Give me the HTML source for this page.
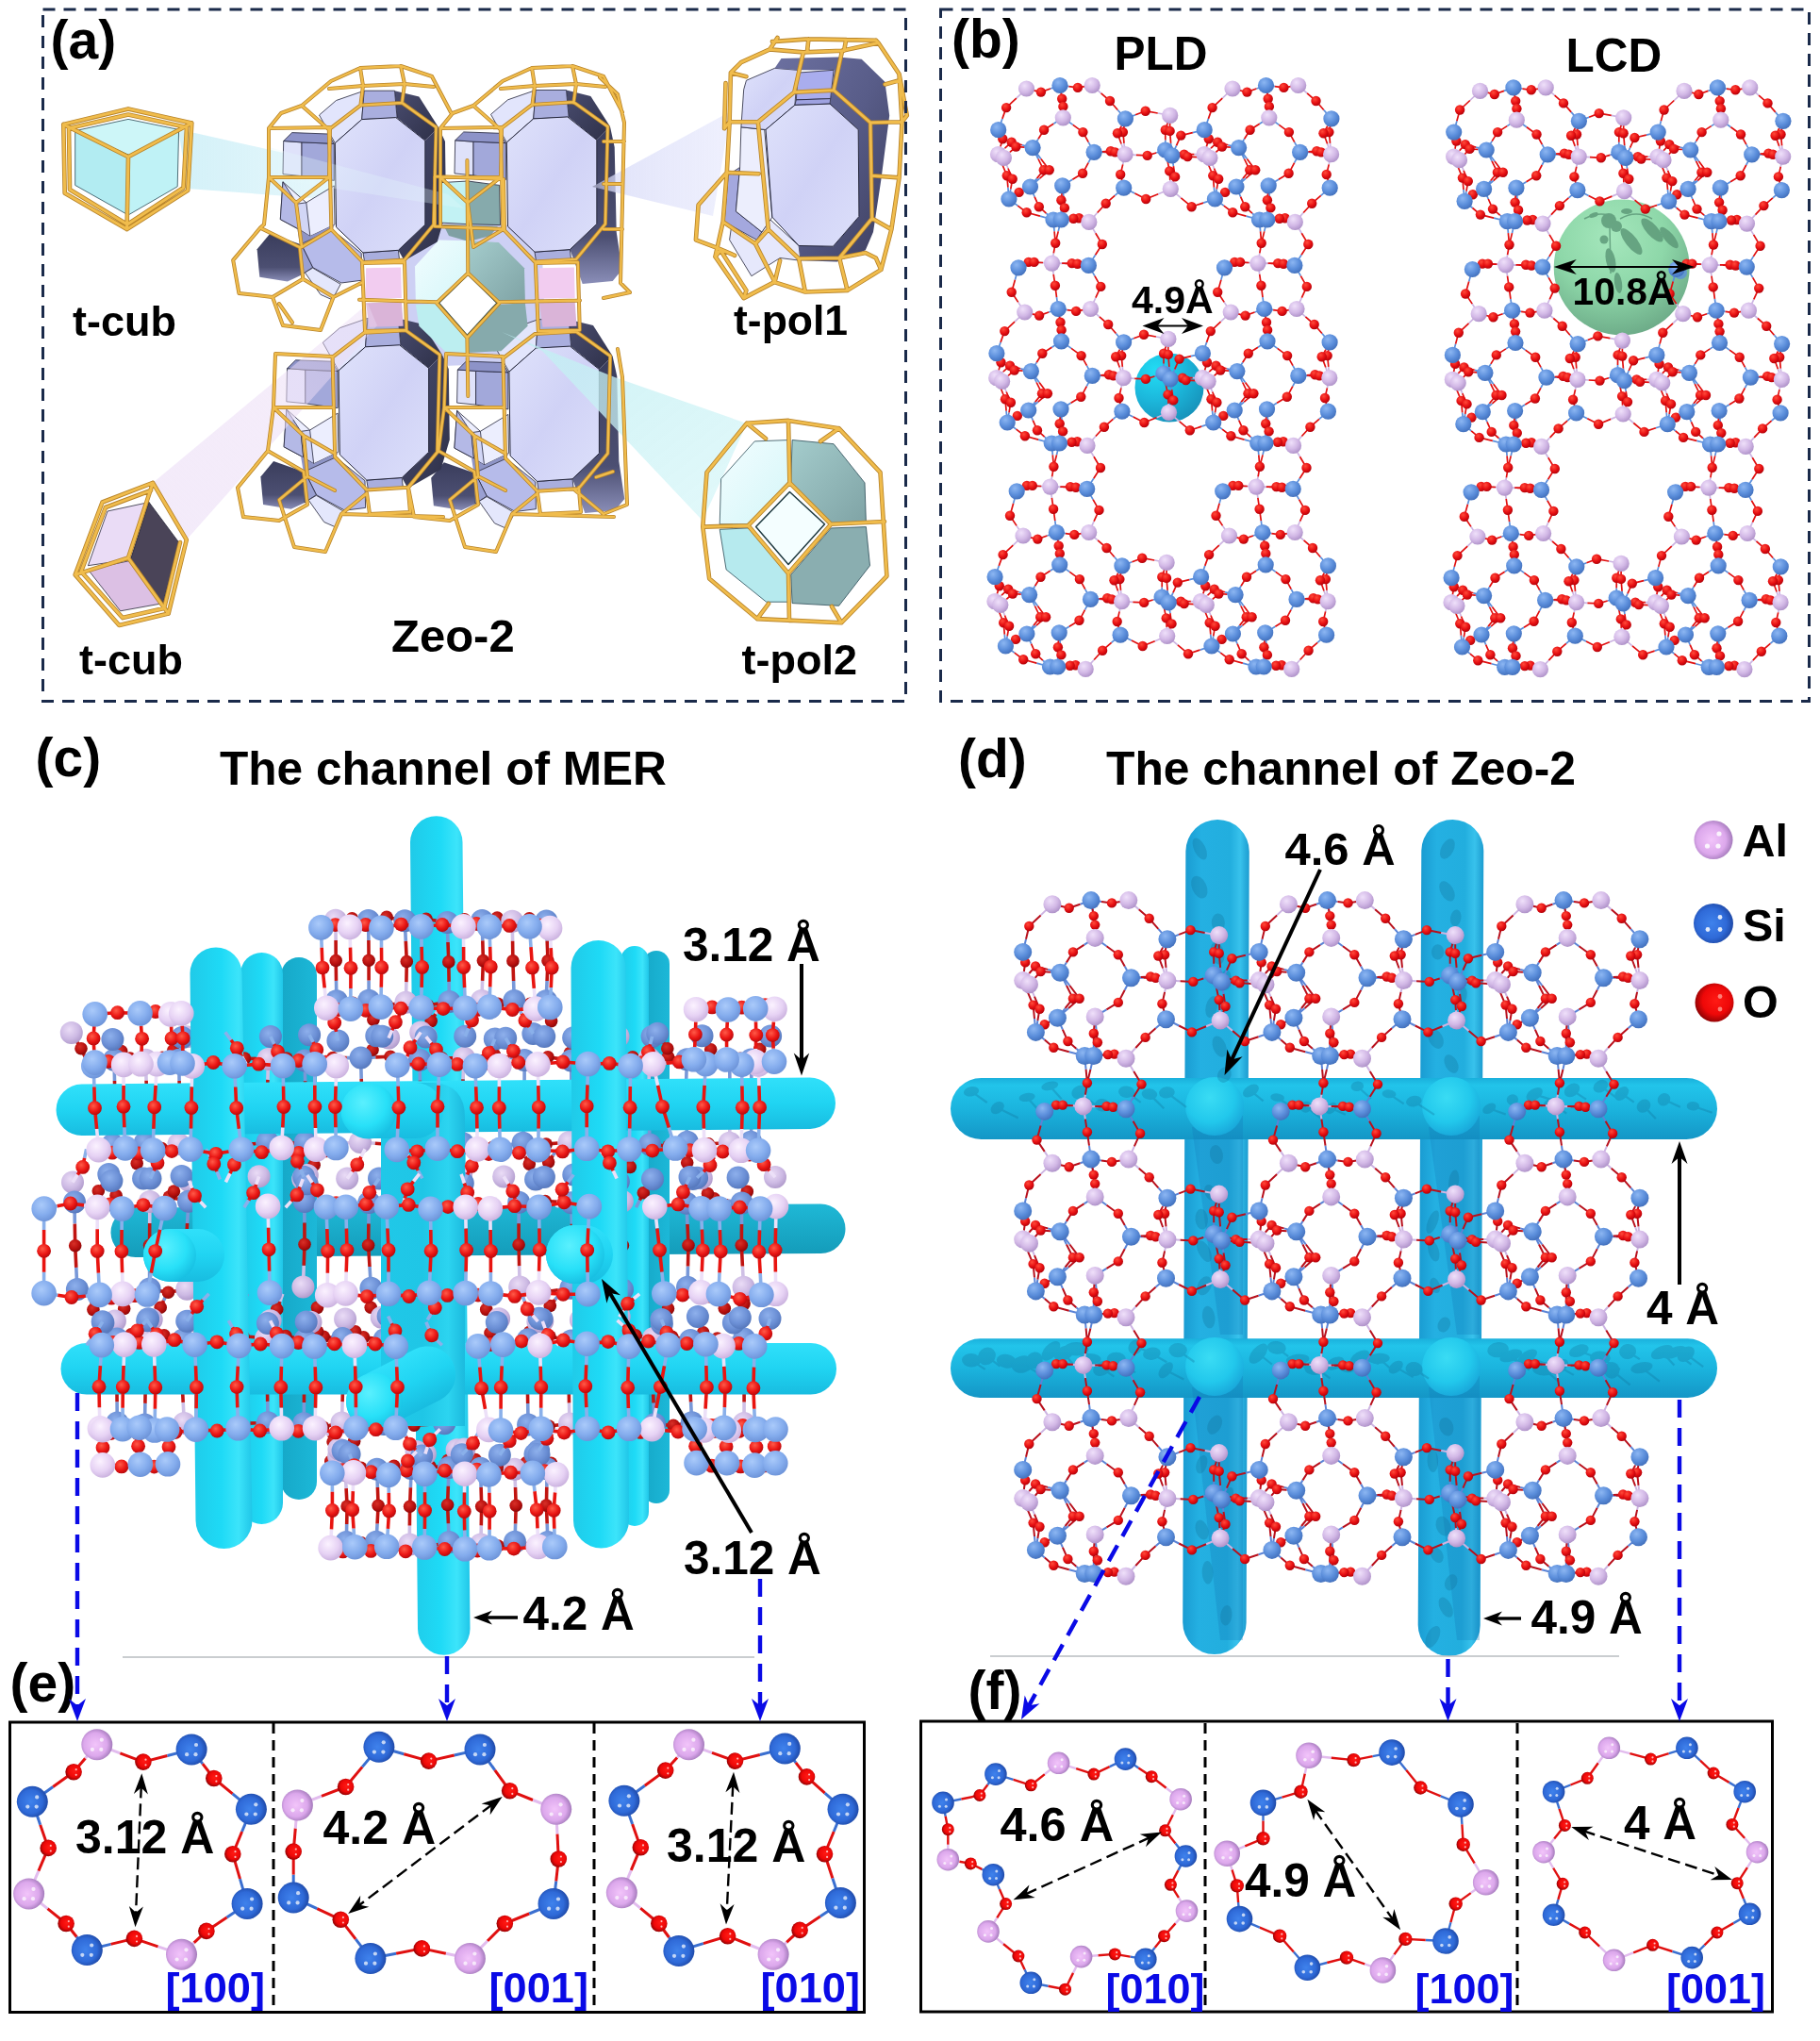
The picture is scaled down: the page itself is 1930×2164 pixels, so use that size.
<!DOCTYPE html>
<html><head><meta charset="utf-8"><title>Zeolite channels</title>
<style>html,body{margin:0;padding:0;background:#fff}svg{display:block}</style></head>
<body><svg width="1930" height="2164" viewBox="0 0 1930 2164" font-family="'Liberation Sans', sans-serif" font-weight="bold">
<defs>
<radialGradient id="gB" cx=".38" cy=".32" r=".75"><stop offset="0" stop-color="#8cb6f2"/><stop offset=".55" stop-color="#5b8edb"/><stop offset="1" stop-color="#3f6cb8"/></radialGradient>
<radialGradient id="gP" cx=".38" cy=".32" r=".75"><stop offset="0" stop-color="#efe0fa"/><stop offset=".55" stop-color="#d2b8e6"/><stop offset="1" stop-color="#a98cc4"/></radialGradient>
<radialGradient id="gO" cx=".38" cy=".32" r=".75"><stop offset="0" stop-color="#ff4a3a"/><stop offset=".55" stop-color="#e60f12"/><stop offset="1" stop-color="#a80008"/></radialGradient>
<radialGradient id="gB2" cx=".45" cy=".5" r=".62"><stop offset="0" stop-color="#3f82ec"/><stop offset=".6" stop-color="#2f6ad8"/><stop offset="1" stop-color="#183c94"/></radialGradient>
<radialGradient id="gP2" cx=".45" cy=".5" r=".62"><stop offset="0" stop-color="#f2c4fa"/><stop offset=".6" stop-color="#dca8ec"/><stop offset="1" stop-color="#8e68a8"/></radialGradient>
<radialGradient id="gO2" cx=".55" cy=".45" r=".65"><stop offset="0" stop-color="#ff1a14"/><stop offset=".55" stop-color="#ee0808"/><stop offset="1" stop-color="#6a0002"/></radialGradient>
<radialGradient id="gC" cx=".4" cy=".35" r=".75"><stop offset="0" stop-color="#aacafa"/><stop offset=".55" stop-color="#84aced"/><stop offset="1" stop-color="#668cd2"/></radialGradient>
<radialGradient id="gQ" cx=".4" cy=".35" r=".75"><stop offset="0" stop-color="#fbf2ff"/><stop offset=".55" stop-color="#e6d2f4"/><stop offset="1" stop-color="#c2a8d8"/></radialGradient>
<radialGradient id="gR" cx=".4" cy=".35" r=".75"><stop offset="0" stop-color="#ff5a48"/><stop offset=".55" stop-color="#ea1614"/><stop offset="1" stop-color="#a4060a"/></radialGradient>
<radialGradient id="gCb" cx=".4" cy=".35" r=".75"><stop offset="0" stop-color="#8eb0ec"/><stop offset=".55" stop-color="#6c90d6"/><stop offset="1" stop-color="#4f70b4"/></radialGradient>
<radialGradient id="gQb" cx=".4" cy=".35" r=".75"><stop offset="0" stop-color="#eadcf6"/><stop offset=".55" stop-color="#cdbae4"/><stop offset="1" stop-color="#a892c4"/></radialGradient>
<radialGradient id="gRb" cx=".4" cy=".35" r=".75"><stop offset="0" stop-color="#d83028"/><stop offset=".55" stop-color="#b8100e"/><stop offset="1" stop-color="#7a0406"/></radialGradient>
<linearGradient id="tH" x1="0" y1="0" x2="0" y2="1"><stop offset="0" stop-color="#1ab0dc"/><stop offset=".12" stop-color="#22c4ea"/><stop offset=".5" stop-color="#1bb4de"/><stop offset="1" stop-color="#1496c6"/></linearGradient>
<linearGradient id="tV" x1="0" y1="0" x2="1" y2="0"><stop offset="0" stop-color="#1a9cd2"/><stop offset=".25" stop-color="#24b0e2"/><stop offset=".7" stop-color="#22aede"/><stop offset=".86" stop-color="#38c2ec"/><stop offset="1" stop-color="#1c9cd0"/></linearGradient>
<linearGradient id="cH" x1="0" y1="0" x2="0" y2="1"><stop offset="0" stop-color="#30e0fa"/><stop offset=".5" stop-color="#20d4f2"/><stop offset="1" stop-color="#18bce0"/></linearGradient>
<linearGradient id="cHb" x1="0" y1="0" x2="0" y2="1"><stop offset="0" stop-color="#1fb8d6"/><stop offset="1" stop-color="#149cba"/></linearGradient>
<linearGradient id="cV" x1="0" y1="0" x2="1" y2="0"><stop offset="0" stop-color="#20cae8"/><stop offset=".5" stop-color="#1edaf6"/><stop offset=".78" stop-color="#3ce4fa"/><stop offset="1" stop-color="#20c6e8"/></linearGradient>
<linearGradient id="cVf" x1="0" y1="0" x2="1" y2="0"><stop offset="0" stop-color="#20c8e8"/><stop offset=".5" stop-color="#1fc6e6"/><stop offset=".8" stop-color="#2cd4f0"/><stop offset="1" stop-color="#1cbade"/></linearGradient>
<linearGradient id="cVb" x1="0" y1="0" x2="1" y2="0"><stop offset="0" stop-color="#16a8c8"/><stop offset="1" stop-color="#1cb8d8"/></linearGradient>
<radialGradient id="gCy" cx=".4" cy=".35" r=".7"><stop offset="0" stop-color="#5af0fe"/><stop offset=".6" stop-color="#28e0f8"/><stop offset="1" stop-color="#16bce0"/></radialGradient>
<radialGradient id="gCd" cx=".42" cy=".35" r=".7"><stop offset="0" stop-color="#3adcf4"/><stop offset=".6" stop-color="#22c8ec"/><stop offset="1" stop-color="#18a4d8"/></radialGradient>
<radialGradient id="gGr" cx=".42" cy=".28" r=".8"><stop offset="0" stop-color="#a2e6ba"/><stop offset=".5" stop-color="#8ad6a6"/><stop offset="1" stop-color="#62a07e"/></radialGradient>
<radialGradient id="gPl" cx=".3" cy=".25" r=".85"><stop offset="0" stop-color="#22dcf4"/><stop offset=".5" stop-color="#1cb8dc"/><stop offset="1" stop-color="#1690b8"/></radialGradient>
<marker id="ah" viewBox="0 0 10 10" refX="9" refY="5" markerWidth="7" markerHeight="7" orient="auto-start-reverse"><path d="M0,0 L10,5 L0,10 L3,5 z" fill="#000"/></marker>
</defs>

<circle cx="1240" cy="411" r="36.5" fill="url(#gPl)"/>
<path d="M1068.9 198.6L1069.9 211M1071.8 200.3L1069.9 211M1067.1 435.6L1068.2 448M1070 437.3L1068.2 448M1065.3 672.6L1066.4 685M1068.2 674.3L1066.4 685M1113.9 94L1124 90.5M1133.4 91.7L1124 90.5M1125.1 97.6L1124 90.5M1126.8 114.7L1127.3 124.8M1125.7 101.7L1124 90.5M1127.3 118.8L1127.3 124.8M1185.2 116.5L1193.4 125.9M1062.9 125.9L1058.7 137.7M1117.2 131.2L1127.3 124.8M1101.1 147.2L1095.1 156.6M1137.8 132.4L1127.3 124.8M1154.2 150.7L1160.1 161.4M1204.1 121.8L1193.4 125.9M1189.2 133.6L1193.4 125.9M1192.2 133L1193.4 125.9M1235.8 148.4L1235.7 159M1241.6 151.9L1242.7 164.9M1264.8 140.7L1277.2 137.7M1247.5 154.3L1242.7 164.9M1083.9 153.7L1095.1 156.6M1086.3 156.1L1095.1 156.6M1061 142.5L1058.7 137.7M1168.9 160.8L1160.1 161.4M1171.3 161.4L1160.1 161.4M1226.2 162L1235.7 159M1245.7 161.4L1235.7 159M1251 165.5L1242.7 164.9M1101 168.5L1095.1 156.6M1099.6 189.1L1092.5 198M1103.9 168.5L1095.1 156.6M1102.6 189.1L1092.5 198M1154.1 172.6L1160.1 161.4M1137.4 190.3L1126.7 196.8M1190 192.1L1191.7 199.2M1238 170.2L1235.7 159M1244.4 176.1L1242.7 164.9M1287.4 198.6L1288.4 211M1290.3 200.3L1288.4 211M1097.1 208.6L1092.5 198M1109.4 226.1L1117 233M1126.1 204.5L1126.7 196.8M1125.4 222.6L1125.3 233M1127.8 208.6L1126.7 196.8M1127.1 226.7L1125.3 233M1182.2 207.4L1191.7 199.2M1203.4 205.1L1191.7 199.2M1276 215.1L1288.4 211M1079.3 218.1L1069.9 211M1102.9 229.1L1117 233M1086.5 200.9L1092.5 198M1075.3 207.4L1069.9 211M1118.1 245.4L1117 233M1122.2 245.4L1125.3 233M1161.6 270.2L1154.4 281.4M1131.8 232.4L1125.3 233M1134.7 232.2L1125.3 233M1145.6 280.2L1154.4 281.4M1148.5 280.6L1154.4 281.4M1085.4 280.8L1080 283.8M1088.3 280.8L1080 283.8M1120.5 315.1L1122.2 327.5M1160.9 292.7L1154.4 281.4M1076.4 296.8L1080 283.8M1112.1 331L1122.2 327.5M1131.6 328.7L1122.2 327.5M1123.3 334.6L1122.2 327.5M1125 351.7L1125.5 361.8M1123.9 338.7L1122.2 327.5M1125.5 355.8L1125.5 361.8M1183.4 353.5L1191.6 362.9M1061.1 362.9L1056.9 374.7M1115.4 368.2L1125.5 361.8M1099.3 384.2L1093.4 393.6M1136.1 369.4L1125.5 361.8M1152.5 387.7L1158.3 398.4M1202.3 358.8L1191.6 362.9M1187.4 370.6L1191.6 362.9M1190.4 370L1191.6 362.9M1234 385.4L1233.9 396M1239.9 388.9L1241 401.9M1263 377.7L1275.4 374.7M1245.8 391.3L1241 401.9M1082.2 390.7L1093.4 393.6M1084.5 393.1L1093.4 393.6M1059.2 379.5L1056.9 374.7M1167.2 397.8L1158.3 398.4M1169.5 398.4L1158.3 398.4M1224.4 399L1233.9 396M1243.9 398.4L1233.9 396M1249.2 402.5L1241 401.9M1099.2 405.5L1093.4 393.6M1097.8 426.1L1090.7 435M1102.1 405.5L1093.4 393.6M1100.8 426.1L1090.7 435M1152.3 409.6L1158.3 398.4M1135.6 427.3L1125 433.8M1188.2 429.1L1189.9 436.2M1236.2 407.2L1233.9 396M1242.6 413.1L1241 401.9M1285.6 435.6L1286.7 448M1288.5 437.3L1286.7 448M1095.3 445.6L1090.7 435M1107.6 463.1L1115.2 470M1124.3 441.5L1125 433.8M1123.6 459.6L1123.5 470M1126 445.6L1125 433.8M1125.3 463.7L1123.5 470M1180.4 444.4L1189.9 436.2M1201.7 442.1L1189.9 436.2M1274.2 452.1L1286.7 448M1077.6 455.1L1068.2 448M1101.1 466.1L1115.2 470M1084.8 437.9L1090.7 435M1073.5 444.4L1068.2 448M1116.3 482.4L1115.2 470M1120.5 482.4L1123.5 470M1159.8 507.2L1152.7 518.4M1130 469.4L1123.5 470M1133 469.2L1123.5 470M1143.8 517.2L1152.7 518.4M1146.8 517.6L1152.7 518.4M1083.6 517.8L1078.2 520.8M1086.5 517.8L1078.2 520.8M1118.8 552.1L1120.4 564.5M1159.1 529.7L1152.7 518.4M1074.6 533.8L1078.2 520.8M1110.4 568L1120.4 564.5M1129.9 565.7L1120.4 564.5M1121.6 571.6L1120.4 564.5M1123.2 588.7L1123.7 598.8M1122.1 575.7L1120.4 564.5M1123.8 592.8L1123.7 598.8M1181.7 590.5L1189.9 599.9M1059.3 599.9L1055.1 611.7M1113.6 605.2L1123.7 598.8M1097.6 621.2L1091.6 630.6M1134.3 606.4L1123.7 598.8M1150.7 624.7L1156.5 635.4M1200.5 595.8L1189.9 599.9M1185.7 607.6L1189.9 599.9M1188.6 607L1189.9 599.9M1232.2 622.4L1232.1 633M1238.1 625.9L1239.2 638.9M1261.2 614.7L1273.6 611.7M1244 628.3L1239.2 638.9M1080.4 627.7L1091.6 630.6M1082.7 630.1L1091.6 630.6M1057.4 616.5L1055.1 611.7M1165.4 634.8L1156.5 635.4M1167.7 635.4L1156.5 635.4M1222.7 636L1232.1 633M1242.2 635.4L1232.1 633M1247.4 639.5L1239.2 638.9M1097.4 642.5L1091.6 630.6M1096.1 663.1L1088.9 672M1100.4 642.5L1091.6 630.6M1099 663.1L1088.9 672M1150.5 646.6L1156.5 635.4M1133.9 664.3L1123.2 670.8M1186.4 666.1L1188.1 673.2M1234.4 644.2L1232.1 633M1240.9 650.1L1239.2 638.9M1283.8 672.6L1284.9 685M1286.7 674.3L1284.9 685M1093.6 682.6L1088.9 672M1105.8 700.1L1113.5 707M1122.5 678.5L1123.2 670.8M1121.8 696.6L1121.7 707M1124.3 682.6L1123.2 670.8M1123.5 700.7L1121.7 707M1178.6 681.4L1188.1 673.2M1199.9 679.1L1188.1 673.2M1272.5 689.1L1284.9 685M1075.8 692.1L1066.4 685M1099.3 703.1L1113.5 707M1083 674.9L1088.9 672M1071.7 681.4L1066.4 685M1128.2 706.4L1121.7 707M1131.2 706.2L1121.7 707M1332.4 94L1342.5 90.5M1351.9 91.7L1342.5 90.5M1343.6 97.6L1342.5 90.5M1345.3 114.7L1345.8 124.8M1344.2 101.7L1342.5 90.5M1345.8 118.8L1345.8 124.8M1403.7 116.5L1411.9 125.9M1281.4 125.9L1277.2 137.7M1335.7 131.2L1345.8 124.8M1319.6 147.2L1313.6 156.6M1356.3 132.4L1345.8 124.8M1372.7 150.7L1378.6 161.4M1407.7 133.6L1411.9 125.9M1410.7 133L1411.9 125.9M1302.4 153.7L1313.6 156.6M1304.8 156.1L1313.6 156.6M1279.5 142.5L1277.2 137.7M1387.4 160.8L1378.6 161.4M1389.8 161.4L1378.6 161.4M1319.5 168.5L1313.6 156.6M1318.1 189.1L1311 198M1322.4 168.5L1313.6 156.6M1321.1 189.1L1311 198M1372.6 172.6L1378.6 161.4M1355.9 190.3L1345.2 196.8M1408.5 192.1L1410.2 199.2M1315.6 208.6L1311 198M1327.9 226.1L1335.5 233M1344.6 204.5L1345.2 196.8M1343.9 222.6L1343.8 233M1346.3 208.6L1345.2 196.8M1345.6 226.7L1343.8 233M1400.7 207.4L1410.2 199.2M1297.8 218.1L1288.4 211M1321.4 229.1L1335.5 233M1305 200.9L1311 198M1293.8 207.4L1288.4 211M1336.6 245.4L1335.5 233M1340.7 245.4L1343.8 233M1380.1 270.2L1372.9 281.4M1350.3 232.4L1343.8 233M1353.2 232.2L1343.8 233M1364.1 280.2L1372.9 281.4M1367 280.6L1372.9 281.4M1303.9 280.8L1298.5 283.8M1306.8 280.8L1298.5 283.8M1339 315.1L1340.7 327.5M1379.4 292.7L1372.9 281.4M1294.9 296.8L1298.5 283.8M1330.6 331L1340.7 327.5M1350.1 328.7L1340.7 327.5M1341.8 334.6L1340.7 327.5M1343.5 351.7L1344 361.8M1342.4 338.7L1340.7 327.5M1344 355.8L1344 361.8M1401.9 353.5L1410.1 362.9M1279.6 362.9L1275.4 374.7M1333.9 368.2L1344 361.8M1317.8 384.2L1311.9 393.6M1354.6 369.4L1344 361.8M1371 387.7L1376.8 398.4M1405.9 370.6L1410.1 362.9M1408.9 370L1410.1 362.9M1300.7 390.7L1311.9 393.6M1303 393.1L1311.9 393.6M1277.7 379.5L1275.4 374.7M1385.7 397.8L1376.8 398.4M1388 398.4L1376.8 398.4M1317.7 405.5L1311.9 393.6M1316.3 426.1L1309.2 435M1320.6 405.5L1311.9 393.6M1319.3 426.1L1309.2 435M1370.8 409.6L1376.8 398.4M1354.1 427.3L1343.5 433.8M1406.7 429.1L1408.4 436.2M1313.8 445.6L1309.2 435M1326.1 463.1L1333.7 470M1342.8 441.5L1343.5 433.8M1342.1 459.6L1342 470M1344.5 445.6L1343.5 433.8M1343.8 463.7L1342 470M1398.9 444.4L1408.4 436.2M1296.1 455.1L1286.7 448M1319.6 466.1L1333.7 470M1303.3 437.9L1309.2 435M1292 444.4L1286.7 448M1334.8 482.4L1333.7 470M1339 482.4L1342 470M1378.3 507.2L1371.2 518.4M1348.5 469.4L1342 470M1351.5 469.2L1342 470M1362.3 517.2L1371.2 518.4M1365.3 517.6L1371.2 518.4M1302.1 517.8L1296.7 520.8M1305 517.8L1296.7 520.8M1337.3 552.1L1338.9 564.5M1377.6 529.7L1371.2 518.4M1293.1 533.8L1296.7 520.8M1328.9 568L1338.9 564.5M1348.4 565.7L1338.9 564.5M1340.1 571.6L1338.9 564.5M1341.7 588.7L1342.2 598.8M1340.6 575.7L1338.9 564.5M1342.3 592.8L1342.2 598.8M1400.2 590.5L1408.4 599.9M1277.8 599.9L1273.6 611.7M1332.1 605.2L1342.2 598.8M1316.1 621.2L1310.1 630.6M1352.8 606.4L1342.2 598.8M1369.2 624.7L1375 635.4M1404.2 607.6L1408.4 599.9M1407.1 607L1408.4 599.9M1298.9 627.7L1310.1 630.6M1301.2 630.1L1310.1 630.6M1275.9 616.5L1273.6 611.7M1383.9 634.8L1375 635.4M1386.2 635.4L1375 635.4M1315.9 642.5L1310.1 630.6M1314.6 663.1L1307.4 672M1318.9 642.5L1310.1 630.6M1317.5 663.1L1307.4 672M1369 646.6L1375 635.4M1352.4 664.3L1341.7 670.8M1404.9 666.1L1406.6 673.2M1312.1 682.6L1307.4 672M1324.3 700.1L1332 707M1341 678.5L1341.7 670.8M1340.3 696.6L1340.2 707M1342.8 682.6L1341.7 670.8M1342 700.7L1340.2 707M1397.1 681.4L1406.6 673.2M1294.3 692.1L1284.9 685M1317.8 703.1L1332 707M1301.5 674.9L1307.4 672M1290.2 681.4L1284.9 685M1346.7 706.4L1340.2 707M1349.7 706.2L1340.2 707" stroke="#5b8edb" stroke-width="1.7" fill="none"/>
<path d="M1063.1 175L1058.5 163.7M1069 178.5L1064.4 167.3M1061.4 412L1056.7 400.7M1067.2 415.5L1062.6 404.3M1059.6 649L1054.9 637.7M1065.5 652.5L1060.8 641.3M1096.2 95.8L1088.5 94M1150.6 91.7L1158.2 90.5M1167.6 98.8L1158.2 90.5M1077.8 104.1L1088.5 94M1227.7 120L1240.7 122.4M1189.1 152.5L1193.1 163.7M1192 151.9L1193.1 163.7M1238.3 130.1L1240.7 122.4M1240.6 130.7L1240.7 122.4M1065.6 157.2L1058.5 163.7M1070.9 161.4L1064.4 167.3M1060.9 155.5L1058.5 163.7M1185.5 162L1193.1 163.7M1187.8 162.5L1193.1 163.7M1204.9 164.3L1193.1 163.7M1266.4 163.7L1277 163.7M1271.1 166.7L1282.9 167.3M1190.7 174.4L1193.1 163.7M1240.8 190.9L1241.3 200.3M1243.7 193.9L1241.3 200.3M1281.6 175L1277 163.7M1287.5 178.5L1282.9 167.3M1163.7 225.5L1154.8 235.4M1228.2 205.7L1241.3 200.3M1252.4 209.8L1241.3 200.3M1117.3 268.4L1115.5 279.1M1161.8 247.2L1154.8 235.4M1146.5 233.6L1154.8 235.4M1149.5 233.4L1154.8 235.4M1126.1 279.1L1115.5 279.1M1129.1 279.4L1115.5 279.1M1103.1 278.5L1115.5 279.1M1106 278.5L1115.5 279.1M1117.2 290.9L1115.5 279.1M1161.9 315.7L1156.5 327.5M1079.7 320.4L1086.7 331M1094.4 332.8L1086.7 331M1148.8 328.7L1156.5 327.5M1165.9 335.8L1156.5 327.5M1076 341.1L1086.7 331M1225.9 357L1238.9 359.4M1187.3 389.5L1191.3 400.7M1190.3 388.9L1191.3 400.7M1236.5 367.1L1238.9 359.4M1238.8 367.7L1238.9 359.4M1063.8 394.2L1056.7 400.7M1069.1 398.4L1062.6 404.3M1059.1 392.5L1056.7 400.7M1183.7 399L1191.3 400.7M1186 399.5L1191.3 400.7M1203.2 401.3L1191.3 400.7M1264.6 400.7L1275.2 400.7M1269.3 403.7L1281.1 404.3M1188.9 411.4L1191.3 400.7M1239 427.9L1239.5 437.3M1241.9 430.9L1239.5 437.3M1279.9 412L1275.2 400.7M1285.7 415.5L1281.1 404.3M1161.9 462.5L1153 472.4M1226.5 442.7L1239.5 437.3M1250.7 446.8L1239.5 437.3M1115.6 505.4L1113.7 516.1M1160 484.2L1153 472.4M1144.8 470.6L1153 472.4M1147.7 470.4L1153 472.4M1124.3 516.1L1113.7 516.1M1127.3 516.4L1113.7 516.1M1101.3 515.5L1113.7 516.1M1104.3 515.5L1113.7 516.1M1115.4 527.9L1113.7 516.1M1160.1 552.7L1154.7 564.5M1078 557.4L1085 568M1092.6 569.8L1085 568M1147 565.7L1154.7 564.5M1164.1 572.8L1154.7 564.5M1074.3 578.1L1085 568M1224.2 594L1237.1 596.4M1185.5 626.5L1189.6 637.7M1188.5 625.9L1189.6 637.7M1234.7 604.1L1237.1 596.4M1237.1 604.7L1237.1 596.4M1062.1 631.2L1054.9 637.7M1067.3 635.4L1060.8 641.3M1057.4 629.5L1054.9 637.7M1181.9 636L1189.6 637.7M1184.3 636.5L1189.6 637.7M1201.4 638.3L1189.6 637.7M1262.8 637.7L1273.4 637.7M1267.5 640.7L1279.3 641.3M1187.1 648.4L1189.6 637.7M1237.2 664.9L1237.7 674.3M1240.1 667.9L1237.7 674.3M1278.1 649L1273.4 637.7M1284 652.5L1279.3 641.3M1160.2 699.5L1151.2 709.4M1224.7 679.7L1237.7 674.3M1248.9 683.8L1237.7 674.3M1143 707.6L1151.2 709.4M1145.9 707.4L1151.2 709.4M1314.7 95.8L1307 94M1369.1 91.7L1376.7 90.5M1386.1 98.8L1376.7 90.5M1296.3 104.1L1307 94M1407.6 152.5L1411.6 163.7M1410.5 151.9L1411.6 163.7M1284.1 157.2L1277 163.7M1289.4 161.4L1282.9 167.3M1279.4 155.5L1277 163.7M1404 162L1411.6 163.7M1406.3 162.5L1411.6 163.7M1409.2 174.4L1411.6 163.7M1382.2 225.5L1373.3 235.4M1335.8 268.4L1334 279.1M1380.3 247.2L1373.3 235.4M1365 233.6L1373.3 235.4M1368 233.4L1373.3 235.4M1344.6 279.1L1334 279.1M1347.6 279.4L1334 279.1M1321.6 278.5L1334 279.1M1324.5 278.5L1334 279.1M1335.7 290.9L1334 279.1M1380.4 315.7L1375 327.5M1298.2 320.4L1305.2 331M1312.9 332.8L1305.2 331M1367.3 328.7L1375 327.5M1384.4 335.8L1375 327.5M1294.5 341.1L1305.2 331M1405.8 389.5L1409.8 400.7M1408.8 388.9L1409.8 400.7M1282.3 394.2L1275.2 400.7M1287.6 398.4L1281.1 404.3M1277.6 392.5L1275.2 400.7M1402.2 399L1409.8 400.7M1404.5 399.5L1409.8 400.7M1407.4 411.4L1409.8 400.7M1380.4 462.5L1371.5 472.4M1334.1 505.4L1332.2 516.1M1378.5 484.2L1371.5 472.4M1363.3 470.6L1371.5 472.4M1366.2 470.4L1371.5 472.4M1342.8 516.1L1332.2 516.1M1345.8 516.4L1332.2 516.1M1319.8 515.5L1332.2 516.1M1322.8 515.5L1332.2 516.1M1333.9 527.9L1332.2 516.1M1378.6 552.7L1373.2 564.5M1296.5 557.4L1303.5 568M1311.1 569.8L1303.5 568M1365.5 565.7L1373.2 564.5M1382.6 572.8L1373.2 564.5M1292.8 578.1L1303.5 568M1404 626.5L1408.1 637.7M1407 625.9L1408.1 637.7M1280.6 631.2L1273.4 637.7M1285.8 635.4L1279.3 641.3M1275.9 629.5L1273.4 637.7M1400.4 636L1408.1 637.7M1402.8 636.5L1408.1 637.7M1405.6 648.4L1408.1 637.7M1378.7 699.5L1369.7 709.4M1361.5 707.6L1369.7 709.4M1364.4 707.4L1369.7 709.4" stroke="#cdb4e2" stroke-width="1.7" fill="none"/>
<path d="M1067.8 186.2L1063.1 175M1067.8 186.2L1068.9 198.6M1073.7 189.7L1069 178.5M1073.7 189.7L1071.8 200.3M1066 423.2L1061.4 412M1066 423.2L1067.1 435.6M1071.9 426.7L1067.2 415.5M1071.9 426.7L1070 437.3M1064.2 660.2L1059.6 649M1064.2 660.2L1065.3 672.6M1070.1 663.7L1065.5 652.5M1070.1 663.7L1068.2 674.3M1103.9 97.6L1096.2 95.8M1103.9 97.6L1113.9 94M1142.9 92.9L1133.4 91.7M1142.9 92.9L1150.6 91.7M1126.2 104.7L1125.1 97.6M1126.2 104.7L1126.8 114.7M1127.4 112.9L1125.7 101.7M1127.4 112.9L1127.3 118.8M1177 107L1167.6 98.8M1177 107L1185.2 116.5M1067.1 114.1L1077.8 104.1M1067.1 114.1L1062.9 125.9M1107.1 137.7L1117.2 131.2M1107.1 137.7L1101.1 147.2M1148.4 140.1L1137.8 132.4M1148.4 140.1L1154.2 150.7M1214.7 117.7L1204.1 121.8M1214.7 117.7L1227.7 120M1185 141.3L1189.2 133.6M1185 141.3L1189.1 152.5M1190.9 140.1L1192.2 133M1190.9 140.1L1192 151.9M1235.8 137.7L1238.3 130.1M1235.8 137.7L1235.8 148.4M1240.6 138.9L1240.6 130.7M1240.6 138.9L1241.6 151.9M1252.3 143.6L1264.8 140.7M1252.3 143.6L1247.5 154.3M1072.7 150.7L1083.9 153.7M1072.7 150.7L1065.6 157.2M1077.4 155.5L1086.3 156.1M1077.4 155.5L1070.9 161.4M1063.3 147.2L1061 142.5M1063.3 147.2L1060.9 155.5M1177.8 160.2L1168.9 160.8M1177.8 160.2L1185.5 162M1182.5 161.4L1171.3 161.4M1182.5 161.4L1187.8 162.5M1216.7 164.9L1204.9 164.3M1216.7 164.9L1226.2 162M1255.7 163.7L1245.7 161.4M1255.7 163.7L1266.4 163.7M1259.3 166.1L1251 165.5M1259.3 166.1L1271.1 166.7M1106.8 180.3L1101 168.5M1106.8 180.3L1099.6 189.1M1112.7 180.3L1103.9 168.5M1112.7 180.3L1102.6 189.1M1148.1 183.8L1154.1 172.6M1148.1 183.8L1137.4 190.3M1188.2 185L1190.7 174.4M1188.2 185L1190 192.1M1240.2 181.4L1238 170.2M1240.2 181.4L1240.8 190.9M1246.1 187.4L1244.4 176.1M1246.1 187.4L1243.7 193.9M1286.3 186.2L1281.6 175M1286.3 186.2L1287.4 198.6M1292.2 189.7L1287.5 178.5M1292.2 189.7L1290.3 200.3M1101.8 219.2L1097.1 208.6M1101.8 219.2L1109.4 226.1M1125.4 212.2L1126.1 204.5M1125.4 212.2L1125.4 222.6M1128.9 220.4L1127.8 208.6M1128.9 220.4L1127.1 226.7M1172.7 215.7L1182.2 207.4M1172.7 215.7L1163.7 225.5M1215.2 211L1203.4 205.1M1215.2 211L1228.2 205.7M1263.6 219.2L1252.4 209.8M1263.6 219.2L1276 215.1M1088.7 225.2L1079.3 218.1M1088.7 225.2L1102.9 229.1M1080.6 203.9L1086.5 200.9M1080.6 203.9L1075.3 207.4M1119.2 257.8L1118.1 245.4M1119.2 257.8L1122.2 245.4M1119.2 257.8L1117.3 268.4M1168.8 259L1161.8 247.2M1168.8 259L1161.6 270.2M1138.3 231.8L1131.8 232.4M1138.3 231.8L1146.5 233.6M1144.2 231.3L1134.7 232.2M1144.2 231.3L1149.5 233.4M1136.7 279.1L1126.1 279.1M1136.7 279.1L1145.6 280.2M1142.6 279.8L1129.1 279.4M1142.6 279.8L1148.5 280.6M1090.7 277.9L1103.1 278.5M1090.7 277.9L1085.4 280.8M1096.6 277.9L1106 278.5M1096.6 277.9L1088.3 280.8M1118.9 302.7L1117.2 290.9M1118.9 302.7L1120.5 315.1M1167.3 303.9L1160.9 292.7M1167.3 303.9L1161.9 315.7M1072.7 309.8L1076.4 296.8M1072.7 309.8L1079.7 320.4M1102.1 334.6L1094.4 332.8M1102.1 334.6L1112.1 331M1141.1 329.9L1131.6 328.7M1141.1 329.9L1148.8 328.7M1124.5 341.7L1123.3 334.6M1124.5 341.7L1125 351.7M1125.6 349.9L1123.9 338.7M1125.6 349.9L1125.5 355.8M1175.2 344L1165.9 335.8M1175.2 344L1183.4 353.5M1065.3 351.1L1076 341.1M1065.3 351.1L1061.1 362.9M1105.3 374.7L1115.4 368.2M1105.3 374.7L1099.3 384.2M1146.6 377.1L1136.1 369.4M1146.6 377.1L1152.5 387.7M1213 354.7L1202.3 358.8M1213 354.7L1225.9 357M1183.2 378.3L1187.4 370.6M1183.2 378.3L1187.3 389.5M1189.2 377.1L1190.4 370M1189.2 377.1L1190.3 388.9M1234.1 374.7L1236.5 367.1M1234.1 374.7L1234 385.4M1238.8 375.9L1238.8 367.7M1238.8 375.9L1239.9 388.9M1250.6 380.6L1263 377.7M1250.6 380.6L1245.8 391.3M1071 387.7L1082.2 390.7M1071 387.7L1063.8 394.2M1075.7 392.5L1084.5 393.1M1075.7 392.5L1069.1 398.4M1061.5 384.2L1059.2 379.5M1061.5 384.2L1059.1 392.5M1176 397.2L1167.2 397.8M1176 397.2L1183.7 399M1180.7 398.4L1169.5 398.4M1180.7 398.4L1186 399.5M1215 401.9L1203.2 401.3M1215 401.9L1224.4 399M1254 400.7L1243.9 398.4M1254 400.7L1264.6 400.7M1257.5 403.1L1249.2 402.5M1257.5 403.1L1269.3 403.7M1105 417.3L1099.2 405.5M1105 417.3L1097.8 426.1M1110.9 417.3L1102.1 405.5M1110.9 417.3L1100.8 426.1M1146.3 420.8L1152.3 409.6M1146.3 420.8L1135.6 427.3M1186.5 422L1188.9 411.4M1186.5 422L1188.2 429.1M1238.5 418.4L1236.2 407.2M1238.5 418.4L1239 427.9M1244.3 424.4L1242.6 413.1M1244.3 424.4L1241.9 430.9M1284.5 423.2L1279.9 412M1284.5 423.2L1285.6 435.6M1290.4 426.7L1285.7 415.5M1290.4 426.7L1288.5 437.3M1100 456.2L1095.3 445.6M1100 456.2L1107.6 463.1M1123.7 449.2L1124.3 441.5M1123.7 449.2L1123.6 459.6M1127.1 457.4L1126 445.6M1127.1 457.4L1125.3 463.7M1170.9 452.7L1180.4 444.4M1170.9 452.7L1161.9 462.5M1213.4 448L1201.7 442.1M1213.4 448L1226.5 442.7M1261.8 456.2L1250.7 446.8M1261.8 456.2L1274.2 452.1M1086.9 462.2L1077.6 455.1M1086.9 462.2L1101.1 466.1M1078.8 440.9L1084.8 437.9M1078.8 440.9L1073.5 444.4M1117.4 494.8L1116.3 482.4M1117.4 494.8L1120.5 482.4M1117.4 494.8L1115.6 505.4M1167 496L1160 484.2M1167 496L1159.8 507.2M1136.5 468.8L1130 469.4M1136.5 468.8L1144.8 470.6M1142.4 468.3L1133 469.2M1142.4 468.3L1147.7 470.4M1135 516.1L1124.3 516.1M1135 516.1L1143.8 517.2M1140.9 516.8L1127.3 516.4M1140.9 516.8L1146.8 517.6M1088.9 514.9L1101.3 515.5M1088.9 514.9L1083.6 517.8M1094.8 514.9L1104.3 515.5M1094.8 514.9L1086.5 517.8M1117.1 539.7L1115.4 527.9M1117.1 539.7L1118.8 552.1M1165.5 540.9L1159.1 529.7M1165.5 540.9L1160.1 552.7M1071 546.8L1074.6 533.8M1071 546.8L1078 557.4M1100.3 571.6L1092.6 569.8M1100.3 571.6L1110.4 568M1139.3 566.9L1129.9 565.7M1139.3 566.9L1147 565.7M1122.7 578.7L1121.6 571.6M1122.7 578.7L1123.2 588.7M1123.8 586.9L1122.1 575.7M1123.8 586.9L1123.8 592.8M1173.5 581L1164.1 572.8M1173.5 581L1181.7 590.5M1063.6 588.1L1074.3 578.1M1063.6 588.1L1059.3 599.9M1103.5 611.7L1113.6 605.2M1103.5 611.7L1097.6 621.2M1144.9 614.1L1134.3 606.4M1144.9 614.1L1150.7 624.7M1211.2 591.7L1200.5 595.8M1211.2 591.7L1224.2 594M1181.5 615.3L1185.7 607.6M1181.5 615.3L1185.5 626.5M1187.4 614.1L1188.6 607M1187.4 614.1L1188.5 625.9M1232.3 611.7L1234.7 604.1M1232.3 611.7L1232.2 622.4M1237 612.9L1237.1 604.7M1237 612.9L1238.1 625.9M1248.8 617.6L1261.2 614.7M1248.8 617.6L1244 628.3M1069.2 624.7L1080.4 627.7M1069.2 624.7L1062.1 631.2M1073.9 629.5L1082.7 630.1M1073.9 629.5L1067.3 635.4M1059.8 621.2L1057.4 616.5M1059.8 621.2L1057.4 629.5M1174.2 634.2L1165.4 634.8M1174.2 634.2L1181.9 636M1179 635.4L1167.7 635.4M1179 635.4L1184.3 636.5M1213.2 638.9L1201.4 638.3M1213.2 638.9L1222.7 636M1252.2 637.7L1242.2 635.4M1252.2 637.7L1262.8 637.7M1255.7 640.1L1247.4 639.5M1255.7 640.1L1267.5 640.7M1103.2 654.3L1097.4 642.5M1103.2 654.3L1096.1 663.1M1109.1 654.3L1100.4 642.5M1109.1 654.3L1099 663.1M1144.5 657.8L1150.5 646.6M1144.5 657.8L1133.9 664.3M1184.7 659L1187.1 648.4M1184.7 659L1186.4 666.1M1236.7 655.4L1234.4 644.2M1236.7 655.4L1237.2 664.9M1242.5 661.4L1240.9 650.1M1242.5 661.4L1240.1 667.9M1282.7 660.2L1278.1 649M1282.7 660.2L1283.8 672.6M1288.6 663.7L1284 652.5M1288.6 663.7L1286.7 674.3M1098.2 693.2L1093.6 682.6M1098.2 693.2L1105.8 700.1M1121.9 686.2L1122.5 678.5M1121.9 686.2L1121.8 696.6M1125.4 694.4L1124.3 682.6M1125.4 694.4L1123.5 700.7M1169.1 689.7L1178.6 681.4M1169.1 689.7L1160.2 699.5M1211.7 685L1199.9 679.1M1211.7 685L1224.7 679.7M1260 693.2L1248.9 683.8M1260 693.2L1272.5 689.1M1085.2 699.2L1075.8 692.1M1085.2 699.2L1099.3 703.1M1077.1 677.9L1083 674.9M1077.1 677.9L1071.7 681.4M1134.7 705.8L1128.2 706.4M1134.7 705.8L1143 707.6M1140.6 705.3L1131.2 706.2M1140.6 705.3L1145.9 707.4M1322.4 97.6L1314.7 95.8M1322.4 97.6L1332.4 94M1361.4 92.9L1351.9 91.7M1361.4 92.9L1369.1 91.7M1344.7 104.7L1343.6 97.6M1344.7 104.7L1345.3 114.7M1345.9 112.9L1344.2 101.7M1345.9 112.9L1345.8 118.8M1395.5 107L1386.1 98.8M1395.5 107L1403.7 116.5M1285.6 114.1L1296.3 104.1M1285.6 114.1L1281.4 125.9M1325.6 137.7L1335.7 131.2M1325.6 137.7L1319.6 147.2M1366.9 140.1L1356.3 132.4M1366.9 140.1L1372.7 150.7M1403.5 141.3L1407.7 133.6M1403.5 141.3L1407.6 152.5M1409.4 140.1L1410.7 133M1409.4 140.1L1410.5 151.9M1291.2 150.7L1302.4 153.7M1291.2 150.7L1284.1 157.2M1295.9 155.5L1304.8 156.1M1295.9 155.5L1289.4 161.4M1281.8 147.2L1279.5 142.5M1281.8 147.2L1279.4 155.5M1396.3 160.2L1387.4 160.8M1396.3 160.2L1404 162M1401 161.4L1389.8 161.4M1401 161.4L1406.3 162.5M1325.3 180.3L1319.5 168.5M1325.3 180.3L1318.1 189.1M1331.2 180.3L1322.4 168.5M1331.2 180.3L1321.1 189.1M1366.6 183.8L1372.6 172.6M1366.6 183.8L1355.9 190.3M1406.7 185L1409.2 174.4M1406.7 185L1408.5 192.1M1320.3 219.2L1315.6 208.6M1320.3 219.2L1327.9 226.1M1343.9 212.2L1344.6 204.5M1343.9 212.2L1343.9 222.6M1347.4 220.4L1346.3 208.6M1347.4 220.4L1345.6 226.7M1391.2 215.7L1400.7 207.4M1391.2 215.7L1382.2 225.5M1307.2 225.2L1297.8 218.1M1307.2 225.2L1321.4 229.1M1299.1 203.9L1305 200.9M1299.1 203.9L1293.8 207.4M1337.7 257.8L1336.6 245.4M1337.7 257.8L1340.7 245.4M1337.7 257.8L1335.8 268.4M1387.3 259L1380.3 247.2M1387.3 259L1380.1 270.2M1356.8 231.8L1350.3 232.4M1356.8 231.8L1365 233.6M1362.7 231.3L1353.2 232.2M1362.7 231.3L1368 233.4M1355.2 279.1L1344.6 279.1M1355.2 279.1L1364.1 280.2M1361.1 279.8L1347.6 279.4M1361.1 279.8L1367 280.6M1309.2 277.9L1321.6 278.5M1309.2 277.9L1303.9 280.8M1315.1 277.9L1324.5 278.5M1315.1 277.9L1306.8 280.8M1337.4 302.7L1335.7 290.9M1337.4 302.7L1339 315.1M1385.8 303.9L1379.4 292.7M1385.8 303.9L1380.4 315.7M1291.2 309.8L1294.9 296.8M1291.2 309.8L1298.2 320.4M1320.6 334.6L1312.9 332.8M1320.6 334.6L1330.6 331M1359.6 329.9L1350.1 328.7M1359.6 329.9L1367.3 328.7M1343 341.7L1341.8 334.6M1343 341.7L1343.5 351.7M1344.1 349.9L1342.4 338.7M1344.1 349.9L1344 355.8M1393.7 344L1384.4 335.8M1393.7 344L1401.9 353.5M1283.8 351.1L1294.5 341.1M1283.8 351.1L1279.6 362.9M1323.8 374.7L1333.9 368.2M1323.8 374.7L1317.8 384.2M1365.1 377.1L1354.6 369.4M1365.1 377.1L1371 387.7M1401.7 378.3L1405.9 370.6M1401.7 378.3L1405.8 389.5M1407.7 377.1L1408.9 370M1407.7 377.1L1408.8 388.9M1289.5 387.7L1300.7 390.7M1289.5 387.7L1282.3 394.2M1294.2 392.5L1303 393.1M1294.2 392.5L1287.6 398.4M1280 384.2L1277.7 379.5M1280 384.2L1277.6 392.5M1394.5 397.2L1385.7 397.8M1394.5 397.2L1402.2 399M1399.2 398.4L1388 398.4M1399.2 398.4L1404.5 399.5M1323.5 417.3L1317.7 405.5M1323.5 417.3L1316.3 426.1M1329.4 417.3L1320.6 405.5M1329.4 417.3L1319.3 426.1M1364.8 420.8L1370.8 409.6M1364.8 420.8L1354.1 427.3M1405 422L1407.4 411.4M1405 422L1406.7 429.1M1318.5 456.2L1313.8 445.6M1318.5 456.2L1326.1 463.1M1342.2 449.2L1342.8 441.5M1342.2 449.2L1342.1 459.6M1345.6 457.4L1344.5 445.6M1345.6 457.4L1343.8 463.7M1389.4 452.7L1398.9 444.4M1389.4 452.7L1380.4 462.5M1305.4 462.2L1296.1 455.1M1305.4 462.2L1319.6 466.1M1297.3 440.9L1303.3 437.9M1297.3 440.9L1292 444.4M1335.9 494.8L1334.8 482.4M1335.9 494.8L1339 482.4M1335.9 494.8L1334.1 505.4M1385.5 496L1378.5 484.2M1385.5 496L1378.3 507.2M1355 468.8L1348.5 469.4M1355 468.8L1363.3 470.6M1360.9 468.3L1351.5 469.2M1360.9 468.3L1366.2 470.4M1353.5 516.1L1342.8 516.1M1353.5 516.1L1362.3 517.2M1359.4 516.8L1345.8 516.4M1359.4 516.8L1365.3 517.6M1307.4 514.9L1319.8 515.5M1307.4 514.9L1302.1 517.8M1313.3 514.9L1322.8 515.5M1313.3 514.9L1305 517.8M1335.6 539.7L1333.9 527.9M1335.6 539.7L1337.3 552.1M1384 540.9L1377.6 529.7M1384 540.9L1378.6 552.7M1289.5 546.8L1293.1 533.8M1289.5 546.8L1296.5 557.4M1318.8 571.6L1311.1 569.8M1318.8 571.6L1328.9 568M1357.8 566.9L1348.4 565.7M1357.8 566.9L1365.5 565.7M1341.2 578.7L1340.1 571.6M1341.2 578.7L1341.7 588.7M1342.3 586.9L1340.6 575.7M1342.3 586.9L1342.3 592.8M1392 581L1382.6 572.8M1392 581L1400.2 590.5M1282.1 588.1L1292.8 578.1M1282.1 588.1L1277.8 599.9M1322 611.7L1332.1 605.2M1322 611.7L1316.1 621.2M1363.4 614.1L1352.8 606.4M1363.4 614.1L1369.2 624.7M1400 615.3L1404.2 607.6M1400 615.3L1404 626.5M1405.9 614.1L1407.1 607M1405.9 614.1L1407 625.9M1287.7 624.7L1298.9 627.7M1287.7 624.7L1280.6 631.2M1292.4 629.5L1301.2 630.1M1292.4 629.5L1285.8 635.4M1278.3 621.2L1275.9 616.5M1278.3 621.2L1275.9 629.5M1392.7 634.2L1383.9 634.8M1392.7 634.2L1400.4 636M1397.5 635.4L1386.2 635.4M1397.5 635.4L1402.8 636.5M1321.7 654.3L1315.9 642.5M1321.7 654.3L1314.6 663.1M1327.6 654.3L1318.9 642.5M1327.6 654.3L1317.5 663.1M1363 657.8L1369 646.6M1363 657.8L1352.4 664.3M1403.2 659L1405.6 648.4M1403.2 659L1404.9 666.1M1316.7 693.2L1312.1 682.6M1316.7 693.2L1324.3 700.1M1340.4 686.2L1341 678.5M1340.4 686.2L1340.3 696.6M1343.9 694.4L1342.8 682.6M1343.9 694.4L1342 700.7M1387.6 689.7L1397.1 681.4M1387.6 689.7L1378.7 699.5M1303.7 699.2L1294.3 692.1M1303.7 699.2L1317.8 703.1M1295.6 677.9L1301.5 674.9M1295.6 677.9L1290.2 681.4M1353.2 705.8L1346.7 706.4M1353.2 705.8L1361.5 707.6M1359.1 705.3L1349.7 706.2M1359.1 705.3L1364.4 707.4" stroke="#e01010" stroke-width="1.7" fill="none"/>
<g fill="url(#gO)"><circle cx="1142.9" cy="92.9" r="5.2"/><circle cx="1361.4" cy="92.9" r="5.2"/><circle cx="1103.9" cy="97.6" r="5.2"/><circle cx="1322.4" cy="97.6" r="5.2"/><circle cx="1126.2" cy="104.7" r="5.2"/><circle cx="1344.7" cy="104.7" r="5.2"/><circle cx="1177" cy="107" r="5.2"/><circle cx="1395.5" cy="107" r="5.2"/><circle cx="1127.4" cy="112.9" r="5.2"/><circle cx="1345.9" cy="112.9" r="5.2"/><circle cx="1067.1" cy="114.1" r="5.2"/><circle cx="1285.6" cy="114.1" r="5.2"/><circle cx="1214.7" cy="117.7" r="5.2"/><circle cx="1107.1" cy="137.7" r="5.2"/><circle cx="1235.8" cy="137.7" r="5.2"/><circle cx="1325.6" cy="137.7" r="5.2"/><circle cx="1240.6" cy="138.9" r="5.2"/><circle cx="1148.4" cy="140.1" r="5.2"/><circle cx="1190.9" cy="140.1" r="5.2"/><circle cx="1366.9" cy="140.1" r="5.2"/><circle cx="1409.4" cy="140.1" r="5.2"/><circle cx="1185" cy="141.3" r="5.2"/><circle cx="1403.5" cy="141.3" r="5.2"/><circle cx="1252.3" cy="143.6" r="5.2"/><circle cx="1063.3" cy="147.2" r="5.2"/><circle cx="1281.8" cy="147.2" r="5.2"/><circle cx="1072.7" cy="150.7" r="5.2"/><circle cx="1291.2" cy="150.7" r="5.2"/><circle cx="1077.4" cy="155.5" r="5.2"/><circle cx="1295.9" cy="155.5" r="5.2"/><circle cx="1177.8" cy="160.2" r="5.2"/><circle cx="1396.3" cy="160.2" r="5.2"/><circle cx="1182.5" cy="161.4" r="5.2"/><circle cx="1401" cy="161.4" r="5.2"/><circle cx="1255.7" cy="163.7" r="5.2"/><circle cx="1216.7" cy="164.9" r="5.2"/><circle cx="1259.3" cy="166.1" r="5.2"/><circle cx="1106.8" cy="180.3" r="5.2"/><circle cx="1112.7" cy="180.3" r="5.2"/><circle cx="1325.3" cy="180.3" r="5.2"/><circle cx="1331.2" cy="180.3" r="5.2"/><circle cx="1240.2" cy="181.4" r="5.2"/><circle cx="1148.1" cy="183.8" r="5.2"/><circle cx="1366.6" cy="183.8" r="5.2"/><circle cx="1188.2" cy="185" r="5.2"/><circle cx="1406.7" cy="185" r="5.2"/><circle cx="1067.8" cy="186.2" r="5.2"/><circle cx="1286.3" cy="186.2" r="5.2"/><circle cx="1246.1" cy="187.4" r="5.2"/><circle cx="1073.7" cy="189.7" r="5.2"/><circle cx="1292.2" cy="189.7" r="5.2"/><circle cx="1080.6" cy="203.9" r="5.2"/><circle cx="1299.1" cy="203.9" r="5.2"/><circle cx="1215.2" cy="211" r="5.2"/><circle cx="1125.4" cy="212.2" r="5.2"/><circle cx="1343.9" cy="212.2" r="5.2"/><circle cx="1172.7" cy="215.7" r="5.2"/><circle cx="1391.2" cy="215.7" r="5.2"/><circle cx="1101.8" cy="219.2" r="5.2"/><circle cx="1263.6" cy="219.2" r="5.2"/><circle cx="1320.3" cy="219.2" r="5.2"/><circle cx="1128.9" cy="220.4" r="5.2"/><circle cx="1347.4" cy="220.4" r="5.2"/><circle cx="1088.7" cy="225.2" r="5.2"/><circle cx="1307.2" cy="225.2" r="5.2"/><circle cx="1144.2" cy="231.3" r="5.2"/><circle cx="1362.7" cy="231.3" r="5.2"/><circle cx="1138.3" cy="231.8" r="5.2"/><circle cx="1356.8" cy="231.8" r="5.2"/><circle cx="1119.2" cy="257.8" r="5.2"/><circle cx="1337.7" cy="257.8" r="5.2"/><circle cx="1168.8" cy="259" r="5.2"/><circle cx="1387.3" cy="259" r="5.2"/><circle cx="1090.7" cy="277.9" r="5.2"/><circle cx="1096.6" cy="277.9" r="5.2"/><circle cx="1309.2" cy="277.9" r="5.2"/><circle cx="1315.1" cy="277.9" r="5.2"/><circle cx="1136.7" cy="279.1" r="5.2"/><circle cx="1355.2" cy="279.1" r="5.2"/><circle cx="1142.6" cy="279.8" r="5.2"/><circle cx="1361.1" cy="279.8" r="5.2"/><circle cx="1118.9" cy="302.7" r="5.2"/><circle cx="1337.4" cy="302.7" r="5.2"/><circle cx="1167.3" cy="303.9" r="5.2"/><circle cx="1385.8" cy="303.9" r="5.2"/><circle cx="1072.7" cy="309.8" r="5.2"/><circle cx="1291.2" cy="309.8" r="5.2"/><circle cx="1141.1" cy="329.9" r="5.2"/><circle cx="1359.6" cy="329.9" r="5.2"/><circle cx="1102.1" cy="334.6" r="5.2"/><circle cx="1320.6" cy="334.6" r="5.2"/><circle cx="1124.5" cy="341.7" r="5.2"/><circle cx="1343" cy="341.7" r="5.2"/><circle cx="1175.2" cy="344" r="5.2"/><circle cx="1393.7" cy="344" r="5.2"/><circle cx="1125.6" cy="349.9" r="5.2"/><circle cx="1344.1" cy="349.9" r="5.2"/><circle cx="1065.3" cy="351.1" r="5.2"/><circle cx="1283.8" cy="351.1" r="5.2"/><circle cx="1213" cy="354.7" r="5.2"/><circle cx="1105.3" cy="374.7" r="5.2"/><circle cx="1234.1" cy="374.7" r="5.2"/><circle cx="1323.8" cy="374.7" r="5.2"/><circle cx="1238.8" cy="375.9" r="5.2"/><circle cx="1146.6" cy="377.1" r="5.2"/><circle cx="1189.2" cy="377.1" r="5.2"/><circle cx="1365.1" cy="377.1" r="5.2"/><circle cx="1407.7" cy="377.1" r="5.2"/><circle cx="1183.2" cy="378.3" r="5.2"/><circle cx="1401.7" cy="378.3" r="5.2"/><circle cx="1250.6" cy="380.6" r="5.2"/><circle cx="1061.5" cy="384.2" r="5.2"/><circle cx="1280" cy="384.2" r="5.2"/><circle cx="1071" cy="387.7" r="5.2"/><circle cx="1289.5" cy="387.7" r="5.2"/><circle cx="1075.7" cy="392.5" r="5.2"/><circle cx="1294.2" cy="392.5" r="5.2"/><circle cx="1176" cy="397.2" r="5.2"/><circle cx="1394.5" cy="397.2" r="5.2"/><circle cx="1180.7" cy="398.4" r="5.2"/><circle cx="1399.2" cy="398.4" r="5.2"/><circle cx="1254" cy="400.7" r="5.2"/><circle cx="1215" cy="401.9" r="5.2"/><circle cx="1257.5" cy="403.1" r="5.2"/><circle cx="1105" cy="417.3" r="5.2"/><circle cx="1110.9" cy="417.3" r="5.2"/><circle cx="1323.5" cy="417.3" r="5.2"/><circle cx="1329.4" cy="417.3" r="5.2"/><circle cx="1238.5" cy="418.4" r="5.2"/><circle cx="1146.3" cy="420.8" r="5.2"/><circle cx="1364.8" cy="420.8" r="5.2"/><circle cx="1186.5" cy="422" r="5.2"/><circle cx="1405" cy="422" r="5.2"/><circle cx="1066" cy="423.2" r="5.2"/><circle cx="1284.5" cy="423.2" r="5.2"/><circle cx="1244.3" cy="424.4" r="5.2"/><circle cx="1071.9" cy="426.7" r="5.2"/><circle cx="1290.4" cy="426.7" r="5.2"/><circle cx="1078.8" cy="440.9" r="5.2"/><circle cx="1297.3" cy="440.9" r="5.2"/><circle cx="1213.4" cy="448" r="5.2"/><circle cx="1123.7" cy="449.2" r="5.2"/><circle cx="1342.2" cy="449.2" r="5.2"/><circle cx="1170.9" cy="452.7" r="5.2"/><circle cx="1389.4" cy="452.7" r="5.2"/><circle cx="1100" cy="456.2" r="5.2"/><circle cx="1261.8" cy="456.2" r="5.2"/><circle cx="1318.5" cy="456.2" r="5.2"/><circle cx="1127.1" cy="457.4" r="5.2"/><circle cx="1345.6" cy="457.4" r="5.2"/><circle cx="1086.9" cy="462.2" r="5.2"/><circle cx="1305.4" cy="462.2" r="5.2"/><circle cx="1142.4" cy="468.3" r="5.2"/><circle cx="1360.9" cy="468.3" r="5.2"/><circle cx="1136.5" cy="468.8" r="5.2"/><circle cx="1355" cy="468.8" r="5.2"/><circle cx="1117.4" cy="494.8" r="5.2"/><circle cx="1335.9" cy="494.8" r="5.2"/><circle cx="1167" cy="496" r="5.2"/><circle cx="1385.5" cy="496" r="5.2"/><circle cx="1088.9" cy="514.9" r="5.2"/><circle cx="1094.8" cy="514.9" r="5.2"/><circle cx="1307.4" cy="514.9" r="5.2"/><circle cx="1313.3" cy="514.9" r="5.2"/><circle cx="1135" cy="516.1" r="5.2"/><circle cx="1353.5" cy="516.1" r="5.2"/><circle cx="1140.9" cy="516.8" r="5.2"/><circle cx="1359.4" cy="516.8" r="5.2"/><circle cx="1117.1" cy="539.7" r="5.2"/><circle cx="1335.6" cy="539.7" r="5.2"/><circle cx="1165.5" cy="540.9" r="5.2"/><circle cx="1384" cy="540.9" r="5.2"/><circle cx="1071" cy="546.8" r="5.2"/><circle cx="1289.5" cy="546.8" r="5.2"/><circle cx="1139.3" cy="566.9" r="5.2"/><circle cx="1357.8" cy="566.9" r="5.2"/><circle cx="1100.3" cy="571.6" r="5.2"/><circle cx="1318.8" cy="571.6" r="5.2"/><circle cx="1122.7" cy="578.7" r="5.2"/><circle cx="1341.2" cy="578.7" r="5.2"/><circle cx="1173.5" cy="581" r="5.2"/><circle cx="1392" cy="581" r="5.2"/><circle cx="1123.8" cy="586.9" r="5.2"/><circle cx="1342.3" cy="586.9" r="5.2"/><circle cx="1063.6" cy="588.1" r="5.2"/><circle cx="1282.1" cy="588.1" r="5.2"/><circle cx="1211.2" cy="591.7" r="5.2"/><circle cx="1103.5" cy="611.7" r="5.2"/><circle cx="1232.3" cy="611.7" r="5.2"/><circle cx="1322" cy="611.7" r="5.2"/><circle cx="1237" cy="612.9" r="5.2"/><circle cx="1144.9" cy="614.1" r="5.2"/><circle cx="1187.4" cy="614.1" r="5.2"/><circle cx="1363.4" cy="614.1" r="5.2"/><circle cx="1405.9" cy="614.1" r="5.2"/><circle cx="1181.5" cy="615.3" r="5.2"/><circle cx="1400" cy="615.3" r="5.2"/><circle cx="1248.8" cy="617.6" r="5.2"/><circle cx="1059.8" cy="621.2" r="5.2"/><circle cx="1278.3" cy="621.2" r="5.2"/><circle cx="1069.2" cy="624.7" r="5.2"/><circle cx="1287.7" cy="624.7" r="5.2"/><circle cx="1073.9" cy="629.5" r="5.2"/><circle cx="1292.4" cy="629.5" r="5.2"/><circle cx="1174.2" cy="634.2" r="5.2"/><circle cx="1392.7" cy="634.2" r="5.2"/><circle cx="1179" cy="635.4" r="5.2"/><circle cx="1397.5" cy="635.4" r="5.2"/><circle cx="1252.2" cy="637.7" r="5.2"/><circle cx="1213.2" cy="638.9" r="5.2"/><circle cx="1255.7" cy="640.1" r="5.2"/><circle cx="1103.2" cy="654.3" r="5.2"/><circle cx="1109.1" cy="654.3" r="5.2"/><circle cx="1321.7" cy="654.3" r="5.2"/><circle cx="1327.6" cy="654.3" r="5.2"/><circle cx="1236.7" cy="655.4" r="5.2"/><circle cx="1144.5" cy="657.8" r="5.2"/><circle cx="1363" cy="657.8" r="5.2"/><circle cx="1184.7" cy="659" r="5.2"/><circle cx="1403.2" cy="659" r="5.2"/><circle cx="1064.2" cy="660.2" r="5.2"/><circle cx="1282.7" cy="660.2" r="5.2"/><circle cx="1242.5" cy="661.4" r="5.2"/><circle cx="1070.1" cy="663.7" r="5.2"/><circle cx="1288.6" cy="663.7" r="5.2"/><circle cx="1077.1" cy="677.9" r="5.2"/><circle cx="1295.6" cy="677.9" r="5.2"/><circle cx="1211.7" cy="685" r="5.2"/><circle cx="1121.9" cy="686.2" r="5.2"/><circle cx="1340.4" cy="686.2" r="5.2"/><circle cx="1169.1" cy="689.7" r="5.2"/><circle cx="1387.6" cy="689.7" r="5.2"/><circle cx="1098.2" cy="693.2" r="5.2"/><circle cx="1260" cy="693.2" r="5.2"/><circle cx="1316.7" cy="693.2" r="5.2"/><circle cx="1125.4" cy="694.4" r="5.2"/><circle cx="1343.9" cy="694.4" r="5.2"/><circle cx="1085.2" cy="699.2" r="5.2"/><circle cx="1303.7" cy="699.2" r="5.2"/><circle cx="1140.6" cy="705.3" r="5.2"/><circle cx="1359.1" cy="705.3" r="5.2"/><circle cx="1134.7" cy="705.8" r="5.2"/><circle cx="1353.2" cy="705.8" r="5.2"/></g>
<g fill="url(#gP)"><circle cx="1158.2" cy="90.5" r="8.6"/><circle cx="1376.7" cy="90.5" r="8.6"/><circle cx="1088.5" cy="94" r="8.6"/><circle cx="1307" cy="94" r="8.6"/><circle cx="1240.7" cy="122.4" r="8.6"/><circle cx="1127.3" cy="124.8" r="8.6"/><circle cx="1345.8" cy="124.8" r="8.6"/><circle cx="1058.5" cy="163.7" r="8.6"/><circle cx="1193.1" cy="163.7" r="8.6"/><circle cx="1277" cy="163.7" r="8.6"/><circle cx="1411.6" cy="163.7" r="8.6"/><circle cx="1064.4" cy="167.3" r="8.6"/><circle cx="1282.9" cy="167.3" r="8.6"/><circle cx="1241.3" cy="200.3" r="8.6"/><circle cx="1154.8" cy="235.4" r="8.6"/><circle cx="1373.3" cy="235.4" r="8.6"/><circle cx="1115.5" cy="279.1" r="8.6"/><circle cx="1334" cy="279.1" r="8.6"/><circle cx="1156.5" cy="327.5" r="8.6"/><circle cx="1375" cy="327.5" r="8.6"/><circle cx="1086.7" cy="331" r="8.6"/><circle cx="1305.2" cy="331" r="8.6"/><circle cx="1238.9" cy="359.4" r="8.6"/><circle cx="1056.7" cy="400.7" r="8.6"/><circle cx="1191.3" cy="400.7" r="8.6"/><circle cx="1275.2" cy="400.7" r="8.6"/><circle cx="1409.8" cy="400.7" r="8.6"/><circle cx="1062.6" cy="404.3" r="8.6"/><circle cx="1281.1" cy="404.3" r="8.6"/><circle cx="1239.5" cy="437.3" r="8.6"/><circle cx="1153" cy="472.4" r="8.6"/><circle cx="1371.5" cy="472.4" r="8.6"/><circle cx="1113.7" cy="516.1" r="8.6"/><circle cx="1332.2" cy="516.1" r="8.6"/><circle cx="1154.7" cy="564.5" r="8.6"/><circle cx="1373.2" cy="564.5" r="8.6"/><circle cx="1085" cy="568" r="8.6"/><circle cx="1303.5" cy="568" r="8.6"/><circle cx="1237.1" cy="596.4" r="8.6"/><circle cx="1054.9" cy="637.7" r="8.6"/><circle cx="1189.6" cy="637.7" r="8.6"/><circle cx="1273.4" cy="637.7" r="8.6"/><circle cx="1408.1" cy="637.7" r="8.6"/><circle cx="1060.8" cy="641.3" r="8.6"/><circle cx="1279.3" cy="641.3" r="8.6"/><circle cx="1237.7" cy="674.3" r="8.6"/><circle cx="1151.2" cy="709.4" r="8.6"/><circle cx="1369.7" cy="709.4" r="8.6"/></g>
<g fill="url(#gB)"><circle cx="1124" cy="90.5" r="8.6"/><circle cx="1342.5" cy="90.5" r="8.6"/><circle cx="1193.4" cy="125.9" r="8.6"/><circle cx="1411.9" cy="125.9" r="8.6"/><circle cx="1058.7" cy="137.7" r="8.6"/><circle cx="1277.2" cy="137.7" r="8.6"/><circle cx="1095.1" cy="156.6" r="8.6"/><circle cx="1313.6" cy="156.6" r="8.6"/><circle cx="1235.7" cy="159" r="8.6"/><circle cx="1160.1" cy="161.4" r="8.6"/><circle cx="1378.6" cy="161.4" r="8.6"/><circle cx="1242.7" cy="164.9" r="8.6"/><circle cx="1126.7" cy="196.8" r="8.6"/><circle cx="1345.2" cy="196.8" r="8.6"/><circle cx="1092.5" cy="198" r="8.6"/><circle cx="1311" cy="198" r="8.6"/><circle cx="1191.7" cy="199.2" r="8.6"/><circle cx="1410.2" cy="199.2" r="8.6"/><circle cx="1069.9" cy="211" r="8.6"/><circle cx="1288.4" cy="211" r="8.6"/><circle cx="1117" cy="233" r="8.6"/><circle cx="1125.3" cy="233" r="8.6"/><circle cx="1335.5" cy="233" r="8.6"/><circle cx="1343.8" cy="233" r="8.6"/><circle cx="1154.4" cy="281.4" r="8.6"/><circle cx="1372.9" cy="281.4" r="8.6"/><circle cx="1080" cy="283.8" r="8.6"/><circle cx="1298.5" cy="283.8" r="8.6"/><circle cx="1122.2" cy="327.5" r="8.6"/><circle cx="1340.7" cy="327.5" r="8.6"/><circle cx="1125.5" cy="361.8" r="8.6"/><circle cx="1344" cy="361.8" r="8.6"/><circle cx="1191.6" cy="362.9" r="8.6"/><circle cx="1410.1" cy="362.9" r="8.6"/><circle cx="1056.9" cy="374.7" r="8.6"/><circle cx="1275.4" cy="374.7" r="8.6"/><circle cx="1093.4" cy="393.6" r="8.6"/><circle cx="1311.9" cy="393.6" r="8.6"/><circle cx="1233.9" cy="396" r="8.6"/><circle cx="1158.3" cy="398.4" r="8.6"/><circle cx="1376.8" cy="398.4" r="8.6"/><circle cx="1241" cy="401.9" r="8.6"/><circle cx="1125" cy="433.8" r="8.6"/><circle cx="1343.5" cy="433.8" r="8.6"/><circle cx="1090.7" cy="435" r="8.6"/><circle cx="1309.2" cy="435" r="8.6"/><circle cx="1189.9" cy="436.2" r="8.6"/><circle cx="1408.4" cy="436.2" r="8.6"/><circle cx="1068.2" cy="448" r="8.6"/><circle cx="1286.7" cy="448" r="8.6"/><circle cx="1115.2" cy="470" r="8.6"/><circle cx="1123.5" cy="470" r="8.6"/><circle cx="1333.7" cy="470" r="8.6"/><circle cx="1342" cy="470" r="8.6"/><circle cx="1152.7" cy="518.4" r="8.6"/><circle cx="1371.2" cy="518.4" r="8.6"/><circle cx="1078.2" cy="520.8" r="8.6"/><circle cx="1296.7" cy="520.8" r="8.6"/><circle cx="1120.4" cy="564.5" r="8.6"/><circle cx="1338.9" cy="564.5" r="8.6"/><circle cx="1123.7" cy="598.8" r="8.6"/><circle cx="1342.2" cy="598.8" r="8.6"/><circle cx="1189.9" cy="599.9" r="8.6"/><circle cx="1408.4" cy="599.9" r="8.6"/><circle cx="1055.1" cy="611.7" r="8.6"/><circle cx="1273.6" cy="611.7" r="8.6"/><circle cx="1091.6" cy="630.6" r="8.6"/><circle cx="1310.1" cy="630.6" r="8.6"/><circle cx="1232.1" cy="633" r="8.6"/><circle cx="1156.5" cy="635.4" r="8.6"/><circle cx="1375" cy="635.4" r="8.6"/><circle cx="1239.2" cy="638.9" r="8.6"/><circle cx="1123.2" cy="670.8" r="8.6"/><circle cx="1341.7" cy="670.8" r="8.6"/><circle cx="1088.9" cy="672" r="8.6"/><circle cx="1307.4" cy="672" r="8.6"/><circle cx="1188.1" cy="673.2" r="8.6"/><circle cx="1406.6" cy="673.2" r="8.6"/><circle cx="1066.4" cy="685" r="8.6"/><circle cx="1284.9" cy="685" r="8.6"/><circle cx="1113.5" cy="707" r="8.6"/><circle cx="1121.7" cy="707" r="8.6"/><circle cx="1332" cy="707" r="8.6"/><circle cx="1340.2" cy="707" r="8.6"/></g>
<circle cx="1719.7" cy="283.5" r="72" fill="url(#gGr)" opacity=".97"/>
<g fill="#5a9676" opacity=".8"><circle cx="1706" cy="234" r="8"/><circle cx="1714" cy="240" r="6"/><ellipse cx="1690" cy="228" rx="5" ry="2.5" transform="rotate(-20 1690 228)"/><ellipse cx="1725" cy="224" rx="6" ry="3"/><ellipse cx="1730" cy="256" rx="6" ry="17" transform="rotate(-38 1730 256)"/><ellipse cx="1752" cy="244" rx="6" ry="16" transform="rotate(-42 1752 244)"/><ellipse cx="1770" cy="252" rx="5" ry="14" transform="rotate(-40 1770 252)"/><ellipse cx="1708" cy="276" rx="5" ry="13" transform="rotate(-12 1708 276)"/><circle cx="1701" cy="254" r="4.5"/><ellipse cx="1716" cy="300" rx="4" ry="11" transform="rotate(-8 1716 300)"/><path d="M1680 232Q1700 222 1712 232M1718 232Q1735 222 1752 232M1707 240L1708 290" stroke="#5a9676" stroke-width="1.5" fill="none"/></g>
<circle cx="1782" cy="289" r="7" fill="#5b8edb" opacity=".8"/>
<path d="M1552 201L1553.1 213.4M1555 202.7L1553.1 213.4M1550.7 437.3L1551.8 449.7M1553.7 439L1551.8 449.7M1549.4 673.6L1550.5 686M1552.4 675.3L1550.5 686M1594.9 96.4L1604.9 92.9M1614.4 94.1L1604.9 92.9M1606.1 100L1604.9 92.9M1607.8 117.1L1608.3 127.2M1606.7 104.1L1604.9 92.9M1608.3 121.2L1608.3 127.2M1666.2 118.9L1674.4 128.3M1544.9 128.3L1541.7 140.1M1598.2 133.6L1608.3 127.2M1582.2 149.6L1576.2 159M1618.9 134.8L1608.3 127.2M1635.3 153.1L1641.2 163.8M1685.1 124.2L1674.4 128.3M1670.3 136L1674.4 128.3M1673.2 135.4L1674.4 128.3M1716.8 150.8L1716.8 161.4M1722.7 154.3L1723.8 167.3M1745.8 143.1L1758.2 140.1M1728.6 156.7L1723.8 167.3M1565 156.1L1576.2 159M1567.4 158.5L1576.2 159M1543.1 144.9L1541.7 140.1M1650 163.2L1641.2 163.8M1652.4 163.8L1641.2 163.8M1707.3 164.4L1716.8 161.4M1726.8 163.8L1716.8 161.4M1732.1 167.9L1723.8 167.3M1582.1 170.9L1576.2 159M1580.8 191.5L1573.6 200.4M1585 170.9L1576.2 159M1583.7 191.5L1573.6 200.4M1635.2 175L1641.2 163.8M1618.6 192.7L1607.9 199.2M1671.1 194.5L1672.9 201.6M1719.1 172.6L1716.8 161.4M1725.5 178.5L1723.8 167.3M1768.5 201L1769.6 213.4M1771.5 202.7L1769.6 213.4M1578.3 211L1573.6 200.4M1590.6 228.2L1598.3 234.7M1607.3 206.9L1607.9 199.2M1606.6 224.6L1606.5 234.7M1609 211L1607.9 199.2M1608.3 228.8L1606.5 234.7M1663.4 209.8L1672.9 201.6M1684.6 207.5L1672.9 201.6M1757.2 217.5L1769.6 213.4M1561.5 220.5L1553.1 213.4M1584.1 231.1L1598.3 234.7M1567.7 203.3L1573.6 200.4M1557.5 209.8L1553.1 213.4M1599.4 247.1L1598.3 234.7M1603.5 247.1L1606.5 234.7M1642.9 271.9L1635.8 283.1M1613 234.1L1606.5 234.7M1616 233.9L1606.5 234.7M1626.9 281.9L1635.8 283.1M1629.9 282.3L1635.8 283.1M1566.7 282.5L1561.4 285.5M1569.6 282.5L1561.4 285.5M1601.9 316.8L1603.6 329.2M1642.2 294.4L1635.8 283.1M1557.7 298.5L1561.4 285.5M1593.6 332.7L1603.6 329.2M1613.1 330.4L1603.6 329.2M1604.8 336.3L1603.6 329.2M1606.5 353.4L1607 363.5M1605.4 340.4L1603.6 329.2M1607 357.5L1607 363.5M1664.9 355.2L1673.1 364.6M1543.6 364.6L1540.4 376.4M1596.9 369.9L1607 363.5M1580.9 385.9L1574.9 395.3M1617.6 371.1L1607 363.5M1634 389.4L1639.9 400.1M1683.8 360.5L1673.1 364.6M1669 372.3L1673.1 364.6M1671.9 371.7L1673.1 364.6M1715.5 387.1L1715.5 397.7M1721.4 390.6L1722.5 403.6M1744.5 379.4L1756.9 376.4M1727.3 393L1722.5 403.6M1563.7 392.4L1574.9 395.3M1566.1 394.8L1574.9 395.3M1541.8 381.2L1540.4 376.4M1648.7 399.5L1639.9 400.1M1651.1 400.1L1639.9 400.1M1706 400.7L1715.5 397.7M1725.5 400.1L1715.5 397.7M1730.8 404.2L1722.5 403.6M1580.8 407.2L1574.9 395.3M1579.5 427.8L1572.3 436.7M1583.7 407.2L1574.9 395.3M1582.4 427.8L1572.3 436.7M1633.9 411.3L1639.9 400.1M1617.3 429L1606.6 435.5M1669.8 430.8L1671.6 437.9M1717.8 408.9L1715.5 397.7M1724.2 414.8L1722.5 403.6M1767.2 437.3L1768.3 449.7M1770.2 439L1768.3 449.7M1577 447.3L1572.3 436.7M1589.3 464.5L1597 471M1606 443.2L1606.6 435.5M1605.3 460.9L1605.2 471M1607.7 447.3L1606.6 435.5M1607 465.1L1605.2 471M1662.1 446.1L1671.6 437.9M1683.3 443.8L1671.6 437.9M1755.9 453.8L1768.3 449.7M1560.2 456.8L1551.8 449.7M1582.8 467.4L1597 471M1566.4 439.6L1572.3 436.7M1556.2 446.1L1551.8 449.7M1598.1 483.4L1597 471M1602.2 483.4L1605.2 471M1641.6 508.2L1634.5 519.4M1611.7 470.4L1605.2 471M1614.7 470.2L1605.2 471M1625.6 518.2L1634.5 519.4M1628.6 518.6L1634.5 519.4M1565.4 518.8L1560.1 521.8M1568.3 518.8L1560.1 521.8M1600.6 553.1L1602.3 565.5M1640.9 530.7L1634.5 519.4M1556.4 534.8L1560.1 521.8M1592.3 569L1602.3 565.5M1611.8 566.7L1602.3 565.5M1603.5 572.6L1602.3 565.5M1605.2 589.7L1605.7 599.8M1604.1 576.7L1602.3 565.5M1605.7 593.8L1605.7 599.8M1663.6 591.5L1671.8 600.9M1542.3 600.9L1539.1 612.7M1595.6 606.2L1605.7 599.8M1579.6 622.2L1573.6 631.6M1616.3 607.4L1605.7 599.8M1632.7 625.7L1638.6 636.4M1682.5 596.8L1671.8 600.9M1667.7 608.6L1671.8 600.9M1670.6 608L1671.8 600.9M1714.2 623.4L1714.2 634M1720.1 626.9L1721.2 639.9M1743.2 615.7L1755.6 612.7M1726 629.3L1721.2 639.9M1562.4 628.7L1573.6 631.6M1564.8 631.1L1573.6 631.6M1540.5 617.5L1539.1 612.7M1647.4 635.8L1638.6 636.4M1649.8 636.4L1638.6 636.4M1704.7 637L1714.2 634M1724.2 636.4L1714.2 634M1729.5 640.5L1721.2 639.9M1579.5 643.5L1573.6 631.6M1578.2 664.1L1571 673M1582.4 643.5L1573.6 631.6M1581.1 664.1L1571 673M1632.6 647.6L1638.6 636.4M1616 665.3L1605.3 671.8M1668.5 667.1L1670.3 674.2M1716.5 645.2L1714.2 634M1722.9 651.1L1721.2 639.9M1765.9 673.6L1767 686M1768.9 675.3L1767 686M1575.7 683.6L1571 673M1588 700.8L1595.7 707.3M1604.7 679.5L1605.3 671.8M1604 697.2L1603.9 707.3M1606.4 683.6L1605.3 671.8M1605.7 701.4L1603.9 707.3M1660.8 682.4L1670.3 674.2M1682 680.1L1670.3 674.2M1754.6 690.1L1767 686M1558.9 693.1L1550.5 686M1581.5 703.7L1595.7 707.3M1565.1 675.9L1571 673M1554.9 682.4L1550.5 686M1610.4 706.7L1603.9 707.3M1613.4 706.5L1603.9 707.3M1811.4 96.4L1821.4 92.9M1830.9 94.1L1821.4 92.9M1822.6 100L1821.4 92.9M1824.3 117.1L1824.8 127.2M1823.2 104.1L1821.4 92.9M1824.8 121.2L1824.8 127.2M1882.7 118.9L1890.9 128.3M1761.4 128.3L1758.2 140.1M1814.7 133.6L1824.8 127.2M1798.7 149.6L1792.7 159M1835.4 134.8L1824.8 127.2M1851.8 153.1L1857.7 163.8M1886.8 136L1890.9 128.3M1889.7 135.4L1890.9 128.3M1781.5 156.1L1792.7 159M1783.9 158.5L1792.7 159M1759.6 144.9L1758.2 140.1M1866.5 163.2L1857.7 163.8M1868.9 163.8L1857.7 163.8M1798.6 170.9L1792.7 159M1797.3 191.5L1790.1 200.4M1801.5 170.9L1792.7 159M1800.2 191.5L1790.1 200.4M1851.7 175L1857.7 163.8M1835.1 192.7L1824.4 199.2M1887.6 194.5L1889.4 201.6M1794.8 211L1790.1 200.4M1807.1 228.2L1814.8 234.7M1823.8 206.9L1824.4 199.2M1823.1 224.6L1823 234.7M1825.5 211L1824.4 199.2M1824.8 228.8L1823 234.7M1879.9 209.8L1889.4 201.6M1778 220.5L1769.6 213.4M1800.6 231.1L1814.8 234.7M1784.2 203.3L1790.1 200.4M1774 209.8L1769.6 213.4M1815.9 247.1L1814.8 234.7M1820 247.1L1823 234.7M1859.4 271.9L1852.3 283.1M1829.5 234.1L1823 234.7M1832.5 233.9L1823 234.7M1843.4 281.9L1852.3 283.1M1846.4 282.3L1852.3 283.1M1783.2 282.5L1777.9 285.5M1786.1 282.5L1777.9 285.5M1818.4 316.8L1820.1 329.2M1858.7 294.4L1852.3 283.1M1774.2 298.5L1777.9 285.5M1810.1 332.7L1820.1 329.2M1829.6 330.4L1820.1 329.2M1821.3 336.3L1820.1 329.2M1823 353.4L1823.5 363.5M1821.9 340.4L1820.1 329.2M1823.5 357.5L1823.5 363.5M1881.4 355.2L1889.6 364.6M1760.1 364.6L1756.9 376.4M1813.4 369.9L1823.5 363.5M1797.4 385.9L1791.4 395.3M1834.1 371.1L1823.5 363.5M1850.5 389.4L1856.4 400.1M1885.5 372.3L1889.6 364.6M1888.4 371.7L1889.6 364.6M1780.2 392.4L1791.4 395.3M1782.6 394.8L1791.4 395.3M1758.3 381.2L1756.9 376.4M1865.2 399.5L1856.4 400.1M1867.6 400.1L1856.4 400.1M1797.3 407.2L1791.4 395.3M1796 427.8L1788.8 436.7M1800.2 407.2L1791.4 395.3M1798.9 427.8L1788.8 436.7M1850.4 411.3L1856.4 400.1M1833.8 429L1823.1 435.5M1886.3 430.8L1888.1 437.9M1793.5 447.3L1788.8 436.7M1805.8 464.5L1813.5 471M1822.5 443.2L1823.1 435.5M1821.8 460.9L1821.7 471M1824.2 447.3L1823.1 435.5M1823.5 465.1L1821.7 471M1878.6 446.1L1888.1 437.9M1776.7 456.8L1768.3 449.7M1799.3 467.4L1813.5 471M1782.9 439.6L1788.8 436.7M1772.7 446.1L1768.3 449.7M1814.6 483.4L1813.5 471M1818.7 483.4L1821.7 471M1858.1 508.2L1851 519.4M1828.2 470.4L1821.7 471M1831.2 470.2L1821.7 471M1842.1 518.2L1851 519.4M1845.1 518.6L1851 519.4M1781.9 518.8L1776.6 521.8M1784.8 518.8L1776.6 521.8M1817.1 553.1L1818.8 565.5M1857.4 530.7L1851 519.4M1772.9 534.8L1776.6 521.8M1808.8 569L1818.8 565.5M1828.3 566.7L1818.8 565.5M1820 572.6L1818.8 565.5M1821.7 589.7L1822.2 599.8M1820.6 576.7L1818.8 565.5M1822.2 593.8L1822.2 599.8M1880.1 591.5L1888.3 600.9M1758.8 600.9L1755.6 612.7M1812.1 606.2L1822.2 599.8M1796.1 622.2L1790.1 631.6M1832.8 607.4L1822.2 599.8M1849.2 625.7L1855.1 636.4M1884.2 608.6L1888.3 600.9M1887.1 608L1888.3 600.9M1778.9 628.7L1790.1 631.6M1781.3 631.1L1790.1 631.6M1757 617.5L1755.6 612.7M1863.9 635.8L1855.1 636.4M1866.3 636.4L1855.1 636.4M1796 643.5L1790.1 631.6M1794.7 664.1L1787.5 673M1798.9 643.5L1790.1 631.6M1797.6 664.1L1787.5 673M1849.1 647.6L1855.1 636.4M1832.5 665.3L1821.8 671.8M1885 667.1L1886.8 674.2M1792.2 683.6L1787.5 673M1804.5 700.8L1812.2 707.3M1821.2 679.5L1821.8 671.8M1820.5 697.2L1820.4 707.3M1822.9 683.6L1821.8 671.8M1822.2 701.4L1820.4 707.3M1877.3 682.4L1886.8 674.2M1775.4 693.1L1767 686M1798 703.7L1812.2 707.3M1781.6 675.9L1787.5 673M1771.4 682.4L1767 686M1826.9 706.7L1820.4 707.3M1829.9 706.5L1820.4 707.3" stroke="#5b8edb" stroke-width="1.7" fill="none"/>
<path d="M1546.3 177.4L1541.6 166.1M1552.1 180.9L1547.5 169.7M1545 413.7L1540.3 402.4M1550.8 417.2L1546.2 406M1543.7 650L1539 638.7M1549.5 653.5L1544.9 642.3M1577.2 98.2L1569.5 96.4M1631.5 94.1L1639.2 92.9M1648.6 101.2L1639.2 92.9M1558.8 106.5L1569.5 96.4M1708.7 122.4L1721.7 124.8M1670.2 154.9L1674.2 166.1M1673.1 154.3L1674.2 166.1M1719.3 132.5L1721.7 124.8M1721.7 133.1L1721.7 124.8M1547.7 159.6L1541.6 166.1M1553 163.8L1547.5 169.7M1543 157.9L1541.6 166.1M1666.6 164.4L1674.2 166.1M1668.9 164.9L1674.2 166.1M1686 166.7L1674.2 166.1M1747.5 166.1L1758.1 166.1M1752.2 169.1L1764 169.7M1671.8 176.8L1674.2 166.1M1721.9 193.3L1722.5 202.7M1724.9 196.3L1722.5 202.7M1762.8 177.4L1758.1 166.1M1768.6 180.9L1764 169.7M1645 227.6L1636 237.1M1709.4 208.1L1722.5 202.7M1733.6 212.2L1722.5 202.7M1598.6 270.1L1596.8 280.8M1643.1 248.9L1636 237.1M1627.8 235.3L1636 237.1M1630.7 235.1L1636 237.1M1607.5 280.8L1596.8 280.8M1610.4 281.1L1596.8 280.8M1584.4 280.2L1596.8 280.8M1587.4 280.2L1596.8 280.8M1598.5 292.6L1596.8 280.8M1643.3 317.4L1637.9 329.2M1561.2 322.1L1568.2 332.7M1575.9 334.5L1568.2 332.7M1630.2 330.4L1637.9 329.2M1647.3 337.5L1637.9 329.2M1557.5 342.8L1568.2 332.7M1707.4 358.7L1720.4 361.1M1668.9 391.2L1672.9 402.4M1671.8 390.6L1672.9 402.4M1718 368.8L1720.4 361.1M1720.4 369.4L1720.4 361.1M1546.4 395.9L1540.3 402.4M1551.7 400.1L1546.2 406M1541.7 394.2L1540.3 402.4M1665.3 400.7L1672.9 402.4M1667.6 401.2L1672.9 402.4M1684.7 403L1672.9 402.4M1746.2 402.4L1756.8 402.4M1750.9 405.4L1762.7 406M1670.5 413.1L1672.9 402.4M1720.6 429.6L1721.2 439M1723.6 432.6L1721.2 439M1761.5 413.7L1756.8 402.4M1767.3 417.2L1762.7 406M1643.7 463.9L1634.7 473.4M1708.1 444.4L1721.2 439M1732.3 448.5L1721.2 439M1597.4 506.4L1595.5 517.1M1641.8 485.2L1634.7 473.4M1626.5 471.6L1634.7 473.4M1629.4 471.4L1634.7 473.4M1606.2 517.1L1595.5 517.1M1609.1 517.4L1595.5 517.1M1583.1 516.5L1595.5 517.1M1586.1 516.5L1595.5 517.1M1597.2 528.9L1595.5 517.1M1642 553.7L1636.6 565.5M1559.9 558.4L1566.9 569M1574.6 570.8L1566.9 569M1628.9 566.7L1636.6 565.5M1646 573.8L1636.6 565.5M1556.2 579.1L1566.9 569M1706.1 595L1719.1 597.4M1667.6 627.5L1671.6 638.7M1670.5 626.9L1671.6 638.7M1716.7 605.1L1719.1 597.4M1719.1 605.7L1719.1 597.4M1545.1 632.2L1539 638.7M1550.4 636.4L1544.9 642.3M1540.4 630.5L1539 638.7M1664 637L1671.6 638.7M1666.3 637.5L1671.6 638.7M1683.4 639.3L1671.6 638.7M1744.9 638.7L1755.5 638.7M1749.6 641.7L1761.4 642.3M1669.2 649.4L1671.6 638.7M1719.3 665.9L1719.9 675.3M1722.3 668.9L1719.9 675.3M1760.2 650L1755.5 638.7M1766 653.5L1761.4 642.3M1642.4 700.2L1633.4 709.7M1706.8 680.7L1719.9 675.3M1731 684.8L1719.9 675.3M1625.2 707.9L1633.4 709.7M1628.1 707.7L1633.4 709.7M1793.7 98.2L1786 96.4M1848 94.1L1855.7 92.9M1865.1 101.2L1855.7 92.9M1775.3 106.5L1786 96.4M1886.7 154.9L1890.7 166.1M1889.6 154.3L1890.7 166.1M1764.2 159.6L1758.1 166.1M1769.5 163.8L1764 169.7M1759.5 157.9L1758.1 166.1M1883.1 164.4L1890.7 166.1M1885.4 164.9L1890.7 166.1M1888.3 176.8L1890.7 166.1M1861.5 227.6L1852.5 237.1M1815.1 270.1L1813.3 280.8M1859.6 248.9L1852.5 237.1M1844.3 235.3L1852.5 237.1M1847.2 235.1L1852.5 237.1M1824 280.8L1813.3 280.8M1826.9 281.1L1813.3 280.8M1800.9 280.2L1813.3 280.8M1803.9 280.2L1813.3 280.8M1815 292.6L1813.3 280.8M1859.8 317.4L1854.4 329.2M1777.7 322.1L1784.7 332.7M1792.4 334.5L1784.7 332.7M1846.7 330.4L1854.4 329.2M1863.8 337.5L1854.4 329.2M1774 342.8L1784.7 332.7M1885.4 391.2L1889.4 402.4M1888.3 390.6L1889.4 402.4M1762.9 395.9L1756.8 402.4M1768.2 400.1L1762.7 406M1758.2 394.2L1756.8 402.4M1881.8 400.7L1889.4 402.4M1884.1 401.2L1889.4 402.4M1887 413.1L1889.4 402.4M1860.2 463.9L1851.2 473.4M1813.9 506.4L1812 517.1M1858.3 485.2L1851.2 473.4M1843 471.6L1851.2 473.4M1845.9 471.4L1851.2 473.4M1822.7 517.1L1812 517.1M1825.6 517.4L1812 517.1M1799.6 516.5L1812 517.1M1802.6 516.5L1812 517.1M1813.7 528.9L1812 517.1M1858.5 553.7L1853.1 565.5M1776.4 558.4L1783.4 569M1791.1 570.8L1783.4 569M1845.4 566.7L1853.1 565.5M1862.5 573.8L1853.1 565.5M1772.7 579.1L1783.4 569M1884.1 627.5L1888.1 638.7M1887 626.9L1888.1 638.7M1761.6 632.2L1755.5 638.7M1766.9 636.4L1761.4 642.3M1756.9 630.5L1755.5 638.7M1880.5 637L1888.1 638.7M1882.8 637.5L1888.1 638.7M1885.7 649.4L1888.1 638.7M1858.9 700.2L1849.9 709.7M1841.7 707.9L1849.9 709.7M1844.6 707.7L1849.9 709.7" stroke="#cdb4e2" stroke-width="1.7" fill="none"/>
<path d="M1550.9 188.6L1546.3 177.4M1550.9 188.6L1552 201M1556.8 192.1L1552.1 180.9M1556.8 192.1L1555 202.7M1549.6 424.9L1545 413.7M1549.6 424.9L1550.7 437.3M1555.5 428.4L1550.8 417.2M1555.5 428.4L1553.7 439M1548.3 661.2L1543.7 650M1548.3 661.2L1549.4 673.6M1554.2 664.7L1549.5 653.5M1554.2 664.7L1552.4 675.3M1584.8 100L1577.2 98.2M1584.8 100L1594.9 96.4M1623.8 95.3L1614.4 94.1M1623.8 95.3L1631.5 94.1M1607.2 107.1L1606.1 100M1607.2 107.1L1607.8 117.1M1608.4 115.3L1606.7 104.1M1608.4 115.3L1608.3 121.2M1658 109.4L1648.6 101.2M1658 109.4L1666.2 118.9M1548.1 116.5L1558.8 106.5M1548.1 116.5L1544.9 128.3M1588.1 140.1L1598.2 133.6M1588.1 140.1L1582.2 149.6M1629.5 142.5L1618.9 134.8M1629.5 142.5L1635.3 153.1M1695.7 120.1L1685.1 124.2M1695.7 120.1L1708.7 122.4M1666.1 143.7L1670.3 136M1666.1 143.7L1670.2 154.9M1672 142.5L1673.2 135.4M1672 142.5L1673.1 154.3M1716.9 140.1L1719.3 132.5M1716.9 140.1L1716.8 150.8M1721.6 141.3L1721.7 133.1M1721.6 141.3L1722.7 154.3M1733.4 146L1745.8 143.1M1733.4 146L1728.6 156.7M1553.8 153.1L1565 156.1M1553.8 153.1L1547.7 159.6M1558.5 157.9L1567.4 158.5M1558.5 157.9L1553 163.8M1544.4 149.6L1543.1 144.9M1544.4 149.6L1543 157.9M1658.9 162.6L1650 163.2M1658.9 162.6L1666.6 164.4M1663.6 163.8L1652.4 163.8M1663.6 163.8L1668.9 164.9M1697.8 167.3L1686 166.7M1697.8 167.3L1707.3 164.4M1736.8 166.1L1726.8 163.8M1736.8 166.1L1747.5 166.1M1740.4 168.5L1732.1 167.9M1740.4 168.5L1752.2 169.1M1587.9 182.7L1582.1 170.9M1587.9 182.7L1580.8 191.5M1593.8 182.7L1585 170.9M1593.8 182.7L1583.7 191.5M1629.2 186.2L1635.2 175M1629.2 186.2L1618.6 192.7M1669.4 187.4L1671.8 176.8M1669.4 187.4L1671.1 194.5M1721.4 183.8L1719.1 172.6M1721.4 183.8L1721.9 193.3M1727.3 189.8L1725.5 178.5M1727.3 189.8L1724.9 196.3M1767.4 188.6L1762.8 177.4M1767.4 188.6L1768.5 201M1773.3 192.1L1768.6 180.9M1773.3 192.1L1771.5 202.7M1583 221.6L1578.3 211M1583 221.6L1590.6 228.2M1606.6 214.6L1607.3 206.9M1606.6 214.6L1606.6 224.6M1610.1 222.8L1609 211M1610.1 222.8L1608.3 228.8M1653.9 218.1L1663.4 209.8M1653.9 218.1L1645 227.6M1696.4 213.4L1684.6 207.5M1696.4 213.4L1709.4 208.1M1744.8 221.6L1733.6 212.2M1744.8 221.6L1757.2 217.5M1569.9 227.6L1561.5 220.5M1569.9 227.6L1584.1 231.1M1561.8 206.3L1567.7 203.3M1561.8 206.3L1557.5 209.8M1600.5 259.5L1599.4 247.1M1600.5 259.5L1603.5 247.1M1600.5 259.5L1598.6 270.1M1650.1 260.7L1643.1 248.9M1650.1 260.7L1642.9 271.9M1619.5 233.5L1613 234.1M1619.5 233.5L1627.8 235.3M1625.4 233L1616 233.9M1625.4 233L1630.7 235.1M1618.1 280.8L1607.5 280.8M1618.1 280.8L1626.9 281.9M1624 281.5L1610.4 281.1M1624 281.5L1629.9 282.3M1572 279.6L1584.4 280.2M1572 279.6L1566.7 282.5M1577.9 279.6L1587.4 280.2M1577.9 279.6L1569.6 282.5M1600.2 304.4L1598.5 292.6M1600.2 304.4L1601.9 316.8M1648.7 305.6L1642.2 294.4M1648.7 305.6L1643.3 317.4M1554.1 311.5L1557.7 298.5M1554.1 311.5L1561.2 322.1M1583.5 336.3L1575.9 334.5M1583.5 336.3L1593.6 332.7M1622.5 331.6L1613.1 330.4M1622.5 331.6L1630.2 330.4M1605.9 343.4L1604.8 336.3M1605.9 343.4L1606.5 353.4M1607.1 351.6L1605.4 340.4M1607.1 351.6L1607 357.5M1656.7 345.7L1647.3 337.5M1656.7 345.7L1664.9 355.2M1546.8 352.8L1557.5 342.8M1546.8 352.8L1543.6 364.6M1586.8 376.4L1596.9 369.9M1586.8 376.4L1580.9 385.9M1628.2 378.8L1617.6 371.1M1628.2 378.8L1634 389.4M1694.4 356.4L1683.8 360.5M1694.4 356.4L1707.4 358.7M1664.8 380L1669 372.3M1664.8 380L1668.9 391.2M1670.7 378.8L1671.9 371.7M1670.7 378.8L1671.8 390.6M1715.6 376.4L1718 368.8M1715.6 376.4L1715.5 387.1M1720.3 377.6L1720.4 369.4M1720.3 377.6L1721.4 390.6M1732.1 382.3L1744.5 379.4M1732.1 382.3L1727.3 393M1552.5 389.4L1563.7 392.4M1552.5 389.4L1546.4 395.9M1557.2 394.2L1566.1 394.8M1557.2 394.2L1551.7 400.1M1543.1 385.9L1541.8 381.2M1543.1 385.9L1541.7 394.2M1657.6 398.9L1648.7 399.5M1657.6 398.9L1665.3 400.7M1662.3 400.1L1651.1 400.1M1662.3 400.1L1667.6 401.2M1696.5 403.6L1684.7 403M1696.5 403.6L1706 400.7M1735.5 402.4L1725.5 400.1M1735.5 402.4L1746.2 402.4M1739.1 404.8L1730.8 404.2M1739.1 404.8L1750.9 405.4M1586.6 419L1580.8 407.2M1586.6 419L1579.5 427.8M1592.5 419L1583.7 407.2M1592.5 419L1582.4 427.8M1627.9 422.5L1633.9 411.3M1627.9 422.5L1617.3 429M1668.1 423.7L1670.5 413.1M1668.1 423.7L1669.8 430.8M1720.1 420.1L1717.8 408.9M1720.1 420.1L1720.6 429.6M1726 426.1L1724.2 414.8M1726 426.1L1723.6 432.6M1766.1 424.9L1761.5 413.7M1766.1 424.9L1767.2 437.3M1772 428.4L1767.3 417.2M1772 428.4L1770.2 439M1581.7 457.9L1577 447.3M1581.7 457.9L1589.3 464.5M1605.3 450.9L1606 443.2M1605.3 450.9L1605.3 460.9M1608.8 459.1L1607.7 447.3M1608.8 459.1L1607 465.1M1652.6 454.4L1662.1 446.1M1652.6 454.4L1643.7 463.9M1695.1 449.7L1683.3 443.8M1695.1 449.7L1708.1 444.4M1743.5 457.9L1732.3 448.5M1743.5 457.9L1755.9 453.8M1568.6 463.9L1560.2 456.8M1568.6 463.9L1582.8 467.4M1560.5 442.6L1566.4 439.6M1560.5 442.6L1556.2 446.1M1599.2 495.8L1598.1 483.4M1599.2 495.8L1602.2 483.4M1599.2 495.8L1597.4 506.4M1648.8 497L1641.8 485.2M1648.8 497L1641.6 508.2M1618.2 469.8L1611.7 470.4M1618.2 469.8L1626.5 471.6M1624.1 469.3L1614.7 470.2M1624.1 469.3L1629.4 471.4M1616.8 517.1L1606.2 517.1M1616.8 517.1L1625.6 518.2M1622.7 517.8L1609.1 517.4M1622.7 517.8L1628.6 518.6M1570.7 515.9L1583.1 516.5M1570.7 515.9L1565.4 518.8M1576.6 515.9L1586.1 516.5M1576.6 515.9L1568.3 518.8M1598.9 540.7L1597.2 528.9M1598.9 540.7L1600.6 553.1M1647.4 541.9L1640.9 530.7M1647.4 541.9L1642 553.7M1552.8 547.8L1556.4 534.8M1552.8 547.8L1559.9 558.4M1582.2 572.6L1574.6 570.8M1582.2 572.6L1592.3 569M1621.2 567.9L1611.8 566.7M1621.2 567.9L1628.9 566.7M1604.6 579.7L1603.5 572.6M1604.6 579.7L1605.2 589.7M1605.8 587.9L1604.1 576.7M1605.8 587.9L1605.7 593.8M1655.4 582L1646 573.8M1655.4 582L1663.6 591.5M1545.5 589.1L1556.2 579.1M1545.5 589.1L1542.3 600.9M1585.5 612.7L1595.6 606.2M1585.5 612.7L1579.6 622.2M1626.9 615.1L1616.3 607.4M1626.9 615.1L1632.7 625.7M1693.1 592.7L1682.5 596.8M1693.1 592.7L1706.1 595M1663.5 616.3L1667.7 608.6M1663.5 616.3L1667.6 627.5M1669.4 615.1L1670.6 608M1669.4 615.1L1670.5 626.9M1714.3 612.7L1716.7 605.1M1714.3 612.7L1714.2 623.4M1719 613.9L1719.1 605.7M1719 613.9L1720.1 626.9M1730.8 618.6L1743.2 615.7M1730.8 618.6L1726 629.3M1551.2 625.7L1562.4 628.7M1551.2 625.7L1545.1 632.2M1555.9 630.5L1564.8 631.1M1555.9 630.5L1550.4 636.4M1541.8 622.2L1540.5 617.5M1541.8 622.2L1540.4 630.5M1656.3 635.2L1647.4 635.8M1656.3 635.2L1664 637M1661 636.4L1649.8 636.4M1661 636.4L1666.3 637.5M1695.2 639.9L1683.4 639.3M1695.2 639.9L1704.7 637M1734.2 638.7L1724.2 636.4M1734.2 638.7L1744.9 638.7M1737.8 641.1L1729.5 640.5M1737.8 641.1L1749.6 641.7M1585.3 655.3L1579.5 643.5M1585.3 655.3L1578.2 664.1M1591.2 655.3L1582.4 643.5M1591.2 655.3L1581.1 664.1M1626.6 658.8L1632.6 647.6M1626.6 658.8L1616 665.3M1666.8 660L1669.2 649.4M1666.8 660L1668.5 667.1M1718.8 656.4L1716.5 645.2M1718.8 656.4L1719.3 665.9M1724.7 662.4L1722.9 651.1M1724.7 662.4L1722.3 668.9M1764.8 661.2L1760.2 650M1764.8 661.2L1765.9 673.6M1770.7 664.7L1766 653.5M1770.7 664.7L1768.9 675.3M1580.4 694.2L1575.7 683.6M1580.4 694.2L1588 700.8M1604 687.2L1604.7 679.5M1604 687.2L1604 697.2M1607.5 695.4L1606.4 683.6M1607.5 695.4L1605.7 701.4M1651.3 690.7L1660.8 682.4M1651.3 690.7L1642.4 700.2M1693.8 686L1682 680.1M1693.8 686L1706.8 680.7M1742.2 694.2L1731 684.8M1742.2 694.2L1754.6 690.1M1567.3 700.2L1558.9 693.1M1567.3 700.2L1581.5 703.7M1559.2 678.9L1565.1 675.9M1559.2 678.9L1554.9 682.4M1616.9 706.1L1610.4 706.7M1616.9 706.1L1625.2 707.9M1622.8 705.6L1613.4 706.5M1622.8 705.6L1628.1 707.7M1801.3 100L1793.7 98.2M1801.3 100L1811.4 96.4M1840.3 95.3L1830.9 94.1M1840.3 95.3L1848 94.1M1823.7 107.1L1822.6 100M1823.7 107.1L1824.3 117.1M1824.9 115.3L1823.2 104.1M1824.9 115.3L1824.8 121.2M1874.5 109.4L1865.1 101.2M1874.5 109.4L1882.7 118.9M1764.6 116.5L1775.3 106.5M1764.6 116.5L1761.4 128.3M1804.6 140.1L1814.7 133.6M1804.6 140.1L1798.7 149.6M1846 142.5L1835.4 134.8M1846 142.5L1851.8 153.1M1882.6 143.7L1886.8 136M1882.6 143.7L1886.7 154.9M1888.5 142.5L1889.7 135.4M1888.5 142.5L1889.6 154.3M1770.3 153.1L1781.5 156.1M1770.3 153.1L1764.2 159.6M1775 157.9L1783.9 158.5M1775 157.9L1769.5 163.8M1760.9 149.6L1759.6 144.9M1760.9 149.6L1759.5 157.9M1875.4 162.6L1866.5 163.2M1875.4 162.6L1883.1 164.4M1880.1 163.8L1868.9 163.8M1880.1 163.8L1885.4 164.9M1804.4 182.7L1798.6 170.9M1804.4 182.7L1797.3 191.5M1810.3 182.7L1801.5 170.9M1810.3 182.7L1800.2 191.5M1845.7 186.2L1851.7 175M1845.7 186.2L1835.1 192.7M1885.9 187.4L1888.3 176.8M1885.9 187.4L1887.6 194.5M1799.5 221.6L1794.8 211M1799.5 221.6L1807.1 228.2M1823.1 214.6L1823.8 206.9M1823.1 214.6L1823.1 224.6M1826.6 222.8L1825.5 211M1826.6 222.8L1824.8 228.8M1870.4 218.1L1879.9 209.8M1870.4 218.1L1861.5 227.6M1786.4 227.6L1778 220.5M1786.4 227.6L1800.6 231.1M1778.3 206.3L1784.2 203.3M1778.3 206.3L1774 209.8M1817 259.5L1815.9 247.1M1817 259.5L1820 247.1M1817 259.5L1815.1 270.1M1866.6 260.7L1859.6 248.9M1866.6 260.7L1859.4 271.9M1836 233.5L1829.5 234.1M1836 233.5L1844.3 235.3M1841.9 233L1832.5 233.9M1841.9 233L1847.2 235.1M1834.6 280.8L1824 280.8M1834.6 280.8L1843.4 281.9M1840.5 281.5L1826.9 281.1M1840.5 281.5L1846.4 282.3M1788.5 279.6L1800.9 280.2M1788.5 279.6L1783.2 282.5M1794.4 279.6L1803.9 280.2M1794.4 279.6L1786.1 282.5M1816.7 304.4L1815 292.6M1816.7 304.4L1818.4 316.8M1865.2 305.6L1858.7 294.4M1865.2 305.6L1859.8 317.4M1770.6 311.5L1774.2 298.5M1770.6 311.5L1777.7 322.1M1800 336.3L1792.4 334.5M1800 336.3L1810.1 332.7M1839 331.6L1829.6 330.4M1839 331.6L1846.7 330.4M1822.4 343.4L1821.3 336.3M1822.4 343.4L1823 353.4M1823.6 351.6L1821.9 340.4M1823.6 351.6L1823.5 357.5M1873.2 345.7L1863.8 337.5M1873.2 345.7L1881.4 355.2M1763.3 352.8L1774 342.8M1763.3 352.8L1760.1 364.6M1803.3 376.4L1813.4 369.9M1803.3 376.4L1797.4 385.9M1844.7 378.8L1834.1 371.1M1844.7 378.8L1850.5 389.4M1881.3 380L1885.5 372.3M1881.3 380L1885.4 391.2M1887.2 378.8L1888.4 371.7M1887.2 378.8L1888.3 390.6M1769 389.4L1780.2 392.4M1769 389.4L1762.9 395.9M1773.7 394.2L1782.6 394.8M1773.7 394.2L1768.2 400.1M1759.6 385.9L1758.3 381.2M1759.6 385.9L1758.2 394.2M1874.1 398.9L1865.2 399.5M1874.1 398.9L1881.8 400.7M1878.8 400.1L1867.6 400.1M1878.8 400.1L1884.1 401.2M1803.1 419L1797.3 407.2M1803.1 419L1796 427.8M1809 419L1800.2 407.2M1809 419L1798.9 427.8M1844.4 422.5L1850.4 411.3M1844.4 422.5L1833.8 429M1884.6 423.7L1887 413.1M1884.6 423.7L1886.3 430.8M1798.2 457.9L1793.5 447.3M1798.2 457.9L1805.8 464.5M1821.8 450.9L1822.5 443.2M1821.8 450.9L1821.8 460.9M1825.3 459.1L1824.2 447.3M1825.3 459.1L1823.5 465.1M1869.1 454.4L1878.6 446.1M1869.1 454.4L1860.2 463.9M1785.1 463.9L1776.7 456.8M1785.1 463.9L1799.3 467.4M1777 442.6L1782.9 439.6M1777 442.6L1772.7 446.1M1815.7 495.8L1814.6 483.4M1815.7 495.8L1818.7 483.4M1815.7 495.8L1813.9 506.4M1865.3 497L1858.3 485.2M1865.3 497L1858.1 508.2M1834.7 469.8L1828.2 470.4M1834.7 469.8L1843 471.6M1840.6 469.3L1831.2 470.2M1840.6 469.3L1845.9 471.4M1833.3 517.1L1822.7 517.1M1833.3 517.1L1842.1 518.2M1839.2 517.8L1825.6 517.4M1839.2 517.8L1845.1 518.6M1787.2 515.9L1799.6 516.5M1787.2 515.9L1781.9 518.8M1793.1 515.9L1802.6 516.5M1793.1 515.9L1784.8 518.8M1815.4 540.7L1813.7 528.9M1815.4 540.7L1817.1 553.1M1863.9 541.9L1857.4 530.7M1863.9 541.9L1858.5 553.7M1769.3 547.8L1772.9 534.8M1769.3 547.8L1776.4 558.4M1798.7 572.6L1791.1 570.8M1798.7 572.6L1808.8 569M1837.7 567.9L1828.3 566.7M1837.7 567.9L1845.4 566.7M1821.1 579.7L1820 572.6M1821.1 579.7L1821.7 589.7M1822.3 587.9L1820.6 576.7M1822.3 587.9L1822.2 593.8M1871.9 582L1862.5 573.8M1871.9 582L1880.1 591.5M1762 589.1L1772.7 579.1M1762 589.1L1758.8 600.9M1802 612.7L1812.1 606.2M1802 612.7L1796.1 622.2M1843.4 615.1L1832.8 607.4M1843.4 615.1L1849.2 625.7M1880 616.3L1884.2 608.6M1880 616.3L1884.1 627.5M1885.9 615.1L1887.1 608M1885.9 615.1L1887 626.9M1767.7 625.7L1778.9 628.7M1767.7 625.7L1761.6 632.2M1772.4 630.5L1781.3 631.1M1772.4 630.5L1766.9 636.4M1758.3 622.2L1757 617.5M1758.3 622.2L1756.9 630.5M1872.8 635.2L1863.9 635.8M1872.8 635.2L1880.5 637M1877.5 636.4L1866.3 636.4M1877.5 636.4L1882.8 637.5M1801.8 655.3L1796 643.5M1801.8 655.3L1794.7 664.1M1807.7 655.3L1798.9 643.5M1807.7 655.3L1797.6 664.1M1843.1 658.8L1849.1 647.6M1843.1 658.8L1832.5 665.3M1883.3 660L1885.7 649.4M1883.3 660L1885 667.1M1796.9 694.2L1792.2 683.6M1796.9 694.2L1804.5 700.8M1820.5 687.2L1821.2 679.5M1820.5 687.2L1820.5 697.2M1824 695.4L1822.9 683.6M1824 695.4L1822.2 701.4M1867.8 690.7L1877.3 682.4M1867.8 690.7L1858.9 700.2M1783.8 700.2L1775.4 693.1M1783.8 700.2L1798 703.7M1775.7 678.9L1781.6 675.9M1775.7 678.9L1771.4 682.4M1833.4 706.1L1826.9 706.7M1833.4 706.1L1841.7 707.9M1839.3 705.6L1829.9 706.5M1839.3 705.6L1844.6 707.7" stroke="#e01010" stroke-width="1.7" fill="none"/>
<g fill="url(#gO)"><circle cx="1623.8" cy="95.3" r="5.2"/><circle cx="1840.3" cy="95.3" r="5.2"/><circle cx="1584.8" cy="100" r="5.2"/><circle cx="1801.3" cy="100" r="5.2"/><circle cx="1607.2" cy="107.1" r="5.2"/><circle cx="1823.7" cy="107.1" r="5.2"/><circle cx="1658" cy="109.4" r="5.2"/><circle cx="1874.5" cy="109.4" r="5.2"/><circle cx="1608.4" cy="115.3" r="5.2"/><circle cx="1824.9" cy="115.3" r="5.2"/><circle cx="1548.1" cy="116.5" r="5.2"/><circle cx="1764.6" cy="116.5" r="5.2"/><circle cx="1695.7" cy="120.1" r="5.2"/><circle cx="1588.1" cy="140.1" r="5.2"/><circle cx="1716.9" cy="140.1" r="5.2"/><circle cx="1804.6" cy="140.1" r="5.2"/><circle cx="1721.6" cy="141.3" r="5.2"/><circle cx="1629.5" cy="142.5" r="5.2"/><circle cx="1672" cy="142.5" r="5.2"/><circle cx="1846" cy="142.5" r="5.2"/><circle cx="1888.5" cy="142.5" r="5.2"/><circle cx="1666.1" cy="143.7" r="5.2"/><circle cx="1882.6" cy="143.7" r="5.2"/><circle cx="1733.4" cy="146" r="5.2"/><circle cx="1544.4" cy="149.6" r="5.2"/><circle cx="1760.9" cy="149.6" r="5.2"/><circle cx="1553.8" cy="153.1" r="5.2"/><circle cx="1770.3" cy="153.1" r="5.2"/><circle cx="1558.5" cy="157.9" r="5.2"/><circle cx="1775" cy="157.9" r="5.2"/><circle cx="1658.9" cy="162.6" r="5.2"/><circle cx="1875.4" cy="162.6" r="5.2"/><circle cx="1663.6" cy="163.8" r="5.2"/><circle cx="1880.1" cy="163.8" r="5.2"/><circle cx="1736.8" cy="166.1" r="5.2"/><circle cx="1697.8" cy="167.3" r="5.2"/><circle cx="1740.4" cy="168.5" r="5.2"/><circle cx="1587.9" cy="182.7" r="5.2"/><circle cx="1593.8" cy="182.7" r="5.2"/><circle cx="1804.4" cy="182.7" r="5.2"/><circle cx="1810.3" cy="182.7" r="5.2"/><circle cx="1721.4" cy="183.8" r="5.2"/><circle cx="1629.2" cy="186.2" r="5.2"/><circle cx="1845.7" cy="186.2" r="5.2"/><circle cx="1669.4" cy="187.4" r="5.2"/><circle cx="1885.9" cy="187.4" r="5.2"/><circle cx="1550.9" cy="188.6" r="5.2"/><circle cx="1767.4" cy="188.6" r="5.2"/><circle cx="1727.3" cy="189.8" r="5.2"/><circle cx="1556.8" cy="192.1" r="5.2"/><circle cx="1773.3" cy="192.1" r="5.2"/><circle cx="1561.8" cy="206.3" r="5.2"/><circle cx="1778.3" cy="206.3" r="5.2"/><circle cx="1696.4" cy="213.4" r="5.2"/><circle cx="1606.6" cy="214.6" r="5.2"/><circle cx="1823.1" cy="214.6" r="5.2"/><circle cx="1653.9" cy="218.1" r="5.2"/><circle cx="1870.4" cy="218.1" r="5.2"/><circle cx="1583" cy="221.6" r="5.2"/><circle cx="1744.8" cy="221.6" r="5.2"/><circle cx="1799.5" cy="221.6" r="5.2"/><circle cx="1610.1" cy="222.8" r="5.2"/><circle cx="1826.6" cy="222.8" r="5.2"/><circle cx="1569.9" cy="227.6" r="5.2"/><circle cx="1786.4" cy="227.6" r="5.2"/><circle cx="1625.4" cy="233" r="5.2"/><circle cx="1841.9" cy="233" r="5.2"/><circle cx="1619.5" cy="233.5" r="5.2"/><circle cx="1836" cy="233.5" r="5.2"/><circle cx="1600.5" cy="259.5" r="5.2"/><circle cx="1817" cy="259.5" r="5.2"/><circle cx="1650.1" cy="260.7" r="5.2"/><circle cx="1866.6" cy="260.7" r="5.2"/><circle cx="1572" cy="279.6" r="5.2"/><circle cx="1577.9" cy="279.6" r="5.2"/><circle cx="1788.5" cy="279.6" r="5.2"/><circle cx="1794.4" cy="279.6" r="5.2"/><circle cx="1618.1" cy="280.8" r="5.2"/><circle cx="1834.6" cy="280.8" r="5.2"/><circle cx="1624" cy="281.5" r="5.2"/><circle cx="1840.5" cy="281.5" r="5.2"/><circle cx="1600.2" cy="304.4" r="5.2"/><circle cx="1816.7" cy="304.4" r="5.2"/><circle cx="1648.7" cy="305.6" r="5.2"/><circle cx="1865.2" cy="305.6" r="5.2"/><circle cx="1554.1" cy="311.5" r="5.2"/><circle cx="1770.6" cy="311.5" r="5.2"/><circle cx="1622.5" cy="331.6" r="5.2"/><circle cx="1839" cy="331.6" r="5.2"/><circle cx="1583.5" cy="336.3" r="5.2"/><circle cx="1800" cy="336.3" r="5.2"/><circle cx="1605.9" cy="343.4" r="5.2"/><circle cx="1822.4" cy="343.4" r="5.2"/><circle cx="1656.7" cy="345.7" r="5.2"/><circle cx="1873.2" cy="345.7" r="5.2"/><circle cx="1607.1" cy="351.6" r="5.2"/><circle cx="1823.6" cy="351.6" r="5.2"/><circle cx="1546.8" cy="352.8" r="5.2"/><circle cx="1763.3" cy="352.8" r="5.2"/><circle cx="1694.4" cy="356.4" r="5.2"/><circle cx="1586.8" cy="376.4" r="5.2"/><circle cx="1715.6" cy="376.4" r="5.2"/><circle cx="1803.3" cy="376.4" r="5.2"/><circle cx="1720.3" cy="377.6" r="5.2"/><circle cx="1628.2" cy="378.8" r="5.2"/><circle cx="1670.7" cy="378.8" r="5.2"/><circle cx="1844.7" cy="378.8" r="5.2"/><circle cx="1887.2" cy="378.8" r="5.2"/><circle cx="1664.8" cy="380" r="5.2"/><circle cx="1881.3" cy="380" r="5.2"/><circle cx="1732.1" cy="382.3" r="5.2"/><circle cx="1543.1" cy="385.9" r="5.2"/><circle cx="1759.6" cy="385.9" r="5.2"/><circle cx="1552.5" cy="389.4" r="5.2"/><circle cx="1769" cy="389.4" r="5.2"/><circle cx="1557.2" cy="394.2" r="5.2"/><circle cx="1773.7" cy="394.2" r="5.2"/><circle cx="1657.6" cy="398.9" r="5.2"/><circle cx="1874.1" cy="398.9" r="5.2"/><circle cx="1662.3" cy="400.1" r="5.2"/><circle cx="1878.8" cy="400.1" r="5.2"/><circle cx="1735.5" cy="402.4" r="5.2"/><circle cx="1696.5" cy="403.6" r="5.2"/><circle cx="1739.1" cy="404.8" r="5.2"/><circle cx="1586.6" cy="419" r="5.2"/><circle cx="1592.5" cy="419" r="5.2"/><circle cx="1803.1" cy="419" r="5.2"/><circle cx="1809" cy="419" r="5.2"/><circle cx="1720.1" cy="420.1" r="5.2"/><circle cx="1627.9" cy="422.5" r="5.2"/><circle cx="1844.4" cy="422.5" r="5.2"/><circle cx="1668.1" cy="423.7" r="5.2"/><circle cx="1884.6" cy="423.7" r="5.2"/><circle cx="1549.6" cy="424.9" r="5.2"/><circle cx="1766.1" cy="424.9" r="5.2"/><circle cx="1726" cy="426.1" r="5.2"/><circle cx="1555.5" cy="428.4" r="5.2"/><circle cx="1772" cy="428.4" r="5.2"/><circle cx="1560.5" cy="442.6" r="5.2"/><circle cx="1777" cy="442.6" r="5.2"/><circle cx="1695.1" cy="449.7" r="5.2"/><circle cx="1605.3" cy="450.9" r="5.2"/><circle cx="1821.8" cy="450.9" r="5.2"/><circle cx="1652.6" cy="454.4" r="5.2"/><circle cx="1869.1" cy="454.4" r="5.2"/><circle cx="1581.7" cy="457.9" r="5.2"/><circle cx="1743.5" cy="457.9" r="5.2"/><circle cx="1798.2" cy="457.9" r="5.2"/><circle cx="1608.8" cy="459.1" r="5.2"/><circle cx="1825.3" cy="459.1" r="5.2"/><circle cx="1568.6" cy="463.9" r="5.2"/><circle cx="1785.1" cy="463.9" r="5.2"/><circle cx="1624.1" cy="469.3" r="5.2"/><circle cx="1840.6" cy="469.3" r="5.2"/><circle cx="1618.2" cy="469.8" r="5.2"/><circle cx="1834.7" cy="469.8" r="5.2"/><circle cx="1599.2" cy="495.8" r="5.2"/><circle cx="1815.7" cy="495.8" r="5.2"/><circle cx="1648.8" cy="497" r="5.2"/><circle cx="1865.3" cy="497" r="5.2"/><circle cx="1570.7" cy="515.9" r="5.2"/><circle cx="1576.6" cy="515.9" r="5.2"/><circle cx="1787.2" cy="515.9" r="5.2"/><circle cx="1793.1" cy="515.9" r="5.2"/><circle cx="1616.8" cy="517.1" r="5.2"/><circle cx="1833.3" cy="517.1" r="5.2"/><circle cx="1622.7" cy="517.8" r="5.2"/><circle cx="1839.2" cy="517.8" r="5.2"/><circle cx="1598.9" cy="540.7" r="5.2"/><circle cx="1815.4" cy="540.7" r="5.2"/><circle cx="1647.4" cy="541.9" r="5.2"/><circle cx="1863.9" cy="541.9" r="5.2"/><circle cx="1552.8" cy="547.8" r="5.2"/><circle cx="1769.3" cy="547.8" r="5.2"/><circle cx="1621.2" cy="567.9" r="5.2"/><circle cx="1837.7" cy="567.9" r="5.2"/><circle cx="1582.2" cy="572.6" r="5.2"/><circle cx="1798.7" cy="572.6" r="5.2"/><circle cx="1604.6" cy="579.7" r="5.2"/><circle cx="1821.1" cy="579.7" r="5.2"/><circle cx="1655.4" cy="582" r="5.2"/><circle cx="1871.9" cy="582" r="5.2"/><circle cx="1605.8" cy="587.9" r="5.2"/><circle cx="1822.3" cy="587.9" r="5.2"/><circle cx="1545.5" cy="589.1" r="5.2"/><circle cx="1762" cy="589.1" r="5.2"/><circle cx="1693.1" cy="592.7" r="5.2"/><circle cx="1585.5" cy="612.7" r="5.2"/><circle cx="1714.3" cy="612.7" r="5.2"/><circle cx="1802" cy="612.7" r="5.2"/><circle cx="1719" cy="613.9" r="5.2"/><circle cx="1626.9" cy="615.1" r="5.2"/><circle cx="1669.4" cy="615.1" r="5.2"/><circle cx="1843.4" cy="615.1" r="5.2"/><circle cx="1885.9" cy="615.1" r="5.2"/><circle cx="1663.5" cy="616.3" r="5.2"/><circle cx="1880" cy="616.3" r="5.2"/><circle cx="1730.8" cy="618.6" r="5.2"/><circle cx="1541.8" cy="622.2" r="5.2"/><circle cx="1758.3" cy="622.2" r="5.2"/><circle cx="1551.2" cy="625.7" r="5.2"/><circle cx="1767.7" cy="625.7" r="5.2"/><circle cx="1555.9" cy="630.5" r="5.2"/><circle cx="1772.4" cy="630.5" r="5.2"/><circle cx="1656.3" cy="635.2" r="5.2"/><circle cx="1872.8" cy="635.2" r="5.2"/><circle cx="1661" cy="636.4" r="5.2"/><circle cx="1877.5" cy="636.4" r="5.2"/><circle cx="1734.2" cy="638.7" r="5.2"/><circle cx="1695.2" cy="639.9" r="5.2"/><circle cx="1737.8" cy="641.1" r="5.2"/><circle cx="1585.3" cy="655.3" r="5.2"/><circle cx="1591.2" cy="655.3" r="5.2"/><circle cx="1801.8" cy="655.3" r="5.2"/><circle cx="1807.7" cy="655.3" r="5.2"/><circle cx="1718.8" cy="656.4" r="5.2"/><circle cx="1626.6" cy="658.8" r="5.2"/><circle cx="1843.1" cy="658.8" r="5.2"/><circle cx="1666.8" cy="660" r="5.2"/><circle cx="1883.3" cy="660" r="5.2"/><circle cx="1548.3" cy="661.2" r="5.2"/><circle cx="1764.8" cy="661.2" r="5.2"/><circle cx="1724.7" cy="662.4" r="5.2"/><circle cx="1554.2" cy="664.7" r="5.2"/><circle cx="1770.7" cy="664.7" r="5.2"/><circle cx="1559.2" cy="678.9" r="5.2"/><circle cx="1775.7" cy="678.9" r="5.2"/><circle cx="1693.8" cy="686" r="5.2"/><circle cx="1604" cy="687.2" r="5.2"/><circle cx="1820.5" cy="687.2" r="5.2"/><circle cx="1651.3" cy="690.7" r="5.2"/><circle cx="1867.8" cy="690.7" r="5.2"/><circle cx="1580.4" cy="694.2" r="5.2"/><circle cx="1742.2" cy="694.2" r="5.2"/><circle cx="1796.9" cy="694.2" r="5.2"/><circle cx="1607.5" cy="695.4" r="5.2"/><circle cx="1824" cy="695.4" r="5.2"/><circle cx="1567.3" cy="700.2" r="5.2"/><circle cx="1783.8" cy="700.2" r="5.2"/><circle cx="1622.8" cy="705.6" r="5.2"/><circle cx="1839.3" cy="705.6" r="5.2"/><circle cx="1616.9" cy="706.1" r="5.2"/><circle cx="1833.4" cy="706.1" r="5.2"/></g>
<g fill="url(#gP)"><circle cx="1639.2" cy="92.9" r="8.6"/><circle cx="1855.7" cy="92.9" r="8.6"/><circle cx="1569.5" cy="96.4" r="8.6"/><circle cx="1786" cy="96.4" r="8.6"/><circle cx="1721.7" cy="124.8" r="8.6"/><circle cx="1608.3" cy="127.2" r="8.6"/><circle cx="1824.8" cy="127.2" r="8.6"/><circle cx="1541.6" cy="166.1" r="8.6"/><circle cx="1674.2" cy="166.1" r="8.6"/><circle cx="1758.1" cy="166.1" r="8.6"/><circle cx="1890.7" cy="166.1" r="8.6"/><circle cx="1547.5" cy="169.7" r="8.6"/><circle cx="1764" cy="169.7" r="8.6"/><circle cx="1722.5" cy="202.7" r="8.6"/><circle cx="1636" cy="237.1" r="8.6"/><circle cx="1852.5" cy="237.1" r="8.6"/><circle cx="1596.8" cy="280.8" r="8.6"/><circle cx="1813.3" cy="280.8" r="8.6"/><circle cx="1637.9" cy="329.2" r="8.6"/><circle cx="1854.4" cy="329.2" r="8.6"/><circle cx="1568.2" cy="332.7" r="8.6"/><circle cx="1784.7" cy="332.7" r="8.6"/><circle cx="1720.4" cy="361.1" r="8.6"/><circle cx="1540.3" cy="402.4" r="8.6"/><circle cx="1672.9" cy="402.4" r="8.6"/><circle cx="1756.8" cy="402.4" r="8.6"/><circle cx="1889.4" cy="402.4" r="8.6"/><circle cx="1546.2" cy="406" r="8.6"/><circle cx="1762.7" cy="406" r="8.6"/><circle cx="1721.2" cy="439" r="8.6"/><circle cx="1634.7" cy="473.4" r="8.6"/><circle cx="1851.2" cy="473.4" r="8.6"/><circle cx="1595.5" cy="517.1" r="8.6"/><circle cx="1812" cy="517.1" r="8.6"/><circle cx="1636.6" cy="565.5" r="8.6"/><circle cx="1853.1" cy="565.5" r="8.6"/><circle cx="1566.9" cy="569" r="8.6"/><circle cx="1783.4" cy="569" r="8.6"/><circle cx="1719.1" cy="597.4" r="8.6"/><circle cx="1539" cy="638.7" r="8.6"/><circle cx="1671.6" cy="638.7" r="8.6"/><circle cx="1755.5" cy="638.7" r="8.6"/><circle cx="1888.1" cy="638.7" r="8.6"/><circle cx="1544.9" cy="642.3" r="8.6"/><circle cx="1761.4" cy="642.3" r="8.6"/><circle cx="1719.9" cy="675.3" r="8.6"/><circle cx="1633.4" cy="709.7" r="8.6"/><circle cx="1849.9" cy="709.7" r="8.6"/></g>
<g fill="url(#gB)"><circle cx="1604.9" cy="92.9" r="8.6"/><circle cx="1821.4" cy="92.9" r="8.6"/><circle cx="1674.4" cy="128.3" r="8.6"/><circle cx="1890.9" cy="128.3" r="8.6"/><circle cx="1541.7" cy="140.1" r="8.6"/><circle cx="1758.2" cy="140.1" r="8.6"/><circle cx="1576.2" cy="159" r="8.6"/><circle cx="1792.7" cy="159" r="8.6"/><circle cx="1716.8" cy="161.4" r="8.6"/><circle cx="1641.2" cy="163.8" r="8.6"/><circle cx="1857.7" cy="163.8" r="8.6"/><circle cx="1723.8" cy="167.3" r="8.6"/><circle cx="1607.9" cy="199.2" r="8.6"/><circle cx="1824.4" cy="199.2" r="8.6"/><circle cx="1573.6" cy="200.4" r="8.6"/><circle cx="1790.1" cy="200.4" r="8.6"/><circle cx="1672.9" cy="201.6" r="8.6"/><circle cx="1889.4" cy="201.6" r="8.6"/><circle cx="1553.1" cy="213.4" r="8.6"/><circle cx="1769.6" cy="213.4" r="8.6"/><circle cx="1598.3" cy="234.7" r="8.6"/><circle cx="1606.5" cy="234.7" r="8.6"/><circle cx="1814.8" cy="234.7" r="8.6"/><circle cx="1823" cy="234.7" r="8.6"/><circle cx="1635.8" cy="283.1" r="8.6"/><circle cx="1852.3" cy="283.1" r="8.6"/><circle cx="1561.4" cy="285.5" r="8.6"/><circle cx="1777.9" cy="285.5" r="8.6"/><circle cx="1603.6" cy="329.2" r="8.6"/><circle cx="1820.1" cy="329.2" r="8.6"/><circle cx="1607" cy="363.5" r="8.6"/><circle cx="1823.5" cy="363.5" r="8.6"/><circle cx="1673.1" cy="364.6" r="8.6"/><circle cx="1889.6" cy="364.6" r="8.6"/><circle cx="1540.4" cy="376.4" r="8.6"/><circle cx="1756.9" cy="376.4" r="8.6"/><circle cx="1574.9" cy="395.3" r="8.6"/><circle cx="1791.4" cy="395.3" r="8.6"/><circle cx="1715.5" cy="397.7" r="8.6"/><circle cx="1639.9" cy="400.1" r="8.6"/><circle cx="1856.4" cy="400.1" r="8.6"/><circle cx="1722.5" cy="403.6" r="8.6"/><circle cx="1606.6" cy="435.5" r="8.6"/><circle cx="1823.1" cy="435.5" r="8.6"/><circle cx="1572.3" cy="436.7" r="8.6"/><circle cx="1788.8" cy="436.7" r="8.6"/><circle cx="1671.6" cy="437.9" r="8.6"/><circle cx="1888.1" cy="437.9" r="8.6"/><circle cx="1551.8" cy="449.7" r="8.6"/><circle cx="1768.3" cy="449.7" r="8.6"/><circle cx="1597" cy="471" r="8.6"/><circle cx="1605.2" cy="471" r="8.6"/><circle cx="1813.5" cy="471" r="8.6"/><circle cx="1821.7" cy="471" r="8.6"/><circle cx="1634.5" cy="519.4" r="8.6"/><circle cx="1851" cy="519.4" r="8.6"/><circle cx="1560.1" cy="521.8" r="8.6"/><circle cx="1776.6" cy="521.8" r="8.6"/><circle cx="1602.3" cy="565.5" r="8.6"/><circle cx="1818.8" cy="565.5" r="8.6"/><circle cx="1605.7" cy="599.8" r="8.6"/><circle cx="1822.2" cy="599.8" r="8.6"/><circle cx="1671.8" cy="600.9" r="8.6"/><circle cx="1888.3" cy="600.9" r="8.6"/><circle cx="1539.1" cy="612.7" r="8.6"/><circle cx="1755.6" cy="612.7" r="8.6"/><circle cx="1573.6" cy="631.6" r="8.6"/><circle cx="1790.1" cy="631.6" r="8.6"/><circle cx="1714.2" cy="634" r="8.6"/><circle cx="1638.6" cy="636.4" r="8.6"/><circle cx="1855.1" cy="636.4" r="8.6"/><circle cx="1721.2" cy="639.9" r="8.6"/><circle cx="1605.3" cy="671.8" r="8.6"/><circle cx="1821.8" cy="671.8" r="8.6"/><circle cx="1571" cy="673" r="8.6"/><circle cx="1787.5" cy="673" r="8.6"/><circle cx="1670.3" cy="674.2" r="8.6"/><circle cx="1886.8" cy="674.2" r="8.6"/><circle cx="1550.5" cy="686" r="8.6"/><circle cx="1767" cy="686" r="8.6"/><circle cx="1595.7" cy="707.3" r="8.6"/><circle cx="1603.9" cy="707.3" r="8.6"/><circle cx="1812.2" cy="707.3" r="8.6"/><circle cx="1820.4" cy="707.3" r="8.6"/></g>
<rect x="1255.8" y="869" width="67.4" height="885" rx="33.7" ry="33.7" fill="url(#tV)" transform="rotate(0.22 1289 1311)"/>
<rect x="1505.5" y="869" width="66" height="887" rx="33" ry="33" fill="url(#tV)" transform="rotate(0.25 1538 1312)"/>
<rect x="1008" y="1143" width="813" height="65" rx="32.5" ry="32.5" fill="url(#tH)" />
<rect x="1008" y="1419.3" width="813" height="62.7" rx="31.4" ry="31.4" fill="url(#tH)" />
<path d="M1264 1195L1318 1183L1318 1415L1294 1415Z" fill="#147cb8" opacity=".3"/>
<circle cx="1288" cy="1173" r="31" fill="url(#gCd)"/>
<path d="M1515 1195L1569 1183L1569 1415L1545 1415Z" fill="#147cb8" opacity=".3"/>
<circle cx="1539" cy="1173" r="31" fill="url(#gCd)"/>
<path d="M1264 1471L1318 1459L1318 1739L1294 1739Z" fill="#147cb8" opacity=".3"/>
<circle cx="1288" cy="1449" r="31" fill="url(#gCd)"/>
<path d="M1515 1471L1569 1459L1569 1739L1545 1739Z" fill="#147cb8" opacity=".3"/>
<circle cx="1539" cy="1449" r="31" fill="url(#gCd)"/>
<g fill="#126e96" opacity=".3"><ellipse cx="1030" cy="1157.2" rx="8.2" ry="5.1" transform="rotate(-12 1030 1157.2)"/><path d="M1030 1157.2L1046.7 1169" stroke="#126e96" stroke-width="2.2"/><ellipse cx="1057.7" cy="1174.6" rx="7.9" ry="5.7" transform="rotate(-38 1057.7 1174.6)"/><path d="M1057.7 1174.6L1079.6 1185.3" stroke="#126e96" stroke-width="2.2"/><ellipse cx="1089.1" cy="1163.4" rx="8.6" ry="4.5" transform="rotate(-10 1089.1 1163.4)"/><path d="M1089.1 1163.4L1102.6 1178.6" stroke="#126e96" stroke-width="2.2"/><ellipse cx="1113.3" cy="1151.4" rx="9.1" ry="4.5" transform="rotate(-13 1113.3 1151.4)"/><path d="M1113.3 1151.4L1125.7 1165.2" stroke="#126e96" stroke-width="2.2"/><ellipse cx="1144.5" cy="1158" rx="8.4" ry="6.8" transform="rotate(-26 1144.5 1158)"/><path d="M1144.5 1158L1163.6 1173.2" stroke="#126e96" stroke-width="2.2"/><ellipse cx="1168.8" cy="1171.8" rx="7.8" ry="6.8" transform="rotate(6 1168.8 1171.8)"/><path d="M1168.8 1171.8L1184.5 1178.2" stroke="#126e96" stroke-width="2.2"/><ellipse cx="1194.7" cy="1157.7" rx="8.7" ry="6.3" transform="rotate(4 1194.7 1157.7)"/><path d="M1194.7 1157.7L1209.7 1168.8" stroke="#126e96" stroke-width="2.2"/><ellipse cx="1218.9" cy="1160.1" rx="8.3" ry="5.8" transform="rotate(7 1218.9 1160.1)"/><path d="M1218.9 1160.1L1234.3 1175.3" stroke="#126e96" stroke-width="2.2"/><ellipse cx="1237.4" cy="1158.3" rx="8.4" ry="6.1" transform="rotate(-6 1237.4 1158.3)"/><path d="M1237.4 1158.3L1258 1173.9" stroke="#126e96" stroke-width="2.2"/><ellipse cx="1326.4" cy="1156.5" rx="9.3" ry="5.7" transform="rotate(-32 1326.4 1156.5)"/><path d="M1326.4 1156.5L1339.6 1167.3" stroke="#126e96" stroke-width="2.2"/><ellipse cx="1354.6" cy="1163.6" rx="7.4" ry="4.2" transform="rotate(7 1354.6 1163.6)"/><path d="M1354.6 1163.6L1368.1 1172.5" stroke="#126e96" stroke-width="2.2"/><ellipse cx="1384.9" cy="1173.7" rx="6.2" ry="5.8" transform="rotate(-48 1384.9 1173.7)"/><path d="M1384.9 1173.7L1400.7 1185.6" stroke="#126e96" stroke-width="2.2"/><ellipse cx="1411.7" cy="1175" rx="7.1" ry="4.7" transform="rotate(-48 1411.7 1175)"/><path d="M1411.7 1175L1426.8 1181.7" stroke="#126e96" stroke-width="2.2"/><ellipse cx="1439.3" cy="1151.8" rx="6.8" ry="5.2" transform="rotate(-11 1439.3 1151.8)"/><path d="M1439.3 1151.8L1453.9 1164.7" stroke="#126e96" stroke-width="2.2"/><ellipse cx="1473" cy="1159.8" rx="7.4" ry="4.4" transform="rotate(5 1473 1159.8)"/><path d="M1473 1159.8L1488.7 1170.4" stroke="#126e96" stroke-width="2.2"/><ellipse cx="1499.3" cy="1167.7" rx="8.4" ry="5.7" transform="rotate(-11 1499.3 1167.7)"/><path d="M1499.3 1167.7L1521 1181.9" stroke="#126e96" stroke-width="2.2"/><ellipse cx="1579.2" cy="1175.3" rx="7.7" ry="4.8" transform="rotate(-31 1579.2 1175.3)"/><path d="M1579.2 1175.3L1596.7 1181.5" stroke="#126e96" stroke-width="2.2"/><ellipse cx="1603.9" cy="1166.1" rx="6.1" ry="5.8" transform="rotate(-10 1603.9 1166.1)"/><path d="M1603.9 1166.1L1617.2 1178.4" stroke="#126e96" stroke-width="2.2"/><ellipse cx="1627.2" cy="1160.2" rx="9.7" ry="5.8" transform="rotate(-33 1627.2 1160.2)"/><path d="M1627.2 1160.2L1646.6 1166.4" stroke="#126e96" stroke-width="2.2"/><ellipse cx="1646.2" cy="1168.6" rx="9.9" ry="4.8" transform="rotate(-21 1646.2 1168.6)"/><path d="M1646.2 1168.6L1661.1 1180.6" stroke="#126e96" stroke-width="2.2"/><ellipse cx="1667" cy="1155.8" rx="9" ry="6.5" transform="rotate(-34 1667 1155.8)"/><path d="M1667 1155.8L1682 1165.6" stroke="#126e96" stroke-width="2.2"/><ellipse cx="1697.4" cy="1151.7" rx="8.3" ry="6.2" transform="rotate(-31 1697.4 1151.7)"/><path d="M1697.4 1151.7L1714.4 1164.2" stroke="#126e96" stroke-width="2.2"/><ellipse cx="1719.7" cy="1159.5" rx="8.7" ry="5.9" transform="rotate(-44 1719.7 1159.5)"/><path d="M1719.7 1159.5L1732.7 1168.7" stroke="#126e96" stroke-width="2.2"/><ellipse cx="1743" cy="1172.7" rx="7.8" ry="6.6" transform="rotate(-40 1743 1172.7)"/><path d="M1743 1172.7L1755.8 1186.1" stroke="#126e96" stroke-width="2.2"/><ellipse cx="1764.5" cy="1165.8" rx="7.1" ry="6.4" transform="rotate(-48 1764.5 1165.8)"/><path d="M1764.5 1165.8L1781.8 1173.7" stroke="#126e96" stroke-width="2.2"/><ellipse cx="1795.4" cy="1172.8" rx="6.7" ry="4.8" transform="rotate(1 1795.4 1172.8)"/><path d="M1795.4 1172.8L1815.7 1179.7" stroke="#126e96" stroke-width="2.2"/><ellipse cx="1030" cy="1442.3" rx="10" ry="7.2" transform="rotate(4 1030 1442.3)"/><path d="M1030 1442.3L1044.7 1451.8" stroke="#126e96" stroke-width="2.2"/><ellipse cx="1046.4" cy="1437.9" rx="9.9" ry="8.8" transform="rotate(-41 1046.4 1437.9)"/><path d="M1046.4 1437.9L1060.4 1448.7" stroke="#126e96" stroke-width="2.2"/><ellipse cx="1067.3" cy="1443.2" rx="10.5" ry="7.4" transform="rotate(9 1067.3 1443.2)"/><path d="M1067.3 1443.2L1086.5 1449.5" stroke="#126e96" stroke-width="2.2"/><ellipse cx="1084.2" cy="1446.6" rx="11.7" ry="9" transform="rotate(-16 1084.2 1446.6)"/><path d="M1084.2 1446.6L1099.6 1454.9" stroke="#126e96" stroke-width="2.2"/><ellipse cx="1096.9" cy="1442.3" rx="9.3" ry="8.4" transform="rotate(-48 1096.9 1442.3)"/><path d="M1096.9 1442.3L1109.3 1456.3" stroke="#126e96" stroke-width="2.2"/><ellipse cx="1114.4" cy="1432.2" rx="12.4" ry="6.9" transform="rotate(-47 1114.4 1432.2)"/><path d="M1114.4 1432.2L1126.5 1445.6" stroke="#126e96" stroke-width="2.2"/><ellipse cx="1128.2" cy="1434.8" rx="11.2" ry="7.2" transform="rotate(-24 1128.2 1434.8)"/><path d="M1128.2 1434.8L1140.8 1449.9" stroke="#126e96" stroke-width="2.2"/><ellipse cx="1141.4" cy="1430.3" rx="12.9" ry="7.3" transform="rotate(1 1141.4 1430.3)"/><path d="M1141.4 1430.3L1161.3 1439.8" stroke="#126e96" stroke-width="2.2"/><ellipse cx="1155.5" cy="1440.9" rx="12" ry="5.9" transform="rotate(0 1155.5 1440.9)"/><path d="M1155.5 1440.9L1170.3 1455.8" stroke="#126e96" stroke-width="2.2"/><ellipse cx="1168.9" cy="1450.9" rx="10.3" ry="7.4" transform="rotate(-25 1168.9 1450.9)"/><path d="M1168.9 1450.9L1181.4 1459.7" stroke="#126e96" stroke-width="2.2"/><ellipse cx="1183.8" cy="1440.7" rx="10" ry="7" transform="rotate(-1 1183.8 1440.7)"/><path d="M1183.8 1440.7L1204 1455.3" stroke="#126e96" stroke-width="2.2"/><ellipse cx="1204" cy="1428.2" rx="8.1" ry="7.1" transform="rotate(-48 1204 1428.2)"/><path d="M1204 1428.2L1224.6 1435.1" stroke="#126e96" stroke-width="2.2"/><ellipse cx="1221.4" cy="1435.2" rx="9.4" ry="6.6" transform="rotate(-9 1221.4 1435.2)"/><path d="M1221.4 1435.2L1237.3 1444.3" stroke="#126e96" stroke-width="2.2"/><ellipse cx="1236.2" cy="1452.7" rx="10" ry="5.7" transform="rotate(-50 1236.2 1452.7)"/><path d="M1236.2 1452.7L1255.4 1462.5" stroke="#126e96" stroke-width="2.2"/><ellipse cx="1249.1" cy="1431.6" rx="9.7" ry="7.6" transform="rotate(0 1249.1 1431.6)"/><path d="M1249.1 1431.6L1266.5 1444" stroke="#126e96" stroke-width="2.2"/><ellipse cx="1334.4" cy="1435.2" rx="12.7" ry="6.8" transform="rotate(-49 1334.4 1435.2)"/><path d="M1334.4 1435.2L1348.8 1446.5" stroke="#126e96" stroke-width="2.2"/><ellipse cx="1353.8" cy="1428.9" rx="10" ry="6.9" transform="rotate(6 1353.8 1428.9)"/><path d="M1353.8 1428.9L1366.1 1438.1" stroke="#126e96" stroke-width="2.2"/><ellipse cx="1376.1" cy="1441.5" rx="12.3" ry="5.7" transform="rotate(-6 1376.1 1441.5)"/><path d="M1376.1 1441.5L1389.3 1455.7" stroke="#126e96" stroke-width="2.2"/><ellipse cx="1395.2" cy="1450.1" rx="11.9" ry="7.8" transform="rotate(-4 1395.2 1450.1)"/><path d="M1395.2 1450.1L1410.4 1461.4" stroke="#126e96" stroke-width="2.2"/><ellipse cx="1415.8" cy="1445.6" rx="10.3" ry="6.1" transform="rotate(-26 1415.8 1445.6)"/><path d="M1415.8 1445.6L1428.3 1452.5" stroke="#126e96" stroke-width="2.2"/><ellipse cx="1428.9" cy="1449.9" rx="8.7" ry="5.3" transform="rotate(3 1428.9 1449.9)"/><path d="M1428.9 1449.9L1449.4 1456.1" stroke="#126e96" stroke-width="2.2"/><ellipse cx="1442.1" cy="1439.5" rx="11.4" ry="6.3" transform="rotate(-31 1442.1 1439.5)"/><path d="M1442.1 1439.5L1462.1 1445.9" stroke="#126e96" stroke-width="2.2"/><ellipse cx="1462.3" cy="1440.3" rx="11.5" ry="5.6" transform="rotate(-3 1462.3 1440.3)"/><path d="M1462.3 1440.3L1475.3 1451.8" stroke="#126e96" stroke-width="2.2"/><ellipse cx="1480.2" cy="1449.6" rx="8.7" ry="5.5" transform="rotate(-39 1480.2 1449.6)"/><path d="M1480.2 1449.6L1498.6 1460.1" stroke="#126e96" stroke-width="2.2"/><ellipse cx="1499.6" cy="1451.5" rx="9.1" ry="7.5" transform="rotate(10 1499.6 1451.5)"/><path d="M1499.6 1451.5L1515.1 1461.7" stroke="#126e96" stroke-width="2.2"/><ellipse cx="1588.6" cy="1431.2" rx="11.4" ry="8.1" transform="rotate(-7 1588.6 1431.2)"/><path d="M1588.6 1431.2L1609.9 1444" stroke="#126e96" stroke-width="2.2"/><ellipse cx="1602.3" cy="1437.4" rx="12.4" ry="5.8" transform="rotate(-19 1602.3 1437.4)"/><path d="M1602.3 1437.4L1621.8 1452.6" stroke="#126e96" stroke-width="2.2"/><ellipse cx="1619.8" cy="1438.5" rx="11.5" ry="5.9" transform="rotate(-33 1619.8 1438.5)"/><path d="M1619.8 1438.5L1639.3 1446" stroke="#126e96" stroke-width="2.2"/><ellipse cx="1637.3" cy="1451.3" rx="12.2" ry="7.3" transform="rotate(-1 1637.3 1451.3)"/><path d="M1637.3 1451.3L1652.3 1464.4" stroke="#126e96" stroke-width="2.2"/><ellipse cx="1653.7" cy="1449.2" rx="10.8" ry="6.2" transform="rotate(-37 1653.7 1449.2)"/><path d="M1653.7 1449.2L1668.8 1457.9" stroke="#126e96" stroke-width="2.2"/><ellipse cx="1674.3" cy="1432.2" rx="10.8" ry="6.1" transform="rotate(-20 1674.3 1432.2)"/><path d="M1674.3 1432.2L1694 1439.7" stroke="#126e96" stroke-width="2.2"/><ellipse cx="1696.9" cy="1439.5" rx="10.9" ry="7" transform="rotate(3 1696.9 1439.5)"/><path d="M1696.9 1439.5L1717.9 1452" stroke="#126e96" stroke-width="2.2"/><ellipse cx="1709.2" cy="1452.8" rx="8.2" ry="8.9" transform="rotate(0 1709.2 1452.8)"/><path d="M1709.2 1452.8L1728.5 1468.4" stroke="#126e96" stroke-width="2.2"/><ellipse cx="1726.1" cy="1433" rx="9" ry="8" transform="rotate(-7 1726.1 1433)"/><path d="M1726.1 1433L1738.8 1441.1" stroke="#126e96" stroke-width="2.2"/><ellipse cx="1740.9" cy="1450.1" rx="11.8" ry="5.7" transform="rotate(-11 1740.9 1450.1)"/><path d="M1740.9 1450.1L1759.9 1464.7" stroke="#126e96" stroke-width="2.2"/><ellipse cx="1762.5" cy="1433.6" rx="12.3" ry="6.4" transform="rotate(-23 1762.5 1433.6)"/><path d="M1762.5 1433.6L1775.4 1447.6" stroke="#126e96" stroke-width="2.2"/><ellipse cx="1775.7" cy="1433.9" rx="12.6" ry="5.3" transform="rotate(-22 1775.7 1433.9)"/><path d="M1775.7 1433.9L1793.5 1446.6" stroke="#126e96" stroke-width="2.2"/><ellipse cx="1787.8" cy="1435.7" rx="10.1" ry="7.1" transform="rotate(-37 1787.8 1435.7)"/><path d="M1787.8 1435.7L1806.2 1449.1" stroke="#126e96" stroke-width="2.2"/><ellipse cx="1272.3" cy="900" rx="6" ry="12.4" transform="rotate(-26 1272.3 900)"/><ellipse cx="1271.8" cy="940.6" rx="7.7" ry="12.5" transform="rotate(-24 1271.8 940.6)"/><ellipse cx="1291.8" cy="978.2" rx="7" ry="9.8" transform="rotate(-2 1291.8 978.2)"/><ellipse cx="1291" cy="1010.8" rx="7" ry="12" transform="rotate(-14 1291 1010.8)"/><ellipse cx="1300.1" cy="1039.1" rx="6" ry="10.8" transform="rotate(3 1300.1 1039.1)"/><ellipse cx="1284.8" cy="1067.6" rx="6.1" ry="11.6" transform="rotate(13 1284.8 1067.6)"/><ellipse cx="1293.2" cy="1109.6" rx="6.9" ry="11.7" transform="rotate(-21 1293.2 1109.6)"/><ellipse cx="1298.3" cy="1139.6" rx="7" ry="8.6" transform="rotate(29 1298.3 1139.6)"/><ellipse cx="1289.9" cy="1224.1" rx="6.9" ry="10.1" transform="rotate(-11 1289.9 1224.1)"/><ellipse cx="1283.6" cy="1264.4" rx="5.9" ry="8.9" transform="rotate(-26 1283.6 1264.4)"/><ellipse cx="1274.2" cy="1292.7" rx="6.7" ry="10.9" transform="rotate(-5 1274.2 1292.7)"/><ellipse cx="1277" cy="1326.6" rx="6.2" ry="12.4" transform="rotate(-28 1277 1326.6)"/><ellipse cx="1277.2" cy="1363.2" rx="7.1" ry="10.6" transform="rotate(26 1277.2 1363.2)"/><ellipse cx="1281.7" cy="1396.5" rx="6.6" ry="11.9" transform="rotate(-8 1281.7 1396.5)"/><ellipse cx="1288.1" cy="1510.7" rx="7" ry="10.8" transform="rotate(28 1288.1 1510.7)"/><ellipse cx="1274.3" cy="1552.7" rx="5.6" ry="10.1" transform="rotate(17 1274.3 1552.7)"/><ellipse cx="1301.4" cy="1587.3" rx="5.4" ry="11" transform="rotate(25 1301.4 1587.3)"/><ellipse cx="1274.6" cy="1622.1" rx="6.6" ry="10.8" transform="rotate(-18 1274.6 1622.1)"/><ellipse cx="1280.6" cy="1667.2" rx="5.9" ry="12.2" transform="rotate(-2 1280.6 1667.2)"/><ellipse cx="1300.3" cy="1712.8" rx="6.1" ry="10.8" transform="rotate(7 1300.3 1712.8)"/><ellipse cx="1534.9" cy="900" rx="6.6" ry="11.5" transform="rotate(27 1534.9 900)"/><ellipse cx="1534.5" cy="944.9" rx="6.8" ry="11.6" transform="rotate(-30 1534.5 944.9)"/><ellipse cx="1543.7" cy="973.3" rx="5.7" ry="8.9" transform="rotate(10 1543.7 973.3)"/><ellipse cx="1524.6" cy="1009.4" rx="6.6" ry="8.2" transform="rotate(2 1524.6 1009.4)"/><ellipse cx="1550.2" cy="1055.8" rx="5.3" ry="9.4" transform="rotate(12 1550.2 1055.8)"/><ellipse cx="1522.6" cy="1101.4" rx="7.4" ry="11.1" transform="rotate(-27 1522.6 1101.4)"/><ellipse cx="1539" cy="1128" rx="6.5" ry="10.5" transform="rotate(-29 1539 1128)"/><ellipse cx="1541.6" cy="1252.7" rx="5.4" ry="12.3" transform="rotate(8 1541.6 1252.7)"/><ellipse cx="1519.2" cy="1295.7" rx="5.2" ry="13" transform="rotate(21 1519.2 1295.7)"/><ellipse cx="1520.2" cy="1326.3" rx="5.6" ry="11.5" transform="rotate(-16 1520.2 1326.3)"/><ellipse cx="1521.7" cy="1362.9" rx="5.1" ry="8.4" transform="rotate(-18 1521.7 1362.9)"/><ellipse cx="1531.3" cy="1404.5" rx="6.4" ry="8.3" transform="rotate(24 1531.3 1404.5)"/><ellipse cx="1533.8" cy="1512.7" rx="7.3" ry="10" transform="rotate(-19 1533.8 1512.7)"/><ellipse cx="1519.3" cy="1548.8" rx="5.8" ry="12.2" transform="rotate(-2 1519.3 1548.8)"/><ellipse cx="1538.3" cy="1586.4" rx="5.7" ry="8" transform="rotate(-17 1538.3 1586.4)"/><ellipse cx="1530.6" cy="1618.1" rx="7.6" ry="10.7" transform="rotate(-20 1530.6 1618.1)"/><ellipse cx="1523.8" cy="1648.7" rx="6.2" ry="8.8" transform="rotate(-29 1523.8 1648.7)"/><ellipse cx="1538.7" cy="1677.8" rx="6.3" ry="8.9" transform="rotate(23 1538.7 1677.8)"/><ellipse cx="1533.2" cy="1704.2" rx="6.2" ry="11.5" transform="rotate(-27 1533.2 1704.2)"/><ellipse cx="1519.3" cy="1735.5" rx="6.5" ry="12.5" transform="rotate(26 1519.3 1735.5)"/></g>
<path d="M1097 1080L1098.4 1094.4M1100.4 1082L1098.4 1094.4M1097 1354.5L1098.4 1368.9M1100.4 1356.5L1098.4 1368.9M1097 1629L1098.4 1643.4M1100.4 1631L1098.4 1643.4M1145.4 958.7L1157 954.6M1168 956L1157 954.6M1158.4 962.8L1157 954.6M1160.5 982.7L1161.2 994.4M1159.1 967.6L1157 954.6M1161.2 987.5L1161.2 994.4M1228.3 984.8L1237.9 995.7M1088 995.7L1084.7 1009.4M1149.5 1001.9L1161.2 994.4M1131 1020.4L1124.2 1031.3M1173.5 1003.3L1161.2 994.4M1192.7 1024.5L1199.5 1036.8M1250.2 990.9L1237.9 995.7M1233.1 1004.6L1237.9 995.7M1236.5 1003.9L1237.9 995.7M1287.2 1021.8L1287.2 1034.1M1294.1 1025.9L1295.4 1040.9M1320.8 1012.8L1335.2 1009.4M1300.9 1028.6L1295.4 1040.9M1111.1 1027.9L1124.2 1031.3M1113.9 1030.7L1124.2 1031.3M1085.9 1014.9L1084.7 1009.4M1209.8 1036.1L1199.5 1036.8M1212.5 1036.8L1199.5 1036.8M1276.2 1037.5L1287.2 1034.1M1298.9 1036.8L1287.2 1034.1M1305 1041.6L1295.4 1040.9M1131 1045L1124.2 1031.3M1129.6 1069L1121.4 1079.3M1134.4 1045L1124.2 1031.3M1133.1 1069L1121.4 1079.3M1192.7 1049.8L1199.5 1036.8M1173.5 1070.4L1161.2 1077.9M1234.5 1072.5L1236.5 1080.7M1289.9 1047.1L1287.2 1034.1M1297.5 1054L1295.4 1040.9M1347.5 1080L1348.9 1094.4M1350.9 1082L1348.9 1094.4M1126.9 1091.6L1121.4 1079.3M1141.3 1111.7L1150.2 1119.5M1160.5 1086.8L1161.2 1077.9M1159.8 1107.6L1159.8 1119.5M1162.5 1091.6L1161.2 1077.9M1161.8 1112.4L1159.8 1119.5M1225.5 1090.3L1236.5 1080.7M1250.2 1087.5L1236.5 1080.7M1334.5 1099.2L1348.9 1094.4M1107.8 1102.6L1098.4 1094.4M1133.7 1115.2L1150.2 1119.5M1114.6 1082.7L1121.4 1079.3M1103 1090.3L1098.4 1094.4M1151.6 1133.9L1150.2 1119.5M1156.4 1133.9L1159.8 1119.5M1202.3 1162.7L1194 1175.7M1167.3 1118.8L1159.8 1119.5M1170.7 1118.5L1159.8 1119.5M1183.8 1174.3L1194 1175.7M1187.2 1174.7L1194 1175.7M1113.9 1175L1107.7 1178.4M1117.3 1175L1107.7 1178.4M1155 1214.7L1157 1229.1M1201.6 1188.7L1194 1175.7M1103.6 1193.5L1107.7 1178.4M1145.4 1233.2L1157 1229.1M1168 1230.5L1157 1229.1M1158.4 1237.3L1157 1229.1M1160.5 1257.2L1161.2 1268.9M1159.1 1242.1L1157 1229.1M1161.2 1262L1161.2 1268.9M1228.3 1259.3L1237.9 1270.2M1088 1270.2L1084.7 1283.9M1149.5 1276.4L1161.2 1268.9M1131 1294.9L1124.2 1305.8M1173.5 1277.8L1161.2 1268.9M1192.7 1299L1199.5 1311.3M1250.2 1265.4L1237.9 1270.2M1233.1 1279.1L1237.9 1270.2M1236.5 1278.4L1237.9 1270.2M1287.2 1296.3L1287.2 1308.6M1294.1 1300.4L1295.4 1315.4M1320.8 1287.3L1335.2 1283.9M1300.9 1303.1L1295.4 1315.4M1111.1 1302.4L1124.2 1305.8M1113.9 1305.2L1124.2 1305.8M1085.9 1289.4L1084.7 1283.9M1209.8 1310.6L1199.5 1311.3M1212.5 1311.3L1199.5 1311.3M1276.2 1312L1287.2 1308.6M1298.9 1311.3L1287.2 1308.6M1305 1316.1L1295.4 1315.4M1131 1319.5L1124.2 1305.8M1129.6 1343.5L1121.4 1353.8M1134.4 1319.5L1124.2 1305.8M1133.1 1343.5L1121.4 1353.8M1192.7 1324.3L1199.5 1311.3M1173.5 1344.9L1161.2 1352.4M1234.5 1347L1236.5 1355.2M1289.9 1321.6L1287.2 1308.6M1297.5 1328.5L1295.4 1315.4M1347.5 1354.5L1348.9 1368.9M1350.9 1356.5L1348.9 1368.9M1126.9 1366.1L1121.4 1353.8M1141.3 1386.2L1150.2 1394M1160.5 1361.3L1161.2 1352.4M1159.8 1382.1L1159.8 1394M1162.5 1366.1L1161.2 1352.4M1161.8 1386.9L1159.8 1394M1225.5 1364.8L1236.5 1355.2M1250.2 1362L1236.5 1355.2M1334.5 1373.7L1348.9 1368.9M1107.8 1377.1L1098.4 1368.9M1133.7 1389.7L1150.2 1394M1114.6 1357.2L1121.4 1353.8M1103 1364.8L1098.4 1368.9M1151.6 1408.4L1150.2 1394M1156.4 1408.4L1159.8 1394M1202.3 1437.2L1194 1450.2M1167.3 1393.3L1159.8 1394M1170.7 1393L1159.8 1394M1183.8 1448.8L1194 1450.2M1187.2 1449.2L1194 1450.2M1113.9 1449.5L1107.7 1452.9M1117.3 1449.5L1107.7 1452.9M1155 1489.2L1157 1503.6M1201.6 1463.2L1194 1450.2M1103.6 1468L1107.7 1452.9M1145.4 1507.7L1157 1503.6M1168 1505L1157 1503.6M1158.4 1511.8L1157 1503.6M1160.5 1531.7L1161.2 1543.4M1159.1 1516.6L1157 1503.6M1161.2 1536.5L1161.2 1543.4M1228.3 1533.8L1237.9 1544.7M1088 1544.7L1084.7 1558.4M1149.5 1550.9L1161.2 1543.4M1131 1569.4L1124.2 1580.3M1173.5 1552.3L1161.2 1543.4M1192.7 1573.5L1199.5 1585.8M1250.2 1539.9L1237.9 1544.7M1233.1 1553.6L1237.9 1544.7M1236.5 1552.9L1237.9 1544.7M1287.2 1570.8L1287.2 1583.1M1294.1 1574.9L1295.4 1589.9M1320.8 1561.8L1335.2 1558.4M1300.9 1577.6L1295.4 1589.9M1111.1 1576.9L1124.2 1580.3M1113.9 1579.7L1124.2 1580.3M1085.9 1563.9L1084.7 1558.4M1209.8 1585.1L1199.5 1585.8M1212.5 1585.8L1199.5 1585.8M1276.2 1586.5L1287.2 1583.1M1298.9 1585.8L1287.2 1583.1M1305 1590.6L1295.4 1589.9M1131 1594L1124.2 1580.3M1129.6 1618L1121.4 1628.3M1134.4 1594L1124.2 1580.3M1133.1 1618L1121.4 1628.3M1192.7 1598.8L1199.5 1585.8M1173.5 1619.4L1161.2 1626.9M1234.5 1621.5L1236.5 1629.7M1289.9 1596.1L1287.2 1583.1M1297.5 1603L1295.4 1589.9M1347.5 1629L1348.9 1643.4M1350.9 1631L1348.9 1643.4M1126.9 1640.6L1121.4 1628.3M1141.3 1660.7L1150.2 1668.5M1160.5 1635.8L1161.2 1626.9M1159.8 1656.6L1159.8 1668.5M1162.5 1640.6L1161.2 1626.9M1161.8 1661.4L1159.8 1668.5M1225.5 1639.3L1236.5 1629.7M1250.2 1636.5L1236.5 1629.7M1334.5 1648.2L1348.9 1643.4M1107.8 1651.6L1098.4 1643.4M1133.7 1664.2L1150.2 1668.5M1114.6 1631.7L1121.4 1628.3M1103 1639.3L1098.4 1643.4M1167.3 1667.8L1159.8 1668.5M1170.7 1667.5L1159.8 1668.5M1395.9 958.7L1407.5 954.6M1418.5 956L1407.5 954.6M1408.9 962.8L1407.5 954.6M1411 982.7L1411.7 994.4M1409.6 967.6L1407.5 954.6M1411.7 987.5L1411.7 994.4M1478.8 984.8L1488.4 995.7M1338.5 995.7L1335.2 1009.4M1400 1001.9L1411.7 994.4M1381.5 1020.4L1374.7 1031.3M1424 1003.3L1411.7 994.4M1443.2 1024.5L1450 1036.8M1500.7 990.9L1488.4 995.7M1483.6 1004.6L1488.4 995.7M1487 1003.9L1488.4 995.7M1537.7 1021.8L1537.7 1034.1M1544.6 1025.9L1545.9 1040.9M1571.3 1012.8L1585.7 1009.4M1551.4 1028.6L1545.9 1040.9M1361.6 1027.9L1374.7 1031.3M1364.4 1030.7L1374.7 1031.3M1336.4 1014.9L1335.2 1009.4M1460.3 1036.1L1450 1036.8M1463 1036.8L1450 1036.8M1526.7 1037.5L1537.7 1034.1M1549.4 1036.8L1537.7 1034.1M1555.5 1041.6L1545.9 1040.9M1381.5 1045L1374.7 1031.3M1380.1 1069L1371.9 1079.3M1384.9 1045L1374.7 1031.3M1383.6 1069L1371.9 1079.3M1443.2 1049.8L1450 1036.8M1424 1070.4L1411.7 1077.9M1485 1072.5L1487 1080.7M1540.4 1047.1L1537.7 1034.1M1548 1054L1545.9 1040.9M1598 1080L1599.4 1094.4M1601.4 1082L1599.4 1094.4M1377.4 1091.6L1371.9 1079.3M1391.8 1111.7L1400.7 1119.5M1411 1086.8L1411.7 1077.9M1410.3 1107.6L1410.3 1119.5M1413 1091.6L1411.7 1077.9M1412.3 1112.4L1410.3 1119.5M1476 1090.3L1487 1080.7M1500.7 1087.5L1487 1080.7M1585 1099.2L1599.4 1094.4M1358.3 1102.6L1348.9 1094.4M1384.2 1115.2L1400.7 1119.5M1365.1 1082.7L1371.9 1079.3M1353.5 1090.3L1348.9 1094.4M1402.1 1133.9L1400.7 1119.5M1406.9 1133.9L1410.3 1119.5M1452.8 1162.7L1444.5 1175.7M1417.8 1118.8L1410.3 1119.5M1421.2 1118.5L1410.3 1119.5M1434.3 1174.3L1444.5 1175.7M1437.7 1174.7L1444.5 1175.7M1364.4 1175L1358.2 1178.4M1367.8 1175L1358.2 1178.4M1405.5 1214.7L1407.5 1229.1M1452.1 1188.7L1444.5 1175.7M1354.1 1193.5L1358.2 1178.4M1395.9 1233.2L1407.5 1229.1M1418.5 1230.5L1407.5 1229.1M1408.9 1237.3L1407.5 1229.1M1411 1257.2L1411.7 1268.9M1409.6 1242.1L1407.5 1229.1M1411.7 1262L1411.7 1268.9M1478.8 1259.3L1488.4 1270.2M1338.5 1270.2L1335.2 1283.9M1400 1276.4L1411.7 1268.9M1381.5 1294.9L1374.7 1305.8M1424 1277.8L1411.7 1268.9M1443.2 1299L1450 1311.3M1500.7 1265.4L1488.4 1270.2M1483.6 1279.1L1488.4 1270.2M1487 1278.4L1488.4 1270.2M1537.7 1296.3L1537.7 1308.6M1544.6 1300.4L1545.9 1315.4M1571.3 1287.3L1585.7 1283.9M1551.4 1303.1L1545.9 1315.4M1361.6 1302.4L1374.7 1305.8M1364.4 1305.2L1374.7 1305.8M1336.4 1289.4L1335.2 1283.9M1460.3 1310.6L1450 1311.3M1463 1311.3L1450 1311.3M1526.7 1312L1537.7 1308.6M1549.4 1311.3L1537.7 1308.6M1555.5 1316.1L1545.9 1315.4M1381.5 1319.5L1374.7 1305.8M1380.1 1343.5L1371.9 1353.8M1384.9 1319.5L1374.7 1305.8M1383.6 1343.5L1371.9 1353.8M1443.2 1324.3L1450 1311.3M1424 1344.9L1411.7 1352.4M1485 1347L1487 1355.2M1540.4 1321.6L1537.7 1308.6M1548 1328.5L1545.9 1315.4M1598 1354.5L1599.4 1368.9M1601.4 1356.5L1599.4 1368.9M1377.4 1366.1L1371.9 1353.8M1391.8 1386.2L1400.7 1394M1411 1361.3L1411.7 1352.4M1410.3 1382.1L1410.3 1394M1413 1366.1L1411.7 1352.4M1412.3 1386.9L1410.3 1394M1476 1364.8L1487 1355.2M1500.7 1362L1487 1355.2M1585 1373.7L1599.4 1368.9M1358.3 1377.1L1348.9 1368.9M1384.2 1389.7L1400.7 1394M1365.1 1357.2L1371.9 1353.8M1353.5 1364.8L1348.9 1368.9M1402.1 1408.4L1400.7 1394M1406.9 1408.4L1410.3 1394M1452.8 1437.2L1444.5 1450.2M1417.8 1393.3L1410.3 1394M1421.2 1393L1410.3 1394M1434.3 1448.8L1444.5 1450.2M1437.7 1449.2L1444.5 1450.2M1364.4 1449.5L1358.2 1452.9M1367.8 1449.5L1358.2 1452.9M1405.5 1489.2L1407.5 1503.6M1452.1 1463.2L1444.5 1450.2M1354.1 1468L1358.2 1452.9M1395.9 1507.7L1407.5 1503.6M1418.5 1505L1407.5 1503.6M1408.9 1511.8L1407.5 1503.6M1411 1531.7L1411.7 1543.4M1409.6 1516.6L1407.5 1503.6M1411.7 1536.5L1411.7 1543.4M1478.8 1533.8L1488.4 1544.7M1338.5 1544.7L1335.2 1558.4M1400 1550.9L1411.7 1543.4M1381.5 1569.4L1374.7 1580.3M1424 1552.3L1411.7 1543.4M1443.2 1573.5L1450 1585.8M1500.7 1539.9L1488.4 1544.7M1483.6 1553.6L1488.4 1544.7M1487 1552.9L1488.4 1544.7M1537.7 1570.8L1537.7 1583.1M1544.6 1574.9L1545.9 1589.9M1571.3 1561.8L1585.7 1558.4M1551.4 1577.6L1545.9 1589.9M1361.6 1576.9L1374.7 1580.3M1364.4 1579.7L1374.7 1580.3M1336.4 1563.9L1335.2 1558.4M1460.3 1585.1L1450 1585.8M1463 1585.8L1450 1585.8M1526.7 1586.5L1537.7 1583.1M1549.4 1585.8L1537.7 1583.1M1555.5 1590.6L1545.9 1589.9M1381.5 1594L1374.7 1580.3M1380.1 1618L1371.9 1628.3M1384.9 1594L1374.7 1580.3M1383.6 1618L1371.9 1628.3M1443.2 1598.8L1450 1585.8M1424 1619.4L1411.7 1626.9M1485 1621.5L1487 1629.7M1540.4 1596.1L1537.7 1583.1M1548 1603L1545.9 1589.9M1598 1629L1599.4 1643.4M1601.4 1631L1599.4 1643.4M1377.4 1640.6L1371.9 1628.3M1391.8 1660.7L1400.7 1668.5M1411 1635.8L1411.7 1626.9M1410.3 1656.6L1410.3 1668.5M1413 1640.6L1411.7 1626.9M1412.3 1661.4L1410.3 1668.5M1476 1639.3L1487 1629.7M1500.7 1636.5L1487 1629.7M1585 1648.2L1599.4 1643.4M1358.3 1651.6L1348.9 1643.4M1384.2 1664.2L1400.7 1668.5M1365.1 1631.7L1371.9 1628.3M1353.5 1639.3L1348.9 1643.4M1417.8 1667.8L1410.3 1668.5M1421.2 1667.5L1410.3 1668.5M1646.4 958.7L1658 954.6M1669 956L1658 954.6M1659.4 962.8L1658 954.6M1661.5 982.7L1662.2 994.4M1660.1 967.6L1658 954.6M1662.2 987.5L1662.2 994.4M1729.3 984.8L1738.9 995.7M1589 995.7L1585.7 1009.4M1650.5 1001.9L1662.2 994.4M1632 1020.4L1625.2 1031.3M1674.5 1003.3L1662.2 994.4M1693.7 1024.5L1700.5 1036.8M1734.1 1004.6L1738.9 995.7M1737.5 1003.9L1738.9 995.7M1612.1 1027.9L1625.2 1031.3M1614.9 1030.7L1625.2 1031.3M1586.9 1014.9L1585.7 1009.4M1710.8 1036.1L1700.5 1036.8M1713.5 1036.8L1700.5 1036.8M1632 1045L1625.2 1031.3M1630.6 1069L1622.4 1079.3M1635.4 1045L1625.2 1031.3M1634.1 1069L1622.4 1079.3M1693.7 1049.8L1700.5 1036.8M1674.5 1070.4L1662.2 1077.9M1735.5 1072.5L1737.5 1080.7M1627.9 1091.6L1622.4 1079.3M1642.3 1111.7L1651.2 1119.5M1661.5 1086.8L1662.2 1077.9M1660.8 1107.6L1660.8 1119.5M1663.5 1091.6L1662.2 1077.9M1662.8 1112.4L1660.8 1119.5M1726.5 1090.3L1737.5 1080.7M1608.8 1102.6L1599.4 1094.4M1634.7 1115.2L1651.2 1119.5M1615.6 1082.7L1622.4 1079.3M1604 1090.3L1599.4 1094.4M1652.6 1133.9L1651.2 1119.5M1657.4 1133.9L1660.8 1119.5M1703.3 1162.7L1695 1175.7M1668.3 1118.8L1660.8 1119.5M1671.7 1118.5L1660.8 1119.5M1684.8 1174.3L1695 1175.7M1688.2 1174.7L1695 1175.7M1614.9 1175L1608.7 1178.4M1618.3 1175L1608.7 1178.4M1656 1214.7L1658 1229.1M1702.6 1188.7L1695 1175.7M1604.6 1193.5L1608.7 1178.4M1646.4 1233.2L1658 1229.1M1669 1230.5L1658 1229.1M1659.4 1237.3L1658 1229.1M1661.5 1257.2L1662.2 1268.9M1660.1 1242.1L1658 1229.1M1662.2 1262L1662.2 1268.9M1729.3 1259.3L1738.9 1270.2M1589 1270.2L1585.7 1283.9M1650.5 1276.4L1662.2 1268.9M1632 1294.9L1625.2 1305.8M1674.5 1277.8L1662.2 1268.9M1693.7 1299L1700.5 1311.3M1734.1 1279.1L1738.9 1270.2M1737.5 1278.4L1738.9 1270.2M1612.1 1302.4L1625.2 1305.8M1614.9 1305.2L1625.2 1305.8M1586.9 1289.4L1585.7 1283.9M1710.8 1310.6L1700.5 1311.3M1713.5 1311.3L1700.5 1311.3M1632 1319.5L1625.2 1305.8M1630.6 1343.5L1622.4 1353.8M1635.4 1319.5L1625.2 1305.8M1634.1 1343.5L1622.4 1353.8M1693.7 1324.3L1700.5 1311.3M1674.5 1344.9L1662.2 1352.4M1735.5 1347L1737.5 1355.2M1627.9 1366.1L1622.4 1353.8M1642.3 1386.2L1651.2 1394M1661.5 1361.3L1662.2 1352.4M1660.8 1382.1L1660.8 1394M1663.5 1366.1L1662.2 1352.4M1662.8 1386.9L1660.8 1394M1726.5 1364.8L1737.5 1355.2M1608.8 1377.1L1599.4 1368.9M1634.7 1389.7L1651.2 1394M1615.6 1357.2L1622.4 1353.8M1604 1364.8L1599.4 1368.9M1652.6 1408.4L1651.2 1394M1657.4 1408.4L1660.8 1394M1703.3 1437.2L1695 1450.2M1668.3 1393.3L1660.8 1394M1671.7 1393L1660.8 1394M1684.8 1448.8L1695 1450.2M1688.2 1449.2L1695 1450.2M1614.9 1449.5L1608.7 1452.9M1618.3 1449.5L1608.7 1452.9M1656 1489.2L1658 1503.6M1702.6 1463.2L1695 1450.2M1604.6 1468L1608.7 1452.9M1646.4 1507.7L1658 1503.6M1669 1505L1658 1503.6M1659.4 1511.8L1658 1503.6M1661.5 1531.7L1662.2 1543.4M1660.1 1516.6L1658 1503.6M1662.2 1536.5L1662.2 1543.4M1729.3 1533.8L1738.9 1544.7M1589 1544.7L1585.7 1558.4M1650.5 1550.9L1662.2 1543.4M1632 1569.4L1625.2 1580.3M1674.5 1552.3L1662.2 1543.4M1693.7 1573.5L1700.5 1585.8M1734.1 1553.6L1738.9 1544.7M1737.5 1552.9L1738.9 1544.7M1612.1 1576.9L1625.2 1580.3M1614.9 1579.7L1625.2 1580.3M1586.9 1563.9L1585.7 1558.4M1710.8 1585.1L1700.5 1585.8M1713.5 1585.8L1700.5 1585.8M1632 1594L1625.2 1580.3M1630.6 1618L1622.4 1628.3M1635.4 1594L1625.2 1580.3M1634.1 1618L1622.4 1628.3M1693.7 1598.8L1700.5 1585.8M1674.5 1619.4L1662.2 1626.9M1735.5 1621.5L1737.5 1629.7M1627.9 1640.6L1622.4 1628.3M1642.3 1660.7L1651.2 1668.5M1661.5 1635.8L1662.2 1626.9M1660.8 1656.6L1660.8 1668.5M1663.5 1640.6L1662.2 1626.9M1662.8 1661.4L1660.8 1668.5M1726.5 1639.3L1737.5 1629.7M1608.8 1651.6L1599.4 1643.4M1634.7 1664.2L1651.2 1668.5M1615.6 1631.7L1622.4 1628.3M1604 1639.3L1599.4 1643.4M1668.3 1667.8L1660.8 1668.5M1671.7 1667.5L1660.8 1668.5" stroke="#5b84d6" stroke-width="2" fill="none"/>
<path d="M1090.1 1052.6L1084.7 1039.6M1097 1056.7L1091.5 1043.7M1090.1 1327.1L1084.7 1314.1M1097 1331.2L1091.5 1318.2M1090.1 1601.6L1084.7 1588.6M1097 1605.7L1091.5 1592.7M1124.8 960.8L1115.9 958.7M1187.9 956L1196.8 954.6M1207.7 964.2L1196.8 954.6M1103.6 970.4L1115.9 958.7M1277.6 988.9L1292.7 991.6M1233.1 1026.5L1237.9 1039.6M1236.5 1025.9L1237.9 1039.6M1289.9 1000.5L1292.7 991.6M1292.7 1001.2L1292.7 991.6M1091.4 1032L1084.7 1039.6M1097.6 1036.8L1091.5 1043.7M1085.9 1030L1084.7 1039.6M1229 1037.5L1237.9 1039.6M1231.7 1038.2L1237.9 1039.6M1251.6 1040.3L1237.9 1039.6M1322.8 1039.6L1335.2 1039.6M1328.3 1043L1342 1043.7M1235.1 1051.9L1237.9 1039.6M1293.4 1071.1L1294.1 1082M1296.8 1074.5L1294.1 1082M1340.6 1052.6L1335.2 1039.6M1347.5 1056.7L1342 1043.7M1204.3 1111L1194 1122.2M1279 1088.2L1294.1 1082M1307.1 1093L1294.1 1082M1150.9 1160.6L1148.8 1172.9M1202.3 1135.9L1194 1122.2M1184.4 1120.2L1194 1122.2M1187.9 1119.9L1194 1122.2M1161.2 1172.9L1148.8 1172.9M1164.6 1173.3L1148.8 1172.9M1134.4 1172.3L1148.8 1172.9M1137.9 1172.3L1148.8 1172.9M1150.9 1186.6L1148.8 1172.9M1202.9 1215.4L1196.8 1229.1M1107.7 1220.9L1115.9 1233.2M1124.8 1235.3L1115.9 1233.2M1187.9 1230.5L1196.8 1229.1M1207.7 1238.7L1196.8 1229.1M1103.6 1244.9L1115.9 1233.2M1277.6 1263.4L1292.7 1266.1M1233.1 1301L1237.9 1314.1M1236.5 1300.4L1237.9 1314.1M1289.9 1275L1292.7 1266.1M1292.7 1275.7L1292.7 1266.1M1091.4 1306.5L1084.7 1314.1M1097.6 1311.3L1091.5 1318.2M1085.9 1304.5L1084.7 1314.1M1229 1312L1237.9 1314.1M1231.7 1312.7L1237.9 1314.1M1251.6 1314.8L1237.9 1314.1M1322.8 1314.1L1335.2 1314.1M1328.3 1317.5L1342 1318.2M1235.1 1326.4L1237.9 1314.1M1293.4 1345.6L1294.1 1356.5M1296.8 1349L1294.1 1356.5M1340.6 1327.1L1335.2 1314.1M1347.5 1331.2L1342 1318.2M1204.3 1385.5L1194 1396.7M1279 1362.7L1294.1 1356.5M1307.1 1367.5L1294.1 1356.5M1150.9 1435.1L1148.8 1447.4M1202.3 1410.4L1194 1396.7M1184.4 1394.7L1194 1396.7M1187.9 1394.4L1194 1396.7M1161.2 1447.4L1148.8 1447.4M1164.6 1447.8L1148.8 1447.4M1134.4 1446.8L1148.8 1447.4M1137.9 1446.8L1148.8 1447.4M1150.9 1461.1L1148.8 1447.4M1202.9 1489.9L1196.8 1503.6M1107.7 1495.4L1115.9 1507.7M1124.8 1509.8L1115.9 1507.7M1187.9 1505L1196.8 1503.6M1207.7 1513.2L1196.8 1503.6M1103.6 1519.4L1115.9 1507.7M1277.6 1537.9L1292.7 1540.6M1233.1 1575.5L1237.9 1588.6M1236.5 1574.9L1237.9 1588.6M1289.9 1549.5L1292.7 1540.6M1292.7 1550.2L1292.7 1540.6M1091.4 1581L1084.7 1588.6M1097.6 1585.8L1091.5 1592.7M1085.9 1579L1084.7 1588.6M1229 1586.5L1237.9 1588.6M1231.7 1587.2L1237.9 1588.6M1251.6 1589.3L1237.9 1588.6M1322.8 1588.6L1335.2 1588.6M1328.3 1592L1342 1592.7M1235.1 1600.9L1237.9 1588.6M1293.4 1620.1L1294.1 1631M1296.8 1623.5L1294.1 1631M1340.6 1601.6L1335.2 1588.6M1347.5 1605.7L1342 1592.7M1204.3 1660L1194 1671.2M1279 1637.2L1294.1 1631M1307.1 1642L1294.1 1631M1184.4 1669.2L1194 1671.2M1187.9 1668.9L1194 1671.2M1375.3 960.8L1366.4 958.7M1438.4 956L1447.3 954.6M1458.2 964.2L1447.3 954.6M1354.1 970.4L1366.4 958.7M1528.1 988.9L1543.2 991.6M1483.6 1026.5L1488.4 1039.6M1487 1025.9L1488.4 1039.6M1540.4 1000.5L1543.2 991.6M1543.2 1001.2L1543.2 991.6M1341.9 1032L1335.2 1039.6M1348.1 1036.8L1342 1043.7M1336.4 1030L1335.2 1039.6M1479.5 1037.5L1488.4 1039.6M1482.2 1038.2L1488.4 1039.6M1502.1 1040.3L1488.4 1039.6M1573.3 1039.6L1585.7 1039.6M1578.8 1043L1592.5 1043.7M1485.6 1051.9L1488.4 1039.6M1543.9 1071.1L1544.6 1082M1547.3 1074.5L1544.6 1082M1591.1 1052.6L1585.7 1039.6M1598 1056.7L1592.5 1043.7M1454.8 1111L1444.5 1122.2M1529.5 1088.2L1544.6 1082M1557.6 1093L1544.6 1082M1401.4 1160.6L1399.3 1172.9M1452.8 1135.9L1444.5 1122.2M1434.9 1120.2L1444.5 1122.2M1438.4 1119.9L1444.5 1122.2M1411.7 1172.9L1399.3 1172.9M1415.1 1173.3L1399.3 1172.9M1384.9 1172.3L1399.3 1172.9M1388.4 1172.3L1399.3 1172.9M1401.4 1186.6L1399.3 1172.9M1453.4 1215.4L1447.3 1229.1M1358.2 1220.9L1366.4 1233.2M1375.3 1235.3L1366.4 1233.2M1438.4 1230.5L1447.3 1229.1M1458.2 1238.7L1447.3 1229.1M1354.1 1244.9L1366.4 1233.2M1528.1 1263.4L1543.2 1266.1M1483.6 1301L1488.4 1314.1M1487 1300.4L1488.4 1314.1M1540.4 1275L1543.2 1266.1M1543.2 1275.7L1543.2 1266.1M1341.9 1306.5L1335.2 1314.1M1348.1 1311.3L1342 1318.2M1336.4 1304.5L1335.2 1314.1M1479.5 1312L1488.4 1314.1M1482.2 1312.7L1488.4 1314.1M1502.1 1314.8L1488.4 1314.1M1573.3 1314.1L1585.7 1314.1M1578.8 1317.5L1592.5 1318.2M1485.6 1326.4L1488.4 1314.1M1543.9 1345.6L1544.6 1356.5M1547.3 1349L1544.6 1356.5M1591.1 1327.1L1585.7 1314.1M1598 1331.2L1592.5 1318.2M1454.8 1385.5L1444.5 1396.7M1529.5 1362.7L1544.6 1356.5M1557.6 1367.5L1544.6 1356.5M1401.4 1435.1L1399.3 1447.4M1452.8 1410.4L1444.5 1396.7M1434.9 1394.7L1444.5 1396.7M1438.4 1394.4L1444.5 1396.7M1411.7 1447.4L1399.3 1447.4M1415.1 1447.8L1399.3 1447.4M1384.9 1446.8L1399.3 1447.4M1388.4 1446.8L1399.3 1447.4M1401.4 1461.1L1399.3 1447.4M1453.4 1489.9L1447.3 1503.6M1358.2 1495.4L1366.4 1507.7M1375.3 1509.8L1366.4 1507.7M1438.4 1505L1447.3 1503.6M1458.2 1513.2L1447.3 1503.6M1354.1 1519.4L1366.4 1507.7M1528.1 1537.9L1543.2 1540.6M1483.6 1575.5L1488.4 1588.6M1487 1574.9L1488.4 1588.6M1540.4 1549.5L1543.2 1540.6M1543.2 1550.2L1543.2 1540.6M1341.9 1581L1335.2 1588.6M1348.1 1585.8L1342 1592.7M1336.4 1579L1335.2 1588.6M1479.5 1586.5L1488.4 1588.6M1482.2 1587.2L1488.4 1588.6M1502.1 1589.3L1488.4 1588.6M1573.3 1588.6L1585.7 1588.6M1578.8 1592L1592.5 1592.7M1485.6 1600.9L1488.4 1588.6M1543.9 1620.1L1544.6 1631M1547.3 1623.5L1544.6 1631M1591.1 1601.6L1585.7 1588.6M1598 1605.7L1592.5 1592.7M1454.8 1660L1444.5 1671.2M1529.5 1637.2L1544.6 1631M1557.6 1642L1544.6 1631M1434.9 1669.2L1444.5 1671.2M1438.4 1668.9L1444.5 1671.2M1625.8 960.8L1616.9 958.7M1688.9 956L1697.8 954.6M1708.7 964.2L1697.8 954.6M1604.6 970.4L1616.9 958.7M1734.1 1026.5L1738.9 1039.6M1737.5 1025.9L1738.9 1039.6M1592.4 1032L1585.7 1039.6M1598.6 1036.8L1592.5 1043.7M1586.9 1030L1585.7 1039.6M1730 1037.5L1738.9 1039.6M1732.7 1038.2L1738.9 1039.6M1736.1 1051.9L1738.9 1039.6M1705.3 1111L1695 1122.2M1651.9 1160.6L1649.8 1172.9M1703.3 1135.9L1695 1122.2M1685.4 1120.2L1695 1122.2M1688.9 1119.9L1695 1122.2M1662.2 1172.9L1649.8 1172.9M1665.6 1173.3L1649.8 1172.9M1635.4 1172.3L1649.8 1172.9M1638.9 1172.3L1649.8 1172.9M1651.9 1186.6L1649.8 1172.9M1703.9 1215.4L1697.8 1229.1M1608.7 1220.9L1616.9 1233.2M1625.8 1235.3L1616.9 1233.2M1688.9 1230.5L1697.8 1229.1M1708.7 1238.7L1697.8 1229.1M1604.6 1244.9L1616.9 1233.2M1734.1 1301L1738.9 1314.1M1737.5 1300.4L1738.9 1314.1M1592.4 1306.5L1585.7 1314.1M1598.6 1311.3L1592.5 1318.2M1586.9 1304.5L1585.7 1314.1M1730 1312L1738.9 1314.1M1732.7 1312.7L1738.9 1314.1M1736.1 1326.4L1738.9 1314.1M1705.3 1385.5L1695 1396.7M1651.9 1435.1L1649.8 1447.4M1703.3 1410.4L1695 1396.7M1685.4 1394.7L1695 1396.7M1688.9 1394.4L1695 1396.7M1662.2 1447.4L1649.8 1447.4M1665.6 1447.8L1649.8 1447.4M1635.4 1446.8L1649.8 1447.4M1638.9 1446.8L1649.8 1447.4M1651.9 1461.1L1649.8 1447.4M1703.9 1489.9L1697.8 1503.6M1608.7 1495.4L1616.9 1507.7M1625.8 1509.8L1616.9 1507.7M1688.9 1505L1697.8 1503.6M1708.7 1513.2L1697.8 1503.6M1604.6 1519.4L1616.9 1507.7M1734.1 1575.5L1738.9 1588.6M1737.5 1574.9L1738.9 1588.6M1592.4 1581L1585.7 1588.6M1598.6 1585.8L1592.5 1592.7M1586.9 1579L1585.7 1588.6M1730 1586.5L1738.9 1588.6M1732.7 1587.2L1738.9 1588.6M1736.1 1600.9L1738.9 1588.6M1705.3 1660L1695 1671.2M1685.4 1669.2L1695 1671.2M1688.9 1668.9L1695 1671.2" stroke="#cdb4e2" stroke-width="2" fill="none"/>
<path d="M1095.6 1065.6L1090.1 1052.6M1095.6 1065.6L1097 1080M1102.5 1069.7L1097 1056.7M1102.5 1069.7L1100.4 1082M1095.6 1340.1L1090.1 1327.1M1095.6 1340.1L1097 1354.5M1102.5 1344.2L1097 1331.2M1102.5 1344.2L1100.4 1356.5M1095.6 1614.6L1090.1 1601.6M1095.6 1614.6L1097 1629M1102.5 1618.7L1097 1605.7M1102.5 1618.7L1100.4 1631M1133.7 962.8L1124.8 960.8M1133.7 962.8L1145.4 958.7M1179 957.4L1168 956M1179 957.4L1187.9 956M1159.8 971.1L1158.4 962.8M1159.8 971.1L1160.5 982.7M1161.2 980.6L1159.1 967.6M1161.2 980.6L1161.2 987.5M1218.7 973.8L1207.7 964.2M1218.7 973.8L1228.3 984.8M1091.3 982L1103.6 970.4M1091.3 982L1088 995.7M1137.9 1009.4L1149.5 1001.9M1137.9 1009.4L1131 1020.4M1185.8 1012.2L1173.5 1003.3M1185.8 1012.2L1192.7 1024.5M1262.5 986.1L1250.2 990.9M1262.5 986.1L1277.6 988.9M1228.3 1013.5L1233.1 1004.6M1228.3 1013.5L1233.1 1026.5M1235.1 1012.2L1236.5 1003.9M1235.1 1012.2L1236.5 1025.9M1287.2 1009.4L1289.9 1000.5M1287.2 1009.4L1287.2 1021.8M1292.7 1010.8L1292.7 1001.2M1292.7 1010.8L1294.1 1025.9M1306.4 1016.3L1320.8 1012.8M1306.4 1016.3L1300.9 1028.6M1098.1 1024.5L1111.1 1027.9M1098.1 1024.5L1091.4 1032M1103.6 1030L1113.9 1030.7M1103.6 1030L1097.6 1036.8M1087.2 1020.4L1085.9 1014.9M1087.2 1020.4L1085.9 1030M1220.1 1035.5L1209.8 1036.1M1220.1 1035.5L1229 1037.5M1225.5 1036.8L1212.5 1036.8M1225.5 1036.8L1231.7 1038.2M1265.3 1040.9L1251.6 1040.3M1265.3 1040.9L1276.2 1037.5M1310.5 1039.6L1298.9 1036.8M1310.5 1039.6L1322.8 1039.6M1314.6 1042.3L1305 1041.6M1314.6 1042.3L1328.3 1043M1137.9 1058.7L1131 1045M1137.9 1058.7L1129.6 1069M1144.7 1058.7L1134.4 1045M1144.7 1058.7L1133.1 1069M1185.8 1062.9L1192.7 1049.8M1185.8 1062.9L1173.5 1070.4M1232.4 1064.2L1235.1 1051.9M1232.4 1064.2L1234.5 1072.5M1292.7 1060.1L1289.9 1047.1M1292.7 1060.1L1293.4 1071.1M1299.5 1067L1297.5 1054M1299.5 1067L1296.8 1074.5M1346.1 1065.6L1340.6 1052.6M1346.1 1065.6L1347.5 1080M1353 1069.7L1347.5 1056.7M1353 1069.7L1350.9 1082M1132.4 1104L1126.9 1091.6M1132.4 1104L1141.3 1111.7M1159.8 1095.7L1160.5 1086.8M1159.8 1095.7L1159.8 1107.6M1163.9 1105.3L1162.5 1091.6M1163.9 1105.3L1161.8 1112.4M1214.6 1099.9L1225.5 1090.3M1214.6 1099.9L1204.3 1111M1263.9 1094.4L1250.2 1087.5M1263.9 1094.4L1279 1088.2M1320.1 1104L1307.1 1093M1320.1 1104L1334.5 1099.2M1117.3 1110.8L1107.8 1102.6M1117.3 1110.8L1133.7 1115.2M1107.7 1086.2L1114.6 1082.7M1107.7 1086.2L1103 1090.3M1152.9 1148.3L1151.6 1133.9M1152.9 1148.3L1156.4 1133.9M1152.9 1148.3L1150.9 1160.6M1210.5 1149.6L1202.3 1135.9M1210.5 1149.6L1202.3 1162.7M1174.9 1118.1L1167.3 1118.8M1174.9 1118.1L1184.4 1120.2M1181.7 1117.6L1170.7 1118.5M1181.7 1117.6L1187.9 1119.9M1173.5 1172.9L1161.2 1172.9M1173.5 1172.9L1183.8 1174.3M1180.3 1173.8L1164.6 1173.3M1180.3 1173.8L1187.2 1174.7M1120 1171.6L1134.4 1172.3M1120 1171.6L1113.9 1175M1126.9 1171.6L1137.9 1172.3M1126.9 1171.6L1117.3 1175M1152.9 1200.3L1150.9 1186.6M1152.9 1200.3L1155 1214.7M1209.1 1201.7L1201.6 1188.7M1209.1 1201.7L1202.9 1215.4M1099.5 1208.6L1103.6 1193.5M1099.5 1208.6L1107.7 1220.9M1133.7 1237.3L1124.8 1235.3M1133.7 1237.3L1145.4 1233.2M1179 1231.9L1168 1230.5M1179 1231.9L1187.9 1230.5M1159.8 1245.6L1158.4 1237.3M1159.8 1245.6L1160.5 1257.2M1161.2 1255.1L1159.1 1242.1M1161.2 1255.1L1161.2 1262M1218.7 1248.3L1207.7 1238.7M1218.7 1248.3L1228.3 1259.3M1091.3 1256.5L1103.6 1244.9M1091.3 1256.5L1088 1270.2M1137.9 1283.9L1149.5 1276.4M1137.9 1283.9L1131 1294.9M1185.8 1286.7L1173.5 1277.8M1185.8 1286.7L1192.7 1299M1262.5 1260.6L1250.2 1265.4M1262.5 1260.6L1277.6 1263.4M1228.3 1288L1233.1 1279.1M1228.3 1288L1233.1 1301M1235.1 1286.7L1236.5 1278.4M1235.1 1286.7L1236.5 1300.4M1287.2 1283.9L1289.9 1275M1287.2 1283.9L1287.2 1296.3M1292.7 1285.3L1292.7 1275.7M1292.7 1285.3L1294.1 1300.4M1306.4 1290.8L1320.8 1287.3M1306.4 1290.8L1300.9 1303.1M1098.1 1299L1111.1 1302.4M1098.1 1299L1091.4 1306.5M1103.6 1304.5L1113.9 1305.2M1103.6 1304.5L1097.6 1311.3M1087.2 1294.9L1085.9 1289.4M1087.2 1294.9L1085.9 1304.5M1220.1 1310L1209.8 1310.6M1220.1 1310L1229 1312M1225.5 1311.3L1212.5 1311.3M1225.5 1311.3L1231.7 1312.7M1265.3 1315.4L1251.6 1314.8M1265.3 1315.4L1276.2 1312M1310.5 1314.1L1298.9 1311.3M1310.5 1314.1L1322.8 1314.1M1314.6 1316.8L1305 1316.1M1314.6 1316.8L1328.3 1317.5M1137.9 1333.2L1131 1319.5M1137.9 1333.2L1129.6 1343.5M1144.7 1333.2L1134.4 1319.5M1144.7 1333.2L1133.1 1343.5M1185.8 1337.4L1192.7 1324.3M1185.8 1337.4L1173.5 1344.9M1232.4 1338.7L1235.1 1326.4M1232.4 1338.7L1234.5 1347M1292.7 1334.6L1289.9 1321.6M1292.7 1334.6L1293.4 1345.6M1299.5 1341.5L1297.5 1328.5M1299.5 1341.5L1296.8 1349M1346.1 1340.1L1340.6 1327.1M1346.1 1340.1L1347.5 1354.5M1353 1344.2L1347.5 1331.2M1353 1344.2L1350.9 1356.5M1132.4 1378.5L1126.9 1366.1M1132.4 1378.5L1141.3 1386.2M1159.8 1370.2L1160.5 1361.3M1159.8 1370.2L1159.8 1382.1M1163.9 1379.8L1162.5 1366.1M1163.9 1379.8L1161.8 1386.9M1214.6 1374.4L1225.5 1364.8M1214.6 1374.4L1204.3 1385.5M1263.9 1368.9L1250.2 1362M1263.9 1368.9L1279 1362.7M1320.1 1378.5L1307.1 1367.5M1320.1 1378.5L1334.5 1373.7M1117.3 1385.3L1107.8 1377.1M1117.3 1385.3L1133.7 1389.7M1107.7 1360.7L1114.6 1357.2M1107.7 1360.7L1103 1364.8M1152.9 1422.8L1151.6 1408.4M1152.9 1422.8L1156.4 1408.4M1152.9 1422.8L1150.9 1435.1M1210.5 1424.1L1202.3 1410.4M1210.5 1424.1L1202.3 1437.2M1174.9 1392.6L1167.3 1393.3M1174.9 1392.6L1184.4 1394.7M1181.7 1392.1L1170.7 1393M1181.7 1392.1L1187.9 1394.4M1173.5 1447.4L1161.2 1447.4M1173.5 1447.4L1183.8 1448.8M1180.3 1448.3L1164.6 1447.8M1180.3 1448.3L1187.2 1449.2M1120 1446.1L1134.4 1446.8M1120 1446.1L1113.9 1449.5M1126.9 1446.1L1137.9 1446.8M1126.9 1446.1L1117.3 1449.5M1152.9 1474.8L1150.9 1461.1M1152.9 1474.8L1155 1489.2M1209.1 1476.2L1201.6 1463.2M1209.1 1476.2L1202.9 1489.9M1099.5 1483.1L1103.6 1468M1099.5 1483.1L1107.7 1495.4M1133.7 1511.8L1124.8 1509.8M1133.7 1511.8L1145.4 1507.7M1179 1506.4L1168 1505M1179 1506.4L1187.9 1505M1159.8 1520.1L1158.4 1511.8M1159.8 1520.1L1160.5 1531.7M1161.2 1529.6L1159.1 1516.6M1161.2 1529.6L1161.2 1536.5M1218.7 1522.8L1207.7 1513.2M1218.7 1522.8L1228.3 1533.8M1091.3 1531L1103.6 1519.4M1091.3 1531L1088 1544.7M1137.9 1558.4L1149.5 1550.9M1137.9 1558.4L1131 1569.4M1185.8 1561.2L1173.5 1552.3M1185.8 1561.2L1192.7 1573.5M1262.5 1535.1L1250.2 1539.9M1262.5 1535.1L1277.6 1537.9M1228.3 1562.5L1233.1 1553.6M1228.3 1562.5L1233.1 1575.5M1235.1 1561.2L1236.5 1552.9M1235.1 1561.2L1236.5 1574.9M1287.2 1558.4L1289.9 1549.5M1287.2 1558.4L1287.2 1570.8M1292.7 1559.8L1292.7 1550.2M1292.7 1559.8L1294.1 1574.9M1306.4 1565.3L1320.8 1561.8M1306.4 1565.3L1300.9 1577.6M1098.1 1573.5L1111.1 1576.9M1098.1 1573.5L1091.4 1581M1103.6 1579L1113.9 1579.7M1103.6 1579L1097.6 1585.8M1087.2 1569.4L1085.9 1563.9M1087.2 1569.4L1085.9 1579M1220.1 1584.5L1209.8 1585.1M1220.1 1584.5L1229 1586.5M1225.5 1585.8L1212.5 1585.8M1225.5 1585.8L1231.7 1587.2M1265.3 1589.9L1251.6 1589.3M1265.3 1589.9L1276.2 1586.5M1310.5 1588.6L1298.9 1585.8M1310.5 1588.6L1322.8 1588.6M1314.6 1591.3L1305 1590.6M1314.6 1591.3L1328.3 1592M1137.9 1607.7L1131 1594M1137.9 1607.7L1129.6 1618M1144.7 1607.7L1134.4 1594M1144.7 1607.7L1133.1 1618M1185.8 1611.9L1192.7 1598.8M1185.8 1611.9L1173.5 1619.4M1232.4 1613.2L1235.1 1600.9M1232.4 1613.2L1234.5 1621.5M1292.7 1609.1L1289.9 1596.1M1292.7 1609.1L1293.4 1620.1M1299.5 1616L1297.5 1603M1299.5 1616L1296.8 1623.5M1346.1 1614.6L1340.6 1601.6M1346.1 1614.6L1347.5 1629M1353 1618.7L1347.5 1605.7M1353 1618.7L1350.9 1631M1132.4 1653L1126.9 1640.6M1132.4 1653L1141.3 1660.7M1159.8 1644.7L1160.5 1635.8M1159.8 1644.7L1159.8 1656.6M1163.9 1654.3L1162.5 1640.6M1163.9 1654.3L1161.8 1661.4M1214.6 1648.9L1225.5 1639.3M1214.6 1648.9L1204.3 1660M1263.9 1643.4L1250.2 1636.5M1263.9 1643.4L1279 1637.2M1320.1 1653L1307.1 1642M1320.1 1653L1334.5 1648.2M1117.3 1659.8L1107.8 1651.6M1117.3 1659.8L1133.7 1664.2M1107.7 1635.2L1114.6 1631.7M1107.7 1635.2L1103 1639.3M1174.9 1667.1L1167.3 1667.8M1174.9 1667.1L1184.4 1669.2M1181.7 1666.6L1170.7 1667.5M1181.7 1666.6L1187.9 1668.9M1384.2 962.8L1375.3 960.8M1384.2 962.8L1395.9 958.7M1429.5 957.4L1418.5 956M1429.5 957.4L1438.4 956M1410.3 971.1L1408.9 962.8M1410.3 971.1L1411 982.7M1411.7 980.6L1409.6 967.6M1411.7 980.6L1411.7 987.5M1469.2 973.8L1458.2 964.2M1469.2 973.8L1478.8 984.8M1341.8 982L1354.1 970.4M1341.8 982L1338.5 995.7M1388.4 1009.4L1400 1001.9M1388.4 1009.4L1381.5 1020.4M1436.3 1012.2L1424 1003.3M1436.3 1012.2L1443.2 1024.5M1513 986.1L1500.7 990.9M1513 986.1L1528.1 988.9M1478.8 1013.5L1483.6 1004.6M1478.8 1013.5L1483.6 1026.5M1485.6 1012.2L1487 1003.9M1485.6 1012.2L1487 1025.9M1537.7 1009.4L1540.4 1000.5M1537.7 1009.4L1537.7 1021.8M1543.2 1010.8L1543.2 1001.2M1543.2 1010.8L1544.6 1025.9M1556.9 1016.3L1571.3 1012.8M1556.9 1016.3L1551.4 1028.6M1348.6 1024.5L1361.6 1027.9M1348.6 1024.5L1341.9 1032M1354.1 1030L1364.4 1030.7M1354.1 1030L1348.1 1036.8M1337.7 1020.4L1336.4 1014.9M1337.7 1020.4L1336.4 1030M1470.6 1035.5L1460.3 1036.1M1470.6 1035.5L1479.5 1037.5M1476 1036.8L1463 1036.8M1476 1036.8L1482.2 1038.2M1515.8 1040.9L1502.1 1040.3M1515.8 1040.9L1526.7 1037.5M1561 1039.6L1549.4 1036.8M1561 1039.6L1573.3 1039.6M1565.1 1042.3L1555.5 1041.6M1565.1 1042.3L1578.8 1043M1388.4 1058.7L1381.5 1045M1388.4 1058.7L1380.1 1069M1395.2 1058.7L1384.9 1045M1395.2 1058.7L1383.6 1069M1436.3 1062.9L1443.2 1049.8M1436.3 1062.9L1424 1070.4M1482.9 1064.2L1485.6 1051.9M1482.9 1064.2L1485 1072.5M1543.2 1060.1L1540.4 1047.1M1543.2 1060.1L1543.9 1071.1M1550 1067L1548 1054M1550 1067L1547.3 1074.5M1596.6 1065.6L1591.1 1052.6M1596.6 1065.6L1598 1080M1603.5 1069.7L1598 1056.7M1603.5 1069.7L1601.4 1082M1382.9 1104L1377.4 1091.6M1382.9 1104L1391.8 1111.7M1410.3 1095.7L1411 1086.8M1410.3 1095.7L1410.3 1107.6M1414.4 1105.3L1413 1091.6M1414.4 1105.3L1412.3 1112.4M1465.1 1099.9L1476 1090.3M1465.1 1099.9L1454.8 1111M1514.4 1094.4L1500.7 1087.5M1514.4 1094.4L1529.5 1088.2M1570.6 1104L1557.6 1093M1570.6 1104L1585 1099.2M1367.8 1110.8L1358.3 1102.6M1367.8 1110.8L1384.2 1115.2M1358.2 1086.2L1365.1 1082.7M1358.2 1086.2L1353.5 1090.3M1403.4 1148.3L1402.1 1133.9M1403.4 1148.3L1406.9 1133.9M1403.4 1148.3L1401.4 1160.6M1461 1149.6L1452.8 1135.9M1461 1149.6L1452.8 1162.7M1425.4 1118.1L1417.8 1118.8M1425.4 1118.1L1434.9 1120.2M1432.2 1117.6L1421.2 1118.5M1432.2 1117.6L1438.4 1119.9M1424 1172.9L1411.7 1172.9M1424 1172.9L1434.3 1174.3M1430.8 1173.8L1415.1 1173.3M1430.8 1173.8L1437.7 1174.7M1370.5 1171.6L1384.9 1172.3M1370.5 1171.6L1364.4 1175M1377.4 1171.6L1388.4 1172.3M1377.4 1171.6L1367.8 1175M1403.4 1200.3L1401.4 1186.6M1403.4 1200.3L1405.5 1214.7M1459.6 1201.7L1452.1 1188.7M1459.6 1201.7L1453.4 1215.4M1350 1208.6L1354.1 1193.5M1350 1208.6L1358.2 1220.9M1384.2 1237.3L1375.3 1235.3M1384.2 1237.3L1395.9 1233.2M1429.5 1231.9L1418.5 1230.5M1429.5 1231.9L1438.4 1230.5M1410.3 1245.6L1408.9 1237.3M1410.3 1245.6L1411 1257.2M1411.7 1255.1L1409.6 1242.1M1411.7 1255.1L1411.7 1262M1469.2 1248.3L1458.2 1238.7M1469.2 1248.3L1478.8 1259.3M1341.8 1256.5L1354.1 1244.9M1341.8 1256.5L1338.5 1270.2M1388.4 1283.9L1400 1276.4M1388.4 1283.9L1381.5 1294.9M1436.3 1286.7L1424 1277.8M1436.3 1286.7L1443.2 1299M1513 1260.6L1500.7 1265.4M1513 1260.6L1528.1 1263.4M1478.8 1288L1483.6 1279.1M1478.8 1288L1483.6 1301M1485.6 1286.7L1487 1278.4M1485.6 1286.7L1487 1300.4M1537.7 1283.9L1540.4 1275M1537.7 1283.9L1537.7 1296.3M1543.2 1285.3L1543.2 1275.7M1543.2 1285.3L1544.6 1300.4M1556.9 1290.8L1571.3 1287.3M1556.9 1290.8L1551.4 1303.1M1348.6 1299L1361.6 1302.4M1348.6 1299L1341.9 1306.5M1354.1 1304.5L1364.4 1305.2M1354.1 1304.5L1348.1 1311.3M1337.7 1294.9L1336.4 1289.4M1337.7 1294.9L1336.4 1304.5M1470.6 1310L1460.3 1310.6M1470.6 1310L1479.5 1312M1476 1311.3L1463 1311.3M1476 1311.3L1482.2 1312.7M1515.8 1315.4L1502.1 1314.8M1515.8 1315.4L1526.7 1312M1561 1314.1L1549.4 1311.3M1561 1314.1L1573.3 1314.1M1565.1 1316.8L1555.5 1316.1M1565.1 1316.8L1578.8 1317.5M1388.4 1333.2L1381.5 1319.5M1388.4 1333.2L1380.1 1343.5M1395.2 1333.2L1384.9 1319.5M1395.2 1333.2L1383.6 1343.5M1436.3 1337.4L1443.2 1324.3M1436.3 1337.4L1424 1344.9M1482.9 1338.7L1485.6 1326.4M1482.9 1338.7L1485 1347M1543.2 1334.6L1540.4 1321.6M1543.2 1334.6L1543.9 1345.6M1550 1341.5L1548 1328.5M1550 1341.5L1547.3 1349M1596.6 1340.1L1591.1 1327.1M1596.6 1340.1L1598 1354.5M1603.5 1344.2L1598 1331.2M1603.5 1344.2L1601.4 1356.5M1382.9 1378.5L1377.4 1366.1M1382.9 1378.5L1391.8 1386.2M1410.3 1370.2L1411 1361.3M1410.3 1370.2L1410.3 1382.1M1414.4 1379.8L1413 1366.1M1414.4 1379.8L1412.3 1386.9M1465.1 1374.4L1476 1364.8M1465.1 1374.4L1454.8 1385.5M1514.4 1368.9L1500.7 1362M1514.4 1368.9L1529.5 1362.7M1570.6 1378.5L1557.6 1367.5M1570.6 1378.5L1585 1373.7M1367.8 1385.3L1358.3 1377.1M1367.8 1385.3L1384.2 1389.7M1358.2 1360.7L1365.1 1357.2M1358.2 1360.7L1353.5 1364.8M1403.4 1422.8L1402.1 1408.4M1403.4 1422.8L1406.9 1408.4M1403.4 1422.8L1401.4 1435.1M1461 1424.1L1452.8 1410.4M1461 1424.1L1452.8 1437.2M1425.4 1392.6L1417.8 1393.3M1425.4 1392.6L1434.9 1394.7M1432.2 1392.1L1421.2 1393M1432.2 1392.1L1438.4 1394.4M1424 1447.4L1411.7 1447.4M1424 1447.4L1434.3 1448.8M1430.8 1448.3L1415.1 1447.8M1430.8 1448.3L1437.7 1449.2M1370.5 1446.1L1384.9 1446.8M1370.5 1446.1L1364.4 1449.5M1377.4 1446.1L1388.4 1446.8M1377.4 1446.1L1367.8 1449.5M1403.4 1474.8L1401.4 1461.1M1403.4 1474.8L1405.5 1489.2M1459.6 1476.2L1452.1 1463.2M1459.6 1476.2L1453.4 1489.9M1350 1483.1L1354.1 1468M1350 1483.1L1358.2 1495.4M1384.2 1511.8L1375.3 1509.8M1384.2 1511.8L1395.9 1507.7M1429.5 1506.4L1418.5 1505M1429.5 1506.4L1438.4 1505M1410.3 1520.1L1408.9 1511.8M1410.3 1520.1L1411 1531.7M1411.7 1529.6L1409.6 1516.6M1411.7 1529.6L1411.7 1536.5M1469.2 1522.8L1458.2 1513.2M1469.2 1522.8L1478.8 1533.8M1341.8 1531L1354.1 1519.4M1341.8 1531L1338.5 1544.7M1388.4 1558.4L1400 1550.9M1388.4 1558.4L1381.5 1569.4M1436.3 1561.2L1424 1552.3M1436.3 1561.2L1443.2 1573.5M1513 1535.1L1500.7 1539.9M1513 1535.1L1528.1 1537.9M1478.8 1562.5L1483.6 1553.6M1478.8 1562.5L1483.6 1575.5M1485.6 1561.2L1487 1552.9M1485.6 1561.2L1487 1574.9M1537.7 1558.4L1540.4 1549.5M1537.7 1558.4L1537.7 1570.8M1543.2 1559.8L1543.2 1550.2M1543.2 1559.8L1544.6 1574.9M1556.9 1565.3L1571.3 1561.8M1556.9 1565.3L1551.4 1577.6M1348.6 1573.5L1361.6 1576.9M1348.6 1573.5L1341.9 1581M1354.1 1579L1364.4 1579.7M1354.1 1579L1348.1 1585.8M1337.7 1569.4L1336.4 1563.9M1337.7 1569.4L1336.4 1579M1470.6 1584.5L1460.3 1585.1M1470.6 1584.5L1479.5 1586.5M1476 1585.8L1463 1585.8M1476 1585.8L1482.2 1587.2M1515.8 1589.9L1502.1 1589.3M1515.8 1589.9L1526.7 1586.5M1561 1588.6L1549.4 1585.8M1561 1588.6L1573.3 1588.6M1565.1 1591.3L1555.5 1590.6M1565.1 1591.3L1578.8 1592M1388.4 1607.7L1381.5 1594M1388.4 1607.7L1380.1 1618M1395.2 1607.7L1384.9 1594M1395.2 1607.7L1383.6 1618M1436.3 1611.9L1443.2 1598.8M1436.3 1611.9L1424 1619.4M1482.9 1613.2L1485.6 1600.9M1482.9 1613.2L1485 1621.5M1543.2 1609.1L1540.4 1596.1M1543.2 1609.1L1543.9 1620.1M1550 1616L1548 1603M1550 1616L1547.3 1623.5M1596.6 1614.6L1591.1 1601.6M1596.6 1614.6L1598 1629M1603.5 1618.7L1598 1605.7M1603.5 1618.7L1601.4 1631M1382.9 1653L1377.4 1640.6M1382.9 1653L1391.8 1660.7M1410.3 1644.7L1411 1635.8M1410.3 1644.7L1410.3 1656.6M1414.4 1654.3L1413 1640.6M1414.4 1654.3L1412.3 1661.4M1465.1 1648.9L1476 1639.3M1465.1 1648.9L1454.8 1660M1514.4 1643.4L1500.7 1636.5M1514.4 1643.4L1529.5 1637.2M1570.6 1653L1557.6 1642M1570.6 1653L1585 1648.2M1367.8 1659.8L1358.3 1651.6M1367.8 1659.8L1384.2 1664.2M1358.2 1635.2L1365.1 1631.7M1358.2 1635.2L1353.5 1639.3M1425.4 1667.1L1417.8 1667.8M1425.4 1667.1L1434.9 1669.2M1432.2 1666.6L1421.2 1667.5M1432.2 1666.6L1438.4 1668.9M1634.7 962.8L1625.8 960.8M1634.7 962.8L1646.4 958.7M1680 957.4L1669 956M1680 957.4L1688.9 956M1660.8 971.1L1659.4 962.8M1660.8 971.1L1661.5 982.7M1662.2 980.6L1660.1 967.6M1662.2 980.6L1662.2 987.5M1719.7 973.8L1708.7 964.2M1719.7 973.8L1729.3 984.8M1592.3 982L1604.6 970.4M1592.3 982L1589 995.7M1638.9 1009.4L1650.5 1001.9M1638.9 1009.4L1632 1020.4M1686.8 1012.2L1674.5 1003.3M1686.8 1012.2L1693.7 1024.5M1729.3 1013.5L1734.1 1004.6M1729.3 1013.5L1734.1 1026.5M1736.1 1012.2L1737.5 1003.9M1736.1 1012.2L1737.5 1025.9M1599.1 1024.5L1612.1 1027.9M1599.1 1024.5L1592.4 1032M1604.6 1030L1614.9 1030.7M1604.6 1030L1598.6 1036.8M1588.2 1020.4L1586.9 1014.9M1588.2 1020.4L1586.9 1030M1721.1 1035.5L1710.8 1036.1M1721.1 1035.5L1730 1037.5M1726.5 1036.8L1713.5 1036.8M1726.5 1036.8L1732.7 1038.2M1638.9 1058.7L1632 1045M1638.9 1058.7L1630.6 1069M1645.7 1058.7L1635.4 1045M1645.7 1058.7L1634.1 1069M1686.8 1062.9L1693.7 1049.8M1686.8 1062.9L1674.5 1070.4M1733.4 1064.2L1736.1 1051.9M1733.4 1064.2L1735.5 1072.5M1633.4 1104L1627.9 1091.6M1633.4 1104L1642.3 1111.7M1660.8 1095.7L1661.5 1086.8M1660.8 1095.7L1660.8 1107.6M1664.9 1105.3L1663.5 1091.6M1664.9 1105.3L1662.8 1112.4M1715.6 1099.9L1726.5 1090.3M1715.6 1099.9L1705.3 1111M1618.3 1110.8L1608.8 1102.6M1618.3 1110.8L1634.7 1115.2M1608.7 1086.2L1615.6 1082.7M1608.7 1086.2L1604 1090.3M1653.9 1148.3L1652.6 1133.9M1653.9 1148.3L1657.4 1133.9M1653.9 1148.3L1651.9 1160.6M1711.5 1149.6L1703.3 1135.9M1711.5 1149.6L1703.3 1162.7M1675.9 1118.1L1668.3 1118.8M1675.9 1118.1L1685.4 1120.2M1682.7 1117.6L1671.7 1118.5M1682.7 1117.6L1688.9 1119.9M1674.5 1172.9L1662.2 1172.9M1674.5 1172.9L1684.8 1174.3M1681.3 1173.8L1665.6 1173.3M1681.3 1173.8L1688.2 1174.7M1621 1171.6L1635.4 1172.3M1621 1171.6L1614.9 1175M1627.9 1171.6L1638.9 1172.3M1627.9 1171.6L1618.3 1175M1653.9 1200.3L1651.9 1186.6M1653.9 1200.3L1656 1214.7M1710.1 1201.7L1702.6 1188.7M1710.1 1201.7L1703.9 1215.4M1600.5 1208.6L1604.6 1193.5M1600.5 1208.6L1608.7 1220.9M1634.7 1237.3L1625.8 1235.3M1634.7 1237.3L1646.4 1233.2M1680 1231.9L1669 1230.5M1680 1231.9L1688.9 1230.5M1660.8 1245.6L1659.4 1237.3M1660.8 1245.6L1661.5 1257.2M1662.2 1255.1L1660.1 1242.1M1662.2 1255.1L1662.2 1262M1719.7 1248.3L1708.7 1238.7M1719.7 1248.3L1729.3 1259.3M1592.3 1256.5L1604.6 1244.9M1592.3 1256.5L1589 1270.2M1638.9 1283.9L1650.5 1276.4M1638.9 1283.9L1632 1294.9M1686.8 1286.7L1674.5 1277.8M1686.8 1286.7L1693.7 1299M1729.3 1288L1734.1 1279.1M1729.3 1288L1734.1 1301M1736.1 1286.7L1737.5 1278.4M1736.1 1286.7L1737.5 1300.4M1599.1 1299L1612.1 1302.4M1599.1 1299L1592.4 1306.5M1604.6 1304.5L1614.9 1305.2M1604.6 1304.5L1598.6 1311.3M1588.2 1294.9L1586.9 1289.4M1588.2 1294.9L1586.9 1304.5M1721.1 1310L1710.8 1310.6M1721.1 1310L1730 1312M1726.5 1311.3L1713.5 1311.3M1726.5 1311.3L1732.7 1312.7M1638.9 1333.2L1632 1319.5M1638.9 1333.2L1630.6 1343.5M1645.7 1333.2L1635.4 1319.5M1645.7 1333.2L1634.1 1343.5M1686.8 1337.4L1693.7 1324.3M1686.8 1337.4L1674.5 1344.9M1733.4 1338.7L1736.1 1326.4M1733.4 1338.7L1735.5 1347M1633.4 1378.5L1627.9 1366.1M1633.4 1378.5L1642.3 1386.2M1660.8 1370.2L1661.5 1361.3M1660.8 1370.2L1660.8 1382.1M1664.9 1379.8L1663.5 1366.1M1664.9 1379.8L1662.8 1386.9M1715.6 1374.4L1726.5 1364.8M1715.6 1374.4L1705.3 1385.5M1618.3 1385.3L1608.8 1377.1M1618.3 1385.3L1634.7 1389.7M1608.7 1360.7L1615.6 1357.2M1608.7 1360.7L1604 1364.8M1653.9 1422.8L1652.6 1408.4M1653.9 1422.8L1657.4 1408.4M1653.9 1422.8L1651.9 1435.1M1711.5 1424.1L1703.3 1410.4M1711.5 1424.1L1703.3 1437.2M1675.9 1392.6L1668.3 1393.3M1675.9 1392.6L1685.4 1394.7M1682.7 1392.1L1671.7 1393M1682.7 1392.1L1688.9 1394.4M1674.5 1447.4L1662.2 1447.4M1674.5 1447.4L1684.8 1448.8M1681.3 1448.3L1665.6 1447.8M1681.3 1448.3L1688.2 1449.2M1621 1446.1L1635.4 1446.8M1621 1446.1L1614.9 1449.5M1627.9 1446.1L1638.9 1446.8M1627.9 1446.1L1618.3 1449.5M1653.9 1474.8L1651.9 1461.1M1653.9 1474.8L1656 1489.2M1710.1 1476.2L1702.6 1463.2M1710.1 1476.2L1703.9 1489.9M1600.5 1483.1L1604.6 1468M1600.5 1483.1L1608.7 1495.4M1634.7 1511.8L1625.8 1509.8M1634.7 1511.8L1646.4 1507.7M1680 1506.4L1669 1505M1680 1506.4L1688.9 1505M1660.8 1520.1L1659.4 1511.8M1660.8 1520.1L1661.5 1531.7M1662.2 1529.6L1660.1 1516.6M1662.2 1529.6L1662.2 1536.5M1719.7 1522.8L1708.7 1513.2M1719.7 1522.8L1729.3 1533.8M1592.3 1531L1604.6 1519.4M1592.3 1531L1589 1544.7M1638.9 1558.4L1650.5 1550.9M1638.9 1558.4L1632 1569.4M1686.8 1561.2L1674.5 1552.3M1686.8 1561.2L1693.7 1573.5M1729.3 1562.5L1734.1 1553.6M1729.3 1562.5L1734.1 1575.5M1736.1 1561.2L1737.5 1552.9M1736.1 1561.2L1737.5 1574.9M1599.1 1573.5L1612.1 1576.9M1599.1 1573.5L1592.4 1581M1604.6 1579L1614.9 1579.7M1604.6 1579L1598.6 1585.8M1588.2 1569.4L1586.9 1563.9M1588.2 1569.4L1586.9 1579M1721.1 1584.5L1710.8 1585.1M1721.1 1584.5L1730 1586.5M1726.5 1585.8L1713.5 1585.8M1726.5 1585.8L1732.7 1587.2M1638.9 1607.7L1632 1594M1638.9 1607.7L1630.6 1618M1645.7 1607.7L1635.4 1594M1645.7 1607.7L1634.1 1618M1686.8 1611.9L1693.7 1598.8M1686.8 1611.9L1674.5 1619.4M1733.4 1613.2L1736.1 1600.9M1733.4 1613.2L1735.5 1621.5M1633.4 1653L1627.9 1640.6M1633.4 1653L1642.3 1660.7M1660.8 1644.7L1661.5 1635.8M1660.8 1644.7L1660.8 1656.6M1664.9 1654.3L1663.5 1640.6M1664.9 1654.3L1662.8 1661.4M1715.6 1648.9L1726.5 1639.3M1715.6 1648.9L1705.3 1660M1618.3 1659.8L1608.8 1651.6M1618.3 1659.8L1634.7 1664.2M1608.7 1635.2L1615.6 1631.7M1608.7 1635.2L1604 1639.3M1675.9 1667.1L1668.3 1667.8M1675.9 1667.1L1685.4 1669.2M1682.7 1666.6L1671.7 1667.5M1682.7 1666.6L1688.9 1668.9" stroke="#b8101c" stroke-width="2" fill="none"/>
<g fill="url(#gO)"><circle cx="1179" cy="957.4" r="5.2"/><circle cx="1429.5" cy="957.4" r="5.2"/><circle cx="1680" cy="957.4" r="5.2"/><circle cx="1133.7" cy="962.8" r="5.2"/><circle cx="1384.2" cy="962.8" r="5.2"/><circle cx="1634.7" cy="962.8" r="5.2"/><circle cx="1159.8" cy="971.1" r="5.2"/><circle cx="1410.3" cy="971.1" r="5.2"/><circle cx="1660.8" cy="971.1" r="5.2"/><circle cx="1218.7" cy="973.8" r="5.2"/><circle cx="1469.2" cy="973.8" r="5.2"/><circle cx="1719.7" cy="973.8" r="5.2"/><circle cx="1161.2" cy="980.6" r="5.2"/><circle cx="1411.7" cy="980.6" r="5.2"/><circle cx="1662.2" cy="980.6" r="5.2"/><circle cx="1091.3" cy="982" r="5.2"/><circle cx="1341.8" cy="982" r="5.2"/><circle cx="1592.3" cy="982" r="5.2"/><circle cx="1262.5" cy="986.1" r="5.2"/><circle cx="1513" cy="986.1" r="5.2"/><circle cx="1137.9" cy="1009.4" r="5.2"/><circle cx="1287.2" cy="1009.4" r="5.2"/><circle cx="1388.4" cy="1009.4" r="5.2"/><circle cx="1537.7" cy="1009.4" r="5.2"/><circle cx="1638.9" cy="1009.4" r="5.2"/><circle cx="1292.7" cy="1010.8" r="5.2"/><circle cx="1543.2" cy="1010.8" r="5.2"/><circle cx="1185.8" cy="1012.2" r="5.2"/><circle cx="1235.1" cy="1012.2" r="5.2"/><circle cx="1436.3" cy="1012.2" r="5.2"/><circle cx="1485.6" cy="1012.2" r="5.2"/><circle cx="1686.8" cy="1012.2" r="5.2"/><circle cx="1736.1" cy="1012.2" r="5.2"/><circle cx="1228.3" cy="1013.5" r="5.2"/><circle cx="1478.8" cy="1013.5" r="5.2"/><circle cx="1729.3" cy="1013.5" r="5.2"/><circle cx="1306.4" cy="1016.3" r="5.2"/><circle cx="1556.9" cy="1016.3" r="5.2"/><circle cx="1087.2" cy="1020.4" r="5.2"/><circle cx="1337.7" cy="1020.4" r="5.2"/><circle cx="1588.2" cy="1020.4" r="5.2"/><circle cx="1098.1" cy="1024.5" r="5.2"/><circle cx="1348.6" cy="1024.5" r="5.2"/><circle cx="1599.1" cy="1024.5" r="5.2"/><circle cx="1103.6" cy="1030" r="5.2"/><circle cx="1354.1" cy="1030" r="5.2"/><circle cx="1604.6" cy="1030" r="5.2"/><circle cx="1220.1" cy="1035.5" r="5.2"/><circle cx="1470.6" cy="1035.5" r="5.2"/><circle cx="1721.1" cy="1035.5" r="5.2"/><circle cx="1225.5" cy="1036.8" r="5.2"/><circle cx="1476" cy="1036.8" r="5.2"/><circle cx="1726.5" cy="1036.8" r="5.2"/><circle cx="1310.5" cy="1039.6" r="5.2"/><circle cx="1561" cy="1039.6" r="5.2"/><circle cx="1265.3" cy="1040.9" r="5.2"/><circle cx="1515.8" cy="1040.9" r="5.2"/><circle cx="1314.6" cy="1042.3" r="5.2"/><circle cx="1565.1" cy="1042.3" r="5.2"/><circle cx="1137.9" cy="1058.7" r="5.2"/><circle cx="1144.7" cy="1058.7" r="5.2"/><circle cx="1388.4" cy="1058.7" r="5.2"/><circle cx="1395.2" cy="1058.7" r="5.2"/><circle cx="1638.9" cy="1058.7" r="5.2"/><circle cx="1645.7" cy="1058.7" r="5.2"/><circle cx="1292.7" cy="1060.1" r="5.2"/><circle cx="1543.2" cy="1060.1" r="5.2"/><circle cx="1185.8" cy="1062.9" r="5.2"/><circle cx="1436.3" cy="1062.9" r="5.2"/><circle cx="1686.8" cy="1062.9" r="5.2"/><circle cx="1232.4" cy="1064.2" r="5.2"/><circle cx="1482.9" cy="1064.2" r="5.2"/><circle cx="1733.4" cy="1064.2" r="5.2"/><circle cx="1095.6" cy="1065.6" r="5.2"/><circle cx="1346.1" cy="1065.6" r="5.2"/><circle cx="1596.6" cy="1065.6" r="5.2"/><circle cx="1299.5" cy="1067" r="5.2"/><circle cx="1550" cy="1067" r="5.2"/><circle cx="1102.5" cy="1069.7" r="5.2"/><circle cx="1353" cy="1069.7" r="5.2"/><circle cx="1603.5" cy="1069.7" r="5.2"/><circle cx="1107.7" cy="1086.2" r="5.2"/><circle cx="1358.2" cy="1086.2" r="5.2"/><circle cx="1608.7" cy="1086.2" r="5.2"/><circle cx="1263.9" cy="1094.4" r="5.2"/><circle cx="1514.4" cy="1094.4" r="5.2"/><circle cx="1159.8" cy="1095.7" r="5.2"/><circle cx="1410.3" cy="1095.7" r="5.2"/><circle cx="1660.8" cy="1095.7" r="5.2"/><circle cx="1214.6" cy="1099.9" r="5.2"/><circle cx="1465.1" cy="1099.9" r="5.2"/><circle cx="1715.6" cy="1099.9" r="5.2"/><circle cx="1132.4" cy="1104" r="5.2"/><circle cx="1320.1" cy="1104" r="5.2"/><circle cx="1382.9" cy="1104" r="5.2"/><circle cx="1570.6" cy="1104" r="5.2"/><circle cx="1633.4" cy="1104" r="5.2"/><circle cx="1163.9" cy="1105.3" r="5.2"/><circle cx="1414.4" cy="1105.3" r="5.2"/><circle cx="1664.9" cy="1105.3" r="5.2"/><circle cx="1117.3" cy="1110.8" r="5.2"/><circle cx="1367.8" cy="1110.8" r="5.2"/><circle cx="1618.3" cy="1110.8" r="5.2"/><circle cx="1181.7" cy="1117.6" r="5.2"/><circle cx="1432.2" cy="1117.6" r="5.2"/><circle cx="1682.7" cy="1117.6" r="5.2"/><circle cx="1174.9" cy="1118.1" r="5.2"/><circle cx="1425.4" cy="1118.1" r="5.2"/><circle cx="1675.9" cy="1118.1" r="5.2"/><circle cx="1152.9" cy="1148.3" r="5.2"/><circle cx="1403.4" cy="1148.3" r="5.2"/><circle cx="1653.9" cy="1148.3" r="5.2"/><circle cx="1210.5" cy="1149.6" r="5.2"/><circle cx="1461" cy="1149.6" r="5.2"/><circle cx="1711.5" cy="1149.6" r="5.2"/><circle cx="1120" cy="1171.6" r="5.2"/><circle cx="1126.9" cy="1171.6" r="5.2"/><circle cx="1370.5" cy="1171.6" r="5.2"/><circle cx="1377.4" cy="1171.6" r="5.2"/><circle cx="1621" cy="1171.6" r="5.2"/><circle cx="1627.9" cy="1171.6" r="5.2"/><circle cx="1173.5" cy="1172.9" r="5.2"/><circle cx="1424" cy="1172.9" r="5.2"/><circle cx="1674.5" cy="1172.9" r="5.2"/><circle cx="1180.3" cy="1173.8" r="5.2"/><circle cx="1430.8" cy="1173.8" r="5.2"/><circle cx="1681.3" cy="1173.8" r="5.2"/><circle cx="1152.9" cy="1200.3" r="5.2"/><circle cx="1403.4" cy="1200.3" r="5.2"/><circle cx="1653.9" cy="1200.3" r="5.2"/><circle cx="1209.1" cy="1201.7" r="5.2"/><circle cx="1459.6" cy="1201.7" r="5.2"/><circle cx="1710.1" cy="1201.7" r="5.2"/><circle cx="1099.5" cy="1208.6" r="5.2"/><circle cx="1350" cy="1208.6" r="5.2"/><circle cx="1600.5" cy="1208.6" r="5.2"/><circle cx="1179" cy="1231.9" r="5.2"/><circle cx="1429.5" cy="1231.9" r="5.2"/><circle cx="1680" cy="1231.9" r="5.2"/><circle cx="1133.7" cy="1237.3" r="5.2"/><circle cx="1384.2" cy="1237.3" r="5.2"/><circle cx="1634.7" cy="1237.3" r="5.2"/><circle cx="1159.8" cy="1245.6" r="5.2"/><circle cx="1410.3" cy="1245.6" r="5.2"/><circle cx="1660.8" cy="1245.6" r="5.2"/><circle cx="1218.7" cy="1248.3" r="5.2"/><circle cx="1469.2" cy="1248.3" r="5.2"/><circle cx="1719.7" cy="1248.3" r="5.2"/><circle cx="1161.2" cy="1255.1" r="5.2"/><circle cx="1411.7" cy="1255.1" r="5.2"/><circle cx="1662.2" cy="1255.1" r="5.2"/><circle cx="1091.3" cy="1256.5" r="5.2"/><circle cx="1341.8" cy="1256.5" r="5.2"/><circle cx="1592.3" cy="1256.5" r="5.2"/><circle cx="1262.5" cy="1260.6" r="5.2"/><circle cx="1513" cy="1260.6" r="5.2"/><circle cx="1137.9" cy="1283.9" r="5.2"/><circle cx="1287.2" cy="1283.9" r="5.2"/><circle cx="1388.4" cy="1283.9" r="5.2"/><circle cx="1537.7" cy="1283.9" r="5.2"/><circle cx="1638.9" cy="1283.9" r="5.2"/><circle cx="1292.7" cy="1285.3" r="5.2"/><circle cx="1543.2" cy="1285.3" r="5.2"/><circle cx="1185.8" cy="1286.7" r="5.2"/><circle cx="1235.1" cy="1286.7" r="5.2"/><circle cx="1436.3" cy="1286.7" r="5.2"/><circle cx="1485.6" cy="1286.7" r="5.2"/><circle cx="1686.8" cy="1286.7" r="5.2"/><circle cx="1736.1" cy="1286.7" r="5.2"/><circle cx="1228.3" cy="1288" r="5.2"/><circle cx="1478.8" cy="1288" r="5.2"/><circle cx="1729.3" cy="1288" r="5.2"/><circle cx="1306.4" cy="1290.8" r="5.2"/><circle cx="1556.9" cy="1290.8" r="5.2"/><circle cx="1087.2" cy="1294.9" r="5.2"/><circle cx="1337.7" cy="1294.9" r="5.2"/><circle cx="1588.2" cy="1294.9" r="5.2"/><circle cx="1098.1" cy="1299" r="5.2"/><circle cx="1348.6" cy="1299" r="5.2"/><circle cx="1599.1" cy="1299" r="5.2"/><circle cx="1103.6" cy="1304.5" r="5.2"/><circle cx="1354.1" cy="1304.5" r="5.2"/><circle cx="1604.6" cy="1304.5" r="5.2"/><circle cx="1220.1" cy="1310" r="5.2"/><circle cx="1470.6" cy="1310" r="5.2"/><circle cx="1721.1" cy="1310" r="5.2"/><circle cx="1225.5" cy="1311.3" r="5.2"/><circle cx="1476" cy="1311.3" r="5.2"/><circle cx="1726.5" cy="1311.3" r="5.2"/><circle cx="1310.5" cy="1314.1" r="5.2"/><circle cx="1561" cy="1314.1" r="5.2"/><circle cx="1265.3" cy="1315.4" r="5.2"/><circle cx="1515.8" cy="1315.4" r="5.2"/><circle cx="1314.6" cy="1316.8" r="5.2"/><circle cx="1565.1" cy="1316.8" r="5.2"/><circle cx="1137.9" cy="1333.2" r="5.2"/><circle cx="1144.7" cy="1333.2" r="5.2"/><circle cx="1388.4" cy="1333.2" r="5.2"/><circle cx="1395.2" cy="1333.2" r="5.2"/><circle cx="1638.9" cy="1333.2" r="5.2"/><circle cx="1645.7" cy="1333.2" r="5.2"/><circle cx="1292.7" cy="1334.6" r="5.2"/><circle cx="1543.2" cy="1334.6" r="5.2"/><circle cx="1185.8" cy="1337.4" r="5.2"/><circle cx="1436.3" cy="1337.4" r="5.2"/><circle cx="1686.8" cy="1337.4" r="5.2"/><circle cx="1232.4" cy="1338.7" r="5.2"/><circle cx="1482.9" cy="1338.7" r="5.2"/><circle cx="1733.4" cy="1338.7" r="5.2"/><circle cx="1095.6" cy="1340.1" r="5.2"/><circle cx="1346.1" cy="1340.1" r="5.2"/><circle cx="1596.6" cy="1340.1" r="5.2"/><circle cx="1299.5" cy="1341.5" r="5.2"/><circle cx="1550" cy="1341.5" r="5.2"/><circle cx="1102.5" cy="1344.2" r="5.2"/><circle cx="1353" cy="1344.2" r="5.2"/><circle cx="1603.5" cy="1344.2" r="5.2"/><circle cx="1107.7" cy="1360.7" r="5.2"/><circle cx="1358.2" cy="1360.7" r="5.2"/><circle cx="1608.7" cy="1360.7" r="5.2"/><circle cx="1263.9" cy="1368.9" r="5.2"/><circle cx="1514.4" cy="1368.9" r="5.2"/><circle cx="1159.8" cy="1370.2" r="5.2"/><circle cx="1410.3" cy="1370.2" r="5.2"/><circle cx="1660.8" cy="1370.2" r="5.2"/><circle cx="1214.6" cy="1374.4" r="5.2"/><circle cx="1465.1" cy="1374.4" r="5.2"/><circle cx="1715.6" cy="1374.4" r="5.2"/><circle cx="1132.4" cy="1378.5" r="5.2"/><circle cx="1320.1" cy="1378.5" r="5.2"/><circle cx="1382.9" cy="1378.5" r="5.2"/><circle cx="1570.6" cy="1378.5" r="5.2"/><circle cx="1633.4" cy="1378.5" r="5.2"/><circle cx="1163.9" cy="1379.8" r="5.2"/><circle cx="1414.4" cy="1379.8" r="5.2"/><circle cx="1664.9" cy="1379.8" r="5.2"/><circle cx="1117.3" cy="1385.3" r="5.2"/><circle cx="1367.8" cy="1385.3" r="5.2"/><circle cx="1618.3" cy="1385.3" r="5.2"/><circle cx="1181.7" cy="1392.1" r="5.2"/><circle cx="1432.2" cy="1392.1" r="5.2"/><circle cx="1682.7" cy="1392.1" r="5.2"/><circle cx="1174.9" cy="1392.6" r="5.2"/><circle cx="1425.4" cy="1392.6" r="5.2"/><circle cx="1675.9" cy="1392.6" r="5.2"/><circle cx="1152.9" cy="1422.8" r="5.2"/><circle cx="1403.4" cy="1422.8" r="5.2"/><circle cx="1653.9" cy="1422.8" r="5.2"/><circle cx="1210.5" cy="1424.1" r="5.2"/><circle cx="1461" cy="1424.1" r="5.2"/><circle cx="1711.5" cy="1424.1" r="5.2"/><circle cx="1120" cy="1446.1" r="5.2"/><circle cx="1126.9" cy="1446.1" r="5.2"/><circle cx="1370.5" cy="1446.1" r="5.2"/><circle cx="1377.4" cy="1446.1" r="5.2"/><circle cx="1621" cy="1446.1" r="5.2"/><circle cx="1627.9" cy="1446.1" r="5.2"/><circle cx="1173.5" cy="1447.4" r="5.2"/><circle cx="1424" cy="1447.4" r="5.2"/><circle cx="1674.5" cy="1447.4" r="5.2"/><circle cx="1180.3" cy="1448.3" r="5.2"/><circle cx="1430.8" cy="1448.3" r="5.2"/><circle cx="1681.3" cy="1448.3" r="5.2"/><circle cx="1152.9" cy="1474.8" r="5.2"/><circle cx="1403.4" cy="1474.8" r="5.2"/><circle cx="1653.9" cy="1474.8" r="5.2"/><circle cx="1209.1" cy="1476.2" r="5.2"/><circle cx="1459.6" cy="1476.2" r="5.2"/><circle cx="1710.1" cy="1476.2" r="5.2"/><circle cx="1099.5" cy="1483.1" r="5.2"/><circle cx="1350" cy="1483.1" r="5.2"/><circle cx="1600.5" cy="1483.1" r="5.2"/><circle cx="1179" cy="1506.4" r="5.2"/><circle cx="1429.5" cy="1506.4" r="5.2"/><circle cx="1680" cy="1506.4" r="5.2"/><circle cx="1133.7" cy="1511.8" r="5.2"/><circle cx="1384.2" cy="1511.8" r="5.2"/><circle cx="1634.7" cy="1511.8" r="5.2"/><circle cx="1159.8" cy="1520.1" r="5.2"/><circle cx="1410.3" cy="1520.1" r="5.2"/><circle cx="1660.8" cy="1520.1" r="5.2"/><circle cx="1218.7" cy="1522.8" r="5.2"/><circle cx="1469.2" cy="1522.8" r="5.2"/><circle cx="1719.7" cy="1522.8" r="5.2"/><circle cx="1161.2" cy="1529.6" r="5.2"/><circle cx="1411.7" cy="1529.6" r="5.2"/><circle cx="1662.2" cy="1529.6" r="5.2"/><circle cx="1091.3" cy="1531" r="5.2"/><circle cx="1341.8" cy="1531" r="5.2"/><circle cx="1592.3" cy="1531" r="5.2"/><circle cx="1262.5" cy="1535.1" r="5.2"/><circle cx="1513" cy="1535.1" r="5.2"/><circle cx="1137.9" cy="1558.4" r="5.2"/><circle cx="1287.2" cy="1558.4" r="5.2"/><circle cx="1388.4" cy="1558.4" r="5.2"/><circle cx="1537.7" cy="1558.4" r="5.2"/><circle cx="1638.9" cy="1558.4" r="5.2"/><circle cx="1292.7" cy="1559.8" r="5.2"/><circle cx="1543.2" cy="1559.8" r="5.2"/><circle cx="1185.8" cy="1561.2" r="5.2"/><circle cx="1235.1" cy="1561.2" r="5.2"/><circle cx="1436.3" cy="1561.2" r="5.2"/><circle cx="1485.6" cy="1561.2" r="5.2"/><circle cx="1686.8" cy="1561.2" r="5.2"/><circle cx="1736.1" cy="1561.2" r="5.2"/><circle cx="1228.3" cy="1562.5" r="5.2"/><circle cx="1478.8" cy="1562.5" r="5.2"/><circle cx="1729.3" cy="1562.5" r="5.2"/><circle cx="1306.4" cy="1565.3" r="5.2"/><circle cx="1556.9" cy="1565.3" r="5.2"/><circle cx="1087.2" cy="1569.4" r="5.2"/><circle cx="1337.7" cy="1569.4" r="5.2"/><circle cx="1588.2" cy="1569.4" r="5.2"/><circle cx="1098.1" cy="1573.5" r="5.2"/><circle cx="1348.6" cy="1573.5" r="5.2"/><circle cx="1599.1" cy="1573.5" r="5.2"/><circle cx="1103.6" cy="1579" r="5.2"/><circle cx="1354.1" cy="1579" r="5.2"/><circle cx="1604.6" cy="1579" r="5.2"/><circle cx="1220.1" cy="1584.5" r="5.2"/><circle cx="1470.6" cy="1584.5" r="5.2"/><circle cx="1721.1" cy="1584.5" r="5.2"/><circle cx="1225.5" cy="1585.8" r="5.2"/><circle cx="1476" cy="1585.8" r="5.2"/><circle cx="1726.5" cy="1585.8" r="5.2"/><circle cx="1310.5" cy="1588.6" r="5.2"/><circle cx="1561" cy="1588.6" r="5.2"/><circle cx="1265.3" cy="1589.9" r="5.2"/><circle cx="1515.8" cy="1589.9" r="5.2"/><circle cx="1314.6" cy="1591.3" r="5.2"/><circle cx="1565.1" cy="1591.3" r="5.2"/><circle cx="1137.9" cy="1607.7" r="5.2"/><circle cx="1144.7" cy="1607.7" r="5.2"/><circle cx="1388.4" cy="1607.7" r="5.2"/><circle cx="1395.2" cy="1607.7" r="5.2"/><circle cx="1638.9" cy="1607.7" r="5.2"/><circle cx="1645.7" cy="1607.7" r="5.2"/><circle cx="1292.7" cy="1609.1" r="5.2"/><circle cx="1543.2" cy="1609.1" r="5.2"/><circle cx="1185.8" cy="1611.9" r="5.2"/><circle cx="1436.3" cy="1611.9" r="5.2"/><circle cx="1686.8" cy="1611.9" r="5.2"/><circle cx="1232.4" cy="1613.2" r="5.2"/><circle cx="1482.9" cy="1613.2" r="5.2"/><circle cx="1733.4" cy="1613.2" r="5.2"/><circle cx="1095.6" cy="1614.6" r="5.2"/><circle cx="1346.1" cy="1614.6" r="5.2"/><circle cx="1596.6" cy="1614.6" r="5.2"/><circle cx="1299.5" cy="1616" r="5.2"/><circle cx="1550" cy="1616" r="5.2"/><circle cx="1102.5" cy="1618.7" r="5.2"/><circle cx="1353" cy="1618.7" r="5.2"/><circle cx="1603.5" cy="1618.7" r="5.2"/><circle cx="1107.7" cy="1635.2" r="5.2"/><circle cx="1358.2" cy="1635.2" r="5.2"/><circle cx="1608.7" cy="1635.2" r="5.2"/><circle cx="1263.9" cy="1643.4" r="5.2"/><circle cx="1514.4" cy="1643.4" r="5.2"/><circle cx="1159.8" cy="1644.7" r="5.2"/><circle cx="1410.3" cy="1644.7" r="5.2"/><circle cx="1660.8" cy="1644.7" r="5.2"/><circle cx="1214.6" cy="1648.9" r="5.2"/><circle cx="1465.1" cy="1648.9" r="5.2"/><circle cx="1715.6" cy="1648.9" r="5.2"/><circle cx="1132.4" cy="1653" r="5.2"/><circle cx="1320.1" cy="1653" r="5.2"/><circle cx="1382.9" cy="1653" r="5.2"/><circle cx="1570.6" cy="1653" r="5.2"/><circle cx="1633.4" cy="1653" r="5.2"/><circle cx="1163.9" cy="1654.3" r="5.2"/><circle cx="1414.4" cy="1654.3" r="5.2"/><circle cx="1664.9" cy="1654.3" r="5.2"/><circle cx="1117.3" cy="1659.8" r="5.2"/><circle cx="1367.8" cy="1659.8" r="5.2"/><circle cx="1618.3" cy="1659.8" r="5.2"/><circle cx="1181.7" cy="1666.6" r="5.2"/><circle cx="1432.2" cy="1666.6" r="5.2"/><circle cx="1682.7" cy="1666.6" r="5.2"/><circle cx="1174.9" cy="1667.1" r="5.2"/><circle cx="1425.4" cy="1667.1" r="5.2"/><circle cx="1675.9" cy="1667.1" r="5.2"/></g>
<g fill="url(#gP)"><circle cx="1196.8" cy="954.6" r="9.5"/><circle cx="1447.3" cy="954.6" r="9.5"/><circle cx="1697.8" cy="954.6" r="9.5"/><circle cx="1115.9" cy="958.7" r="9.5"/><circle cx="1366.4" cy="958.7" r="9.5"/><circle cx="1616.9" cy="958.7" r="9.5"/><circle cx="1292.7" cy="991.6" r="9.5"/><circle cx="1543.2" cy="991.6" r="9.5"/><circle cx="1161.2" cy="994.4" r="9.5"/><circle cx="1411.7" cy="994.4" r="9.5"/><circle cx="1662.2" cy="994.4" r="9.5"/><circle cx="1084.7" cy="1039.6" r="9.5"/><circle cx="1237.9" cy="1039.6" r="9.5"/><circle cx="1335.2" cy="1039.6" r="9.5"/><circle cx="1488.4" cy="1039.6" r="9.5"/><circle cx="1585.7" cy="1039.6" r="9.5"/><circle cx="1738.9" cy="1039.6" r="9.5"/><circle cx="1091.5" cy="1043.7" r="9.5"/><circle cx="1342" cy="1043.7" r="9.5"/><circle cx="1592.5" cy="1043.7" r="9.5"/><circle cx="1161.2" cy="1077.9" r="9.5"/><circle cx="1411.7" cy="1077.9" r="9.5"/><circle cx="1662.2" cy="1077.9" r="9.5"/><circle cx="1294.1" cy="1082" r="9.5"/><circle cx="1544.6" cy="1082" r="9.5"/><circle cx="1194" cy="1122.2" r="9.5"/><circle cx="1444.5" cy="1122.2" r="9.5"/><circle cx="1695" cy="1122.2" r="9.5"/><circle cx="1148.8" cy="1172.9" r="9.5"/><circle cx="1399.3" cy="1172.9" r="9.5"/><circle cx="1649.8" cy="1172.9" r="9.5"/><circle cx="1196.8" cy="1229.1" r="9.5"/><circle cx="1447.3" cy="1229.1" r="9.5"/><circle cx="1697.8" cy="1229.1" r="9.5"/><circle cx="1115.9" cy="1233.2" r="9.5"/><circle cx="1366.4" cy="1233.2" r="9.5"/><circle cx="1616.9" cy="1233.2" r="9.5"/><circle cx="1292.7" cy="1266.1" r="9.5"/><circle cx="1543.2" cy="1266.1" r="9.5"/><circle cx="1161.2" cy="1268.9" r="9.5"/><circle cx="1411.7" cy="1268.9" r="9.5"/><circle cx="1662.2" cy="1268.9" r="9.5"/><circle cx="1084.7" cy="1314.1" r="9.5"/><circle cx="1237.9" cy="1314.1" r="9.5"/><circle cx="1335.2" cy="1314.1" r="9.5"/><circle cx="1488.4" cy="1314.1" r="9.5"/><circle cx="1585.7" cy="1314.1" r="9.5"/><circle cx="1738.9" cy="1314.1" r="9.5"/><circle cx="1091.5" cy="1318.2" r="9.5"/><circle cx="1342" cy="1318.2" r="9.5"/><circle cx="1592.5" cy="1318.2" r="9.5"/><circle cx="1161.2" cy="1352.4" r="9.5"/><circle cx="1411.7" cy="1352.4" r="9.5"/><circle cx="1662.2" cy="1352.4" r="9.5"/><circle cx="1294.1" cy="1356.5" r="9.5"/><circle cx="1544.6" cy="1356.5" r="9.5"/><circle cx="1194" cy="1396.7" r="9.5"/><circle cx="1444.5" cy="1396.7" r="9.5"/><circle cx="1695" cy="1396.7" r="9.5"/><circle cx="1148.8" cy="1447.4" r="9.5"/><circle cx="1399.3" cy="1447.4" r="9.5"/><circle cx="1649.8" cy="1447.4" r="9.5"/><circle cx="1196.8" cy="1503.6" r="9.5"/><circle cx="1447.3" cy="1503.6" r="9.5"/><circle cx="1697.8" cy="1503.6" r="9.5"/><circle cx="1115.9" cy="1507.7" r="9.5"/><circle cx="1366.4" cy="1507.7" r="9.5"/><circle cx="1616.9" cy="1507.7" r="9.5"/><circle cx="1292.7" cy="1540.6" r="9.5"/><circle cx="1543.2" cy="1540.6" r="9.5"/><circle cx="1161.2" cy="1543.4" r="9.5"/><circle cx="1411.7" cy="1543.4" r="9.5"/><circle cx="1662.2" cy="1543.4" r="9.5"/><circle cx="1084.7" cy="1588.6" r="9.5"/><circle cx="1237.9" cy="1588.6" r="9.5"/><circle cx="1335.2" cy="1588.6" r="9.5"/><circle cx="1488.4" cy="1588.6" r="9.5"/><circle cx="1585.7" cy="1588.6" r="9.5"/><circle cx="1738.9" cy="1588.6" r="9.5"/><circle cx="1091.5" cy="1592.7" r="9.5"/><circle cx="1342" cy="1592.7" r="9.5"/><circle cx="1592.5" cy="1592.7" r="9.5"/><circle cx="1161.2" cy="1626.9" r="9.5"/><circle cx="1411.7" cy="1626.9" r="9.5"/><circle cx="1662.2" cy="1626.9" r="9.5"/><circle cx="1294.1" cy="1631" r="9.5"/><circle cx="1544.6" cy="1631" r="9.5"/><circle cx="1194" cy="1671.2" r="9.5"/><circle cx="1444.5" cy="1671.2" r="9.5"/><circle cx="1695" cy="1671.2" r="9.5"/></g>
<g fill="url(#gB)"><circle cx="1157" cy="954.6" r="9.5"/><circle cx="1407.5" cy="954.6" r="9.5"/><circle cx="1658" cy="954.6" r="9.5"/><circle cx="1237.9" cy="995.7" r="9.5"/><circle cx="1488.4" cy="995.7" r="9.5"/><circle cx="1738.9" cy="995.7" r="9.5"/><circle cx="1084.7" cy="1009.4" r="9.5"/><circle cx="1335.2" cy="1009.4" r="9.5"/><circle cx="1585.7" cy="1009.4" r="9.5"/><circle cx="1124.2" cy="1031.3" r="9.5"/><circle cx="1374.7" cy="1031.3" r="9.5"/><circle cx="1625.2" cy="1031.3" r="9.5"/><circle cx="1287.2" cy="1034.1" r="9.5"/><circle cx="1537.7" cy="1034.1" r="9.5"/><circle cx="1199.5" cy="1036.8" r="9.5"/><circle cx="1450" cy="1036.8" r="9.5"/><circle cx="1700.5" cy="1036.8" r="9.5"/><circle cx="1295.4" cy="1040.9" r="9.5"/><circle cx="1545.9" cy="1040.9" r="9.5"/><circle cx="1121.4" cy="1079.3" r="9.5"/><circle cx="1371.9" cy="1079.3" r="9.5"/><circle cx="1622.4" cy="1079.3" r="9.5"/><circle cx="1236.5" cy="1080.7" r="9.5"/><circle cx="1487" cy="1080.7" r="9.5"/><circle cx="1737.5" cy="1080.7" r="9.5"/><circle cx="1098.4" cy="1094.4" r="9.5"/><circle cx="1348.9" cy="1094.4" r="9.5"/><circle cx="1599.4" cy="1094.4" r="9.5"/><circle cx="1150.2" cy="1119.5" r="9.5"/><circle cx="1159.8" cy="1119.5" r="9.5"/><circle cx="1400.7" cy="1119.5" r="9.5"/><circle cx="1410.3" cy="1119.5" r="9.5"/><circle cx="1651.2" cy="1119.5" r="9.5"/><circle cx="1660.8" cy="1119.5" r="9.5"/><circle cx="1194" cy="1175.7" r="9.5"/><circle cx="1444.5" cy="1175.7" r="9.5"/><circle cx="1695" cy="1175.7" r="9.5"/><circle cx="1107.7" cy="1178.4" r="9.5"/><circle cx="1358.2" cy="1178.4" r="9.5"/><circle cx="1608.7" cy="1178.4" r="9.5"/><circle cx="1157" cy="1229.1" r="9.5"/><circle cx="1407.5" cy="1229.1" r="9.5"/><circle cx="1658" cy="1229.1" r="9.5"/><circle cx="1237.9" cy="1270.2" r="9.5"/><circle cx="1488.4" cy="1270.2" r="9.5"/><circle cx="1738.9" cy="1270.2" r="9.5"/><circle cx="1084.7" cy="1283.9" r="9.5"/><circle cx="1335.2" cy="1283.9" r="9.5"/><circle cx="1585.7" cy="1283.9" r="9.5"/><circle cx="1124.2" cy="1305.8" r="9.5"/><circle cx="1374.7" cy="1305.8" r="9.5"/><circle cx="1625.2" cy="1305.8" r="9.5"/><circle cx="1287.2" cy="1308.6" r="9.5"/><circle cx="1537.7" cy="1308.6" r="9.5"/><circle cx="1199.5" cy="1311.3" r="9.5"/><circle cx="1450" cy="1311.3" r="9.5"/><circle cx="1700.5" cy="1311.3" r="9.5"/><circle cx="1295.4" cy="1315.4" r="9.5"/><circle cx="1545.9" cy="1315.4" r="9.5"/><circle cx="1121.4" cy="1353.8" r="9.5"/><circle cx="1371.9" cy="1353.8" r="9.5"/><circle cx="1622.4" cy="1353.8" r="9.5"/><circle cx="1236.5" cy="1355.2" r="9.5"/><circle cx="1487" cy="1355.2" r="9.5"/><circle cx="1737.5" cy="1355.2" r="9.5"/><circle cx="1098.4" cy="1368.9" r="9.5"/><circle cx="1348.9" cy="1368.9" r="9.5"/><circle cx="1599.4" cy="1368.9" r="9.5"/><circle cx="1150.2" cy="1394" r="9.5"/><circle cx="1159.8" cy="1394" r="9.5"/><circle cx="1400.7" cy="1394" r="9.5"/><circle cx="1410.3" cy="1394" r="9.5"/><circle cx="1651.2" cy="1394" r="9.5"/><circle cx="1660.8" cy="1394" r="9.5"/><circle cx="1194" cy="1450.2" r="9.5"/><circle cx="1444.5" cy="1450.2" r="9.5"/><circle cx="1695" cy="1450.2" r="9.5"/><circle cx="1107.7" cy="1452.9" r="9.5"/><circle cx="1358.2" cy="1452.9" r="9.5"/><circle cx="1608.7" cy="1452.9" r="9.5"/><circle cx="1157" cy="1503.6" r="9.5"/><circle cx="1407.5" cy="1503.6" r="9.5"/><circle cx="1658" cy="1503.6" r="9.5"/><circle cx="1237.9" cy="1544.7" r="9.5"/><circle cx="1488.4" cy="1544.7" r="9.5"/><circle cx="1738.9" cy="1544.7" r="9.5"/><circle cx="1084.7" cy="1558.4" r="9.5"/><circle cx="1335.2" cy="1558.4" r="9.5"/><circle cx="1585.7" cy="1558.4" r="9.5"/><circle cx="1124.2" cy="1580.3" r="9.5"/><circle cx="1374.7" cy="1580.3" r="9.5"/><circle cx="1625.2" cy="1580.3" r="9.5"/><circle cx="1287.2" cy="1583.1" r="9.5"/><circle cx="1537.7" cy="1583.1" r="9.5"/><circle cx="1199.5" cy="1585.8" r="9.5"/><circle cx="1450" cy="1585.8" r="9.5"/><circle cx="1700.5" cy="1585.8" r="9.5"/><circle cx="1295.4" cy="1589.9" r="9.5"/><circle cx="1545.9" cy="1589.9" r="9.5"/><circle cx="1121.4" cy="1628.3" r="9.5"/><circle cx="1371.9" cy="1628.3" r="9.5"/><circle cx="1622.4" cy="1628.3" r="9.5"/><circle cx="1236.5" cy="1629.7" r="9.5"/><circle cx="1487" cy="1629.7" r="9.5"/><circle cx="1737.5" cy="1629.7" r="9.5"/><circle cx="1098.4" cy="1643.4" r="9.5"/><circle cx="1348.9" cy="1643.4" r="9.5"/><circle cx="1599.4" cy="1643.4" r="9.5"/><circle cx="1150.2" cy="1668.5" r="9.5"/><circle cx="1159.8" cy="1668.5" r="9.5"/><circle cx="1400.7" cy="1668.5" r="9.5"/><circle cx="1410.3" cy="1668.5" r="9.5"/><circle cx="1651.2" cy="1668.5" r="9.5"/><circle cx="1660.8" cy="1668.5" r="9.5"/></g>
<defs>
<linearGradient id="lavF" x1="0" y1="0" x2="1" y2="1"><stop offset="0" stop-color="#dfe2fb"/><stop offset=".5" stop-color="#d0d2f6"/><stop offset="1" stop-color="#dcdffa"/></linearGradient>
<linearGradient id="dkF" x1="0" y1="0" x2="1" y2="1"><stop offset="0" stop-color="#4a4d70"/><stop offset="1" stop-color="#2e3048"/></linearGradient>
<linearGradient id="dkS" x1="0" y1="0" x2="0" y2="1"><stop offset="0" stop-color="#3a3d5c"/><stop offset=".7" stop-color="#4c4f72"/><stop offset="1" stop-color="#8a8eb8"/></linearGradient>
<linearGradient id="dkP" x1="0" y1="0" x2="1" y2="1"><stop offset="0" stop-color="#6c70a0"/><stop offset=".5" stop-color="#585c88"/><stop offset="1" stop-color="#3c3e5e"/></linearGradient>
<linearGradient id="tealR" x1="0" y1="0" x2="1" y2="1"><stop offset="0" stop-color="#a4cccc"/><stop offset="1" stop-color="#7fa3a5"/></linearGradient>
<linearGradient id="cyL" x1="0" y1="0" x2="1" y2="1"><stop offset="0" stop-color="#f2fdff"/><stop offset="1" stop-color="#d4f6f8"/></linearGradient>
<linearGradient id="beamC" x1="0" y1="0" x2="1" y2="0"><stop offset="0" stop-color="#c4ecf6" stop-opacity=".75"/><stop offset="1" stop-color="#d8f4fa" stop-opacity=".35"/></linearGradient>
<linearGradient id="beamL" x1="0" y1="0" x2="1" y2="0"><stop offset="0" stop-color="#8a8ca8" stop-opacity=".9"/><stop offset=".15" stop-color="#d8dbf8" stop-opacity=".75"/><stop offset="1" stop-color="#e4e6fc" stop-opacity=".6"/></linearGradient>
<linearGradient id="beamT" x1="0" y1="0" x2="1" y2="1"><stop offset="0" stop-color="#bfeef2" stop-opacity=".8"/><stop offset="1" stop-color="#d6f6f8" stop-opacity=".7"/></linearGradient>
<linearGradient id="beamP" x1="0" y1="1" x2="1" y2="0"><stop offset="0" stop-color="#efe4f8" stop-opacity=".75"/><stop offset="1" stop-color="#ead8f4" stop-opacity=".4"/></linearGradient>
</defs>
<polygon points="189,137 199,200 492,222 470,200" fill="url(#beamC)" />
<polygon points="452,240 500,232 545,240 575,270 578,350 548,385 470,388 432,352 430,275" fill="#cdd0f4" />
<polygon points="482.7,148.8 502,150.2 502,185.9 482,183.9" fill="#dfe2fa" stroke="#23253a" stroke-width="0.8" stroke-linejoin="round" />
<polygon points="502,150.2 536.3,151.6 536.3,190.7 502,185.9" fill="#a2a8da" stroke="#23253a" stroke-width="0.8" stroke-linejoin="round" />
<polygon points="491.7,139.9 530.1,141.3 536.3,151.6 502,150.2 482.7,148.8" fill="#8d93c8" stroke="#23253a" stroke-width="0.8" stroke-linejoin="round" />
<polygon points="565.7,125.9 568.2,95.5 538.5,105.8 520.5,121.3 537.3,151" fill="#e2e5fc" stroke="#23253a" stroke-width="0.8" stroke-linejoin="round" />
<polygon points="603.1,124.3 600.5,95.5 626.4,101.9 647,134.2 632.8,148.4" fill="url(#dkF)" />
<polygon points="632.8,148.4 647,134.2 651.7,155.9 653.7,245.9 659.7,285.9 649.7,297.9 617.7,300.9 604.4,264.6 632.8,237.5" fill="url(#dkS)" />
<polygon points="565.7,125.9 568.2,95.5 600.5,95.5 603.1,124.3" fill="#a9aede" stroke="#23253a" stroke-width="0.8" stroke-linejoin="round" />
<polygon points="567,267.2 604.4,264.6 605.7,275.9 568.7,277.9" fill="#a9aede" stroke="#23253a" stroke-width="0.8" stroke-linejoin="round" />
<polygon points="565.7,125.9 601.8,123.9 632.8,148.4 632.8,237.5 604.4,264.6 567,267.2 538.5,240.1 537.3,151" fill="url(#lavF)" stroke="#23253a" stroke-width="1" stroke-linejoin="round" />
<polygon points="272.6,264.2 286.3,247.7 317.9,258.7 319.3,291.7 304.9,298.6 275.3,293.8" fill="url(#dkS)" />
<polygon points="300,192.8 324.8,214.8 354.3,196.9 355,238.1 328.9,250.5 315.2,242.3 297.3,232.6" fill="#eceefe" stroke="#23253a" stroke-width="0.8" stroke-linejoin="round" />
<polygon points="300,192.8 315.2,216.2 317.9,243.6 297.3,232.6" fill="#b4b9e6" stroke="#23253a" stroke-width="0.8" stroke-linejoin="round" />
<polygon points="315.2,216.2 324.8,214.8 328.9,250.5 317.9,243.6" fill="#d2d6f6" stroke="#23253a" stroke-width="0.8" stroke-linejoin="round" />
<polygon points="315.2,242.3 328.9,250.5 355,238.1 352.3,243.6 319.3,258.7 317.9,258.7" fill="#8e94c6" />
<polygon points="319.3,258.7 352.3,243.6 383.2,268.4 383.8,297.2 361.9,300 331.6,283.5" fill="#b6bbea" stroke="#23253a" stroke-width="0.8" stroke-linejoin="round" />
<polygon points="319.3,258.7 331.6,283.5 323.4,289 319.3,291.7" fill="#9aa0d2" stroke="#23253a" stroke-width="0.8" stroke-linejoin="round" />
<polygon points="323.4,289 331.6,284.1 361.2,301.3 352.3,317.8 339.9,312.3" fill="#e4e7fc" stroke="#23253a" stroke-width="0.8" stroke-linejoin="round" />
<polygon points="300.7,149.5 320,150.9 320,186.6 300,184.6" fill="#dfe2fa" stroke="#23253a" stroke-width="0.8" stroke-linejoin="round" />
<polygon points="320,150.9 354.3,152.3 354.3,191.4 320,186.6" fill="#a2a8da" stroke="#23253a" stroke-width="0.8" stroke-linejoin="round" />
<polygon points="309.7,140.6 348.1,142 354.3,152.3 320,150.9 300.7,149.5" fill="#8d93c8" stroke="#23253a" stroke-width="0.8" stroke-linejoin="round" />
<polygon points="383.7,126.6 386.2,96.2 356.5,106.5 338.5,122 355.3,151.7" fill="#e2e5fc" stroke="#23253a" stroke-width="0.8" stroke-linejoin="round" />
<polygon points="421.1,125 418.5,96.2 444.4,102.6 465,134.9 450.8,149.1" fill="url(#dkF)" />
<polygon points="450.8,149.1 465,134.9 472,150 473,225 463.7,256.6 428.7,276.6 422.4,265.3 450.8,238.2" fill="url(#dkF)" />
<polygon points="383.7,126.6 386.2,96.2 418.5,96.2 421.1,125" fill="#a9aede" stroke="#23253a" stroke-width="0.8" stroke-linejoin="round" />
<polygon points="385,267.9 422.4,265.3 423.7,276.6 386.7,278.6" fill="#a9aede" stroke="#23253a" stroke-width="0.8" stroke-linejoin="round" />
<polygon points="383.7,126.6 419.8,124.6 450.8,149.1 450.8,238.2 422.4,265.3 385,267.9 356.5,240.8 355.3,151.7" fill="url(#lavF)" stroke="#23253a" stroke-width="1" stroke-linejoin="round" />
<polygon points="457.2,506.7 470.9,490.2 502.5,501.2 503.9,534.2 489.5,541.1 459.9,536.3" fill="url(#dkS)" />
<polygon points="484.6,435.3 509.4,457.3 538.9,439.4 539.6,480.6 513.5,493 499.8,484.8 481.9,475.1" fill="#eceefe" stroke="#23253a" stroke-width="0.8" stroke-linejoin="round" />
<polygon points="484.6,435.3 499.8,458.7 502.5,486.1 481.9,475.1" fill="#b4b9e6" stroke="#23253a" stroke-width="0.8" stroke-linejoin="round" />
<polygon points="499.8,458.7 509.4,457.3 513.5,493 502.5,486.1" fill="#d2d6f6" stroke="#23253a" stroke-width="0.8" stroke-linejoin="round" />
<polygon points="499.8,484.8 513.5,493 539.6,480.6 536.9,486.1 503.9,501.2 502.5,501.2" fill="#8e94c6" />
<polygon points="503.9,501.2 536.9,486.1 567.8,510.9 568.4,539.7 546.5,542.5 516.2,526" fill="#b6bbea" stroke="#23253a" stroke-width="0.8" stroke-linejoin="round" />
<polygon points="503.9,501.2 516.2,526 508,531.5 503.9,534.2" fill="#9aa0d2" stroke="#23253a" stroke-width="0.8" stroke-linejoin="round" />
<polygon points="508,531.5 516.2,526.6 545.8,543.8 536.9,560.3 524.5,554.8" fill="#e4e7fc" stroke="#23253a" stroke-width="0.8" stroke-linejoin="round" />
<polygon points="485.3,392 504.6,393.4 504.6,429.1 484.6,427.1" fill="#dfe2fa" stroke="#23253a" stroke-width="0.8" stroke-linejoin="round" />
<polygon points="504.6,393.4 538.9,394.8 538.9,433.9 504.6,429.1" fill="#a2a8da" stroke="#23253a" stroke-width="0.8" stroke-linejoin="round" />
<polygon points="494.3,383.1 532.7,384.5 538.9,394.8 504.6,393.4 485.3,392" fill="#8d93c8" stroke="#23253a" stroke-width="0.8" stroke-linejoin="round" />
<polygon points="568.3,369.1 570.8,338.7 541.1,349 523.1,364.5 539.9,394.2" fill="#e2e5fc" stroke="#23253a" stroke-width="0.8" stroke-linejoin="round" />
<polygon points="605.7,367.5 603.1,338.7 629,345.1 649.6,377.4 635.4,391.6" fill="url(#dkF)" />
<polygon points="635.4,391.6 649.6,377.4 654.3,399.1 656.3,489.1 662.3,529.1 652.3,541.1 620.3,544.1 607,507.8 635.4,480.7" fill="url(#dkS)" />
<polygon points="568.3,369.1 570.8,338.7 603.1,338.7 605.7,367.5" fill="#a9aede" stroke="#23253a" stroke-width="0.8" stroke-linejoin="round" />
<polygon points="569.6,510.4 607,507.8 608.3,519.1 571.3,521.1" fill="#a9aede" stroke="#23253a" stroke-width="0.8" stroke-linejoin="round" />
<polygon points="568.3,369.1 604.4,367.1 635.4,391.6 635.4,480.7 607,507.8 569.6,510.4 541.1,483.3 539.9,394.2" fill="url(#lavF)" stroke="#23253a" stroke-width="1" stroke-linejoin="round" />
<polygon points="276.4,505.4 290.1,488.9 321.7,499.9 323.1,532.9 308.7,539.8 279.1,535" fill="url(#dkS)" />
<polygon points="303.8,434 328.6,456 358.1,438.1 358.8,479.3 332.7,491.7 319,483.5 301.1,473.8" fill="#eceefe" stroke="#23253a" stroke-width="0.8" stroke-linejoin="round" />
<polygon points="303.8,434 319,457.4 321.7,484.8 301.1,473.8" fill="#b4b9e6" stroke="#23253a" stroke-width="0.8" stroke-linejoin="round" />
<polygon points="319,457.4 328.6,456 332.7,491.7 321.7,484.8" fill="#d2d6f6" stroke="#23253a" stroke-width="0.8" stroke-linejoin="round" />
<polygon points="319,483.5 332.7,491.7 358.8,479.3 356.1,484.8 323.1,499.9 321.7,499.9" fill="#8e94c6" />
<polygon points="323.1,499.9 356.1,484.8 387,509.6 387.6,538.4 365.7,541.2 335.4,524.7" fill="#b6bbea" stroke="#23253a" stroke-width="0.8" stroke-linejoin="round" />
<polygon points="323.1,499.9 335.4,524.7 327.2,530.2 323.1,532.9" fill="#9aa0d2" stroke="#23253a" stroke-width="0.8" stroke-linejoin="round" />
<polygon points="327.2,530.2 335.4,525.3 365,542.5 356.1,559 343.7,553.5" fill="#e4e7fc" stroke="#23253a" stroke-width="0.8" stroke-linejoin="round" />
<polygon points="304.5,390.7 323.8,392.1 323.8,427.8 303.8,425.8" fill="#dfe2fa" stroke="#23253a" stroke-width="0.8" stroke-linejoin="round" />
<polygon points="323.8,392.1 358.1,393.5 358.1,432.6 323.8,427.8" fill="#a2a8da" stroke="#23253a" stroke-width="0.8" stroke-linejoin="round" />
<polygon points="313.5,381.8 351.9,383.2 358.1,393.5 323.8,392.1 304.5,390.7" fill="#8d93c8" stroke="#23253a" stroke-width="0.8" stroke-linejoin="round" />
<polygon points="387.5,367.8 390,337.4 360.3,347.7 342.3,363.2 359.1,392.9" fill="#e2e5fc" stroke="#23253a" stroke-width="0.8" stroke-linejoin="round" />
<polygon points="424.9,366.2 422.3,337.4 448.2,343.8 468.8,376.1 454.6,390.3" fill="url(#dkF)" />
<polygon points="454.6,390.3 468.8,376.1 475.8,391.2 476.8,466.2 467.5,497.8 432.5,517.8 426.2,506.5 454.6,479.4" fill="url(#dkF)" />
<polygon points="387.5,367.8 390,337.4 422.3,337.4 424.9,366.2" fill="#a9aede" stroke="#23253a" stroke-width="0.8" stroke-linejoin="round" />
<polygon points="388.8,509.1 426.2,506.5 427.5,517.8 390.5,519.8" fill="#a9aede" stroke="#23253a" stroke-width="0.8" stroke-linejoin="round" />
<polygon points="387.5,367.8 423.6,365.8 454.6,390.3 454.6,479.4 426.2,506.5 388.8,509.1 360.3,482 359.1,392.9" fill="url(#lavF)" stroke="#23253a" stroke-width="1" stroke-linejoin="round" />
<polygon points="465.5,193.7 496.3,192 497.1,237.7 465.5,236" fill="#c2f2f4" stroke="#23253a" stroke-width="0.8" stroke-linejoin="round" />
<polygon points="496.3,192 529.7,196.4 530.5,238.6 497.1,237.7" fill="#86aaac" stroke="#23253a" stroke-width="0.8" stroke-linejoin="round" />
<polygon points="470,238 528,240 520,250 497,256 476,250" fill="#7fa0a4" />
<polygon points="465.5,254.4 497.1,255.3 497.1,289.6 463.7,320.3 440.9,321.2 440,282.5" fill="url(#cyL)" />
<polygon points="497.1,255.3 528.8,257 556,284.3 556.9,319.5 528.8,321.2 497.1,289.6" fill="url(#tealR)" />
<polygon points="440.9,323 463.7,322.1 496.3,358.1 495.4,374 472.5,373.1 444.4,345.8" fill="#bceef0" />
<polygon points="496.3,358.1 528.8,323 556.9,321.2 559.6,345.8 531.4,372.2 495.4,374" fill="#86aaac" />
<polygon points="496.3,291.3 527,321.2 495.4,355.5 465.5,321.2" fill="#ffffff" stroke="#2a4a50" stroke-width="1.5" stroke-linejoin="round" />
<polygon points="388.1,284.3 425.1,283.4 425.9,315.9 387.3,316.8" fill="#f2ccf0" />
<polygon points="388.1,321.2 425.9,320.3 427.7,345.8 391.6,346.7" fill="#dab4d8" />
<polygon points="571.9,284.3 608.9,283.4 609.7,315.9 571.1,316.8" fill="#f2ccf0" />
<polygon points="571.9,321.2 609.7,320.3 611.5,345.8 575.4,346.7" fill="#dab4d8" />
<polygon points="285,156 290,190 492,221 475,206" fill="#e4f8fc" opacity=".3"/>
<polygon points="162,512 198,572 400,345 390,322" fill="url(#beamP)" />
<polygon points="628,198 775,118 756,229" fill="url(#beamL)" />
<polygon points="532,352 575,372 745,552 792,449 652,400" fill="url(#beamT)" />
<path d="M564.4 110.9L608.3 108.3L644.5 134.2L641.9 237.5L610.9 274.9L567 277.5L533.4 242.6L530.8 136.7ZM382.4 111.6L426.3 109L462.5 134.9L459.9 238.2L428.9 275.6L385 278.2L351.4 243.3L348.8 137.4ZM567 354.1L610.9 351.5L647.1 377.4L644.5 480.7L613.5 518.1L569.6 520.7L536 485.8L533.4 379.9ZM386.2 352.8L430.1 350.2L466.3 376.1L463.7 479.4L432.7 516.8L388.8 519.4L355.2 484.5L352.6 378.6ZM496.3 289.5L529.7 321.2L495.4 358.1L462.9 321.2ZM381 317.7L462.9 320.3M529.7 320.3L615 318.5M495.4 170L496.3 289.5M495.4 358.1L496.3 420M384 279L429 278L431 350L387 351ZM567.8 279L612.8 278L614.8 350L570.8 351ZM461 187L534 190L535 243L461 240ZM351 86L382 72L425 70L458 81L478 119M349 94L385 91L429 89L460 92M382 72L385 91L382.4 111.6M425 70L429 89L426.3 109M351 86L320 112L348.8 137.4M285 136L350 135L349 188L285 188ZM285 136L298 120L320 112M285 188L280 238L276 241.6M247.2 275.9L276 241.6L317.9 262.2L321.3 295.8L289 315L253.4 310.9ZM289 315L300 345L340 350L353.6 315L321.3 295.8M353.6 315L383 300M296 322L310 342M349 188L314 215L320 262L351.4 243.3M285 188L314 215M533 86L564 72L607 70L640 81L660 119M531 94L567 91L611 89L642 92M564 72L567 91L564.4 111.6M607 70L611 89L608.3 109M533 86L502 112L530.8 137.4M467 136L532 135L531 188L467 188ZM467 136L480 120L502 112M467 188L467 240M531 188L496 215L502 262L533.4 243.3M467 188L496 215M655 100L662 130L658 300L668 310M640 150L662 150M640 195L660 195M640 243L660 243M655 100L636 82M668 310L640 316M292 375L352 378M292 375L290 432L352 432M290 432L284 478M252 517L284 478L322 500L326 535L296 552L258 548ZM290 432L322 462L355.2 481M322 462L326 505L355 520M326 505L296 530L312 580L345 585L362 545L389 523M389 523L392 545L435 543L432.7 516.8M362 545L470 548M473 375L533 378M473 375L471 432L533 432M471 432L465 478M433 517L465 478L503 500L507 535L477 552L439 548ZM471 432L503 462L536.2 481M503 462L507 505L536 520M507 505L477 530L493 580L526 585L543 545L570 523M570 523L573 545L616 543L613.7 516.8M543 545L651 548M610 520L640 545L665 535L660 400L655 370M632 506L650 500" fill="none" stroke="#b8842a" stroke-width="4" stroke-linejoin="round" stroke-linecap="round"/>
<path d="M564.4 110.9L608.3 108.3L644.5 134.2L641.9 237.5L610.9 274.9L567 277.5L533.4 242.6L530.8 136.7ZM382.4 111.6L426.3 109L462.5 134.9L459.9 238.2L428.9 275.6L385 278.2L351.4 243.3L348.8 137.4ZM567 354.1L610.9 351.5L647.1 377.4L644.5 480.7L613.5 518.1L569.6 520.7L536 485.8L533.4 379.9ZM386.2 352.8L430.1 350.2L466.3 376.1L463.7 479.4L432.7 516.8L388.8 519.4L355.2 484.5L352.6 378.6ZM496.3 289.5L529.7 321.2L495.4 358.1L462.9 321.2ZM381 317.7L462.9 320.3M529.7 320.3L615 318.5M495.4 170L496.3 289.5M495.4 358.1L496.3 420M384 279L429 278L431 350L387 351ZM567.8 279L612.8 278L614.8 350L570.8 351ZM461 187L534 190L535 243L461 240ZM351 86L382 72L425 70L458 81L478 119M349 94L385 91L429 89L460 92M382 72L385 91L382.4 111.6M425 70L429 89L426.3 109M351 86L320 112L348.8 137.4M285 136L350 135L349 188L285 188ZM285 136L298 120L320 112M285 188L280 238L276 241.6M247.2 275.9L276 241.6L317.9 262.2L321.3 295.8L289 315L253.4 310.9ZM289 315L300 345L340 350L353.6 315L321.3 295.8M353.6 315L383 300M296 322L310 342M349 188L314 215L320 262L351.4 243.3M285 188L314 215M533 86L564 72L607 70L640 81L660 119M531 94L567 91L611 89L642 92M564 72L567 91L564.4 111.6M607 70L611 89L608.3 109M533 86L502 112L530.8 137.4M467 136L532 135L531 188L467 188ZM467 136L480 120L502 112M467 188L467 240M531 188L496 215L502 262L533.4 243.3M467 188L496 215M655 100L662 130L658 300L668 310M640 150L662 150M640 195L660 195M640 243L660 243M655 100L636 82M668 310L640 316M292 375L352 378M292 375L290 432L352 432M290 432L284 478M252 517L284 478L322 500L326 535L296 552L258 548ZM290 432L322 462L355.2 481M322 462L326 505L355 520M326 505L296 530L312 580L345 585L362 545L389 523M389 523L392 545L435 543L432.7 516.8M362 545L470 548M473 375L533 378M473 375L471 432L533 432M471 432L465 478M433 517L465 478L503 500L507 535L477 552L439 548ZM471 432L503 462L536.2 481M503 462L507 505L536 520M507 505L477 530L493 580L526 585L543 545L570 523M570 523L573 545L616 543L613.7 516.8M543 545L651 548M610 520L640 545L665 535L660 400L655 370M632 506L650 500" fill="none" stroke="#f0bc4c" stroke-width="2.4" stroke-linejoin="round" stroke-linecap="round"/>
<polygon points="79.7,138.7 136,126.4 189.6,137.4 137.4,164.8" fill="#cdf6f8" stroke="#2a4a55" stroke-width="0.8" stroke-linejoin="round" />
<polygon points="79.7,138.7 137.4,164.8 136,228 79.7,196.4" fill="#b2ecf2" stroke="#2a4a55" stroke-width="0.8" stroke-linejoin="round" />
<polygon points="137.4,164.8 189.6,137.4 188.2,197.8 136,228" fill="#bff2f6" stroke="#2a4a55" stroke-width="0.8" stroke-linejoin="round" />
<polygon points="114,542 158,532.5 138.7,592.9 93.4,599.7" fill="#eadcf6" stroke="#2a2a3a" stroke-width="0.8" stroke-linejoin="round" />
<polygon points="93.4,604 138.7,594.3 173,639.6 127.7,647.8" fill="#dcc0e4" stroke="#2a2a3a" stroke-width="0.8" stroke-linejoin="round" />
<polygon points="158,532.5 189.6,575 173,639.6 138.7,592.9" fill="#4a4458" stroke="#2a2a3a" stroke-width="0.8" stroke-linejoin="round" />
<polygon points="777.7,225.4 807.9,246 816.2,232.3 847.1,260.5 849.1,276.3 827.1,273.5 796.9,292.7 773.6,254.3" fill="#e6e8fc" stroke="#23253a" stroke-width="0.8" stroke-linejoin="round" />
<polygon points="772.2,185.6 784.6,177.4 780.4,224.1 807.9,246 802.4,254.3 768.1,235.1" fill="#a4a8de" stroke="#23253a" stroke-width="0.8" stroke-linejoin="round" />
<polygon points="785.9,134.8 810.7,137.5 818.9,230.2 807.9,246 780.4,224.1 784.6,177.4" fill="#eceefd" stroke="#23253a" stroke-width="0.8" stroke-linejoin="round" />
<polygon points="821.6,72.3 845.7,74.3 842.9,111.4 812,137.5 785.9,134.8 788.7,94.9 791.4,85.3" fill="url(#lavF)" stroke="#23253a" stroke-width="0.8" stroke-linejoin="round" />
<polygon points="828.5,62 889,60.6 913.7,62.7 938.4,86.7 943.2,122.4 934.3,191.1 926,246 917.8,265.3 887.6,277.6 849.1,276.3 847.1,260.5 883.5,261.2 910.9,229.6 910.2,137.5 880,110.1 884.8,74.3 845.7,74.3 821.6,72.3" fill="url(#dkP)" />
<polygon points="846.4,77.1 884.1,74.3 880.7,104.6 844.3,105.9" fill="#a9adee" stroke="#23253a" stroke-width="0.8" stroke-linejoin="round" />
<polygon points="844.3,105.9 880.7,104.6 880,110.1 842.9,111.4" fill="#9ea2e0" stroke="#23253a" stroke-width="0.8" stroke-linejoin="round" />
<polygon points="842.9,111.4 880,110.1 910.2,137.5 910.9,229.6 883.5,261.2 847.1,260.5 818.9,230.2 812,137.5" fill="url(#lavF)" stroke="#23253a" stroke-width="1" stroke-linejoin="round" />
<polygon points="800.3,467.9 837.4,466.5 837.4,511.9 793.4,555.8 763.2,555.8 764.6,507.7" fill="url(#cyL)" stroke="#2a4a55" stroke-width="0.8" stroke-linejoin="round" />
<polygon points="840.1,466.5 884.1,470.7 917,511.9 918.4,554.5 881.3,555.8 838.7,511.9" fill="url(#tealR)" stroke="#2a4a55" stroke-width="0.8" stroke-linejoin="round" />
<polygon points="763.2,561.3 793.4,559.9 836,609.4 836,638.2 812.6,638.2 770.1,603.9" fill="#b6eaee" stroke="#2a4a55" stroke-width="0.8" stroke-linejoin="round" />
<polygon points="838.7,609.4 881.3,559.9 918.4,558.6 922.5,599.7 889.6,642.3 840.1,639.6" fill="#8aaeb0" stroke="#2a4a55" stroke-width="0.8" stroke-linejoin="round" />
<polygon points="837.4,521.5 874.5,555.8 836,598.4 801.6,558.6" fill="#f4feff" stroke="#1f3a40" stroke-width="1.5" stroke-linejoin="round" />
<path d="M67.3 131.9L136 115.4L203.3 130.5L199.2 201.9L134.6 243.1L68.7 204.7ZM136 166.2L67.3 131.9M136 166.2L203.3 130.5M136 166.2L134.6 243.1M73 136L136 121.5L198 135M73 136L74 201L135 238M198 135L194.5 199L135 238M162.1 511.9L197.8 572.3L178.6 650.6L126.4 663L79.7 609.4L108.5 532.5ZM136 591.5L162.1 511.9M136 591.5L79.7 609.4M136 591.5L178.6 650.6M112 538L160 520M86 606L112 538M130 655L86 606M130 655L174 645L191 575M842.3 97.7L884.1 95.6L923 130L924.7 231.6L890.1 273.5L847.1 274.2L814.8 243.3L803.8 129.3ZM785.9 66.1L816.2 52.4L851.9 55.4L893.1 53.7L931.5 45.5L953.5 78.5L956.5 129.3L953.5 188.4L945.3 243.3L934.3 285.9L898.6 307.9L853.9 309.5L820.3 298.9M818.9 44.1L857.4 41.4L897.2 42.1L928.8 42.7M816.2 52.4L824.4 40M931.5 45.5L928.8 42.7M851.9 55.4L842.3 97.7M893.1 53.7L884.1 95.6M857.4 41.4L856 54.4M897.2 42.1L895.1 53.7M923 130L956.5 129.3M924.7 186.3L953.5 188.4M924.7 231.6L945.3 243.3M938.4 89.5L953.5 85.3M953.5 78.5L961.8 122.4L956.5 129.3M785.9 66.1L774.9 77.1L773.6 129.3L803.8 129.3M769.5 88.1L768.1 136.2L773.6 129.3M774.9 77.1L791.4 81.2M773.6 129.3L770.8 182.9L804.5 184.2M770.8 182.9L740.6 217.2L737.9 254.3L761.2 263.2M770.8 182.9L766.7 235.1L801 258.4L814.8 243.3M766.7 235.1L758.5 272.1L788.7 316.1L821.6 298.9L801 258.4M761.2 263.2L779.1 270.8M758.5 272.1L764 265.3L791.4 307.9L788.7 316.1M847.1 274.2L853.9 309.5M890.1 273.5L898.6 307.9M890.1 273.5L917.8 268L928.8 273.5L934.3 285.9M821.6 298.9L827.1 276.3M792 448.7L836 445.9L889.6 454.2L933.5 500.9L940.4 610.8L892.3 660.2L803 656.1L752.2 613.5L745.3 558.6L749.5 500.9ZM837.4 511.9L881.3 555.8L836 608L793.4 557.2ZM745.3 558.6L793.4 557.2M881.3 555.8L938 553M836 445.9L837.4 511.9M836 608L837 658M792 448.7L812 465M889.6 454.2L870 468M803 656.1L815 640M892.3 660.2L882 643" fill="none" stroke="#b8842a" stroke-width="4.6" stroke-linejoin="round" stroke-linecap="round"/>
<path d="M67.3 131.9L136 115.4L203.3 130.5L199.2 201.9L134.6 243.1L68.7 204.7ZM136 166.2L67.3 131.9M136 166.2L203.3 130.5M136 166.2L134.6 243.1M73 136L136 121.5L198 135M73 136L74 201L135 238M198 135L194.5 199L135 238M162.1 511.9L197.8 572.3L178.6 650.6L126.4 663L79.7 609.4L108.5 532.5ZM136 591.5L162.1 511.9M136 591.5L79.7 609.4M136 591.5L178.6 650.6M112 538L160 520M86 606L112 538M130 655L86 606M130 655L174 645L191 575M842.3 97.7L884.1 95.6L923 130L924.7 231.6L890.1 273.5L847.1 274.2L814.8 243.3L803.8 129.3ZM785.9 66.1L816.2 52.4L851.9 55.4L893.1 53.7L931.5 45.5L953.5 78.5L956.5 129.3L953.5 188.4L945.3 243.3L934.3 285.9L898.6 307.9L853.9 309.5L820.3 298.9M818.9 44.1L857.4 41.4L897.2 42.1L928.8 42.7M816.2 52.4L824.4 40M931.5 45.5L928.8 42.7M851.9 55.4L842.3 97.7M893.1 53.7L884.1 95.6M857.4 41.4L856 54.4M897.2 42.1L895.1 53.7M923 130L956.5 129.3M924.7 186.3L953.5 188.4M924.7 231.6L945.3 243.3M938.4 89.5L953.5 85.3M953.5 78.5L961.8 122.4L956.5 129.3M785.9 66.1L774.9 77.1L773.6 129.3L803.8 129.3M769.5 88.1L768.1 136.2L773.6 129.3M774.9 77.1L791.4 81.2M773.6 129.3L770.8 182.9L804.5 184.2M770.8 182.9L740.6 217.2L737.9 254.3L761.2 263.2M770.8 182.9L766.7 235.1L801 258.4L814.8 243.3M766.7 235.1L758.5 272.1L788.7 316.1L821.6 298.9L801 258.4M761.2 263.2L779.1 270.8M758.5 272.1L764 265.3L791.4 307.9L788.7 316.1M847.1 274.2L853.9 309.5M890.1 273.5L898.6 307.9M890.1 273.5L917.8 268L928.8 273.5L934.3 285.9M821.6 298.9L827.1 276.3M792 448.7L836 445.9L889.6 454.2L933.5 500.9L940.4 610.8L892.3 660.2L803 656.1L752.2 613.5L745.3 558.6L749.5 500.9ZM837.4 511.9L881.3 555.8L836 608L793.4 557.2ZM745.3 558.6L793.4 557.2M881.3 555.8L938 553M836 445.9L837.4 511.9M836 608L837 658M792 448.7L812 465M889.6 454.2L870 468M803 656.1L815 640M892.3 660.2L882 643" fill="none" stroke="#f0bc4c" stroke-width="2.9" stroke-linejoin="round" stroke-linecap="round"/>
<path d="M435 893A27.7 27.7 0 0 1 490.5 893L498.5 1727A27.7 27.7 0 0 1 443 1727Z" fill="url(#cV)"/>
<rect x="117.5" y="1278.5" width="779" height="52.5" rx="26.2" ry="26.2" fill="url(#cHb)" transform="rotate(-0.3 507 1305)"/>
<rect x="298" y="1015" width="38" height="575" rx="19" ry="19" fill="url(#cVb)" />
<rect x="255" y="1010" width="45" height="606" rx="22.5" ry="22.5" fill="url(#cV)" />
<rect x="682" y="1008" width="28" height="586" rx="14" ry="14" fill="url(#cVb)" />
<rect x="658" y="1003" width="30" height="615" rx="15" ry="15" fill="url(#cV)" />
<path d="M356.5 1039.9L356.9 1061.2M390.6 975.9L390.9 997.1M391.1 1039.5L391.1 1060.7M429.3 976.3L430.3 997.9M474.3 978L475 999M476.1 1040.9L476.4 1061.9M511.2 976.1L511.8 997.4M544.6 1040L545.3 1061.1M579.4 976.4L580.2 997.6M580.1 1040L579.1 1061.2M381.9 974.9L390.6 975.9M390.6 975.9L400.3 974.1M419.7 974.3L429.3 976.3M429.3 976.3L440.6 975.3M463.1 976.2L474.3 978M474.3 978L483.4 976.4M501.9 975.5L511.2 976.1M511.2 976.1L519.2 974.6M570.3 975.1L579.4 976.4M356.9 1061.2L365.4 1062.2M382.5 1061.9L391.1 1060.7M391.1 1060.7L400.8 1063.3M465 1064L476.4 1061.9M476.4 1061.9L485.1 1062.7M536.7 1062.7L545.3 1061.1M545.3 1061.1L553.7 1062.6M570.6 1062.7L579.1 1061.2M121.1 1123.7L121.5 1146.1M120.6 1191L119.4 1213.5M154.7 1189.9L153.6 1212M189.8 1123.8L190.1 1146.1M234.3 1123.3L233.6 1145.4M233.4 1189.7L234 1211.9M283.5 1188.8L283.7 1210.7M323.2 1124.5L323.6 1146.2M323.8 1189.6L323.7 1211.4M382.6 1121.6L383.2 1143.9M445.1 1123.8L445.4 1145.7M445.5 1189.4L445.3 1211.3M490.3 1189.5L490.8 1212.2M556.2 1124.1L556.1 1146M555.2 1189.9L554.6 1211.8M605.8 1124.4L605.8 1146.1M653.3 1123L654.6 1145M655.1 1189.2L654.4 1211.3M688.5 1190.7L689 1213.4M728.4 1123.3L727.7 1145.2M727.9 1188.9L728.8 1210.7M773.7 1124.1L773.9 1146M796.4 1123.4L796.9 1145.2M796.9 1188.9L796.2 1210.7M121.1 1123.7L129.4 1122.9M180.9 1122.6L189.8 1123.8M189.8 1123.8L200.9 1123.1M223.2 1122.8L234.3 1123.3M234.3 1123.3L246.9 1122.7M313.6 1123.3L323.2 1124.5M323.2 1124.5L338 1123M367.7 1121.6L382.6 1121.6M382.6 1121.6L398.3 1120.9M429.5 1122L445.1 1123.8M445.1 1123.8L456.8 1122.7M540.2 1121.3L556.2 1124.1M556.2 1124.1L568.6 1122.4M593.4 1122.6L605.8 1124.4M605.8 1124.4L617.7 1123.2M641.4 1122.5L653.3 1123M653.3 1123L662.1 1121.9M718.4 1122L728.4 1123.3M728.4 1123.3L739.7 1122.3M762.4 1122.7L773.7 1124.1M773.7 1124.1L779.3 1123.2M790.7 1122.8L796.4 1123.4M119.4 1213.5L128 1215.3M145.1 1214.5L153.6 1212M153.6 1212L162.5 1214.8M222.9 1213.6L234 1211.9M234 1211.9L246.5 1213.1M271.3 1212.5L283.7 1210.7M283.7 1210.7L293.7 1211.5M313.7 1211.9L323.7 1211.4M323.7 1211.4L338.3 1212M429.5 1212.4L445.3 1211.3M445.3 1211.3L456.7 1212.5M479.4 1213L490.8 1212.2M490.8 1212.2L506.7 1214.2M538.6 1214L554.6 1211.8M554.6 1211.8L566.8 1212.4M641.7 1211.8L654.4 1211.3M654.4 1211.3L662.9 1214.2M680.2 1215.3L689 1213.4M689 1213.4L699 1214.3M719 1212.9L728.8 1210.7M728.8 1210.7L740 1211.7M790.7 1212.5L796.2 1210.7M79 1274.4L79.3 1297.6M80.8 1343.8L81.9 1366.9M158.6 1343.5L158.6 1366.6M200 1273.8L198.6 1297M244.7 1275.3L245.2 1298.1M245.2 1343.7L244.6 1366.5M322.8 1273.9L322.9 1296.5M391.3 1274.9L390.9 1297.6M392 1343L393.4 1365.7M437.1 1342.7L436.1 1365M480.1 1273.4L479.8 1296.9M480.4 1343.6L481.4 1367M550.2 1274.8L550.1 1297.2M605.9 1275.2L606.4 1297.8M606.2 1343.1L605.4 1365.8M660.2 1343.9L660 1367.2M728 1275.7L729 1298M729.5 1342.5L729 1364.8M786.6 1275.5L786.5 1297.9M189.7 1271.4L200 1273.8M200 1273.8L211.2 1272.4M233.6 1273.1L244.7 1275.3M391.3 1274.9L403 1273.9M469.5 1272.4L480.1 1273.4M550.2 1274.8L564.1 1274.1M592 1274.3L605.9 1275.2M605.9 1275.2L619.4 1274.3M728 1275.7L742.7 1273.2M772 1273.1L786.6 1275.5M158.6 1366.6L168.5 1368.5M233 1368.2L244.6 1366.5M393.4 1365.7L404.1 1367.9M425.5 1367.5L436.1 1365M436.1 1365L447.4 1366.9M470 1367.9L481.4 1367M591.8 1367.7L605.4 1365.8M605.4 1365.8L619 1368.3M646.3 1369L660 1367.2M124.1 1419.5L124 1441.7M124.1 1486.2L124.3 1508.5M153.9 1487.9L153.5 1510.5M194.1 1420.5L193.6 1442.6M233.8 1420.3L233.9 1442.2M233.9 1485.9L233.8 1507.8M283.7 1485.9L284.1 1508.3M323.5 1420.4L323 1442.6M322.4 1487.1L322.3 1509.3M363.2 1419L363.5 1441.4M407.7 1420.3L406.7 1442.7M406.4 1487.6L407 1510M470.7 1487.1L471.2 1509.3M560 1420.3L559.6 1442.9M559.7 1488L560.1 1510.6M605.8 1421.6L604.5 1443.5M655.2 1419.1L655.5 1441.6M654.4 1486.6L653 1509.1M693.1 1487.3L694.2 1510.1M732.2 1420.9L731.8 1442.7M732.6 1486.4L733.7 1508.2M789.1 1419.4L789.1 1441.8M124.1 1419.5L131.6 1417.1M184.1 1418.2L194.1 1420.5M194.1 1420.5L204 1419.6M223.8 1419.5L233.8 1420.3M233.8 1420.3L245.8 1418.6M313.2 1418.5L323.5 1420.4M323.5 1420.4L333.4 1418.9M353.2 1418.2L363.2 1419M363.2 1419L374.3 1418.5M396.6 1419.1L407.7 1420.3M407.7 1420.3L423.5 1419.2M560 1420.3L571.5 1418.7M594.4 1419.3L605.8 1421.6M605.8 1421.6L618.1 1420.4M642.8 1419.2L655.2 1419.1M655.2 1419.1L664.6 1417.5M722.5 1419L732.2 1420.9M732.2 1420.9L746.4 1420M774.8 1419.2L789.1 1419.4M124.3 1508.5L131.6 1510.1M146.1 1511.1L153.5 1510.5M153.5 1510.5L164.1 1511.9M224.3 1509.6L233.8 1507.8M233.8 1507.8L246.4 1508.5M271.5 1508.8L284.1 1508.3M284.1 1508.3L293.6 1511M312.7 1511.5L322.3 1509.3M322.3 1509.3L332.4 1511.2M395.8 1512.1L407 1510M407 1510L423.1 1510.6M455.1 1510.2L471.2 1509.3M560.1 1510.6L571.1 1511.3M640.7 1509.7L653 1509.1M653 1509.1L663.3 1511.4M683.9 1511.9L694.2 1510.1M694.2 1510.1L704.1 1510.7M723.9 1509.7L733.7 1508.2M733.7 1508.2L747.6 1509.1M367.7 1616L367.3 1634.9M399.7 1557.8L400.4 1577M400.1 1615.5L399 1634.8M436.1 1557.1L435.4 1577.2M476 1556L475.3 1575.7M475.4 1615.3L476.2 1635M509.6 1556.8L510.1 1577M546.6 1615.5L546 1634.8M580.1 1557.2L579.8 1576.6M580.2 1615.5L580.9 1634.9M391.3 1557L399.7 1557.8M399.7 1557.8L408.8 1556.1M427 1555.8L436.1 1557.1M436.1 1557.1L446.1 1555.9M466 1555.4L476 1556M476 1556L484.4 1555M501.2 1555.4L509.6 1556.8M509.6 1556.8L518.6 1556.5M571.5 1556.3L580.1 1557.2M367.3 1634.9L375.2 1635.4M391.1 1635.3L399 1634.8M399 1634.8L407.7 1637.4M465.8 1637.3L476.2 1635M476.2 1635L484.5 1636.5M537.1 1636.9L546 1634.8M546 1634.8L554.7 1637.2M572.1 1637.3L580.9 1634.9M136.7 1218.4L141 1226M148.7 1241.6L152.1 1249.6M329.4 1245.2L325.7 1255.2M467.6 1218.4L464.2 1226.6M456.1 1242.3L451.5 1249.8M564.7 1242.3L568.1 1250.6M590.9 1218.4L586.2 1225.3M579.3 1240.1L576.9 1248M673.7 1218.4L671 1227.9M662.1 1245.1L655.9 1252.8M717.6 1218.4L723.2 1225.6M731.6 1241.4L734.6 1250M92.8 1280.3L98.5 1271.5M109.8 1253.9L115.3 1245M132.9 1280.3L128 1273.9M120.8 1259.8L118.4 1252.1M188.5 1255.1L192.6 1247.1M467.5 1280.3L462.3 1273.1M674.5 1280.3L678.4 1272.5M687.1 1257.5L692 1250.3M760.3 1280.3L755.4 1272.9M797.6 1280.3L794.9 1271.8M787.5 1256L782.6 1248.5M94.8 1371.8L96.8 1380.2M104.2 1395.5L109.4 1402.4M135.8 1371.8L133.7 1379.6M176.9 1371.8L173.5 1379M262.6 1371.8L258.1 1379.3M247.9 1393.6L242.3 1400.4M288.8 1395.7L283.9 1403M344.9 1371.8L340.7 1379.1M387.9 1371.8L390.6 1379.1M428 1371.8L431.5 1378.5M510.3 1371.8L513 1380.1M521.2 1395.1L526.8 1401.9M593.6 1371.8L588.5 1378.1M579 1391.5L574.6 1398.5M632.9 1371.8L628.2 1378.5M715.4 1371.8L712 1379.6M705.2 1395.5L701.9 1403.4M759.1 1371.8L763.7 1379.5M773.1 1394.9L777.9 1402.6M786.9 1389.7L784.8 1397M344.5 1426.2L340.6 1419.1M330.7 1406.7L324.7 1401.4M507.9 1426.2L514 1419.8M566.6 1405L571.7 1397.8M636.4 1426.2L641.7 1419.8M649.1 1405.4L651.2 1397.3M757.7 1426.2L751.7 1419.5M742.8 1404.5L739.9 1396M385.4 1067.6L390.7 1074.4M397.6 1089.7L399.3 1098.2M454.4 1091L451.7 1099.4M580.9 1090.9L577.2 1099.1M94.1 1129.4L90.1 1120.6M132.9 1129.4L130.8 1122M124 1108.3L119.4 1102.1M178.7 1129.4L181.2 1121.5M188.4 1106.9L193.1 1100.1M387.7 1129.4L391.4 1121.4M400.1 1106L405.2 1098.8M594.6 1129.4L599.6 1122.9M606.4 1108.3L608.2 1100.2M715.6 1129.4L711.7 1120.6M702.5 1103.8L697.2 1095.7M757.5 1129.4L755.6 1121.1M749.1 1105.5L744.5 1098.2M801.1 1129.4L803.4 1120.8M811.4 1105.3L817.1 1098.4M383.6 1515.2L379.6 1521.7M369.6 1533.2L363.6 1538M342.5 1562.2L346.7 1555.7M511 1562.2L507.5 1554.9M551.7 1562.2L554.9 1556.5M562.8 1546.3L567.5 1541.8M595.6 1562.2L590 1556.7M578 1546.9L571.5 1542.5" stroke="#7898d8" stroke-width="3.6" fill="none"/><path d="M355.9 975.7L356.1 997.1M430.9 1041.1L430.4 1062.8M511.6 1039.9L510.8 1061.1M543.2 976.7L543.6 997.8M355.9 975.7L364.6 974.8M535.2 974.9L543.2 976.7M543.2 976.7L552.2 975.2M420.4 1064.3L430.4 1062.8M430.4 1062.8L441.9 1064.4M502.2 1062.3L510.8 1061.1M510.8 1061.1L519.4 1062.8M154.4 1123.8L155.1 1145.8M189.9 1190.8L189.5 1213.1M284.5 1122.9L283.9 1144.9M382.9 1188.7L382 1211M492 1121.7L491 1144.3M604.7 1189.4L603.6 1211M688.5 1122.6L688.2 1145.3M773.9 1189.8L773.7 1211.7M146.1 1122.9L154.4 1123.8M154.4 1123.8L163.2 1122.6M272 1122.5L284.5 1122.9M284.5 1122.9L294.2 1122.5M480.3 1121.7L492 1121.7M492 1121.7L508.2 1120.1M679.7 1121.7L688.5 1122.6M688.5 1122.6L698.5 1121.6M180.4 1215.3L189.5 1213.1M189.5 1213.1L200.6 1214.3M367.4 1211.8L382 1211M382 1211L397.8 1212.3M591.4 1212L603.6 1211M603.6 1211L616.3 1211.7M762.5 1212.2L773.7 1211.7M773.7 1211.7L779.4 1213M158.9 1273.9L158.7 1297.1M197.8 1343.5L198.3 1366.8M322.2 1341.8L321.4 1364.4M438 1275.7L438.1 1298M550.6 1342.1L551.2 1364.6M659.9 1273.8L660.2 1297.2M787.4 1342.5L788.6 1364.8M158.9 1273.9L169.1 1271.4M426.3 1274.3L438 1275.7M438 1275.7L448.4 1273.5M646.4 1273.6L659.9 1273.8M188.4 1368.5L198.3 1366.8M198.3 1366.8L209.9 1368.3M551.2 1364.6L564.7 1367.1M153.9 1420L154.1 1442.6M194.2 1486.9L195.4 1509M282.3 1418.7L282.8 1441.1M363.1 1486.1L362.5 1508.5M471 1420.6L470.6 1442.7M603.5 1487.4L604 1509.4M692.9 1418.9L692.4 1441.7M789.1 1486.6L789 1508.9M146.5 1417.4L153.9 1420M153.9 1420L164 1417.9M270.1 1417.8L282.3 1418.7M282.3 1418.7L292.6 1417.6M455.2 1419.3L471 1420.6M683.5 1417.4L692.9 1418.9M692.9 1418.9L702.8 1418M185 1511.1L195.4 1509M195.4 1509L205.1 1510.2M352.5 1510.8L362.5 1508.5M362.5 1508.5L373.6 1511.3M593 1510.7L604 1509.4M604 1509.4L616.2 1509.9M775.2 1509.5L789 1508.9M366.1 1559.2L367.1 1578.1M434.4 1617.5L434.3 1637.6M510.3 1617.4L509.9 1637.5M545.7 1557.7L546.5 1577M366.1 1559.2L374.4 1557.7M536.7 1556.9L545.7 1557.7M545.7 1557.7L554.3 1556.6M425.3 1638.8L434.3 1637.6M434.3 1637.6L444.8 1638.6M501.4 1637.8L509.9 1637.5M509.9 1637.5L519 1638.3M346.4 1218.4L339.8 1226.8M552.7 1218.4L557 1226.3M179.2 1280.3L181.8 1271.7M454 1257.5L451.1 1249.1M634.2 1280.3L638.5 1273.2M646 1258.5L649.2 1250.9M747.1 1257.4L743.8 1249.2M126.8 1394L121.9 1400.4M165.5 1392.5L160.7 1398.9M299.8 1371.8L296.8 1380M333 1394L329.5 1401.7M399 1391.6L404.7 1396.8M439.5 1391.4L443.9 1397.5M619.8 1392.4L615.9 1399.6M799.9 1371.8L794.5 1377.1M218.1 1426.2L215.2 1419.1M207.3 1406.2L202.2 1400.5M385.3 1426.2L381 1418.9M371.4 1405.1L366.1 1398.6M524.5 1405.8L529.1 1398.2M550.8 1426.2L556.2 1419.2M466.5 1067.6L461.8 1075.1M594.7 1067.6L589.7 1075.1M80.9 1103.4L75.8 1095.1M220.3 1129.4L215.3 1121.4M204.1 1106.3L197.8 1099.3M635.6 1129.4L638.9 1120.7M648.9 1105.5L655.5 1099M344.1 1515.2L348.6 1521.9M356.1 1536.2L359.1 1543.8M355.1 1542.8L359.4 1536.4M471 1562.2L473 1555.2M479.8 1542.8L484.6 1537.3M498.2 1542.1L492.3 1536.6" stroke="#cfc0e6" stroke-width="3.6" fill="none"/><path d="M356.1 997.1L356.2 1018.5M356.2 1018.5L356.5 1039.9M390.9 997.1L391.1 1018.3M391.1 1018.3L391.1 1039.5M430.3 997.9L431.3 1019.5M431.3 1019.5L430.9 1041.1M475 999L475.8 1019.9M475.8 1019.9L476.1 1040.9M511.8 997.4L512.4 1018.6M512.4 1018.6L511.6 1039.9M543.6 997.8L543.9 1018.9M543.9 1018.9L544.6 1040M580.2 997.6L581 1018.8M581 1018.8L580.1 1040M364.6 974.8L373.3 973.9M373.3 973.9L381.9 974.9M400.3 974.1L410 972.3M410 972.3L419.7 974.3M440.6 975.3L451.9 974.4M451.9 974.4L463.1 976.2M483.4 976.4L492.6 974.8M492.6 974.8L501.9 975.5M519.2 974.6L527.2 973.1M527.2 973.1L535.2 974.9M552.2 975.2L561.3 973.7M561.3 973.7L570.3 975.1M365.4 1062.2L374 1063.2M374 1063.2L382.5 1061.9M400.8 1063.3L410.5 1065.9M410.5 1065.9L420.4 1064.3M441.9 1064.4L453.5 1066.1M453.5 1066.1L465 1064M485.1 1062.7L493.7 1063.5M493.7 1063.5L502.2 1062.3M519.4 1062.8L528.1 1064.4M528.1 1064.4L536.7 1062.7M553.7 1062.6L562.2 1064.2M562.2 1064.2L570.6 1062.7M121.5 1146.1L121.8 1168.6M121.8 1168.6L120.6 1191M155.1 1145.8L155.8 1167.9M155.8 1167.9L154.7 1189.9M190.1 1146.1L190.4 1168.5M190.4 1168.5L189.9 1190.8M233.6 1145.4L232.8 1167.6M232.8 1167.6L233.4 1189.7M283.9 1144.9L283.3 1166.8M283.3 1166.8L283.5 1188.8M323.6 1146.2L323.9 1167.9M323.9 1167.9L323.8 1189.6M383.2 1143.9L383.9 1166.3M383.9 1166.3L382.9 1188.7M445.4 1145.7L445.6 1167.5M445.6 1167.5L445.5 1189.4M491 1144.3L489.9 1166.9M489.9 1166.9L490.3 1189.5M556.1 1146L555.9 1167.9M555.9 1167.9L555.2 1189.9M605.8 1146.1L605.8 1167.7M605.8 1167.7L604.7 1189.4M654.6 1145L655.9 1167.1M655.9 1167.1L655.1 1189.2M688.2 1145.3L688 1168M688 1168L688.5 1190.7M727.7 1145.2L727 1167M727 1167L727.9 1188.9M773.9 1146L774.1 1167.9M774.1 1167.9L773.9 1189.8M796.9 1145.2L797.5 1167.1M797.5 1167.1L796.9 1188.9M129.4 1122.9L137.8 1122.1M137.8 1122.1L146.1 1122.9M163.2 1122.6L172.1 1121.4M172.1 1121.4L180.9 1122.6M200.9 1123.1L212 1122.3M212 1122.3L223.2 1122.8M246.9 1122.7L259.4 1122.1M259.4 1122.1L272 1122.5M294.2 1122.5L303.9 1122.1M303.9 1122.1L313.6 1123.3M338 1123L352.9 1121.6M352.9 1121.6L367.7 1121.6M398.3 1120.9L414 1120.2M414 1120.2L429.5 1122M456.8 1122.7L468.5 1121.7M468.5 1121.7L480.3 1121.7M508.2 1120.1L524.3 1118.4M524.3 1118.4L540.2 1121.3M568.6 1122.4L581 1120.8M581 1120.8L593.4 1122.6M617.7 1123.2L629.5 1122.1M629.5 1122.1L641.4 1122.5M662.1 1121.9L670.9 1120.8M670.9 1120.8L679.7 1121.7M698.5 1121.6L708.5 1120.6M708.5 1120.6L718.4 1122M739.7 1122.3L751.1 1121.3M751.1 1121.3L762.4 1122.7M779.3 1123.2L785 1122.3M785 1122.3L790.7 1122.8M128 1215.3L136.7 1217.1M136.7 1217.1L145.1 1214.5M162.5 1214.8L171.4 1217.5M171.4 1217.5L180.4 1215.3M200.6 1214.3L211.8 1215.4M211.8 1215.4L222.9 1213.6M246.5 1213.1L258.9 1214.2M258.9 1214.2L271.3 1212.5M293.7 1211.5L303.7 1212.4M303.7 1212.4L313.7 1211.9M338.3 1212L352.9 1212.6M352.9 1212.6L367.4 1211.8M397.8 1212.3L413.7 1213.5M413.7 1213.5L429.5 1212.4M456.7 1212.5L468 1213.8M468 1213.8L479.4 1213M506.7 1214.2L522.7 1216.3M522.7 1216.3L538.6 1214M566.8 1212.4L579.1 1213.1M579.1 1213.1L591.4 1212M616.3 1211.7L629 1212.3M629 1212.3L641.7 1211.8M662.9 1214.2L671.4 1217.1M671.4 1217.1L680.2 1215.3M699 1214.3L709.1 1215.1M709.1 1215.1L719 1212.9M740 1211.7L751.2 1212.8M751.2 1212.8L762.5 1212.2M779.4 1213L785.1 1214.4M785.1 1214.4L790.7 1212.5M79.3 1297.6L79.7 1320.7M79.7 1320.7L80.8 1343.8M158.7 1297.1L158.6 1320.3M158.6 1320.3L158.6 1343.5M198.6 1297L197.2 1320.3M197.2 1320.3L197.8 1343.5M245.2 1298.1L245.7 1320.9M245.7 1320.9L245.2 1343.7M322.9 1296.5L323 1319.2M323 1319.2L322.2 1341.8M390.9 1297.6L390.6 1320.3M390.6 1320.3L392 1343M438.1 1298L438.1 1320.4M438.1 1320.4L437.1 1342.7M479.8 1296.9L479.4 1320.3M479.4 1320.3L480.4 1343.6M550.1 1297.2L550.1 1319.7M550.1 1319.7L550.6 1342.1M606.4 1297.8L607 1320.5M607 1320.5L606.2 1343.1M660.2 1297.2L660.4 1320.5M660.4 1320.5L660.2 1343.9M729 1298L730 1320.2M730 1320.2L729.5 1342.5M786.5 1297.9L786.3 1320.2M786.3 1320.2L787.4 1342.5M169.1 1271.4L179.4 1269M179.4 1269L189.7 1271.4M211.2 1272.4L222.5 1270.9M222.5 1270.9L233.6 1273.1M403 1273.9L414.7 1272.9M414.7 1272.9L426.3 1274.3M448.4 1273.5L458.9 1271.4M458.9 1271.4L469.5 1272.4M564.1 1274.1L578.1 1273.5M578.1 1273.5L592 1274.3M619.4 1274.3L632.9 1273.4M632.9 1273.4L646.4 1273.6M742.7 1273.2L757.3 1270.7M757.3 1270.7L772 1273.1M168.5 1368.5L178.4 1370.3M178.4 1370.3L188.4 1368.5M209.9 1368.3L221.5 1369.8M221.5 1369.8L233 1368.2M404.1 1367.9L414.8 1370.1M414.8 1370.1L425.5 1367.5M447.4 1366.9L458.6 1368.7M458.6 1368.7L470 1367.9M564.7 1367.1L578.2 1369.7M578.2 1369.7L591.8 1367.7M619 1368.3L632.6 1370.8M632.6 1370.8L646.3 1369M124 1441.7L123.9 1464M123.9 1464L124.1 1486.2M154.1 1442.6L154.3 1465.2M154.3 1465.2L153.9 1487.9M193.6 1442.6L193.1 1464.8M193.1 1464.8L194.2 1486.9M233.9 1442.2L234 1464.1M234 1464.1L233.9 1485.9M282.8 1441.1L283.3 1463.5M283.3 1463.5L283.7 1485.9M323 1442.6L322.6 1464.8M322.6 1464.8L322.4 1487.1M363.5 1441.4L363.8 1463.8M363.8 1463.8L363.1 1486.1M406.7 1442.7L405.7 1465.1M405.7 1465.1L406.4 1487.6M470.6 1442.7L470.3 1464.9M470.3 1464.9L470.7 1487.1M559.6 1442.9L559.3 1465.5M559.3 1465.5L559.7 1488M604.5 1443.5L603.1 1465.5M603.1 1465.5L603.5 1487.4M655.5 1441.6L655.8 1464.1M655.8 1464.1L654.4 1486.6M692.4 1441.7L692 1464.5M692 1464.5L693.1 1487.3M731.8 1442.7L731.5 1464.6M731.5 1464.6L732.6 1486.4M789.1 1441.8L789.1 1464.2M789.1 1464.2L789.1 1486.6M131.6 1417.1L139.1 1414.8M139.1 1414.8L146.5 1417.4M164 1417.9L174 1415.9M174 1415.9L184.1 1418.2M204 1419.6L213.9 1418.8M213.9 1418.8L223.8 1419.5M245.8 1418.6L257.9 1416.8M257.9 1416.8L270.1 1417.8M292.6 1417.6L303 1416.5M303 1416.5L313.2 1418.5M333.4 1418.9L343.2 1417.4M343.2 1417.4L353.2 1418.2M374.3 1418.5L385.5 1417.9M385.5 1417.9L396.6 1419.1M423.5 1419.2L439.3 1418.1M439.3 1418.1L455.2 1419.3M571.5 1418.7L583 1417.1M583 1417.1L594.4 1419.3M618.1 1420.4L630.4 1419.3M630.4 1419.3L642.8 1419.2M664.6 1417.5L674 1415.8M674 1415.8L683.5 1417.4M702.8 1418L712.7 1417.2M712.7 1417.2L722.5 1419M746.4 1420L760.6 1419.1M760.6 1419.1L774.8 1419.2M131.6 1510.1L138.8 1511.8M138.8 1511.8L146.1 1511.1M164.1 1511.9L174.6 1513.2M174.6 1513.2L185 1511.1M205.1 1510.2L214.7 1511.5M214.7 1511.5L224.3 1509.6M246.4 1508.5L259 1509.3M259 1509.3L271.5 1508.8M293.6 1511L303.1 1513.7M303.1 1513.7L312.7 1511.5M332.4 1511.2L342.5 1513.1M342.5 1513.1L352.5 1510.8M373.6 1511.3L384.6 1514.1M384.6 1514.1L395.8 1512.1M423.1 1510.6L439.1 1511.1M439.1 1511.1L455.1 1510.2M571.1 1511.3L582.1 1512.1M582.1 1512.1L593 1510.7M616.2 1509.9L628.5 1510.4M628.5 1510.4L640.7 1509.7M663.3 1511.4L673.5 1513.7M673.5 1513.7L683.9 1511.9M704.1 1510.7L714.1 1511.2M714.1 1511.2L723.9 1509.7M747.6 1509.1L761.4 1510.1M761.4 1510.1L775.2 1509.5M367.1 1578.1L368.1 1597M368.1 1597L367.7 1616M400.4 1577L401.1 1596.3M401.1 1596.3L400.1 1615.5M435.4 1577.2L434.6 1597.3M434.6 1597.3L434.4 1617.5M475.3 1575.7L474.6 1595.5M474.6 1595.5L475.4 1615.3M510.1 1577L510.7 1597.2M510.7 1597.2L510.3 1617.4M546.5 1577L547.2 1596.2M547.2 1596.2L546.6 1615.5M579.8 1576.6L579.4 1596.1M579.4 1596.1L580.2 1615.5M374.4 1557.7L382.8 1556.3M382.8 1556.3L391.3 1557M408.8 1556.1L417.8 1554.4M417.8 1554.4L427 1555.8M446.1 1555.9L456 1554.8M456 1554.8L466 1555.4M484.4 1555L492.9 1554M492.9 1554L501.2 1555.4M518.6 1556.5L527.7 1556.2M527.7 1556.2L536.7 1556.9M554.3 1556.6L562.9 1555.4M562.9 1555.4L571.5 1556.3M375.2 1635.4L383.2 1635.9M383.2 1635.9L391.1 1635.3M407.7 1637.4L416.3 1640.1M416.3 1640.1L425.3 1638.8M444.8 1638.6L455.4 1639.5M455.4 1639.5L465.8 1637.3M484.5 1636.5L492.9 1638M492.9 1638L501.4 1637.8M519 1638.3L528.2 1639M528.2 1639L537.1 1636.9M554.7 1637.2L563.4 1639.6M563.4 1639.6L572.1 1637.3M141 1226L145.2 1233.6M145.2 1233.6L148.7 1241.6M339.8 1226.8L333.1 1235.2M333.1 1235.2L329.4 1245.2M464.2 1226.6L460.8 1234.8M460.8 1234.8L456.1 1242.3M557 1226.3L561.3 1234.1M561.3 1234.1L564.7 1242.3M586.2 1225.3L581.6 1232.1M581.6 1232.1L579.3 1240.1M671 1227.9L668.2 1237.4M668.2 1237.4L662.1 1245.1M723.2 1225.6L728.7 1232.8M728.7 1232.8L731.6 1241.4M98.5 1271.5L104.3 1262.8M104.3 1262.8L109.8 1253.9M128 1273.9L123.1 1267.5M123.1 1267.5L120.8 1259.8M181.8 1271.7L184.4 1263.1M184.4 1263.1L188.5 1255.1M462.3 1273.1L457 1265.9M457 1265.9L454 1257.5M638.5 1273.2L642.8 1266.1M642.8 1266.1L646 1258.5M678.4 1272.5L682.3 1264.8M682.3 1264.8L687.1 1257.5M755.4 1272.9L750.5 1265.5M750.5 1265.5L747.1 1257.4M794.9 1271.8L792.3 1263.4M792.3 1263.4L787.5 1256M96.8 1380.2L98.9 1388.6M98.9 1388.6L104.2 1395.5M133.7 1379.6L131.7 1387.5M131.7 1387.5L126.8 1394M173.5 1379L170.2 1386.2M170.2 1386.2L165.5 1392.5M258.1 1379.3L253.6 1386.9M253.6 1386.9L247.9 1393.6M296.8 1380L293.7 1388.3M293.7 1388.3L288.8 1395.7M340.7 1379.1L336.5 1386.4M336.5 1386.4L333 1394M390.6 1379.1L393.2 1386.3M393.2 1386.3L399 1391.6M431.5 1378.5L435 1385.2M435 1385.2L439.5 1391.4M513 1380.1L515.7 1388.4M515.7 1388.4L521.2 1395.1M588.5 1378.1L583.3 1384.5M583.3 1384.5L579 1391.5M628.2 1378.5L623.6 1385.2M623.6 1385.2L619.8 1392.4M712 1379.6L708.5 1387.5M708.5 1387.5L705.2 1395.5M763.7 1379.5L768.3 1387.2M768.3 1387.2L773.1 1394.9M794.5 1377.1L789 1382.4M789 1382.4L786.9 1389.7M215.2 1419.1L212.3 1412M212.3 1412L207.3 1406.2M340.6 1419.1L336.8 1412M336.8 1412L330.7 1406.7M381 1418.9L376.7 1411.7M376.7 1411.7L371.4 1405.1M514 1419.8L520 1413.4M520 1413.4L524.5 1405.8M556.2 1419.2L561.6 1412.2M561.6 1412.2L566.6 1405M641.7 1419.8L647 1413.4M647 1413.4L649.1 1405.4M751.7 1419.5L745.7 1412.9M745.7 1412.9L742.8 1404.5M390.7 1074.4L395.9 1081.2M395.9 1081.2L397.6 1089.7M461.8 1075.1L457.2 1082.6M457.2 1082.6L454.4 1091M589.7 1075.1L584.6 1082.6M584.6 1082.6L580.9 1090.9M90.1 1120.6L86 1111.7M86 1111.7L80.9 1103.4M130.8 1122L128.7 1114.5M128.7 1114.5L124 1108.3M181.2 1121.5L183.7 1113.7M183.7 1113.7L188.4 1106.9M215.3 1121.4L210.4 1113.4M210.4 1113.4L204.1 1106.3M391.4 1121.4L395 1113.3M395 1113.3L400.1 1106M599.6 1122.9L604.5 1116.3M604.5 1116.3L606.4 1108.3M638.9 1120.7L642.3 1112M642.3 1112L648.9 1105.5M711.7 1120.6L707.8 1111.8M707.8 1111.8L702.5 1103.8M755.6 1121.1L753.7 1112.7M753.7 1112.7L749.1 1105.5M803.4 1120.8L805.7 1112.2M805.7 1112.2L811.4 1105.3M348.6 1521.9L353.1 1528.7M353.1 1528.7L356.1 1536.2M379.6 1521.7L375.6 1528.3M375.6 1528.3L369.6 1533.2M346.7 1555.7L350.8 1549.2M350.8 1549.2L355.1 1542.8M473 1555.2L475.1 1548.3M475.1 1548.3L479.8 1542.8M507.5 1554.9L504.1 1547.6M504.1 1547.6L498.2 1542.1M554.9 1556.5L558.1 1550.8M558.1 1550.8L562.8 1546.3M590 1556.7L584.4 1551.3M584.4 1551.3L578 1546.9" stroke="#c01410" stroke-width="3.6" fill="none"/>
<g fill="url(#gRb)"><circle cx="356.2" cy="1018.5" r="6.8"/><circle cx="391.1" cy="1018.3" r="6.8"/><circle cx="431.3" cy="1019.5" r="6.8"/><circle cx="475.8" cy="1019.9" r="6.8"/><circle cx="512.4" cy="1018.6" r="6.8"/><circle cx="543.9" cy="1018.9" r="6.8"/><circle cx="581" cy="1018.8" r="6.8"/><circle cx="373.3" cy="973.9" r="6.8"/><circle cx="410" cy="972.3" r="6.8"/><circle cx="451.9" cy="974.4" r="6.8"/><circle cx="492.6" cy="974.8" r="6.8"/><circle cx="527.2" cy="973.1" r="6.8"/><circle cx="561.3" cy="973.7" r="6.8"/><circle cx="374" cy="1063.2" r="6.8"/><circle cx="410.5" cy="1065.9" r="6.8"/><circle cx="453.5" cy="1066.1" r="6.8"/><circle cx="493.7" cy="1063.5" r="6.8"/><circle cx="528.1" cy="1064.4" r="6.8"/><circle cx="562.2" cy="1064.2" r="6.8"/><circle cx="121.8" cy="1168.6" r="6.8"/><circle cx="155.8" cy="1167.9" r="6.8"/><circle cx="190.4" cy="1168.5" r="6.8"/><circle cx="232.8" cy="1167.6" r="6.8"/><circle cx="283.3" cy="1166.8" r="6.8"/><circle cx="323.9" cy="1167.9" r="6.8"/><circle cx="383.9" cy="1166.3" r="6.8"/><circle cx="445.6" cy="1167.5" r="6.8"/><circle cx="489.9" cy="1166.9" r="6.8"/><circle cx="555.9" cy="1167.9" r="6.8"/><circle cx="605.8" cy="1167.7" r="6.8"/><circle cx="655.9" cy="1167.1" r="6.8"/><circle cx="688" cy="1168" r="6.8"/><circle cx="727" cy="1167" r="6.8"/><circle cx="774.1" cy="1167.9" r="6.8"/><circle cx="797.5" cy="1167.1" r="6.8"/><circle cx="137.8" cy="1122.1" r="6.8"/><circle cx="172.1" cy="1121.4" r="6.8"/><circle cx="212" cy="1122.3" r="6.8"/><circle cx="259.4" cy="1122.1" r="6.8"/><circle cx="303.9" cy="1122.1" r="6.8"/><circle cx="352.9" cy="1121.6" r="6.8"/><circle cx="414" cy="1120.2" r="6.8"/><circle cx="468.5" cy="1121.7" r="6.8"/><circle cx="524.3" cy="1118.4" r="6.8"/><circle cx="581" cy="1120.8" r="6.8"/><circle cx="629.5" cy="1122.1" r="6.8"/><circle cx="670.9" cy="1120.8" r="6.8"/><circle cx="708.5" cy="1120.6" r="6.8"/><circle cx="751.1" cy="1121.3" r="6.8"/><circle cx="785" cy="1122.3" r="6.8"/><circle cx="136.7" cy="1217.1" r="6.8"/><circle cx="171.4" cy="1217.5" r="6.8"/><circle cx="211.8" cy="1215.4" r="6.8"/><circle cx="258.9" cy="1214.2" r="6.8"/><circle cx="303.7" cy="1212.4" r="6.8"/><circle cx="352.9" cy="1212.6" r="6.8"/><circle cx="413.7" cy="1213.5" r="6.8"/><circle cx="468" cy="1213.8" r="6.8"/><circle cx="522.7" cy="1216.3" r="6.8"/><circle cx="579.1" cy="1213.1" r="6.8"/><circle cx="629" cy="1212.3" r="6.8"/><circle cx="671.4" cy="1217.1" r="6.8"/><circle cx="709.1" cy="1215.1" r="6.8"/><circle cx="751.2" cy="1212.8" r="6.8"/><circle cx="785.1" cy="1214.4" r="6.8"/><circle cx="79.7" cy="1320.7" r="6.8"/><circle cx="158.6" cy="1320.3" r="6.8"/><circle cx="197.2" cy="1320.3" r="6.8"/><circle cx="245.7" cy="1320.9" r="6.8"/><circle cx="323" cy="1319.2" r="6.8"/><circle cx="390.6" cy="1320.3" r="6.8"/><circle cx="438.1" cy="1320.4" r="6.8"/><circle cx="479.4" cy="1320.3" r="6.8"/><circle cx="550.1" cy="1319.7" r="6.8"/><circle cx="607" cy="1320.5" r="6.8"/><circle cx="660.4" cy="1320.5" r="6.8"/><circle cx="730" cy="1320.2" r="6.8"/><circle cx="786.3" cy="1320.2" r="6.8"/><circle cx="179.4" cy="1269" r="6.8"/><circle cx="222.5" cy="1270.9" r="6.8"/><circle cx="414.7" cy="1272.9" r="6.8"/><circle cx="458.9" cy="1271.4" r="6.8"/><circle cx="578.1" cy="1273.5" r="6.8"/><circle cx="632.9" cy="1273.4" r="6.8"/><circle cx="757.3" cy="1270.7" r="6.8"/><circle cx="178.4" cy="1370.3" r="6.8"/><circle cx="221.5" cy="1369.8" r="6.8"/><circle cx="414.8" cy="1370.1" r="6.8"/><circle cx="458.6" cy="1368.7" r="6.8"/><circle cx="578.2" cy="1369.7" r="6.8"/><circle cx="632.6" cy="1370.8" r="6.8"/><circle cx="123.9" cy="1464" r="6.8"/><circle cx="154.3" cy="1465.2" r="6.8"/><circle cx="193.1" cy="1464.8" r="6.8"/><circle cx="234" cy="1464.1" r="6.8"/><circle cx="283.3" cy="1463.5" r="6.8"/><circle cx="322.6" cy="1464.8" r="6.8"/><circle cx="363.8" cy="1463.8" r="6.8"/><circle cx="405.7" cy="1465.1" r="6.8"/><circle cx="470.3" cy="1464.9" r="6.8"/><circle cx="559.3" cy="1465.5" r="6.8"/><circle cx="603.1" cy="1465.5" r="6.8"/><circle cx="655.8" cy="1464.1" r="6.8"/><circle cx="692" cy="1464.5" r="6.8"/><circle cx="731.5" cy="1464.6" r="6.8"/><circle cx="789.1" cy="1464.2" r="6.8"/><circle cx="139.1" cy="1414.8" r="6.8"/><circle cx="174" cy="1415.9" r="6.8"/><circle cx="213.9" cy="1418.8" r="6.8"/><circle cx="257.9" cy="1416.8" r="6.8"/><circle cx="303" cy="1416.5" r="6.8"/><circle cx="343.2" cy="1417.4" r="6.8"/><circle cx="385.5" cy="1417.9" r="6.8"/><circle cx="439.3" cy="1418.1" r="6.8"/><circle cx="583" cy="1417.1" r="6.8"/><circle cx="630.4" cy="1419.3" r="6.8"/><circle cx="674" cy="1415.8" r="6.8"/><circle cx="712.7" cy="1417.2" r="6.8"/><circle cx="760.6" cy="1419.1" r="6.8"/><circle cx="138.8" cy="1511.8" r="6.8"/><circle cx="174.6" cy="1513.2" r="6.8"/><circle cx="214.7" cy="1511.5" r="6.8"/><circle cx="259" cy="1509.3" r="6.8"/><circle cx="303.1" cy="1513.7" r="6.8"/><circle cx="342.5" cy="1513.1" r="6.8"/><circle cx="384.6" cy="1514.1" r="6.8"/><circle cx="439.1" cy="1511.1" r="6.8"/><circle cx="582.1" cy="1512.1" r="6.8"/><circle cx="628.5" cy="1510.4" r="6.8"/><circle cx="673.5" cy="1513.7" r="6.8"/><circle cx="714.1" cy="1511.2" r="6.8"/><circle cx="761.4" cy="1510.1" r="6.8"/><circle cx="368.1" cy="1597" r="6.8"/><circle cx="401.1" cy="1596.3" r="6.8"/><circle cx="434.6" cy="1597.3" r="6.8"/><circle cx="474.6" cy="1595.5" r="6.8"/><circle cx="510.7" cy="1597.2" r="6.8"/><circle cx="547.2" cy="1596.2" r="6.8"/><circle cx="579.4" cy="1596.1" r="6.8"/><circle cx="382.8" cy="1556.3" r="6.8"/><circle cx="417.8" cy="1554.4" r="6.8"/><circle cx="456" cy="1554.8" r="6.8"/><circle cx="492.9" cy="1554" r="6.8"/><circle cx="527.7" cy="1556.2" r="6.8"/><circle cx="562.9" cy="1555.4" r="6.8"/><circle cx="383.2" cy="1635.9" r="6.8"/><circle cx="416.3" cy="1640.1" r="6.8"/><circle cx="455.4" cy="1639.5" r="6.8"/><circle cx="492.9" cy="1638" r="6.8"/><circle cx="528.2" cy="1639" r="6.8"/><circle cx="563.4" cy="1639.6" r="6.8"/><circle cx="145.2" cy="1233.6" r="6.8"/><circle cx="333.1" cy="1235.2" r="6.8"/><circle cx="460.8" cy="1234.8" r="6.8"/><circle cx="561.3" cy="1234.1" r="6.8"/><circle cx="581.6" cy="1232.1" r="6.8"/><circle cx="668.2" cy="1237.4" r="6.8"/><circle cx="728.7" cy="1232.8" r="6.8"/><circle cx="104.3" cy="1262.8" r="6.8"/><circle cx="123.1" cy="1267.5" r="6.8"/><circle cx="184.4" cy="1263.1" r="6.8"/><circle cx="457" cy="1265.9" r="6.8"/><circle cx="642.8" cy="1266.1" r="6.8"/><circle cx="682.3" cy="1264.8" r="6.8"/><circle cx="750.5" cy="1265.5" r="6.8"/><circle cx="792.3" cy="1263.4" r="6.8"/><circle cx="98.9" cy="1388.6" r="6.8"/><circle cx="131.7" cy="1387.5" r="6.8"/><circle cx="170.2" cy="1386.2" r="6.8"/><circle cx="253.6" cy="1386.9" r="6.8"/><circle cx="293.7" cy="1388.3" r="6.8"/><circle cx="336.5" cy="1386.4" r="6.8"/><circle cx="393.2" cy="1386.3" r="6.8"/><circle cx="435" cy="1385.2" r="6.8"/><circle cx="515.7" cy="1388.4" r="6.8"/><circle cx="583.3" cy="1384.5" r="6.8"/><circle cx="623.6" cy="1385.2" r="6.8"/><circle cx="708.5" cy="1387.5" r="6.8"/><circle cx="768.3" cy="1387.2" r="6.8"/><circle cx="789" cy="1382.4" r="6.8"/><circle cx="212.3" cy="1412" r="6.8"/><circle cx="336.8" cy="1412" r="6.8"/><circle cx="376.7" cy="1411.7" r="6.8"/><circle cx="520" cy="1413.4" r="6.8"/><circle cx="561.6" cy="1412.2" r="6.8"/><circle cx="647" cy="1413.4" r="6.8"/><circle cx="745.7" cy="1412.9" r="6.8"/><circle cx="395.9" cy="1081.2" r="6.8"/><circle cx="457.2" cy="1082.6" r="6.8"/><circle cx="584.6" cy="1082.6" r="6.8"/><circle cx="86" cy="1111.7" r="6.8"/><circle cx="128.7" cy="1114.5" r="6.8"/><circle cx="183.7" cy="1113.7" r="6.8"/><circle cx="210.4" cy="1113.4" r="6.8"/><circle cx="395" cy="1113.3" r="6.8"/><circle cx="604.5" cy="1116.3" r="6.8"/><circle cx="642.3" cy="1112" r="6.8"/><circle cx="707.8" cy="1111.8" r="6.8"/><circle cx="753.7" cy="1112.7" r="6.8"/><circle cx="805.7" cy="1112.2" r="6.8"/><circle cx="353.1" cy="1528.7" r="6.8"/><circle cx="375.6" cy="1528.3" r="6.8"/><circle cx="350.8" cy="1549.2" r="6.8"/><circle cx="475.1" cy="1548.3" r="6.8"/><circle cx="504.1" cy="1547.6" r="6.8"/><circle cx="558.1" cy="1550.8" r="6.8"/><circle cx="584.4" cy="1551.3" r="6.8"/></g><g fill="url(#gQb)"><circle cx="355.9" cy="975.7" r="12"/><circle cx="430.4" cy="1062.8" r="12"/><circle cx="510.8" cy="1061.1" r="12"/><circle cx="543.2" cy="976.7" r="12"/><circle cx="154.4" cy="1123.8" r="12"/><circle cx="189.5" cy="1213.1" r="12"/><circle cx="284.5" cy="1122.9" r="12"/><circle cx="382" cy="1211" r="12"/><circle cx="492" cy="1121.7" r="12"/><circle cx="603.6" cy="1211" r="12"/><circle cx="688.5" cy="1122.6" r="12"/><circle cx="773.7" cy="1211.7" r="12"/><circle cx="158.9" cy="1273.9" r="12"/><circle cx="198.3" cy="1366.8" r="12"/><circle cx="321.4" cy="1364.4" r="12"/><circle cx="438" cy="1275.7" r="12"/><circle cx="551.2" cy="1364.6" r="12"/><circle cx="659.9" cy="1273.8" r="12"/><circle cx="788.6" cy="1364.8" r="12"/><circle cx="153.9" cy="1420" r="12"/><circle cx="195.4" cy="1509" r="12"/><circle cx="282.3" cy="1418.7" r="12"/><circle cx="362.5" cy="1508.5" r="12"/><circle cx="471" cy="1420.6" r="12"/><circle cx="604" cy="1509.4" r="12"/><circle cx="692.9" cy="1418.9" r="12"/><circle cx="789" cy="1508.9" r="12"/><circle cx="366.1" cy="1559.2" r="12"/><circle cx="434.3" cy="1637.6" r="12"/><circle cx="509.9" cy="1637.5" r="12"/><circle cx="545.7" cy="1557.7" r="12"/><circle cx="77" cy="1253.6" r="12"/><circle cx="239.4" cy="1253.4" r="12"/><circle cx="368.2" cy="1249.6" r="12"/><circle cx="654.1" cy="1249.4" r="12"/><circle cx="822" cy="1248.1" r="12"/><circle cx="200.6" cy="1251.9" r="12"/><circle cx="274.6" cy="1247.3" r="12"/><circle cx="321.2" cy="1250.1" r="12"/><circle cx="325.8" cy="1246" r="12"/><circle cx="444.7" cy="1244.7" r="12"/><circle cx="451.1" cy="1249.1" r="12"/><circle cx="489.1" cy="1244.9" r="12"/><circle cx="534.2" cy="1247.5" r="12"/><circle cx="649.2" cy="1250.9" r="12"/><circle cx="743.8" cy="1249.2" r="12"/><circle cx="121.9" cy="1400.4" r="12"/><circle cx="160.7" cy="1398.9" r="12"/><circle cx="329.5" cy="1401.7" r="12"/><circle cx="404.7" cy="1396.8" r="12"/><circle cx="443.9" cy="1397.5" r="12"/><circle cx="570.4" cy="1401.2" r="12"/><circle cx="615.9" cy="1399.6" r="12"/><circle cx="656.7" cy="1396.1" r="12"/><circle cx="202.2" cy="1400.5" r="12"/><circle cx="286.6" cy="1400.3" r="12"/><circle cx="366.1" cy="1398.6" r="12"/><circle cx="529.1" cy="1398.2" r="12"/><circle cx="575.3" cy="1400.8" r="12"/><circle cx="654.5" cy="1399.8" r="12"/><circle cx="412.1" cy="1100.6" r="12"/><circle cx="75.8" cy="1095.1" r="12"/><circle cx="197.8" cy="1099.3" r="12"/><circle cx="446.2" cy="1094.4" r="12"/><circle cx="451.8" cy="1099.1" r="12"/><circle cx="655.5" cy="1099" r="12"/><circle cx="359.1" cy="1543.8" r="12"/><circle cx="450.9" cy="1541.5" r="12"/><circle cx="359.4" cy="1536.4" r="12"/><circle cx="441.6" cy="1539" r="12"/><circle cx="484.6" cy="1537.3" r="12"/><circle cx="492.3" cy="1536.6" r="12"/></g><g fill="url(#gCb)"><circle cx="356.9" cy="1061.2" r="12"/><circle cx="390.6" cy="975.9" r="12"/><circle cx="391.1" cy="1060.7" r="12"/><circle cx="429.3" cy="976.3" r="12"/><circle cx="474.3" cy="978" r="12"/><circle cx="476.4" cy="1061.9" r="12"/><circle cx="511.2" cy="976.1" r="12"/><circle cx="545.3" cy="1061.1" r="12"/><circle cx="579.4" cy="976.4" r="12"/><circle cx="579.1" cy="1061.2" r="12"/><circle cx="121.1" cy="1123.7" r="12"/><circle cx="119.4" cy="1213.5" r="12"/><circle cx="153.6" cy="1212" r="12"/><circle cx="189.8" cy="1123.8" r="12"/><circle cx="234.3" cy="1123.3" r="12"/><circle cx="234" cy="1211.9" r="12"/><circle cx="283.7" cy="1210.7" r="12"/><circle cx="323.2" cy="1124.5" r="12"/><circle cx="323.7" cy="1211.4" r="12"/><circle cx="382.6" cy="1121.6" r="12"/><circle cx="445.1" cy="1123.8" r="12"/><circle cx="445.3" cy="1211.3" r="12"/><circle cx="490.8" cy="1212.2" r="12"/><circle cx="556.2" cy="1124.1" r="12"/><circle cx="554.6" cy="1211.8" r="12"/><circle cx="605.8" cy="1124.4" r="12"/><circle cx="653.3" cy="1123" r="12"/><circle cx="654.4" cy="1211.3" r="12"/><circle cx="689" cy="1213.4" r="12"/><circle cx="728.4" cy="1123.3" r="12"/><circle cx="728.8" cy="1210.7" r="12"/><circle cx="773.7" cy="1124.1" r="12"/><circle cx="796.4" cy="1123.4" r="12"/><circle cx="796.2" cy="1210.7" r="12"/><circle cx="79" cy="1274.4" r="12"/><circle cx="81.9" cy="1366.9" r="12"/><circle cx="158.6" cy="1366.6" r="12"/><circle cx="200" cy="1273.8" r="12"/><circle cx="244.7" cy="1275.3" r="12"/><circle cx="244.6" cy="1366.5" r="12"/><circle cx="322.8" cy="1273.9" r="12"/><circle cx="391.3" cy="1274.9" r="12"/><circle cx="393.4" cy="1365.7" r="12"/><circle cx="436.1" cy="1365" r="12"/><circle cx="480.1" cy="1273.4" r="12"/><circle cx="481.4" cy="1367" r="12"/><circle cx="550.2" cy="1274.8" r="12"/><circle cx="605.9" cy="1275.2" r="12"/><circle cx="605.4" cy="1365.8" r="12"/><circle cx="660" cy="1367.2" r="12"/><circle cx="728" cy="1275.7" r="12"/><circle cx="729" cy="1364.8" r="12"/><circle cx="786.6" cy="1275.5" r="12"/><circle cx="124.1" cy="1419.5" r="12"/><circle cx="124.3" cy="1508.5" r="12"/><circle cx="153.5" cy="1510.5" r="12"/><circle cx="194.1" cy="1420.5" r="12"/><circle cx="233.8" cy="1420.3" r="12"/><circle cx="233.8" cy="1507.8" r="12"/><circle cx="284.1" cy="1508.3" r="12"/><circle cx="323.5" cy="1420.4" r="12"/><circle cx="322.3" cy="1509.3" r="12"/><circle cx="363.2" cy="1419" r="12"/><circle cx="407.7" cy="1420.3" r="12"/><circle cx="407" cy="1510" r="12"/><circle cx="471.2" cy="1509.3" r="12"/><circle cx="560" cy="1420.3" r="12"/><circle cx="560.1" cy="1510.6" r="12"/><circle cx="605.8" cy="1421.6" r="12"/><circle cx="655.2" cy="1419.1" r="12"/><circle cx="653" cy="1509.1" r="12"/><circle cx="694.2" cy="1510.1" r="12"/><circle cx="732.2" cy="1420.9" r="12"/><circle cx="733.7" cy="1508.2" r="12"/><circle cx="789.1" cy="1419.4" r="12"/><circle cx="367.3" cy="1634.9" r="12"/><circle cx="399.7" cy="1557.8" r="12"/><circle cx="399" cy="1634.8" r="12"/><circle cx="436.1" cy="1557.1" r="12"/><circle cx="476" cy="1556" r="12"/><circle cx="476.2" cy="1635" r="12"/><circle cx="509.6" cy="1556.8" r="12"/><circle cx="546" cy="1634.8" r="12"/><circle cx="580.1" cy="1557.2" r="12"/><circle cx="580.9" cy="1634.9" r="12"/><circle cx="152.1" cy="1249.6" r="12"/><circle cx="159.5" cy="1249.5" r="12"/><circle cx="233.3" cy="1250.5" r="12"/><circle cx="322.1" cy="1247.8" r="12"/><circle cx="325.7" cy="1255.2" r="12"/><circle cx="447.8" cy="1249.3" r="12"/><circle cx="451.5" cy="1249.8" r="12"/><circle cx="490.8" cy="1254.5" r="12"/><circle cx="568.1" cy="1250.6" r="12"/><circle cx="576.9" cy="1248" r="12"/><circle cx="655.9" cy="1252.8" r="12"/><circle cx="734.6" cy="1250" r="12"/><circle cx="739.1" cy="1248.8" r="12"/><circle cx="115.3" cy="1245" r="12"/><circle cx="118.4" cy="1252.1" r="12"/><circle cx="192.6" cy="1247.1" r="12"/><circle cx="402" cy="1249.4" r="12"/><circle cx="608.3" cy="1245.5" r="12"/><circle cx="692" cy="1250.3" r="12"/><circle cx="731.5" cy="1247.9" r="12"/><circle cx="782.6" cy="1248.5" r="12"/><circle cx="109.4" cy="1402.4" r="12"/><circle cx="198.2" cy="1400.7" r="12"/><circle cx="242.3" cy="1400.4" r="12"/><circle cx="283.9" cy="1403" r="12"/><circle cx="453.2" cy="1399.4" r="12"/><circle cx="526.8" cy="1401.9" r="12"/><circle cx="574.6" cy="1398.5" r="12"/><circle cx="701.9" cy="1403.4" r="12"/><circle cx="777.9" cy="1402.6" r="12"/><circle cx="784.8" cy="1397" r="12"/><circle cx="108.7" cy="1401.3" r="12"/><circle cx="157.1" cy="1398.2" r="12"/><circle cx="156.2" cy="1400.3" r="12"/><circle cx="242.4" cy="1400.2" r="12"/><circle cx="324.7" cy="1401.4" r="12"/><circle cx="411.6" cy="1395.5" r="12"/><circle cx="451.9" cy="1401.7" r="12"/><circle cx="571.7" cy="1397.8" r="12"/><circle cx="651.2" cy="1397.3" r="12"/><circle cx="701.4" cy="1399" r="12"/><circle cx="739.9" cy="1396" r="12"/><circle cx="816.5" cy="1398" r="12"/><circle cx="358.4" cy="1103.5" r="12"/><circle cx="399.3" cy="1098.2" r="12"/><circle cx="451.7" cy="1099.4" r="12"/><circle cx="493.2" cy="1098.7" r="12"/><circle cx="565.4" cy="1096" r="12"/><circle cx="577.2" cy="1099.1" r="12"/><circle cx="119.4" cy="1102.1" r="12"/><circle cx="193.1" cy="1100.1" r="12"/><circle cx="238.8" cy="1094.4" r="12"/><circle cx="286.9" cy="1099.1" r="12"/><circle cx="328.1" cy="1097.2" r="12"/><circle cx="405.2" cy="1098.8" r="12"/><circle cx="524.8" cy="1101.6" r="12"/><circle cx="536.2" cy="1100.7" r="12"/><circle cx="608.2" cy="1100.2" r="12"/><circle cx="691.6" cy="1098.9" r="12"/><circle cx="697.2" cy="1095.7" r="12"/><circle cx="744.5" cy="1098.2" r="12"/><circle cx="817.1" cy="1098.4" r="12"/><circle cx="363.6" cy="1538" r="12"/><circle cx="447.2" cy="1543.5" r="12"/><circle cx="489.8" cy="1542.2" r="12"/><circle cx="529.9" cy="1542.7" r="12"/><circle cx="571.1" cy="1538" r="12"/><circle cx="370.6" cy="1541.8" r="12"/><circle cx="567.5" cy="1541.8" r="12"/><circle cx="571.5" cy="1542.5" r="12"/></g>
<rect x="59.5" y="1146" width="826.5" height="54.5" rx="27.2" ry="27.2" fill="url(#cH)" transform="rotate(-0.52 472 1173)"/>
<rect x="64.5" y="1424" width="822.5" height="54.5" rx="27.2" ry="27.2" fill="url(#cH)" />
<path d="M201.5 1032A27.5 27.5 0 0 1 256.5 1032L267.5 1612A30 30 0 0 1 207.5 1612Z" fill="url(#cV)"/>
<path d="M605.5 1026A29 29 0 0 1 663.5 1026L667 1612A29.5 29.5 0 0 1 608 1612Z" fill="url(#cV)"/>
<path d="M404 1200L404 1512L493 1512L493 1185Q493 1150 460 1148L404 1148Z" fill="url(#cVf)"/>
<rect x="362" y="1148" width="108" height="59" rx="29.5" ry="29.5" fill="url(#cH)" />
<g transform="rotate(-27 397 1486)"><rect x="367" y="1456" width="123" height="60" rx="30" ry="30" fill="url(#cH)" /></g>
<rect x="152" y="1303" width="86" height="56" rx="28" ry="28" fill="url(#cH)" />
<rect x="579" y="1299" width="71" height="62" rx="31" ry="31" fill="url(#cH)" />
<circle cx="391" cy="1178" r="29.5" fill="url(#gCy)"/>
<circle cx="397" cy="1486" r="30" fill="url(#gCy)"/>
<circle cx="180" cy="1331" r="28" fill="url(#gCy)"/>
<circle cx="610" cy="1330" r="31" fill="url(#gCy)"/>
<path d="M340.4 983.4L341.2 1004.8M371.9 1048L371.8 1069.7M404.4 983.9L404.5 1004.8M404.3 1046.7L403.8 1067.6M446.6 982.4L447.1 1003.9M447.1 1046.9L446.6 1068.4M492.6 1047.1L493.4 1068.8M519 982.6L519.7 1003.9M519.7 1046.4L519 1067.6M561.5 982.3L563 1004.1M584.3 1047L583.3 1068M340.4 983.4L348 982M396.1 982.2L404.4 983.9M404.4 983.9L414.9 982M436 981.3L446.6 982.4M446.6 982.4L457.8 981.5M512.1 981L519 982.6M519 982.6L529.6 982M550.9 981.8L561.5 982.3M561.5 982.3L567 981.7M365.4 1070.1L371.8 1069.7M371.8 1069.7L379.9 1070.5M395.9 1069.4L403.8 1067.6M403.8 1067.6L414.5 1068.4M435.9 1068.8L446.6 1068.4M446.6 1068.4L458.3 1069M481.7 1069.2L493.4 1068.8M493.4 1068.8L499.9 1069.6M512.7 1069L519 1067.6M519 1067.6L531.2 1069.1M579.7 1070.1L583.3 1068M99.3 1130.2L99.9 1152.5M131.9 1195.3L132.8 1217.4M162.9 1196.7L162.1 1219.6M202.5 1196.5L202 1218.5M248.6 1130.3L249.7 1152.5M253.4 1196.7L256 1218.7M300.1 1130L300.5 1151.8M333.7 1128.2L333.8 1150.8M355.9 1195.2L356.4 1217M421.4 1129.4L422.2 1151.8M421.8 1196.6L420.8 1218.9M465.9 1128.7L465 1150.9M464 1195.5L463.9 1217.7M503.9 1130.1L504.7 1152.2M529.8 1196.6L530.3 1218.8M571.1 1196.5L570.8 1219.2M623.7 1128L623 1150.4M622.2 1195.3L622.2 1217.8M668.6 1130L668.3 1152.1M667.7 1196.4L667.4 1218.5M709.3 1195.5L716.1 1217.5M748.4 1128L747.1 1150.8M786.5 1128.7L786.9 1151.5M804.8 1196.9L804.1 1219.8M99.3 1130.2L107.2 1127.7M237.4 1128.4L248.6 1130.3M248.6 1130.3L261.5 1129.3M287.2 1129.1L300.1 1130M300.1 1130L308.4 1127.3M325.2 1126.4L333.7 1128.2M333.7 1128.2L339.6 1127.2M421.4 1129.4L432.6 1128.7M454.8 1128.3L465.9 1128.7M465.9 1128.7L475.4 1128.5M494.4 1129.3L503.9 1130.1M503.9 1130.1L510.3 1128.6M610.3 1127L623.7 1128M623.7 1128L634.9 1127.7M657.4 1128.7L668.6 1130M668.6 1130L674.5 1128.4M734.5 1126.9L748.4 1128M748.4 1128L758 1126M777 1126.4L786.5 1128.7M786.5 1128.7L790.9 1128.1M125.9 1219.8L132.8 1217.4M132.8 1217.4L140 1220.1M154.6 1221.2L162.1 1219.6M162.1 1219.6L172.1 1220.1M192 1219.5L202 1218.5M202 1218.5L215.5 1220.9M242.5 1221L256 1218.7M256 1218.7L266.8 1220.2M351.2 1218.4L356.4 1217M420.8 1218.9L431.6 1219.9M453.2 1219.3L463.9 1217.7M463.9 1217.7L474.5 1219.2M524.2 1221.2L530.3 1218.8M530.3 1218.8L540.4 1220.6M560.7 1220.8L570.8 1219.2M570.8 1219.2L583.7 1220M609.4 1219.3L622.2 1217.8M622.2 1217.8L633.4 1219.3M656 1219.7L667.4 1218.5M667.4 1218.5L679.6 1219.3M704 1218.8L716.1 1217.5M716.1 1217.5L723.8 1218.6M799.5 1222L804.1 1219.8M46.7 1281.6L46.6 1303.9M46.6 1348.7L46.6 1371.1M104.4 1349.7L105.6 1372.9M129.3 1281.5L129.1 1304.1M174.5 1281L169.6 1303.8M160.3 1349.6L156 1372.5M285.6 1347.7L286 1370.6M346 1279.7L346.8 1303M366.8 1279.7L367.4 1302.6M409.8 1279.4L410.9 1302.5M412 1348.6L412 1371.8M456.5 1281.8L456.8 1304M456.1 1348.5L455.2 1370.7M494.1 1348.2L493.7 1371M520.4 1349L520.4 1371.5M571.6 1279.9L571.9 1302.5M624.9 1279.1L623.8 1302.4M623.1 1348.9L623.5 1372.1M701.9 1348.5L704.3 1371.5M743.5 1281.3L744.4 1303.6M762.6 1281.5L763.4 1304.1M763 1349.4L761.9 1372M806.1 1281.5L805.5 1304.4M806.2 1350L807.4 1372.8M46.7 1281.6L60.7 1278.8M122.9 1279.2L129.3 1281.5M129.3 1281.5L140.6 1279.6M163.2 1279.3L174.5 1281M346 1279.7L351.2 1277.6M361.6 1277.6L366.8 1279.7M366.8 1279.7L377.5 1278.2M399 1278L409.8 1279.4M409.8 1279.4L421.6 1278.4M444.9 1279.6L456.5 1281.8M456.5 1281.8L465.8 1280.7M558.6 1279.3L571.6 1279.9M571.6 1279.9L584.9 1277.4M611.5 1277L624.9 1279.1M731.3 1279.1L743.5 1281.3M743.5 1281.3L748.3 1280.2M757.8 1280.3L762.6 1281.5M762.6 1281.5L773.5 1280.7M795.2 1280.8L806.1 1281.5M806.1 1281.5L810.2 1279.9M46.6 1371.1L61.3 1373.3M90.7 1374.2L105.6 1372.9M105.6 1372.9L111.8 1374.6M149.5 1373.1L156 1372.5M400.6 1373.2L412 1371.8M412 1371.8L422.9 1373.1M444.4 1372.6L455.2 1370.7M455.2 1370.7L464.8 1372M484 1372.2L493.7 1371M493.7 1371L500.3 1372.1M513.7 1372.3L520.4 1371.5M520.4 1371.5L533.1 1372.9M610.4 1372.2L623.5 1372.1M704.3 1371.5L714.1 1372.3M757.1 1373L761.9 1372M761.9 1372L773.2 1374.6M796 1375L807.4 1372.8M807.4 1372.8L811.4 1374.4M107.8 1426.1L106.4 1448.2M130.1 1492.8L130 1515.2M164.4 1493.7L164 1516.5M206.6 1425.7L207.5 1448.2M208.1 1493.2L207.8 1515.7M253.4 1426.9L252.3 1448.7M251.8 1492.4L252.6 1514.3M299 1427.1L298.4 1448.9M333.5 1427.5L334.2 1449.2M377.4 1492.3L377.5 1514.1M419.8 1427.6L420.7 1449.2M420.6 1492.3L419.6 1513.8M506.9 1427.4L508.8 1449.6M533.3 1425.6L532.2 1448.3M531.1 1493.8L531 1516.5M573.7 1492.8L573.7 1514.8M622.5 1424.7L621.7 1447.2M621.8 1492.2L622.8 1514.7M666.9 1427.6L666.3 1449.4M666.4 1493L667.1 1514.8M708.5 1426L704.5 1448.3M748.4 1425.2L748.9 1448M768.4 1492.1L767.7 1513.8M800.2 1427.4L799.5 1449.6M799.8 1493.8L800.8 1515.9M107.8 1426.1L113.8 1424.8M195.8 1423.2L206.6 1425.7M206.6 1425.7L218.4 1424.2M241.8 1424.8L253.4 1426.9M253.4 1426.9L264.8 1425.9M287.6 1426L299 1427.1M299 1427.1L307.6 1425.3M324.9 1425.5L333.5 1427.5M333.5 1427.5L344.1 1426.2M408.9 1426.3L419.8 1427.6M506.9 1427.4L513.5 1426.4M526.7 1425.6L533.3 1425.6M533.3 1425.6L543.2 1423.9M609.9 1422.8L622.5 1424.7M622.5 1424.7L633.7 1423.6M655.9 1425.1L666.9 1427.6M666.9 1427.6L677.2 1424.8M698 1424L708.5 1426M708.5 1426L718.5 1425.2M738.4 1424.9L748.4 1425.2M748.4 1425.2L753 1424.7M791.8 1425.9L800.2 1427.4M123.9 1517.4L130 1515.2M130 1515.2L138.4 1517.9M155.4 1518.5L164 1516.5M164 1516.5L175 1517.5M196.9 1517.2L207.8 1515.7M207.8 1515.7L219 1516.4M241.4 1515.7L252.6 1514.3M252.6 1514.3L264.1 1515.7M366.7 1516.5L377.5 1514.1M377.5 1514.1L388.1 1514.9M409.1 1514.8L419.6 1513.8M527.7 1518.4L531 1516.5M531 1516.5L541.8 1518M563.1 1517.2L573.7 1514.8M573.7 1514.8L585.9 1516.9M610.5 1516.9L622.8 1514.7M622.8 1514.7L633.9 1516.8M656 1516.8L667.1 1514.8M667.1 1514.8L673.1 1516.6M762.6 1515.6L767.7 1513.8M767.7 1513.8L775.9 1515.6M792.4 1516.6L800.8 1515.9M352.3 1561.8L352.4 1581.7M375 1620.5L376.3 1640.2M412 1563.9L412.3 1582.9M411.4 1620.8L410.1 1639.8M450.4 1562.8L450.5 1582.2M450.4 1621.1L450.2 1640.5M492.7 1622.4L493.2 1642.3M518.5 1563.4L518.9 1582.8M519.1 1621.8L519 1641.3M564.8 1561.9L567 1581.3M587.8 1620.8L588.3 1640M352.3 1561.8L357.9 1560.2M402.8 1562.3L412 1563.9M412 1563.9L421.5 1561.5M440.7 1561L450.4 1562.8M450.4 1562.8L461 1561M512.1 1560.7L518.5 1563.4M518.5 1563.4L530 1562.3M553.2 1561.5L564.8 1561.9M564.8 1561.9L571.2 1560.8M370 1642.6L376.3 1640.2M376.3 1640.2L384.8 1642.3M401.7 1642.1L410.1 1639.8M410.1 1639.8L420.1 1642.3M440.2 1642.6L450.2 1640.5M450.2 1640.5L460.9 1641.5M482.4 1642.4L493.2 1642.3M493.2 1642.3L499.7 1643.1M512.6 1642.7L519 1641.3M519 1641.3L532 1641.7M583.9 1640.9L588.3 1640M100.7 1075.3L99.9 1088.1M99.8 1113.7L100.5 1126.6M148.5 1074.3L149.6 1087.8M181 1113.8L180 1126.6M193.8 1114.1L193.5 1127.4M100.7 1075.3L112.6 1074.5M136.6 1074L148.5 1074.3M148.5 1074.3L156.7 1073.4M100.5 1126.6L112.7 1127.9M172.4 1128.1L180 1126.6M180 1126.6L183.3 1127.7M190.1 1128.1L193.5 1127.4M736.7 1110L735.9 1123.3M772 1070.5L771.3 1083.7M770.6 1110.2L770.6 1123.5M801.2 1069.4L801.5 1083.5M820.2 1111.6L821 1125.6M763.5 1069.2L772 1070.5M772 1070.5L779.3 1069.3M793.9 1068.8L801.2 1069.4M801.2 1069.4L806.3 1067.5M735.9 1123.3L744.6 1124.2M761.9 1124.3L770.6 1123.5M770.6 1123.5L778.2 1124.6M816 1127.9L821 1125.6M147.7 1513.7L147.2 1523.5M147.7 1543L148.8 1552.7M177.1 1515.5L178.1 1524.7M178.5 1543.1L178 1552.3M736.6 1515.2L737.1 1524.2M738 1542.1L738.5 1551.1M770.5 1542.5L770.9 1551.2M802.9 1515.1L802.5 1524.8M801.1 1544L800.2 1553.6M822.5 1515.5L821.9 1524.5M821.8 1542.3L822.3 1551.3M137.9 1513.4L147.7 1513.7M147.7 1513.7L155.1 1512.9M169.9 1513.8L177.1 1515.5M736.6 1515.2L745.7 1513.4M795.3 1513.3L802.9 1515.1M802.9 1515.1L807.9 1514.4M817.6 1514.6L822.5 1515.5M138.9 1553.8L148.8 1552.7M148.8 1552.7L156.2 1553.9M170.7 1553.7L178 1552.3M738.5 1551.1L746.6 1552.7M762.8 1552.7L770.9 1551.2M770.9 1551.2L778.1 1553M792.8 1554.2L800.2 1553.6M800.2 1553.6L805.8 1553.7M816.8 1552.6L822.3 1551.3M91.6 1218.4L89.6 1227.9M178.1 1218.4L172.5 1225.7M163.2 1241.2L159.5 1249.5M218.3 1218.4L222.6 1226.2M230 1242.2L233.3 1250.5M261.3 1218.4L254.9 1226.6M302.9 1218.4L309.2 1224.8M318.7 1239.5L322.1 1247.8M443.3 1241L447.8 1249.3M495.5 1245.4L490.8 1254.5M746.1 1242.2L739.1 1248.8M258.9 1280.3L263.7 1272.5M341.1 1280.3L338.7 1271M383.3 1280.3L387.5 1272.3M396.9 1256.9L402 1249.4M508.8 1280.3L502.3 1272.3M602.2 1253.4L608.3 1245.5M727.9 1255.9L731.5 1247.9M221.6 1371.8L215.1 1378.5M203.4 1393L198.2 1400.7M465.3 1371.8L463.3 1379.1M457.2 1393L453.2 1399.4M553.3 1371.8L556.3 1379.9M91.7 1426.2L96.4 1420.2M104.9 1407.8L108.7 1401.3M137.3 1426.2L141.3 1418.5M151.2 1404.5L157.1 1398.2M179.9 1426.2L173.1 1420.5M161.2 1407.6L156.2 1400.3M262.1 1426.2L256.3 1420.3M246.5 1407.4L242.4 1400.2M427.1 1426.2L423.1 1418.6M415.3 1403.2L411.6 1395.5M468.8 1426.2L463.2 1421M454.8 1408.8L451.9 1401.7M714.7 1426.2L710.8 1419.6M704.1 1406L701.4 1399M800.5 1426.2L806.2 1420.1M814.2 1406L816.5 1398M356.6 1093.9L358.4 1103.5M512.2 1067.6L506.3 1074.7M496.8 1090.3L493.2 1098.7M549.4 1067.6L553.2 1074.8M561.2 1089L565.4 1096M245 1102.8L238.8 1094.4M304.7 1129.4L299.6 1122.2M290.7 1107.1L286.9 1099.1M332 1105L328.1 1097.2M467.4 1129.4L465 1121.1M508.3 1129.4L513.4 1123M521.6 1109.1L524.8 1101.6M549.9 1129.4L547.2 1121.9M540.3 1107.6L536.2 1100.7M677.5 1129.4L682.5 1122.5M689.5 1107.2L691.6 1098.9M426.6 1515.2L430.5 1523.1M440.8 1537.3L447.2 1543.5M509 1515.2L505.2 1522.7M495.7 1536.2L489.8 1542.2M535.1 1535.3L529.9 1542.7M575.5 1531.6L571.1 1538M384.9 1562.2L380.2 1557.9M373 1547.7L370.6 1541.8M428.9 1562.2L430.7 1555.6" stroke="#8ab0ea" stroke-width="3.6" fill="none"/><path d="M344.2 1047.4L346.3 1068.7M370.9 982.9L371.5 1004.6M491.4 982.3L491.6 1003.9M566.3 1047.8L568 1069.6M583.1 984.1L584.2 1005.1M363.3 981.8L370.9 982.9M370.9 982.9L379.3 981.7M480.2 981.4L491.4 982.3M491.4 982.3L498.3 980.8M577.8 982.6L583.1 984.1M346.3 1068.7L352.7 1069.6M555.7 1070.1L568 1069.6M568 1069.6L572 1070.9M102.6 1196.9L104.7 1219.1M131.1 1128.9L131.1 1151M166.4 1128.1L165.1 1150.9M203.8 1130.4L203.3 1152.4M299.8 1195.3L298.7 1217M334.5 1196L335.2 1218.6M356.8 1130L356.1 1151.7M505.9 1196.4L506.2 1218.4M529.4 1130L529.4 1152.2M570.3 1128.4L570.8 1151.1M692.6 1128.3L697.6 1150.8M746.4 1196.5L747 1219.4M786.6 1197L785.8 1219.8M804.2 1128.4L804.9 1151.2M123 1127.1L131.1 1128.9M131.1 1128.9L139.9 1127.2M157.6 1126.8L166.4 1128.1M166.4 1128.1L175.9 1126.4M194.6 1127.5L203.8 1130.4M203.8 1130.4L215 1128.5M351.1 1128.1L356.8 1130M523 1128.5L529.4 1130M529.4 1130L539.6 1128.2M560 1127.4L570.3 1128.4M570.3 1128.4L583.6 1127.2M686.5 1127.5L692.6 1128.3M692.6 1128.3L706.6 1127.1M799.8 1127.9L804.2 1128.4M104.7 1219.1L111.8 1220.7M288.1 1219.4L298.7 1217M298.7 1217L307.7 1219.7M326 1220.5L335.2 1218.6M335.2 1218.6L340.6 1219.3M495.6 1219.5L506.2 1218.4M506.2 1218.4L512.2 1221M739.2 1219.5L747 1219.4M747 1219.4L756.7 1220.2M776.1 1220.4L785.8 1219.8M785.8 1219.8L790.4 1222M103.3 1279.9L103.2 1303.2M129.6 1349.3L130.2 1371.9M284.1 1278.9L284.6 1301.8M347.4 1349.8L347.2 1373.2M367.2 1348.5L366.5 1371.4M493.7 1279.8L494.1 1302.6M519.8 1281.4L520.1 1303.9M571.6 1347.8L571.1 1370.4M694.3 1279.6L696.9 1302.5M744.3 1348.1L743.3 1370.3M823 1279.1L822.6 1302.3M822.4 1348.6L822.7 1371.8M89 1277.9L103.3 1279.9M103.3 1279.9L109.9 1278.4M484.3 1279.7L493.7 1279.8M493.7 1279.8L500.3 1278.1M513.4 1279L519.8 1281.4M519.8 1281.4L532.7 1280.1M694.3 1279.6L706.7 1278.2M818.6 1278.7L823 1279.1M124.1 1374.1L130.2 1371.9M130.2 1371.9L136.6 1372.8M347.2 1373.2L352.1 1373.4M361.7 1372.5L366.5 1371.4M366.5 1371.4L377.9 1373.1M558.4 1372.4L571.1 1370.4M571.1 1370.4L584.1 1371.4M733.6 1371.7L743.3 1370.3M743.3 1370.3L747.8 1372.2M819 1373.9L822.7 1371.8M105.4 1492.3L105.9 1514.4M132 1425.6L131.1 1448M163.3 1425.4L164 1448.2M298.3 1492.5L298.7 1514.3M334.5 1492.6L334.1 1514.2M375.9 1426.7L376.6 1448.5M514.5 1493.9L518.3 1515.9M572.6 1426.7L573.2 1448.7M695.9 1492.9L691.4 1515.1M748.1 1493.6L746.7 1516.4M766.6 1427.1L767.8 1448.8M125.9 1424.5L132 1425.6M132 1425.6L139.8 1424.5M155.5 1424.4L163.3 1425.4M163.3 1425.4L174.1 1423.1M365.3 1425.7L375.9 1426.7M375.9 1426.7L386.9 1425.8M562.8 1424.4L572.6 1426.7M572.6 1426.7L585 1423.8M762.2 1425.7L766.6 1427.1M766.6 1427.1L775 1425.7M105.9 1514.4L111.8 1517M287.2 1515.7L298.7 1514.3M298.7 1514.3L307.6 1515.8M325.3 1515.8L334.1 1514.2M334.1 1514.2L345 1516.6M518.3 1515.9L521.4 1518.1M685.3 1516.7L691.4 1515.1M691.4 1515.1L705.2 1516.6M732.8 1517.2L746.7 1516.4M746.7 1516.4L752.1 1516.9M351.5 1621.3L350.6 1641.1M374.9 1561.4L374.3 1581.1M492.8 1562.7L492.5 1582.6M570 1620.4L570.8 1639.9M590 1563.3L588.6 1582.5M369.2 1560L374.9 1561.4M374.9 1561.4L384.2 1561M482.2 1560.9L492.8 1562.7M492.8 1562.7L499.3 1560.4M583.8 1561.5L590 1563.3M350.6 1641.1L357.1 1643M557.9 1641L570.8 1639.9M570.8 1639.9L575.2 1640.8M150.1 1114.8L149.5 1128.3M181.1 1075.4L181.6 1088.2M192.3 1074.3L193.2 1087.6M173 1074L181.1 1075.4M181.1 1075.4L183.7 1073.3M189.3 1072.7L192.3 1074.3M137.2 1128.7L149.5 1128.3M149.5 1128.3L157.2 1129M738.1 1070.2L737.8 1083.5M801.4 1111.7L800.9 1125.8M821.5 1069.7L820.4 1083.6M738.1 1070.2L746.6 1069.1M816.5 1067.6L821.5 1069.7M793.3 1125.8L800.9 1125.8M800.9 1125.8L806 1128.1M108.9 1516.1L109 1525.5M108.9 1544.1L108.8 1553.4M772.8 1516.6L771.4 1525.2M108.9 1516.1L118.5 1514.6M763.8 1514.1L772.8 1516.6M772.8 1516.6L780.2 1514.1M108.8 1553.4L118.9 1554.2M82.3 1245.5L77 1253.6M243.9 1244.1L239.4 1253.4M387.1 1218.4L382.9 1226.6M373.5 1242.2L368.2 1249.6M426.7 1218.4L432.7 1225.6M510.5 1218.4L505.4 1227.4M635.7 1218.4L641 1225.8M650.2 1241.2L654.1 1249.4M761.6 1218.4L757.3 1227M802.4 1218.4L806.2 1226.6M816 1241.4L822 1248.1M218.2 1280.3L212.4 1274.1M203.6 1259.9L200.6 1251.9M271.6 1256L274.6 1247.3M302.8 1280.3L308.8 1273.6M318.1 1258.5L321.2 1250.1M331.1 1253.9L325.8 1246M426.5 1280.3L429.3 1270.5M438.4 1252.7L444.7 1244.7M492.4 1254.6L489.1 1244.9M548.7 1280.3L546.2 1271.6M539 1255.2L534.2 1247.5M590.5 1280.3L593.3 1270.7M718.1 1280.3L721.3 1272.1M564.8 1394.6L570.4 1401.2M678.2 1371.8L671.9 1377M661.1 1389.1L656.7 1396.1M301.9 1426.2L297.6 1420M290 1407.1L286.6 1400.3M592.8 1426.2L586.8 1421M578.1 1408.3L575.3 1400.8M673 1426.2L670 1418.4M660.8 1405.3L654.5 1399.8M344.8 1067.6L349.8 1076M428.4 1067.6L423.9 1075.7M415.7 1092.2L412.1 1100.6M261.8 1129.4L256.5 1120.3M341.4 1129.4L338.6 1121.1M428.8 1129.4L431.9 1120.1M440.6 1102.6L446.2 1094.4M457.1 1105.9L451.8 1099.1M466.7 1515.2L461.2 1520.8M453.3 1534L450.9 1541.5M553.3 1515.2L546.8 1521.5M591.7 1515.2L585.8 1520.2M437 1544L441.6 1539" stroke="#ece0f8" stroke-width="3.6" fill="none"/><path d="M341.2 1004.8L342 1026.1M342 1026.1L344.2 1047.4M371.5 1004.6L372 1026.3M372 1026.3L371.9 1048M404.5 1004.8L404.7 1025.7M404.7 1025.7L404.3 1046.7M447.1 1003.9L447.6 1025.4M447.6 1025.4L447.1 1046.9M491.6 1003.9L491.7 1025.5M491.7 1025.5L492.6 1047.1M519.7 1003.9L520.3 1025.1M520.3 1025.1L519.7 1046.4M563 1004.1L564.5 1025.9M564.5 1025.9L566.3 1047.8M584.2 1005.1L585.2 1026M585.2 1026L584.3 1047M348 982L355.6 980.6M355.6 980.6L363.3 981.8M379.3 981.7L387.7 980.5M387.7 980.5L396.1 982.2M414.9 982L425.4 980.1M425.4 980.1L436 981.3M457.8 981.5L469 980.5M469 980.5L480.2 981.4M498.3 980.8L505.2 979.4M505.2 979.4L512.1 981M529.6 982L540.2 981.4M540.2 981.4L550.9 981.8M567 981.7L572.5 981.1M572.5 981.1L577.8 982.6M352.7 1069.6L359 1070.6M359 1070.6L365.4 1070.1M379.9 1070.5L388 1071.3M388 1071.3L395.9 1069.4M414.5 1068.4L425.2 1069.2M425.2 1069.2L435.9 1068.8M458.3 1069L470 1069.6M470 1069.6L481.7 1069.2M499.9 1069.6L506.3 1070.4M506.3 1070.4L512.7 1069M531.2 1069.1L543.4 1070.5M543.4 1070.5L555.7 1070.1M572 1070.9L576 1072.1M576 1072.1L579.7 1070.1M99.9 1152.5L100.5 1174.7M100.5 1174.7L102.6 1196.9M131.1 1151L131 1173.2M131 1173.2L131.9 1195.3M165.1 1150.9L163.7 1173.8M163.7 1173.8L162.9 1196.7M203.3 1152.4L202.9 1174.4M202.9 1174.4L202.5 1196.5M249.7 1152.5L250.7 1174.7M250.7 1174.7L253.4 1196.7M300.5 1151.8L300.9 1173.5M300.9 1173.5L299.8 1195.3M333.8 1150.8L333.9 1173.4M333.9 1173.4L334.5 1196M356.1 1151.7L355.4 1173.5M355.4 1173.5L355.9 1195.2M422.2 1151.8L422.9 1174.2M422.9 1174.2L421.8 1196.6M465 1150.9L464 1173.2M464 1173.2L464 1195.5M504.7 1152.2L505.5 1174.3M505.5 1174.3L505.9 1196.4M529.4 1152.2L529.3 1174.4M529.3 1174.4L529.8 1196.6M570.8 1151.1L571.3 1173.8M571.3 1173.8L571.1 1196.5M623 1150.4L622.2 1172.8M622.2 1172.8L622.2 1195.3M668.3 1152.1L668.1 1174.2M668.1 1174.2L667.7 1196.4M697.6 1150.8L702.5 1173.4M702.5 1173.4L709.3 1195.5M747.1 1150.8L745.8 1173.7M745.8 1173.7L746.4 1196.5M786.9 1151.5L787.3 1174.3M787.3 1174.3L786.6 1197M804.9 1151.2L805.6 1174.1M805.6 1174.1L804.8 1196.9M107.2 1127.7L115 1125.3M115 1125.3L123 1127.1M139.9 1127.2L148.7 1125.4M148.7 1125.4L157.6 1126.8M175.9 1126.4L185.4 1124.7M185.4 1124.7L194.6 1127.5M215 1128.5L226.2 1126.5M226.2 1126.5L237.4 1128.4M261.5 1129.3L274.3 1128.2M274.3 1128.2L287.2 1129.1M308.4 1127.3L316.7 1124.5M316.7 1124.5L325.2 1126.4M339.6 1127.2L345.5 1126.2M345.5 1126.2L351.1 1128.1M432.6 1128.7L443.7 1128M443.7 1128L454.8 1128.3M475.4 1128.5L484.9 1128.4M484.9 1128.4L494.4 1129.3M510.3 1128.6L516.6 1127.1M516.6 1127.1L523 1128.5M539.6 1128.2L549.7 1126.4M549.7 1126.4L560 1127.4M583.6 1127.2L597 1126M597 1126L610.3 1127M634.9 1127.7L646.2 1127.4M646.2 1127.4L657.4 1128.7M674.5 1128.4L680.4 1126.7M680.4 1126.7L686.5 1127.5M706.6 1127.1L720.5 1125.9M720.5 1125.9L734.5 1126.9M758 1126L767.6 1124M767.6 1124L777 1126.4M790.9 1128.1L795.4 1127.5M795.4 1127.5L799.8 1127.9M111.8 1220.7L119 1222.2M119 1222.2L125.9 1219.8M140 1220.1L147.1 1222.9M147.1 1222.9L154.6 1221.2M172.1 1220.1L182.1 1220.6M182.1 1220.6L192 1219.5M215.5 1220.9L229 1223.3M229 1223.3L242.5 1221M266.8 1220.2L277.5 1221.7M277.5 1221.7L288.1 1219.4M307.7 1219.7L316.7 1222.4M316.7 1222.4L326 1220.5M340.6 1219.3L345.9 1219.9M345.9 1219.9L351.2 1218.4M431.6 1219.9L442.4 1220.8M442.4 1220.8L453.2 1219.3M474.5 1219.2L485 1220.7M485 1220.7L495.6 1219.5M512.2 1221L518.2 1223.6M518.2 1223.6L524.2 1221.2M540.4 1220.6L550.5 1222.3M550.5 1222.3L560.7 1220.8M583.7 1220L596.5 1220.9M596.5 1220.9L609.4 1219.3M633.4 1219.3L644.7 1220.8M644.7 1220.8L656 1219.7M679.6 1219.3L691.8 1220.1M691.8 1220.1L704 1218.8M723.8 1218.6L731.5 1219.7M731.5 1219.7L739.2 1219.5M756.7 1220.2L766.4 1221M766.4 1221L776.1 1220.4M790.4 1222L794.9 1224.1M794.9 1224.1L799.5 1222M46.6 1303.9L46.6 1326.3M46.6 1326.3L46.6 1348.7M103.2 1303.2L103.2 1326.4M103.2 1326.4L104.4 1349.7M129.1 1304.1L128.9 1326.7M128.9 1326.7L129.6 1349.3M169.6 1303.8L164.7 1326.6M164.7 1326.6L160.3 1349.6M284.6 1301.8L285.1 1324.8M285.1 1324.8L285.6 1347.7M346.8 1303L347.6 1326.4M347.6 1326.4L347.4 1349.8M367.4 1302.6L368 1325.6M368 1325.6L367.2 1348.5M410.9 1302.5L412 1325.5M412 1325.5L412 1348.6M456.8 1304L457.1 1326.2M457.1 1326.2L456.1 1348.5M494.1 1302.6L494.6 1325.4M494.6 1325.4L494.1 1348.2M520.1 1303.9L520.4 1326.5M520.4 1326.5L520.4 1349M571.9 1302.5L572.2 1325.2M572.2 1325.2L571.6 1347.8M623.8 1302.4L622.7 1325.6M622.7 1325.6L623.1 1348.9M696.9 1302.5L699.5 1325.5M699.5 1325.5L701.9 1348.5M744.4 1303.6L745.3 1325.8M745.3 1325.8L744.3 1348.1M763.4 1304.1L764.2 1326.8M764.2 1326.8L763 1349.4M805.5 1304.4L804.9 1327.2M804.9 1327.2L806.2 1350M822.6 1302.3L822.1 1325.5M822.1 1325.5L822.4 1348.6M60.7 1278.8L74.8 1276M74.8 1276L89 1277.9M109.9 1278.4L116.5 1276.8M116.5 1276.8L122.9 1279.2M140.6 1279.6L151.9 1277.6M151.9 1277.6L163.2 1279.3M351.2 1277.6L356.4 1275.6M356.4 1275.6L361.6 1277.6M377.5 1278.2L388.3 1276.7M388.3 1276.7L399 1278M421.6 1278.4L433.3 1277.4M433.3 1277.4L444.9 1279.6M465.8 1280.7L475 1279.6M475 1279.6L484.3 1279.7M500.3 1278.1L507 1276.5M507 1276.5L513.4 1279M532.7 1280.1L545.7 1278.7M545.7 1278.7L558.6 1279.3M584.9 1277.4L598.2 1274.8M598.2 1274.8L611.5 1277M706.7 1278.2L719.1 1276.9M719.1 1276.9L731.3 1279.1M748.3 1280.2L753.1 1279.2M753.1 1279.2L757.8 1280.3M773.5 1280.7L784.4 1280M784.4 1280L795.2 1280.8M810.2 1279.9L814.3 1278.3M814.3 1278.3L818.6 1278.7M61.3 1373.3L75.9 1375.5M75.9 1375.5L90.7 1374.2M111.8 1374.6L118 1376.2M118 1376.2L124.1 1374.1M136.6 1372.8L143.1 1373.7M143.1 1373.7L149.5 1373.1M352.1 1373.4L357 1373.6M357 1373.6L361.7 1372.5M377.9 1373.1L389.2 1374.7M389.2 1374.7L400.6 1373.2M422.9 1373.1L433.7 1374.5M433.7 1374.5L444.4 1372.6M464.8 1372L474.4 1373.4M474.4 1373.4L484 1372.2M500.3 1372.1L507 1373.1M507 1373.1L513.7 1372.3M533.1 1372.9L545.8 1374.4M545.8 1374.4L558.4 1372.4M584.1 1371.4L597.2 1372.3M597.2 1372.3L610.4 1372.2M714.1 1372.3L723.9 1373.1M723.9 1373.1L733.6 1371.7M747.8 1372.2L752.3 1374M752.3 1374L757.1 1373M773.2 1374.6L784.6 1377.3M784.6 1377.3L796 1375M811.4 1374.4L815.3 1375.9M815.3 1375.9L819 1373.9M106.4 1448.2L105 1470.2M105 1470.2L105.4 1492.3M131.1 1448L130.3 1470.4M130.3 1470.4L130.1 1492.8M164 1448.2L164.8 1470.9M164.8 1470.9L164.4 1493.7M207.5 1448.2L208.4 1470.7M208.4 1470.7L208.1 1493.2M252.3 1448.7L251.1 1470.6M251.1 1470.6L251.8 1492.4M298.4 1448.9L297.8 1470.7M297.8 1470.7L298.3 1492.5M334.2 1449.2L334.9 1470.9M334.9 1470.9L334.5 1492.6M376.6 1448.5L377.2 1470.4M377.2 1470.4L377.4 1492.3M420.7 1449.2L421.5 1470.7M421.5 1470.7L420.6 1492.3M508.8 1449.6L510.6 1471.9M510.6 1471.9L514.5 1493.9M532.2 1448.3L531.2 1471M531.2 1471L531.1 1493.8M573.2 1448.7L573.8 1470.7M573.8 1470.7L573.7 1492.8M621.7 1447.2L620.8 1469.7M620.8 1469.7L621.8 1492.2M666.3 1449.4L665.7 1471.2M665.7 1471.2L666.4 1493M704.5 1448.3L700.4 1470.6M700.4 1470.6L695.9 1492.9M748.9 1448L749.4 1470.8M749.4 1470.8L748.1 1493.6M767.8 1448.8L769 1470.4M769 1470.4L768.4 1492.1M799.5 1449.6L798.9 1471.7M798.9 1471.7L799.8 1493.8M113.8 1424.8L119.9 1423.5M119.9 1423.5L125.9 1424.5M139.8 1424.5L147.6 1423.4M147.6 1423.4L155.5 1424.4M174.1 1423.1L185 1420.7M185 1420.7L195.8 1423.2M218.4 1424.2L230.1 1422.8M230.1 1422.8L241.8 1424.8M264.8 1425.9L276.2 1425M276.2 1425L287.6 1426M307.6 1425.3L316.3 1423.5M316.3 1423.5L324.9 1425.5M344.1 1426.2L354.7 1424.8M354.7 1424.8L365.3 1425.7M386.9 1425.8L397.9 1425M397.9 1425L408.9 1426.3M513.5 1426.4L520 1425.5M520 1425.5L526.7 1425.6M543.2 1423.9L553 1422.1M553 1422.1L562.8 1424.4M585 1423.8L597.4 1421M597.4 1421L609.9 1422.8M633.7 1423.6L644.9 1422.6M644.9 1422.6L655.9 1425.1M677.2 1424.8L687.5 1422M687.5 1422L698 1424M718.5 1425.2L728.4 1424.5M728.4 1424.5L738.4 1424.9M753 1424.7L757.7 1424.2M757.7 1424.2L762.2 1425.7M775 1425.7L783.4 1424.4M783.4 1424.4L791.8 1425.9M111.8 1517L117.8 1519.6M117.8 1519.6L123.9 1517.4M138.4 1517.9L146.8 1520.6M146.8 1520.6L155.4 1518.5M175 1517.5L186 1518.6M186 1518.6L196.9 1517.2M219 1516.4L230.2 1517M230.2 1517L241.4 1515.7M264.1 1515.7L275.6 1517M275.6 1517L287.2 1515.7M307.6 1515.8L316.4 1517.3M316.4 1517.3L325.3 1515.8M345 1516.6L355.9 1518.9M355.9 1518.9L366.7 1516.5M388.1 1514.9L398.6 1515.7M398.6 1515.7L409.1 1514.8M521.4 1518.1L524.5 1520.4M524.5 1520.4L527.7 1518.4M541.8 1518L552.5 1519.6M552.5 1519.6L563.1 1517.2M585.9 1516.9L598.2 1519.1M598.2 1519.1L610.5 1516.9M633.9 1516.8L645 1518.8M645 1518.8L656 1516.8M673.1 1516.6L679.2 1518.4M679.2 1518.4L685.3 1516.7M705.2 1516.6L719 1518M719 1518L732.8 1517.2M752.1 1516.9L757.5 1517.4M757.5 1517.4L762.6 1515.6M775.9 1515.6L784.1 1517.3M784.1 1517.3L792.4 1516.6M352.4 1581.7L352.4 1601.5M352.4 1601.5L351.5 1621.3M374.3 1581.1L373.7 1600.8M373.7 1600.8L375 1620.5M412.3 1582.9L412.6 1601.9M412.6 1601.9L411.4 1620.8M450.5 1582.2L450.6 1601.6M450.6 1601.6L450.4 1621.1M492.5 1582.6L492.3 1602.5M492.3 1602.5L492.7 1622.4M518.9 1582.8L519.2 1602.3M519.2 1602.3L519.1 1621.8M567 1581.3L569.2 1600.8M569.2 1600.8L570 1620.4M588.6 1582.5L587.2 1601.6M587.2 1601.6L587.8 1620.8M357.9 1560.2L363.5 1558.6M363.5 1558.6L369.2 1560M384.2 1561L393.6 1560.7M393.6 1560.7L402.8 1562.3M421.5 1561.5L431.1 1559.1M431.1 1559.1L440.7 1561M461 1561L471.6 1559.2M471.6 1559.2L482.2 1560.9M499.3 1560.4L505.7 1558.1M505.7 1558.1L512.1 1560.7M530 1562.3L541.6 1561.2M541.6 1561.2L553.2 1561.5M571.2 1560.8L577.6 1559.7M577.6 1559.7L583.8 1561.5M357.1 1643L363.6 1644.9M363.6 1644.9L370 1642.6M384.8 1642.3L393.3 1644.4M393.3 1644.4L401.7 1642.1M420.1 1642.3L430.1 1644.8M430.1 1644.8L440.2 1642.6M460.9 1641.5L471.6 1642.5M471.6 1642.5L482.4 1642.4M499.7 1643.1L506.2 1644M506.2 1644L512.6 1642.7M532 1641.7L544.9 1642.1M544.9 1642.1L557.9 1641M575.2 1640.8L579.5 1641.7M579.5 1641.7L583.9 1640.9M99.9 1088.1L99.1 1100.9M99.1 1100.9L99.8 1113.7M149.6 1087.8L150.6 1101.3M150.6 1101.3L150.1 1114.8M181.6 1088.2L182 1101M182 1101L181 1113.8M193.2 1087.6L194.1 1100.8M194.1 1100.8L193.8 1114.1M112.6 1074.5L124.6 1073.7M124.6 1073.7L136.6 1074M156.7 1073.4L164.9 1072.5M164.9 1072.5L173 1074M183.7 1073.3L186.4 1071.1M186.4 1071.1L189.3 1072.7M112.7 1127.9L125 1129.2M125 1129.2L137.2 1128.7M157.2 1129L164.9 1129.7M164.9 1129.7L172.4 1128.1M183.3 1127.7L186.6 1128.8M186.6 1128.8L190.1 1128.1M737.8 1083.5L737.4 1096.8M737.4 1096.8L736.7 1110M771.3 1083.7L770.5 1097M770.5 1097L770.6 1110.2M801.5 1083.5L801.8 1097.6M801.8 1097.6L801.4 1111.7M820.4 1083.6L819.3 1097.6M819.3 1097.6L820.2 1111.6M746.6 1069.1L755.1 1067.9M755.1 1067.9L763.5 1069.2M779.3 1069.3L786.6 1068.2M786.6 1068.2L793.9 1068.8M806.3 1067.5L811.4 1065.6M811.4 1065.6L816.5 1067.6M744.6 1124.2L753.3 1125.2M753.3 1125.2L761.9 1124.3M778.2 1124.6L785.7 1125.7M785.7 1125.7L793.3 1125.8M806 1128.1L811.1 1130.3M811.1 1130.3L816 1127.9M109 1525.5L109 1534.8M109 1534.8L108.9 1544.1M147.2 1523.5L146.6 1533.3M146.6 1533.3L147.7 1543M178.1 1524.7L179 1533.9M179 1533.9L178.5 1543.1M737.1 1524.2L737.6 1533.2M737.6 1533.2L738 1542.1M771.4 1525.2L770.1 1533.8M770.1 1533.8L770.5 1542.5M802.5 1524.8L802 1534.4M802 1534.4L801.1 1544M821.9 1524.5L821.2 1533.4M821.2 1533.4L821.8 1542.3M118.5 1514.6L128.2 1513.1M128.2 1513.1L137.9 1513.4M155.1 1512.9L162.6 1512M162.6 1512L169.9 1513.8M745.7 1513.4L754.8 1511.5M754.8 1511.5L763.8 1514.1M780.2 1514.1L787.6 1511.5M787.6 1511.5L795.3 1513.3M807.9 1514.4L812.8 1513.6M812.8 1513.6L817.6 1514.6M118.9 1554.2L128.9 1554.9M128.9 1554.9L138.9 1553.8M156.2 1553.9L163.5 1555.1M163.5 1555.1L170.7 1553.7M746.6 1552.7L754.7 1554.2M754.7 1554.2L762.8 1552.7M778.1 1553L785.3 1554.9M785.3 1554.9L792.8 1554.2M805.8 1553.7L811.4 1553.9M811.4 1553.9L816.8 1552.6M89.6 1227.9L87.7 1237.4M87.7 1237.4L82.3 1245.5M172.5 1225.7L167 1232.9M167 1232.9L163.2 1241.2M222.6 1226.2L226.8 1234M226.8 1234L230 1242.2M254.9 1226.6L248.4 1234.8M248.4 1234.8L243.9 1244.1M309.2 1224.8L315.4 1231.2M315.4 1231.2L318.7 1239.5M382.9 1226.6L378.8 1234.8M378.8 1234.8L373.5 1242.2M432.7 1225.6L438.8 1232.8M438.8 1232.8L443.3 1241M505.4 1227.4L500.3 1236.3M500.3 1236.3L495.5 1245.4M641 1225.8L646.4 1233.1M646.4 1233.1L650.2 1241.2M757.3 1227L753 1235.5M753 1235.5L746.1 1242.2M806.2 1226.6L810.1 1234.7M810.1 1234.7L816 1241.4M212.4 1274.1L206.5 1267.8M206.5 1267.8L203.6 1259.9M263.7 1272.5L268.6 1264.7M268.6 1264.7L271.6 1256M308.8 1273.6L314.9 1266.9M314.9 1266.9L318.1 1258.5M338.7 1271L336.4 1261.8M336.4 1261.8L331.1 1253.9M387.5 1272.3L391.8 1264.3M391.8 1264.3L396.9 1256.9M429.3 1270.5L432.2 1260.8M432.2 1260.8L438.4 1252.7M502.3 1272.3L495.7 1264.4M495.7 1264.4L492.4 1254.6M546.2 1271.6L543.8 1262.9M543.8 1262.9L539 1255.2M593.3 1270.7L596.1 1261.2M596.1 1261.2L602.2 1253.4M721.3 1272.1L724.4 1263.9M724.4 1263.9L727.9 1255.9M215.1 1378.5L208.7 1385.3M208.7 1385.3L203.4 1393M463.3 1379.1L461.3 1386.5M461.3 1386.5L457.2 1393M556.3 1379.9L559.2 1388M559.2 1388L564.8 1394.6M671.9 1377L665.5 1382.2M665.5 1382.2L661.1 1389.1M96.4 1420.2L101.1 1414.3M101.1 1414.3L104.9 1407.8M141.3 1418.5L145.4 1410.9M145.4 1410.9L151.2 1404.5M173.1 1420.5L166.2 1414.9M166.2 1414.9L161.2 1407.6M256.3 1420.3L250.6 1414.5M250.6 1414.5L246.5 1407.4M297.6 1420L293.3 1413.8M293.3 1413.8L290 1407.1M423.1 1418.6L419 1411M419 1411L415.3 1403.2M463.2 1421L457.7 1415.8M457.7 1415.8L454.8 1408.8M586.8 1421L580.8 1415.7M580.8 1415.7L578.1 1408.3M670 1418.4L667 1410.7M667 1410.7L660.8 1405.3M710.8 1419.6L706.9 1413.1M706.9 1413.1L704.1 1406M806.2 1420.1L811.8 1414M811.8 1414L814.2 1406M349.8 1076L354.7 1084.4M354.7 1084.4L356.6 1093.9M423.9 1075.7L419.4 1083.7M419.4 1083.7L415.7 1092.2M506.3 1074.7L500.5 1081.8M500.5 1081.8L496.8 1090.3M553.2 1074.8L556.9 1082M556.9 1082L561.2 1089M256.5 1120.3L251.3 1111.3M251.3 1111.3L245 1102.8M299.6 1122.2L294.5 1115M294.5 1115L290.7 1107.1M338.6 1121.1L335.8 1112.9M335.8 1112.9L332 1105M431.9 1120.1L435 1110.7M435 1110.7L440.6 1102.6M465 1121.1L462.5 1112.8M462.5 1112.8L457.1 1105.9M513.4 1123L518.4 1116.6M518.4 1116.6L521.6 1109.1M547.2 1121.9L544.4 1114.4M544.4 1114.4L540.3 1107.6M682.5 1122.5L687.4 1115.5M687.4 1115.5L689.5 1107.2M430.5 1523.1L434.5 1531.1M434.5 1531.1L440.8 1537.3M461.2 1520.8L455.7 1526.5M455.7 1526.5L453.3 1534M505.2 1522.7L501.5 1530.2M501.5 1530.2L495.7 1536.2M546.8 1521.5L540.3 1527.8M540.3 1527.8L535.1 1535.3M585.8 1520.2L579.9 1525.3M579.9 1525.3L575.5 1531.6M380.2 1557.9L375.5 1553.6M375.5 1553.6L373 1547.7M430.7 1555.6L432.4 1549M432.4 1549L437 1544" stroke="#e81410" stroke-width="3.6" fill="none"/>
<g fill="url(#gR)"><circle cx="342" cy="1026.1" r="7.4"/><circle cx="372" cy="1026.3" r="7.4"/><circle cx="404.7" cy="1025.7" r="7.4"/><circle cx="447.6" cy="1025.4" r="7.4"/><circle cx="491.7" cy="1025.5" r="7.4"/><circle cx="520.3" cy="1025.1" r="7.4"/><circle cx="564.5" cy="1025.9" r="7.4"/><circle cx="585.2" cy="1026" r="7.4"/><circle cx="355.6" cy="980.6" r="7.4"/><circle cx="387.7" cy="980.5" r="7.4"/><circle cx="425.4" cy="980.1" r="7.4"/><circle cx="469" cy="980.5" r="7.4"/><circle cx="505.2" cy="979.4" r="7.4"/><circle cx="540.2" cy="981.4" r="7.4"/><circle cx="572.5" cy="981.1" r="7.4"/><circle cx="359" cy="1070.6" r="7.4"/><circle cx="388" cy="1071.3" r="7.4"/><circle cx="425.2" cy="1069.2" r="7.4"/><circle cx="470" cy="1069.6" r="7.4"/><circle cx="506.3" cy="1070.4" r="7.4"/><circle cx="543.4" cy="1070.5" r="7.4"/><circle cx="576" cy="1072.1" r="7.4"/><circle cx="100.5" cy="1174.7" r="7.4"/><circle cx="131" cy="1173.2" r="7.4"/><circle cx="163.7" cy="1173.8" r="7.4"/><circle cx="202.9" cy="1174.4" r="7.4"/><circle cx="250.7" cy="1174.7" r="7.4"/><circle cx="300.9" cy="1173.5" r="7.4"/><circle cx="333.9" cy="1173.4" r="7.4"/><circle cx="355.4" cy="1173.5" r="7.4"/><circle cx="422.9" cy="1174.2" r="7.4"/><circle cx="464" cy="1173.2" r="7.4"/><circle cx="505.5" cy="1174.3" r="7.4"/><circle cx="529.3" cy="1174.4" r="7.4"/><circle cx="571.3" cy="1173.8" r="7.4"/><circle cx="622.2" cy="1172.8" r="7.4"/><circle cx="668.1" cy="1174.2" r="7.4"/><circle cx="702.5" cy="1173.4" r="7.4"/><circle cx="745.8" cy="1173.7" r="7.4"/><circle cx="787.3" cy="1174.3" r="7.4"/><circle cx="805.6" cy="1174.1" r="7.4"/><circle cx="115" cy="1125.3" r="7.4"/><circle cx="148.7" cy="1125.4" r="7.4"/><circle cx="185.4" cy="1124.7" r="7.4"/><circle cx="226.2" cy="1126.5" r="7.4"/><circle cx="274.3" cy="1128.2" r="7.4"/><circle cx="316.7" cy="1124.5" r="7.4"/><circle cx="345.5" cy="1126.2" r="7.4"/><circle cx="443.7" cy="1128" r="7.4"/><circle cx="484.9" cy="1128.4" r="7.4"/><circle cx="516.6" cy="1127.1" r="7.4"/><circle cx="549.7" cy="1126.4" r="7.4"/><circle cx="597" cy="1126" r="7.4"/><circle cx="646.2" cy="1127.4" r="7.4"/><circle cx="680.4" cy="1126.7" r="7.4"/><circle cx="720.5" cy="1125.9" r="7.4"/><circle cx="767.6" cy="1124" r="7.4"/><circle cx="795.4" cy="1127.5" r="7.4"/><circle cx="119" cy="1222.2" r="7.4"/><circle cx="147.1" cy="1222.9" r="7.4"/><circle cx="182.1" cy="1220.6" r="7.4"/><circle cx="229" cy="1223.3" r="7.4"/><circle cx="277.5" cy="1221.7" r="7.4"/><circle cx="316.7" cy="1222.4" r="7.4"/><circle cx="345.9" cy="1219.9" r="7.4"/><circle cx="442.4" cy="1220.8" r="7.4"/><circle cx="485" cy="1220.7" r="7.4"/><circle cx="518.2" cy="1223.6" r="7.4"/><circle cx="550.5" cy="1222.3" r="7.4"/><circle cx="596.5" cy="1220.9" r="7.4"/><circle cx="644.7" cy="1220.8" r="7.4"/><circle cx="691.8" cy="1220.1" r="7.4"/><circle cx="731.5" cy="1219.7" r="7.4"/><circle cx="766.4" cy="1221" r="7.4"/><circle cx="794.9" cy="1224.1" r="7.4"/><circle cx="46.6" cy="1326.3" r="7.4"/><circle cx="103.2" cy="1326.4" r="7.4"/><circle cx="128.9" cy="1326.7" r="7.4"/><circle cx="164.7" cy="1326.6" r="7.4"/><circle cx="285.1" cy="1324.8" r="7.4"/><circle cx="347.6" cy="1326.4" r="7.4"/><circle cx="368" cy="1325.6" r="7.4"/><circle cx="412" cy="1325.5" r="7.4"/><circle cx="457.1" cy="1326.2" r="7.4"/><circle cx="494.6" cy="1325.4" r="7.4"/><circle cx="520.4" cy="1326.5" r="7.4"/><circle cx="572.2" cy="1325.2" r="7.4"/><circle cx="622.7" cy="1325.6" r="7.4"/><circle cx="699.5" cy="1325.5" r="7.4"/><circle cx="745.3" cy="1325.8" r="7.4"/><circle cx="764.2" cy="1326.8" r="7.4"/><circle cx="804.9" cy="1327.2" r="7.4"/><circle cx="822.1" cy="1325.5" r="7.4"/><circle cx="74.8" cy="1276" r="7.4"/><circle cx="116.5" cy="1276.8" r="7.4"/><circle cx="151.9" cy="1277.6" r="7.4"/><circle cx="356.4" cy="1275.6" r="7.4"/><circle cx="388.3" cy="1276.7" r="7.4"/><circle cx="433.3" cy="1277.4" r="7.4"/><circle cx="475" cy="1279.6" r="7.4"/><circle cx="507" cy="1276.5" r="7.4"/><circle cx="545.7" cy="1278.7" r="7.4"/><circle cx="598.2" cy="1274.8" r="7.4"/><circle cx="719.1" cy="1276.9" r="7.4"/><circle cx="753.1" cy="1279.2" r="7.4"/><circle cx="784.4" cy="1280" r="7.4"/><circle cx="814.3" cy="1278.3" r="7.4"/><circle cx="75.9" cy="1375.5" r="7.4"/><circle cx="118" cy="1376.2" r="7.4"/><circle cx="143.1" cy="1373.7" r="7.4"/><circle cx="357" cy="1373.6" r="7.4"/><circle cx="389.2" cy="1374.7" r="7.4"/><circle cx="433.7" cy="1374.5" r="7.4"/><circle cx="474.4" cy="1373.4" r="7.4"/><circle cx="507" cy="1373.1" r="7.4"/><circle cx="545.8" cy="1374.4" r="7.4"/><circle cx="597.2" cy="1372.3" r="7.4"/><circle cx="723.9" cy="1373.1" r="7.4"/><circle cx="752.3" cy="1374" r="7.4"/><circle cx="784.6" cy="1377.3" r="7.4"/><circle cx="815.3" cy="1375.9" r="7.4"/><circle cx="105" cy="1470.2" r="7.4"/><circle cx="130.3" cy="1470.4" r="7.4"/><circle cx="164.8" cy="1470.9" r="7.4"/><circle cx="208.4" cy="1470.7" r="7.4"/><circle cx="251.1" cy="1470.6" r="7.4"/><circle cx="297.8" cy="1470.7" r="7.4"/><circle cx="334.9" cy="1470.9" r="7.4"/><circle cx="377.2" cy="1470.4" r="7.4"/><circle cx="421.5" cy="1470.7" r="7.4"/><circle cx="510.6" cy="1471.9" r="7.4"/><circle cx="531.2" cy="1471" r="7.4"/><circle cx="573.8" cy="1470.7" r="7.4"/><circle cx="620.8" cy="1469.7" r="7.4"/><circle cx="665.7" cy="1471.2" r="7.4"/><circle cx="700.4" cy="1470.6" r="7.4"/><circle cx="749.4" cy="1470.8" r="7.4"/><circle cx="769" cy="1470.4" r="7.4"/><circle cx="798.9" cy="1471.7" r="7.4"/><circle cx="119.9" cy="1423.5" r="7.4"/><circle cx="147.6" cy="1423.4" r="7.4"/><circle cx="185" cy="1420.7" r="7.4"/><circle cx="230.1" cy="1422.8" r="7.4"/><circle cx="276.2" cy="1425" r="7.4"/><circle cx="316.3" cy="1423.5" r="7.4"/><circle cx="354.7" cy="1424.8" r="7.4"/><circle cx="397.9" cy="1425" r="7.4"/><circle cx="520" cy="1425.5" r="7.4"/><circle cx="553" cy="1422.1" r="7.4"/><circle cx="597.4" cy="1421" r="7.4"/><circle cx="644.9" cy="1422.6" r="7.4"/><circle cx="687.5" cy="1422" r="7.4"/><circle cx="728.4" cy="1424.5" r="7.4"/><circle cx="757.7" cy="1424.2" r="7.4"/><circle cx="783.4" cy="1424.4" r="7.4"/><circle cx="117.8" cy="1519.6" r="7.4"/><circle cx="146.8" cy="1520.6" r="7.4"/><circle cx="186" cy="1518.6" r="7.4"/><circle cx="230.2" cy="1517" r="7.4"/><circle cx="275.6" cy="1517" r="7.4"/><circle cx="316.4" cy="1517.3" r="7.4"/><circle cx="355.9" cy="1518.9" r="7.4"/><circle cx="398.6" cy="1515.7" r="7.4"/><circle cx="524.5" cy="1520.4" r="7.4"/><circle cx="552.5" cy="1519.6" r="7.4"/><circle cx="598.2" cy="1519.1" r="7.4"/><circle cx="645" cy="1518.8" r="7.4"/><circle cx="679.2" cy="1518.4" r="7.4"/><circle cx="719" cy="1518" r="7.4"/><circle cx="757.5" cy="1517.4" r="7.4"/><circle cx="784.1" cy="1517.3" r="7.4"/><circle cx="352.4" cy="1601.5" r="7.4"/><circle cx="373.7" cy="1600.8" r="7.4"/><circle cx="412.6" cy="1601.9" r="7.4"/><circle cx="450.6" cy="1601.6" r="7.4"/><circle cx="492.3" cy="1602.5" r="7.4"/><circle cx="519.2" cy="1602.3" r="7.4"/><circle cx="569.2" cy="1600.8" r="7.4"/><circle cx="587.2" cy="1601.6" r="7.4"/><circle cx="363.5" cy="1558.6" r="7.4"/><circle cx="393.6" cy="1560.7" r="7.4"/><circle cx="431.1" cy="1559.1" r="7.4"/><circle cx="471.6" cy="1559.2" r="7.4"/><circle cx="505.7" cy="1558.1" r="7.4"/><circle cx="541.6" cy="1561.2" r="7.4"/><circle cx="577.6" cy="1559.7" r="7.4"/><circle cx="363.6" cy="1644.9" r="7.4"/><circle cx="393.3" cy="1644.4" r="7.4"/><circle cx="430.1" cy="1644.8" r="7.4"/><circle cx="471.6" cy="1642.5" r="7.4"/><circle cx="506.2" cy="1644" r="7.4"/><circle cx="544.9" cy="1642.1" r="7.4"/><circle cx="579.5" cy="1641.7" r="7.4"/><circle cx="99.1" cy="1100.9" r="7.4"/><circle cx="150.6" cy="1101.3" r="7.4"/><circle cx="182" cy="1101" r="7.4"/><circle cx="194.1" cy="1100.8" r="7.4"/><circle cx="124.6" cy="1073.7" r="7.4"/><circle cx="164.9" cy="1072.5" r="7.4"/><circle cx="186.4" cy="1071.1" r="7.4"/><circle cx="125" cy="1129.2" r="7.4"/><circle cx="164.9" cy="1129.7" r="7.4"/><circle cx="186.6" cy="1128.8" r="7.4"/><circle cx="737.4" cy="1096.8" r="7.4"/><circle cx="770.5" cy="1097" r="7.4"/><circle cx="801.8" cy="1097.6" r="7.4"/><circle cx="819.3" cy="1097.6" r="7.4"/><circle cx="755.1" cy="1067.9" r="7.4"/><circle cx="786.6" cy="1068.2" r="7.4"/><circle cx="811.4" cy="1065.6" r="7.4"/><circle cx="753.3" cy="1125.2" r="7.4"/><circle cx="785.7" cy="1125.7" r="7.4"/><circle cx="811.1" cy="1130.3" r="7.4"/><circle cx="109" cy="1534.8" r="7.4"/><circle cx="146.6" cy="1533.3" r="7.4"/><circle cx="179" cy="1533.9" r="7.4"/><circle cx="737.6" cy="1533.2" r="7.4"/><circle cx="770.1" cy="1533.8" r="7.4"/><circle cx="802" cy="1534.4" r="7.4"/><circle cx="821.2" cy="1533.4" r="7.4"/><circle cx="128.2" cy="1513.1" r="7.4"/><circle cx="162.6" cy="1512" r="7.4"/><circle cx="754.8" cy="1511.5" r="7.4"/><circle cx="787.6" cy="1511.5" r="7.4"/><circle cx="812.8" cy="1513.6" r="7.4"/><circle cx="128.9" cy="1554.9" r="7.4"/><circle cx="163.5" cy="1555.1" r="7.4"/><circle cx="754.7" cy="1554.2" r="7.4"/><circle cx="785.3" cy="1554.9" r="7.4"/><circle cx="811.4" cy="1553.9" r="7.4"/><circle cx="87.7" cy="1237.4" r="7.4"/><circle cx="167" cy="1232.9" r="7.4"/><circle cx="226.8" cy="1234" r="7.4"/><circle cx="248.4" cy="1234.8" r="7.4"/><circle cx="315.4" cy="1231.2" r="7.4"/><circle cx="378.8" cy="1234.8" r="7.4"/><circle cx="438.8" cy="1232.8" r="7.4"/><circle cx="500.3" cy="1236.3" r="7.4"/><circle cx="646.4" cy="1233.1" r="7.4"/><circle cx="753" cy="1235.5" r="7.4"/><circle cx="810.1" cy="1234.7" r="7.4"/><circle cx="206.5" cy="1267.8" r="7.4"/><circle cx="268.6" cy="1264.7" r="7.4"/><circle cx="314.9" cy="1266.9" r="7.4"/><circle cx="336.4" cy="1261.8" r="7.4"/><circle cx="391.8" cy="1264.3" r="7.4"/><circle cx="432.2" cy="1260.8" r="7.4"/><circle cx="495.7" cy="1264.4" r="7.4"/><circle cx="543.8" cy="1262.9" r="7.4"/><circle cx="596.1" cy="1261.2" r="7.4"/><circle cx="724.4" cy="1263.9" r="7.4"/><circle cx="208.7" cy="1385.3" r="7.4"/><circle cx="461.3" cy="1386.5" r="7.4"/><circle cx="559.2" cy="1388" r="7.4"/><circle cx="665.5" cy="1382.2" r="7.4"/><circle cx="101.1" cy="1414.3" r="7.4"/><circle cx="145.4" cy="1410.9" r="7.4"/><circle cx="166.2" cy="1414.9" r="7.4"/><circle cx="250.6" cy="1414.5" r="7.4"/><circle cx="293.3" cy="1413.8" r="7.4"/><circle cx="419" cy="1411" r="7.4"/><circle cx="457.7" cy="1415.8" r="7.4"/><circle cx="580.8" cy="1415.7" r="7.4"/><circle cx="667" cy="1410.7" r="7.4"/><circle cx="706.9" cy="1413.1" r="7.4"/><circle cx="811.8" cy="1414" r="7.4"/><circle cx="354.7" cy="1084.4" r="7.4"/><circle cx="419.4" cy="1083.7" r="7.4"/><circle cx="500.5" cy="1081.8" r="7.4"/><circle cx="556.9" cy="1082" r="7.4"/><circle cx="251.3" cy="1111.3" r="7.4"/><circle cx="294.5" cy="1115" r="7.4"/><circle cx="335.8" cy="1112.9" r="7.4"/><circle cx="435" cy="1110.7" r="7.4"/><circle cx="462.5" cy="1112.8" r="7.4"/><circle cx="518.4" cy="1116.6" r="7.4"/><circle cx="544.4" cy="1114.4" r="7.4"/><circle cx="687.4" cy="1115.5" r="7.4"/><circle cx="434.5" cy="1531.1" r="7.4"/><circle cx="455.7" cy="1526.5" r="7.4"/><circle cx="501.5" cy="1530.2" r="7.4"/><circle cx="540.3" cy="1527.8" r="7.4"/><circle cx="579.9" cy="1525.3" r="7.4"/><circle cx="375.5" cy="1553.6" r="7.4"/><circle cx="432.4" cy="1549" r="7.4"/></g><g fill="url(#gQ)"><circle cx="346.3" cy="1068.7" r="13.3"/><circle cx="370.9" cy="982.9" r="13.3"/><circle cx="491.4" cy="982.3" r="13.3"/><circle cx="568" cy="1069.6" r="13.3"/><circle cx="583.1" cy="984.1" r="13.3"/><circle cx="104.7" cy="1219.1" r="13.3"/><circle cx="131.1" cy="1128.9" r="13.3"/><circle cx="166.4" cy="1128.1" r="13.3"/><circle cx="203.8" cy="1130.4" r="13.3"/><circle cx="298.7" cy="1217" r="13.3"/><circle cx="335.2" cy="1218.6" r="13.3"/><circle cx="356.8" cy="1130" r="13.3"/><circle cx="506.2" cy="1218.4" r="13.3"/><circle cx="529.4" cy="1130" r="13.3"/><circle cx="570.3" cy="1128.4" r="13.3"/><circle cx="692.6" cy="1128.3" r="13.3"/><circle cx="747" cy="1219.4" r="13.3"/><circle cx="785.8" cy="1219.8" r="13.3"/><circle cx="804.2" cy="1128.4" r="13.3"/><circle cx="103.3" cy="1279.9" r="13.3"/><circle cx="130.2" cy="1371.9" r="13.3"/><circle cx="284.1" cy="1278.9" r="13.3"/><circle cx="347.2" cy="1373.2" r="13.3"/><circle cx="366.5" cy="1371.4" r="13.3"/><circle cx="493.7" cy="1279.8" r="13.3"/><circle cx="519.8" cy="1281.4" r="13.3"/><circle cx="571.1" cy="1370.4" r="13.3"/><circle cx="694.3" cy="1279.6" r="13.3"/><circle cx="743.3" cy="1370.3" r="13.3"/><circle cx="823" cy="1279.1" r="13.3"/><circle cx="822.7" cy="1371.8" r="13.3"/><circle cx="105.9" cy="1514.4" r="13.3"/><circle cx="132" cy="1425.6" r="13.3"/><circle cx="163.3" cy="1425.4" r="13.3"/><circle cx="298.7" cy="1514.3" r="13.3"/><circle cx="334.1" cy="1514.2" r="13.3"/><circle cx="375.9" cy="1426.7" r="13.3"/><circle cx="518.3" cy="1515.9" r="13.3"/><circle cx="572.6" cy="1426.7" r="13.3"/><circle cx="691.4" cy="1515.1" r="13.3"/><circle cx="746.7" cy="1516.4" r="13.3"/><circle cx="766.6" cy="1427.1" r="13.3"/><circle cx="350.6" cy="1641.1" r="13.3"/><circle cx="374.9" cy="1561.4" r="13.3"/><circle cx="492.8" cy="1562.7" r="13.3"/><circle cx="570.8" cy="1639.9" r="13.3"/><circle cx="590" cy="1563.3" r="13.3"/><circle cx="149.5" cy="1128.3" r="13.3"/><circle cx="181.1" cy="1075.4" r="13.3"/><circle cx="192.3" cy="1074.3" r="13.3"/><circle cx="738.1" cy="1070.2" r="13.3"/><circle cx="800.9" cy="1125.8" r="13.3"/><circle cx="821.5" cy="1069.7" r="13.3"/><circle cx="108.9" cy="1516.1" r="13.3"/><circle cx="108.8" cy="1553.4" r="13.3"/><circle cx="772.8" cy="1516.6" r="13.3"/></g><g fill="url(#gC)"><circle cx="340.4" cy="983.4" r="13.3"/><circle cx="371.8" cy="1069.7" r="13.3"/><circle cx="404.4" cy="983.9" r="13.3"/><circle cx="403.8" cy="1067.6" r="13.3"/><circle cx="446.6" cy="982.4" r="13.3"/><circle cx="446.6" cy="1068.4" r="13.3"/><circle cx="493.4" cy="1068.8" r="13.3"/><circle cx="519" cy="982.6" r="13.3"/><circle cx="519" cy="1067.6" r="13.3"/><circle cx="561.5" cy="982.3" r="13.3"/><circle cx="583.3" cy="1068" r="13.3"/><circle cx="99.3" cy="1130.2" r="13.3"/><circle cx="132.8" cy="1217.4" r="13.3"/><circle cx="162.1" cy="1219.6" r="13.3"/><circle cx="202" cy="1218.5" r="13.3"/><circle cx="248.6" cy="1130.3" r="13.3"/><circle cx="256" cy="1218.7" r="13.3"/><circle cx="300.1" cy="1130" r="13.3"/><circle cx="333.7" cy="1128.2" r="13.3"/><circle cx="356.4" cy="1217" r="13.3"/><circle cx="421.4" cy="1129.4" r="13.3"/><circle cx="420.8" cy="1218.9" r="13.3"/><circle cx="465.9" cy="1128.7" r="13.3"/><circle cx="463.9" cy="1217.7" r="13.3"/><circle cx="503.9" cy="1130.1" r="13.3"/><circle cx="530.3" cy="1218.8" r="13.3"/><circle cx="570.8" cy="1219.2" r="13.3"/><circle cx="623.7" cy="1128" r="13.3"/><circle cx="622.2" cy="1217.8" r="13.3"/><circle cx="668.6" cy="1130" r="13.3"/><circle cx="667.4" cy="1218.5" r="13.3"/><circle cx="716.1" cy="1217.5" r="13.3"/><circle cx="748.4" cy="1128" r="13.3"/><circle cx="786.5" cy="1128.7" r="13.3"/><circle cx="804.1" cy="1219.8" r="13.3"/><circle cx="46.7" cy="1281.6" r="13.3"/><circle cx="46.6" cy="1371.1" r="13.3"/><circle cx="105.6" cy="1372.9" r="13.3"/><circle cx="129.3" cy="1281.5" r="13.3"/><circle cx="174.5" cy="1281" r="13.3"/><circle cx="156" cy="1372.5" r="13.3"/><circle cx="286" cy="1370.6" r="13.3"/><circle cx="346" cy="1279.7" r="13.3"/><circle cx="366.8" cy="1279.7" r="13.3"/><circle cx="409.8" cy="1279.4" r="13.3"/><circle cx="412" cy="1371.8" r="13.3"/><circle cx="456.5" cy="1281.8" r="13.3"/><circle cx="455.2" cy="1370.7" r="13.3"/><circle cx="493.7" cy="1371" r="13.3"/><circle cx="520.4" cy="1371.5" r="13.3"/><circle cx="571.6" cy="1279.9" r="13.3"/><circle cx="624.9" cy="1279.1" r="13.3"/><circle cx="623.5" cy="1372.1" r="13.3"/><circle cx="704.3" cy="1371.5" r="13.3"/><circle cx="743.5" cy="1281.3" r="13.3"/><circle cx="762.6" cy="1281.5" r="13.3"/><circle cx="761.9" cy="1372" r="13.3"/><circle cx="806.1" cy="1281.5" r="13.3"/><circle cx="807.4" cy="1372.8" r="13.3"/><circle cx="107.8" cy="1426.1" r="13.3"/><circle cx="130" cy="1515.2" r="13.3"/><circle cx="164" cy="1516.5" r="13.3"/><circle cx="206.6" cy="1425.7" r="13.3"/><circle cx="207.8" cy="1515.7" r="13.3"/><circle cx="253.4" cy="1426.9" r="13.3"/><circle cx="252.6" cy="1514.3" r="13.3"/><circle cx="299" cy="1427.1" r="13.3"/><circle cx="333.5" cy="1427.5" r="13.3"/><circle cx="377.5" cy="1514.1" r="13.3"/><circle cx="419.8" cy="1427.6" r="13.3"/><circle cx="419.6" cy="1513.8" r="13.3"/><circle cx="506.9" cy="1427.4" r="13.3"/><circle cx="533.3" cy="1425.6" r="13.3"/><circle cx="531" cy="1516.5" r="13.3"/><circle cx="573.7" cy="1514.8" r="13.3"/><circle cx="622.5" cy="1424.7" r="13.3"/><circle cx="622.8" cy="1514.7" r="13.3"/><circle cx="666.9" cy="1427.6" r="13.3"/><circle cx="667.1" cy="1514.8" r="13.3"/><circle cx="708.5" cy="1426" r="13.3"/><circle cx="748.4" cy="1425.2" r="13.3"/><circle cx="767.7" cy="1513.8" r="13.3"/><circle cx="800.2" cy="1427.4" r="13.3"/><circle cx="800.8" cy="1515.9" r="13.3"/><circle cx="352.3" cy="1561.8" r="13.3"/><circle cx="376.3" cy="1640.2" r="13.3"/><circle cx="412" cy="1563.9" r="13.3"/><circle cx="410.1" cy="1639.8" r="13.3"/><circle cx="450.4" cy="1562.8" r="13.3"/><circle cx="450.2" cy="1640.5" r="13.3"/><circle cx="493.2" cy="1642.3" r="13.3"/><circle cx="518.5" cy="1563.4" r="13.3"/><circle cx="519" cy="1641.3" r="13.3"/><circle cx="564.8" cy="1561.9" r="13.3"/><circle cx="588.3" cy="1640" r="13.3"/><circle cx="100.7" cy="1075.3" r="13.3"/><circle cx="100.5" cy="1126.6" r="13.3"/><circle cx="148.5" cy="1074.3" r="13.3"/><circle cx="180" cy="1126.6" r="13.3"/><circle cx="193.5" cy="1127.4" r="13.3"/><circle cx="735.9" cy="1123.3" r="13.3"/><circle cx="772" cy="1070.5" r="13.3"/><circle cx="770.6" cy="1123.5" r="13.3"/><circle cx="801.2" cy="1069.4" r="13.3"/><circle cx="821" cy="1125.6" r="13.3"/><circle cx="147.7" cy="1513.7" r="13.3"/><circle cx="148.8" cy="1552.7" r="13.3"/><circle cx="177.1" cy="1515.5" r="13.3"/><circle cx="178" cy="1552.3" r="13.3"/><circle cx="736.6" cy="1515.2" r="13.3"/><circle cx="738.5" cy="1551.1" r="13.3"/><circle cx="770.9" cy="1551.2" r="13.3"/><circle cx="802.9" cy="1515.1" r="13.3"/><circle cx="800.2" cy="1553.6" r="13.3"/><circle cx="822.5" cy="1515.5" r="13.3"/><circle cx="822.3" cy="1551.3" r="13.3"/></g>
<path d="M102.8 1849.7L127.4 1858.9" stroke="#e2bcee" stroke-width="3"/><path d="M127.4 1858.9L151.9 1868.1" stroke="#e01010" stroke-width="3"/><path d="M151.9 1868.1L177.5 1861.5" stroke="#e01010" stroke-width="3"/><path d="M177.5 1861.5L203.1 1854.9" stroke="#3a6fd0" stroke-width="3"/><path d="M203.1 1854.9L214.9 1870.2" stroke="#3a6fd0" stroke-width="3"/><path d="M214.9 1870.2L226.8 1885.5" stroke="#e01010" stroke-width="3"/><path d="M226.8 1885.5L246.6 1901.9" stroke="#e01010" stroke-width="3"/><path d="M246.6 1901.9L266.4 1918.2" stroke="#3a6fd0" stroke-width="3"/><path d="M266.4 1918.2L256.6 1942" stroke="#3a6fd0" stroke-width="3"/><path d="M256.6 1942L246.8 1965.7" stroke="#e01010" stroke-width="3"/><path d="M246.8 1965.7L254.5 1992.1" stroke="#e01010" stroke-width="3"/><path d="M254.5 1992.1L262.1 2018.4" stroke="#3a6fd0" stroke-width="3"/><path d="M262.1 2018.4L240.5 2032.9" stroke="#3a6fd0" stroke-width="3"/><path d="M240.5 2032.9L218.9 2047.4" stroke="#e01010" stroke-width="3"/><path d="M218.9 2047.4L205.7 2059.8" stroke="#e01010" stroke-width="3"/><path d="M205.7 2059.8L192.5 2072.2" stroke="#e2bcee" stroke-width="3"/><path d="M192.5 2072.2L167.5 2063.8" stroke="#e2bcee" stroke-width="3"/><path d="M167.5 2063.8L142.4 2055.4" stroke="#e01010" stroke-width="3"/><path d="M142.4 2055.4L117.4 2061.4" stroke="#e01010" stroke-width="3"/><path d="M117.4 2061.4L92.3 2067.5" stroke="#3a6fd0" stroke-width="3"/><path d="M92.3 2067.5L81.2 2053.5" stroke="#3a6fd0" stroke-width="3"/><path d="M81.2 2053.5L70.1 2039.5" stroke="#e01010" stroke-width="3"/><path d="M70.1 2039.5L50.4 2023.7" stroke="#e01010" stroke-width="3"/><path d="M50.4 2023.7L30.6 2007.9" stroke="#e2bcee" stroke-width="3"/><path d="M30.6 2007.9L40.9 1983.6" stroke="#e2bcee" stroke-width="3"/><path d="M40.9 1983.6L51.2 1959.4" stroke="#e01010" stroke-width="3"/><path d="M51.2 1959.4L42.7 1934.8" stroke="#e01010" stroke-width="3"/><path d="M42.7 1934.8L34.3 1910.3" stroke="#3a6fd0" stroke-width="3"/><path d="M34.3 1910.3L56.2 1894.5" stroke="#3a6fd0" stroke-width="3"/><path d="M56.2 1894.5L78.1 1878.7" stroke="#e01010" stroke-width="3"/><path d="M78.1 1878.7L90.5 1864.2" stroke="#e01010" stroke-width="3"/><path d="M90.5 1864.2L102.8 1849.7" stroke="#e2bcee" stroke-width="3"/><circle cx="151.9" cy="1868.1" r="8.8" fill="url(#gO2)"/><circle cx="226.8" cy="1885.5" r="8.8" fill="url(#gO2)"/><circle cx="246.8" cy="1965.7" r="8.8" fill="url(#gO2)"/><circle cx="218.9" cy="2047.4" r="8.8" fill="url(#gO2)"/><circle cx="142.4" cy="2055.4" r="8.8" fill="url(#gO2)"/><circle cx="70.1" cy="2039.5" r="8.8" fill="url(#gO2)"/><circle cx="51.2" cy="1959.4" r="8.8" fill="url(#gO2)"/><circle cx="78.1" cy="1878.7" r="8.8" fill="url(#gO2)"/><circle cx="102.8" cy="1849.7" r="16.5" fill="url(#gP2)"/><circle cx="203.1" cy="1854.9" r="16.5" fill="url(#gB2)"/><circle cx="266.4" cy="1918.2" r="16.5" fill="url(#gB2)"/><circle cx="262.1" cy="2018.4" r="16.5" fill="url(#gB2)"/><circle cx="192.5" cy="2072.2" r="16.5" fill="url(#gP2)"/><circle cx="92.3" cy="2067.5" r="16.5" fill="url(#gB2)"/><circle cx="30.6" cy="2007.9" r="16.5" fill="url(#gP2)"/><circle cx="34.3" cy="1910.3" r="16.5" fill="url(#gB2)"/><g fill="#fff" opacity=".7"><circle cx="107.8" cy="1844.7" r="2.1"/><circle cx="97.9" cy="1854.9" r="2.1"/><circle cx="107.3" cy="1854.9" r="2.1"/><circle cx="154.5" cy="1865.7" r="1.1"/><circle cx="154.5" cy="1871.3" r="1.1"/><circle cx="208" cy="1850" r="2.1"/><circle cx="198.1" cy="1860.2" r="2.1"/><circle cx="207.5" cy="1860.2" r="2.1"/><circle cx="229.4" cy="1883.1" r="1.1"/><circle cx="229.4" cy="1888.7" r="1.1"/><circle cx="271.3" cy="1913.3" r="2.1"/><circle cx="261.4" cy="1923.5" r="2.1"/><circle cx="270.8" cy="1923.5" r="2.1"/><circle cx="249.5" cy="1963.2" r="1.1"/><circle cx="249.5" cy="1968.9" r="1.1"/><circle cx="267.1" cy="2013.5" r="2.1"/><circle cx="257.2" cy="2023.7" r="2.1"/><circle cx="266.6" cy="2023.7" r="2.1"/><circle cx="221.5" cy="2045" r="1.1"/><circle cx="221.5" cy="2050.6" r="1.1"/><circle cx="197.5" cy="2067.3" r="2.1"/><circle cx="187.6" cy="2077.5" r="2.1"/><circle cx="197" cy="2077.5" r="2.1"/><circle cx="145" cy="2052.9" r="1.1"/><circle cx="145" cy="2058.5" r="1.1"/><circle cx="97.2" cy="2062.5" r="2.1"/><circle cx="87.3" cy="2072.8" r="2.1"/><circle cx="96.8" cy="2072.8" r="2.1"/><circle cx="72.8" cy="2037.1" r="1.1"/><circle cx="72.8" cy="2042.7" r="1.1"/><circle cx="35.5" cy="2002.9" r="2.1"/><circle cx="25.6" cy="2013.2" r="2.1"/><circle cx="35" cy="2013.2" r="2.1"/><circle cx="53.8" cy="1956.9" r="1.1"/><circle cx="53.8" cy="1962.5" r="1.1"/><circle cx="39.2" cy="1905.4" r="2.1"/><circle cx="29.3" cy="1915.6" r="2.1"/><circle cx="38.7" cy="1915.6" r="2.1"/><circle cx="80.7" cy="1876.2" r="1.1"/><circle cx="80.7" cy="1881.8" r="1.1"/></g>
<path d="M401.9 1852.3L428.3 1859.7" stroke="#3a6fd0" stroke-width="3"/><path d="M428.3 1859.7L454.6 1867.1" stroke="#e01010" stroke-width="3"/><path d="M454.6 1867.1L481.8 1861" stroke="#e01010" stroke-width="3"/><path d="M481.8 1861L509 1854.9" stroke="#3a6fd0" stroke-width="3"/><path d="M509 1854.9L524.8 1876.8" stroke="#3a6fd0" stroke-width="3"/><path d="M524.8 1876.8L540.6 1898.7" stroke="#e01010" stroke-width="3"/><path d="M540.6 1898.7L565.1 1908.5" stroke="#e01010" stroke-width="3"/><path d="M565.1 1908.5L589.7 1918.2" stroke="#e2bcee" stroke-width="3"/><path d="M589.7 1918.2L591 1944.6" stroke="#e2bcee" stroke-width="3"/><path d="M591 1944.6L592.3 1971" stroke="#e01010" stroke-width="3"/><path d="M592.3 1971L589.7 1994.7" stroke="#e01010" stroke-width="3"/><path d="M589.7 1994.7L587 2018.4" stroke="#3a6fd0" stroke-width="3"/><path d="M587 2018.4L561.2 2029" stroke="#3a6fd0" stroke-width="3"/><path d="M561.2 2029L535.3 2039.5" stroke="#e01010" stroke-width="3"/><path d="M535.3 2039.5L516.9 2058" stroke="#e01010" stroke-width="3"/><path d="M516.9 2058L498.4 2076.5" stroke="#e2bcee" stroke-width="3"/><path d="M498.4 2076.5L472.8 2071.2" stroke="#e2bcee" stroke-width="3"/><path d="M472.8 2071.2L447.3 2065.9" stroke="#e01010" stroke-width="3"/><path d="M447.3 2065.9L420.1 2071.2" stroke="#e01010" stroke-width="3"/><path d="M420.1 2071.2L392.9 2076.5" stroke="#3a6fd0" stroke-width="3"/><path d="M392.9 2076.5L377.1 2055.9" stroke="#3a6fd0" stroke-width="3"/><path d="M377.1 2055.9L361.3 2035.3" stroke="#e01010" stroke-width="3"/><path d="M361.3 2035.3L336.2 2023.7" stroke="#e01010" stroke-width="3"/><path d="M336.2 2023.7L311.2 2012.1" stroke="#3a6fd0" stroke-width="3"/><path d="M311.2 2012.1L311.2 1987.6" stroke="#3a6fd0" stroke-width="3"/><path d="M311.2 1987.6L311.2 1963.1" stroke="#e01010" stroke-width="3"/><path d="M311.2 1963.1L313.3 1938.5" stroke="#e01010" stroke-width="3"/><path d="M313.3 1938.5L315.4 1914" stroke="#e2bcee" stroke-width="3"/><path d="M315.4 1914L341 1904.3" stroke="#e2bcee" stroke-width="3"/><path d="M341 1904.3L366.6 1894.5" stroke="#e01010" stroke-width="3"/><path d="M366.6 1894.5L384.2 1873.4" stroke="#e01010" stroke-width="3"/><path d="M384.2 1873.4L401.9 1852.3" stroke="#3a6fd0" stroke-width="3"/><circle cx="454.6" cy="1867.1" r="8.8" fill="url(#gO2)"/><circle cx="540.6" cy="1898.7" r="8.8" fill="url(#gO2)"/><circle cx="592.3" cy="1971" r="8.8" fill="url(#gO2)"/><circle cx="535.3" cy="2039.5" r="8.8" fill="url(#gO2)"/><circle cx="447.3" cy="2065.9" r="8.8" fill="url(#gO2)"/><circle cx="361.3" cy="2035.3" r="8.8" fill="url(#gO2)"/><circle cx="311.2" cy="1963.1" r="8.8" fill="url(#gO2)"/><circle cx="366.6" cy="1894.5" r="8.8" fill="url(#gO2)"/><circle cx="401.9" cy="1852.3" r="16.5" fill="url(#gB2)"/><circle cx="509" cy="1854.9" r="16.5" fill="url(#gB2)"/><circle cx="589.7" cy="1918.2" r="16.5" fill="url(#gP2)"/><circle cx="587" cy="2018.4" r="16.5" fill="url(#gB2)"/><circle cx="498.4" cy="2076.5" r="16.5" fill="url(#gP2)"/><circle cx="392.9" cy="2076.5" r="16.5" fill="url(#gB2)"/><circle cx="311.2" cy="2012.1" r="16.5" fill="url(#gB2)"/><circle cx="315.4" cy="1914" r="16.5" fill="url(#gP2)"/><g fill="#fff" opacity=".7"><circle cx="406.8" cy="1847.3" r="2.1"/><circle cx="396.9" cy="1857.6" r="2.1"/><circle cx="406.4" cy="1857.6" r="2.1"/><circle cx="457.3" cy="1864.6" r="1.1"/><circle cx="457.3" cy="1870.2" r="1.1"/><circle cx="513.9" cy="1850" r="2.1"/><circle cx="504" cy="1860.2" r="2.1"/><circle cx="513.4" cy="1860.2" r="2.1"/><circle cx="543.3" cy="1896.2" r="1.1"/><circle cx="543.3" cy="1901.9" r="1.1"/><circle cx="594.6" cy="1913.3" r="2.1"/><circle cx="584.7" cy="1923.5" r="2.1"/><circle cx="594.1" cy="1923.5" r="2.1"/><circle cx="594.9" cy="1968.5" r="1.1"/><circle cx="594.9" cy="1974.1" r="1.1"/><circle cx="592" cy="2013.5" r="2.1"/><circle cx="582.1" cy="2023.7" r="2.1"/><circle cx="591.5" cy="2023.7" r="2.1"/><circle cx="538" cy="2037.1" r="1.1"/><circle cx="538" cy="2042.7" r="1.1"/><circle cx="503.4" cy="2071.5" r="2.1"/><circle cx="493.5" cy="2081.7" r="2.1"/><circle cx="502.9" cy="2081.7" r="2.1"/><circle cx="449.9" cy="2063.4" r="1.1"/><circle cx="449.9" cy="2069.1" r="1.1"/><circle cx="397.9" cy="2071.5" r="2.1"/><circle cx="388" cy="2081.7" r="2.1"/><circle cx="397.4" cy="2081.7" r="2.1"/><circle cx="363.9" cy="2032.9" r="1.1"/><circle cx="363.9" cy="2038.5" r="1.1"/><circle cx="316.1" cy="2007.2" r="2.1"/><circle cx="306.2" cy="2017.4" r="2.1"/><circle cx="315.6" cy="2017.4" r="2.1"/><circle cx="313.8" cy="1960.6" r="1.1"/><circle cx="313.8" cy="1966.2" r="1.1"/><circle cx="320.4" cy="1909.1" r="2.1"/><circle cx="310.5" cy="1919.3" r="2.1"/><circle cx="319.9" cy="1919.3" r="2.1"/><circle cx="369.2" cy="1892" r="1.1"/><circle cx="369.2" cy="1897.7" r="1.1"/></g>
<path d="M730.5 1849.7L755 1858.4" stroke="#e2bcee" stroke-width="3"/><path d="M755 1858.4L779.5 1867.1" stroke="#e01010" stroke-width="3"/><path d="M779.5 1867.1L805.9 1860.5" stroke="#e01010" stroke-width="3"/><path d="M805.9 1860.5L832.3 1853.9" stroke="#3a6fd0" stroke-width="3"/><path d="M832.3 1853.9L843.9 1868.9" stroke="#3a6fd0" stroke-width="3"/><path d="M843.9 1868.9L855.5 1883.9" stroke="#e01010" stroke-width="3"/><path d="M855.5 1883.9L874.7 1901.1" stroke="#e01010" stroke-width="3"/><path d="M874.7 1901.1L894 1918.2" stroke="#3a6fd0" stroke-width="3"/><path d="M894 1918.2L884.2 1942" stroke="#3a6fd0" stroke-width="3"/><path d="M884.2 1942L874.5 1965.7" stroke="#e01010" stroke-width="3"/><path d="M874.5 1965.7L882.9 1991.5" stroke="#e01010" stroke-width="3"/><path d="M882.9 1991.5L891.4 2017.4" stroke="#3a6fd0" stroke-width="3"/><path d="M891.4 2017.4L869.7 2031.9" stroke="#3a6fd0" stroke-width="3"/><path d="M869.7 2031.9L848.1 2046.4" stroke="#e01010" stroke-width="3"/><path d="M848.1 2046.4L834.1 2059.3" stroke="#e01010" stroke-width="3"/><path d="M834.1 2059.3L820.1 2072.2" stroke="#e2bcee" stroke-width="3"/><path d="M820.1 2072.2L795.9 2062.5" stroke="#e2bcee" stroke-width="3"/><path d="M795.9 2062.5L771.6 2052.7" stroke="#e01010" stroke-width="3"/><path d="M771.6 2052.7L745.8 2060.6" stroke="#e01010" stroke-width="3"/><path d="M745.8 2060.6L719.9 2068.5" stroke="#3a6fd0" stroke-width="3"/><path d="M719.9 2068.5L709.4 2054" stroke="#3a6fd0" stroke-width="3"/><path d="M709.4 2054L698.8 2039.5" stroke="#e01010" stroke-width="3"/><path d="M698.8 2039.5L679.1 2023.2" stroke="#e01010" stroke-width="3"/><path d="M679.1 2023.2L659.3 2006.8" stroke="#e2bcee" stroke-width="3"/><path d="M659.3 2006.8L669.3 1982.8" stroke="#e2bcee" stroke-width="3"/><path d="M669.3 1982.8L679.3 1958.8" stroke="#e01010" stroke-width="3"/><path d="M679.3 1958.8L670.6 1934.1" stroke="#e01010" stroke-width="3"/><path d="M670.6 1934.1L661.9 1909.3" stroke="#3a6fd0" stroke-width="3"/><path d="M661.9 1909.3L683.8 1893.2" stroke="#3a6fd0" stroke-width="3"/><path d="M683.8 1893.2L705.7 1877.1" stroke="#e01010" stroke-width="3"/><path d="M705.7 1877.1L718.1 1863.4" stroke="#e01010" stroke-width="3"/><path d="M718.1 1863.4L730.5 1849.7" stroke="#e2bcee" stroke-width="3"/><circle cx="779.5" cy="1867.1" r="8.8" fill="url(#gO2)"/><circle cx="855.5" cy="1883.9" r="8.8" fill="url(#gO2)"/><circle cx="874.5" cy="1965.7" r="8.8" fill="url(#gO2)"/><circle cx="848.1" cy="2046.4" r="8.8" fill="url(#gO2)"/><circle cx="771.6" cy="2052.7" r="8.8" fill="url(#gO2)"/><circle cx="698.8" cy="2039.5" r="8.8" fill="url(#gO2)"/><circle cx="679.3" cy="1958.8" r="8.8" fill="url(#gO2)"/><circle cx="705.7" cy="1877.1" r="8.8" fill="url(#gO2)"/><circle cx="730.5" cy="1849.7" r="16.5" fill="url(#gP2)"/><circle cx="832.3" cy="1853.9" r="16.5" fill="url(#gB2)"/><circle cx="894" cy="1918.2" r="16.5" fill="url(#gB2)"/><circle cx="891.4" cy="2017.4" r="16.5" fill="url(#gB2)"/><circle cx="820.1" cy="2072.2" r="16.5" fill="url(#gP2)"/><circle cx="719.9" cy="2068.5" r="16.5" fill="url(#gB2)"/><circle cx="659.3" cy="2006.8" r="16.5" fill="url(#gP2)"/><circle cx="661.9" cy="1909.3" r="16.5" fill="url(#gB2)"/><g fill="#fff" opacity=".7"><circle cx="735.4" cy="1844.7" r="2.1"/><circle cx="725.5" cy="1854.9" r="2.1"/><circle cx="734.9" cy="1854.9" r="2.1"/><circle cx="782.2" cy="1864.6" r="1.1"/><circle cx="782.2" cy="1870.2" r="1.1"/><circle cx="837.2" cy="1848.9" r="2.1"/><circle cx="827.3" cy="1859.2" r="2.1"/><circle cx="836.7" cy="1859.2" r="2.1"/><circle cx="858.1" cy="1881.5" r="1.1"/><circle cx="858.1" cy="1887.1" r="1.1"/><circle cx="898.9" cy="1913.3" r="2.1"/><circle cx="889" cy="1923.5" r="2.1"/><circle cx="898.4" cy="1923.5" r="2.1"/><circle cx="877.1" cy="1963.2" r="1.1"/><circle cx="877.1" cy="1968.9" r="1.1"/><circle cx="896.3" cy="2012.4" r="2.1"/><circle cx="886.4" cy="2022.7" r="2.1"/><circle cx="895.8" cy="2022.7" r="2.1"/><circle cx="850.7" cy="2043.9" r="1.1"/><circle cx="850.7" cy="2049.6" r="1.1"/><circle cx="825.1" cy="2067.3" r="2.1"/><circle cx="815.2" cy="2077.5" r="2.1"/><circle cx="824.6" cy="2077.5" r="2.1"/><circle cx="774.3" cy="2050.3" r="1.1"/><circle cx="774.3" cy="2055.9" r="1.1"/><circle cx="724.9" cy="2063.6" r="2.1"/><circle cx="715" cy="2073.8" r="2.1"/><circle cx="724.4" cy="2073.8" r="2.1"/><circle cx="701.5" cy="2037.1" r="1.1"/><circle cx="701.5" cy="2042.7" r="1.1"/><circle cx="664.2" cy="2001.9" r="2.1"/><circle cx="654.3" cy="2012.1" r="2.1"/><circle cx="663.7" cy="2012.1" r="2.1"/><circle cx="682" cy="1956.4" r="1.1"/><circle cx="682" cy="1962" r="1.1"/><circle cx="666.9" cy="1904.3" r="2.1"/><circle cx="657" cy="1914.5" r="2.1"/><circle cx="666.4" cy="1914.5" r="2.1"/><circle cx="708.3" cy="1874.6" r="1.1"/><circle cx="708.3" cy="1880.3" r="1.1"/></g>
<path d="M1055.9 1881.1L1074.6 1886.9" stroke="#3a6fd0" stroke-width="2.4"/><path d="M1074.6 1886.9L1093.3 1892.8" stroke="#e01010" stroke-width="2.4"/><path d="M1093.3 1892.8L1107.9 1881.1" stroke="#e01010" stroke-width="2.4"/><path d="M1107.9 1881.1L1122.6 1869.3" stroke="#e2bcee" stroke-width="2.4"/><path d="M1122.6 1869.3L1141.2 1875.2" stroke="#e2bcee" stroke-width="2.4"/><path d="M1141.2 1875.2L1159.9 1881.1" stroke="#e01010" stroke-width="2.4"/><path d="M1159.9 1881.1L1176.7 1873.1" stroke="#e01010" stroke-width="2.4"/><path d="M1176.7 1873.1L1193.5 1865.1" stroke="#3a6fd0" stroke-width="2.4"/><path d="M1193.5 1865.1L1207.3 1874.4" stroke="#3a6fd0" stroke-width="2.4"/><path d="M1207.3 1874.4L1221.2 1883.7" stroke="#e01010" stroke-width="2.4"/><path d="M1221.2 1883.7L1236.7 1895.7" stroke="#e01010" stroke-width="2.4"/><path d="M1236.7 1895.7L1252.1 1907.7" stroke="#e2bcee" stroke-width="2.4"/><path d="M1252.1 1907.7L1243.8 1924.2" stroke="#e2bcee" stroke-width="2.4"/><path d="M1243.8 1924.2L1235.6 1940.8" stroke="#e01010" stroke-width="2.4"/><path d="M1235.6 1940.8L1246.5 1954.4" stroke="#e01010" stroke-width="2.4"/><path d="M1246.5 1954.4L1257.4 1968" stroke="#3a6fd0" stroke-width="2.4"/><path d="M1257.4 1968L1249.4 1983.1" stroke="#3a6fd0" stroke-width="2.4"/><path d="M1249.4 1983.1L1241.4 1998.3" stroke="#e01010" stroke-width="2.4"/><path d="M1241.4 1998.3L1250 2012.2" stroke="#e01010" stroke-width="2.4"/><path d="M1250 2012.2L1258.5 2026.1" stroke="#e2bcee" stroke-width="2.4"/><path d="M1258.5 2026.1L1246.5 2039.4" stroke="#e2bcee" stroke-width="2.4"/><path d="M1246.5 2039.4L1234.5 2052.7" stroke="#e01010" stroke-width="2.4"/><path d="M1234.5 2052.7L1224.7 2065" stroke="#e01010" stroke-width="2.4"/><path d="M1224.7 2065L1214.8 2077.2" stroke="#3a6fd0" stroke-width="2.4"/><path d="M1214.8 2077.2L1198.5 2074.6" stroke="#3a6fd0" stroke-width="2.4"/><path d="M1198.5 2074.6L1182.3 2071.9" stroke="#e01010" stroke-width="2.4"/><path d="M1182.3 2071.9L1164.4 2073.2" stroke="#e01010" stroke-width="2.4"/><path d="M1164.4 2073.2L1146.6 2074.6" stroke="#e2bcee" stroke-width="2.4"/><path d="M1146.6 2074.6L1138 2091.9" stroke="#e2bcee" stroke-width="2.4"/><path d="M1138 2091.9L1129.5 2109.2" stroke="#e01010" stroke-width="2.4"/><path d="M1129.5 2109.2L1111.4 2105.7" stroke="#e01010" stroke-width="2.4"/><path d="M1111.4 2105.7L1093.3 2102.3" stroke="#3a6fd0" stroke-width="2.4"/><path d="M1093.3 2102.3L1086.6 2088.2" stroke="#3a6fd0" stroke-width="2.4"/><path d="M1086.6 2088.2L1079.9 2074" stroke="#e01010" stroke-width="2.4"/><path d="M1079.9 2074L1063.9 2061" stroke="#e01010" stroke-width="2.4"/><path d="M1063.9 2061L1048 2047.9" stroke="#e2bcee" stroke-width="2.4"/><path d="M1048 2047.9L1057.3 2033.3" stroke="#e2bcee" stroke-width="2.4"/><path d="M1057.3 2033.3L1066.6 2018.6" stroke="#e01010" stroke-width="2.4"/><path d="M1066.6 2018.6L1059.9 2003.1" stroke="#e01010" stroke-width="2.4"/><path d="M1059.9 2003.1L1053.3 1987.7" stroke="#3a6fd0" stroke-width="2.4"/><path d="M1053.3 1987.7L1041.3 1981.8" stroke="#3a6fd0" stroke-width="2.4"/><path d="M1041.3 1981.8L1029.3 1975.9" stroke="#e01010" stroke-width="2.4"/><path d="M1029.3 1975.9L1017.3 1973.8" stroke="#e01010" stroke-width="2.4"/><path d="M1017.3 1973.8L1005.3 1971.7" stroke="#e2bcee" stroke-width="2.4"/><path d="M1005.3 1971.7L1005.3 1955.7" stroke="#e2bcee" stroke-width="2.4"/><path d="M1005.3 1955.7L1005.3 1939.7" stroke="#e01010" stroke-width="2.4"/><path d="M1005.3 1939.7L1002.6 1925.6" stroke="#e01010" stroke-width="2.4"/><path d="M1002.6 1925.6L1000 1911.4" stroke="#3a6fd0" stroke-width="2.4"/><path d="M1000 1911.4L1019.4 1907.5" stroke="#3a6fd0" stroke-width="2.4"/><path d="M1019.4 1907.5L1038.9 1903.5" stroke="#e01010" stroke-width="2.4"/><path d="M1038.9 1903.5L1047.4 1892.3" stroke="#e01010" stroke-width="2.4"/><path d="M1047.4 1892.3L1055.9 1881.1" stroke="#3a6fd0" stroke-width="2.4"/><circle cx="1093.3" cy="1892.8" r="6.5" fill="url(#gO2)"/><circle cx="1159.9" cy="1881.1" r="6.5" fill="url(#gO2)"/><circle cx="1221.2" cy="1883.7" r="6.5" fill="url(#gO2)"/><circle cx="1235.6" cy="1940.8" r="6.5" fill="url(#gO2)"/><circle cx="1241.4" cy="1998.3" r="6.5" fill="url(#gO2)"/><circle cx="1234.5" cy="2052.7" r="6.5" fill="url(#gO2)"/><circle cx="1182.3" cy="2071.9" r="6.5" fill="url(#gO2)"/><circle cx="1129.5" cy="2109.2" r="6.5" fill="url(#gO2)"/><circle cx="1079.9" cy="2074" r="6.5" fill="url(#gO2)"/><circle cx="1066.6" cy="2018.6" r="6.5" fill="url(#gO2)"/><circle cx="1029.3" cy="1975.9" r="6.5" fill="url(#gO2)"/><circle cx="1005.3" cy="1939.7" r="6.5" fill="url(#gO2)"/><circle cx="1038.9" cy="1903.5" r="6.5" fill="url(#gO2)"/><circle cx="1055.9" cy="1881.1" r="11.8" fill="url(#gB2)"/><circle cx="1122.6" cy="1869.3" r="11.8" fill="url(#gP2)"/><circle cx="1193.5" cy="1865.1" r="11.8" fill="url(#gB2)"/><circle cx="1252.1" cy="1907.7" r="11.8" fill="url(#gP2)"/><circle cx="1257.4" cy="1968" r="11.8" fill="url(#gB2)"/><circle cx="1258.5" cy="2026.1" r="11.8" fill="url(#gP2)"/><circle cx="1214.8" cy="2077.2" r="11.8" fill="url(#gB2)"/><circle cx="1146.6" cy="2074.6" r="11.8" fill="url(#gP2)"/><circle cx="1093.3" cy="2102.3" r="11.8" fill="url(#gB2)"/><circle cx="1048" cy="2047.9" r="11.8" fill="url(#gP2)"/><circle cx="1053.3" cy="1987.7" r="11.8" fill="url(#gB2)"/><circle cx="1005.3" cy="1971.7" r="11.8" fill="url(#gP2)"/><circle cx="1000" cy="1911.4" r="11.8" fill="url(#gB2)"/><g fill="#fff" opacity=".7"><circle cx="1059.5" cy="1877.5" r="1.5"/><circle cx="1052.4" cy="1884.8" r="1.5"/><circle cx="1059.1" cy="1884.8" r="1.5"/><circle cx="1095.2" cy="1891" r="1.1"/><circle cx="1095.2" cy="1895.1" r="1.1"/><circle cx="1126.1" cy="1865.8" r="1.5"/><circle cx="1119" cy="1873.1" r="1.5"/><circle cx="1125.8" cy="1873.1" r="1.5"/><circle cx="1161.8" cy="1879.2" r="1.1"/><circle cx="1161.8" cy="1883.4" r="1.1"/><circle cx="1197" cy="1861.5" r="1.5"/><circle cx="1189.9" cy="1868.9" r="1.5"/><circle cx="1196.7" cy="1868.9" r="1.5"/><circle cx="1223.1" cy="1881.9" r="1.1"/><circle cx="1223.1" cy="1886.1" r="1.1"/><circle cx="1255.7" cy="1904.2" r="1.5"/><circle cx="1248.6" cy="1911.5" r="1.5"/><circle cx="1255.3" cy="1911.5" r="1.5"/><circle cx="1237.5" cy="1938.9" r="1.1"/><circle cx="1237.5" cy="1943.1" r="1.1"/><circle cx="1261" cy="1964.4" r="1.5"/><circle cx="1253.9" cy="1971.7" r="1.5"/><circle cx="1260.6" cy="1971.7" r="1.5"/><circle cx="1243.4" cy="1996.5" r="1.1"/><circle cx="1243.4" cy="2000.7" r="1.1"/><circle cx="1262" cy="2022.5" r="1.5"/><circle cx="1255" cy="2029.8" r="1.5"/><circle cx="1261.7" cy="2029.8" r="1.5"/><circle cx="1236.5" cy="2050.9" r="1.1"/><circle cx="1236.5" cy="2055" r="1.1"/><circle cx="1218.3" cy="2073.7" r="1.5"/><circle cx="1211.3" cy="2081" r="1.5"/><circle cx="1218" cy="2081" r="1.5"/><circle cx="1184.2" cy="2070.1" r="1.1"/><circle cx="1184.2" cy="2074.2" r="1.1"/><circle cx="1150.1" cy="2071" r="1.5"/><circle cx="1143" cy="2078.3" r="1.5"/><circle cx="1149.8" cy="2078.3" r="1.5"/><circle cx="1131.5" cy="2107.4" r="1.1"/><circle cx="1131.5" cy="2111.6" r="1.1"/><circle cx="1096.8" cy="2098.7" r="1.5"/><circle cx="1089.7" cy="2106.1" r="1.5"/><circle cx="1096.4" cy="2106.1" r="1.5"/><circle cx="1081.9" cy="2072.2" r="1.1"/><circle cx="1081.9" cy="2076.4" r="1.1"/><circle cx="1051.5" cy="2044.4" r="1.5"/><circle cx="1044.4" cy="2051.7" r="1.5"/><circle cx="1051.1" cy="2051.7" r="1.5"/><circle cx="1068.6" cy="2016.8" r="1.1"/><circle cx="1068.6" cy="2020.9" r="1.1"/><circle cx="1056.8" cy="1984.1" r="1.5"/><circle cx="1049.7" cy="1991.5" r="1.5"/><circle cx="1056.5" cy="1991.5" r="1.5"/><circle cx="1031.2" cy="1974.1" r="1.1"/><circle cx="1031.2" cy="1978.3" r="1.1"/><circle cx="1008.8" cy="1968.1" r="1.5"/><circle cx="1001.8" cy="1975.5" r="1.5"/><circle cx="1008.5" cy="1975.5" r="1.5"/><circle cx="1007.3" cy="1937.9" r="1.1"/><circle cx="1007.3" cy="1942" r="1.1"/><circle cx="1003.5" cy="1907.9" r="1.5"/><circle cx="996.4" cy="1915.2" r="1.5"/><circle cx="1003.2" cy="1915.2" r="1.5"/><circle cx="1040.8" cy="1901.6" r="1.1"/><circle cx="1040.8" cy="1905.8" r="1.1"/></g>
<path d="M1388 1861.3L1411.8 1863.7" stroke="#e2bcee" stroke-width="2.4"/><path d="M1411.8 1863.7L1435.5 1866.1" stroke="#e01010" stroke-width="2.4"/><path d="M1435.5 1866.1L1455.7 1862.1" stroke="#e01010" stroke-width="2.4"/><path d="M1455.7 1862.1L1476 1858.1" stroke="#3a6fd0" stroke-width="2.4"/><path d="M1476 1858.1L1491.2 1876.8" stroke="#3a6fd0" stroke-width="2.4"/><path d="M1491.2 1876.8L1506.4 1895.5" stroke="#e01010" stroke-width="2.4"/><path d="M1506.4 1895.5L1527.7 1904.3" stroke="#e01010" stroke-width="2.4"/><path d="M1527.7 1904.3L1549 1913" stroke="#3a6fd0" stroke-width="2.4"/><path d="M1549 1913L1550.4 1934.4" stroke="#3a6fd0" stroke-width="2.4"/><path d="M1550.4 1934.4L1551.7 1955.7" stroke="#e01010" stroke-width="2.4"/><path d="M1551.7 1955.7L1563.7 1975.7" stroke="#e01010" stroke-width="2.4"/><path d="M1563.7 1975.7L1575.7 1995.7" stroke="#e2bcee" stroke-width="2.4"/><path d="M1575.7 1995.7L1559.7 2007.1" stroke="#e2bcee" stroke-width="2.4"/><path d="M1559.7 2007.1L1543.7 2018.6" stroke="#e01010" stroke-width="2.4"/><path d="M1543.7 2018.6L1538.4 2038.3" stroke="#e01010" stroke-width="2.4"/><path d="M1538.4 2038.3L1533 2058" stroke="#3a6fd0" stroke-width="2.4"/><path d="M1533 2058L1511.7 2057" stroke="#3a6fd0" stroke-width="2.4"/><path d="M1511.7 2057L1490.4 2055.9" stroke="#e01010" stroke-width="2.4"/><path d="M1490.4 2055.9L1478.4 2072.4" stroke="#e01010" stroke-width="2.4"/><path d="M1478.4 2072.4L1466.4 2089" stroke="#e2bcee" stroke-width="2.4"/><path d="M1466.4 2089L1447.2 2082.3" stroke="#e2bcee" stroke-width="2.4"/><path d="M1447.2 2082.3L1428 2075.6" stroke="#e01010" stroke-width="2.4"/><path d="M1428 2075.6L1407.2 2081" stroke="#e01010" stroke-width="2.4"/><path d="M1407.2 2081L1386.4 2086.3" stroke="#3a6fd0" stroke-width="2.4"/><path d="M1386.4 2086.3L1371.8 2069.5" stroke="#3a6fd0" stroke-width="2.4"/><path d="M1371.8 2069.5L1357.1 2052.7" stroke="#e01010" stroke-width="2.4"/><path d="M1357.1 2052.7L1335.8 2043.6" stroke="#e01010" stroke-width="2.4"/><path d="M1335.8 2043.6L1314.5 2034.6" stroke="#3a6fd0" stroke-width="2.4"/><path d="M1314.5 2034.6L1313.1 2017" stroke="#3a6fd0" stroke-width="2.4"/><path d="M1313.1 2017L1311.8 1999.4" stroke="#e01010" stroke-width="2.4"/><path d="M1311.8 1999.4L1306.5 1982.3" stroke="#e01010" stroke-width="2.4"/><path d="M1306.5 1982.3L1301.2 1965.3" stroke="#e2bcee" stroke-width="2.4"/><path d="M1301.2 1965.3L1320.3 1957.3" stroke="#e2bcee" stroke-width="2.4"/><path d="M1320.3 1957.3L1339.5 1949.3" stroke="#e01010" stroke-width="2.4"/><path d="M1339.5 1949.3L1339.5 1930.4" stroke="#e01010" stroke-width="2.4"/><path d="M1339.5 1930.4L1339.5 1911.4" stroke="#3a6fd0" stroke-width="2.4"/><path d="M1339.5 1911.4L1359.5 1905.6" stroke="#3a6fd0" stroke-width="2.4"/><path d="M1359.5 1905.6L1379.5 1899.7" stroke="#e01010" stroke-width="2.4"/><path d="M1379.5 1899.7L1383.8 1880.5" stroke="#e01010" stroke-width="2.4"/><path d="M1383.8 1880.5L1388 1861.3" stroke="#e2bcee" stroke-width="2.4"/><circle cx="1435.5" cy="1866.1" r="7.2" fill="url(#gO2)"/><circle cx="1506.4" cy="1895.5" r="7.2" fill="url(#gO2)"/><circle cx="1551.7" cy="1955.7" r="7.2" fill="url(#gO2)"/><circle cx="1543.7" cy="2018.6" r="7.2" fill="url(#gO2)"/><circle cx="1490.4" cy="2055.9" r="7.2" fill="url(#gO2)"/><circle cx="1428" cy="2075.6" r="7.2" fill="url(#gO2)"/><circle cx="1357.1" cy="2052.7" r="7.2" fill="url(#gO2)"/><circle cx="1311.8" cy="1999.4" r="7.2" fill="url(#gO2)"/><circle cx="1339.5" cy="1949.3" r="7.2" fill="url(#gO2)"/><circle cx="1379.5" cy="1899.7" r="7.2" fill="url(#gO2)"/><circle cx="1388" cy="1861.3" r="13.8" fill="url(#gP2)"/><circle cx="1476" cy="1858.1" r="13.8" fill="url(#gB2)"/><circle cx="1549" cy="1913" r="13.8" fill="url(#gB2)"/><circle cx="1575.7" cy="1995.7" r="13.8" fill="url(#gP2)"/><circle cx="1533" cy="2058" r="13.8" fill="url(#gB2)"/><circle cx="1466.4" cy="2089" r="13.8" fill="url(#gP2)"/><circle cx="1386.4" cy="2086.3" r="13.8" fill="url(#gB2)"/><circle cx="1314.5" cy="2034.6" r="13.8" fill="url(#gB2)"/><circle cx="1301.2" cy="1965.3" r="13.8" fill="url(#gP2)"/><circle cx="1339.5" cy="1911.4" r="13.8" fill="url(#gB2)"/><g fill="#fff" opacity=".7"><circle cx="1392.2" cy="1857.2" r="1.8"/><circle cx="1383.9" cy="1865.8" r="1.8"/><circle cx="1391.8" cy="1865.8" r="1.8"/><circle cx="1437.6" cy="1864.1" r="1.1"/><circle cx="1437.6" cy="1868.7" r="1.1"/><circle cx="1480.1" cy="1854" r="1.8"/><circle cx="1471.9" cy="1862.6" r="1.8"/><circle cx="1479.7" cy="1862.6" r="1.8"/><circle cx="1508.5" cy="1893.4" r="1.1"/><circle cx="1508.5" cy="1898.1" r="1.1"/><circle cx="1553.2" cy="1908.9" r="1.8"/><circle cx="1544.9" cy="1917.5" r="1.8"/><circle cx="1552.7" cy="1917.5" r="1.8"/><circle cx="1553.8" cy="1953.7" r="1.1"/><circle cx="1553.8" cy="1958.3" r="1.1"/><circle cx="1579.8" cy="1991.5" r="1.8"/><circle cx="1571.5" cy="2000.1" r="1.8"/><circle cx="1579.4" cy="2000.1" r="1.8"/><circle cx="1545.8" cy="2016.6" r="1.1"/><circle cx="1545.8" cy="2021.2" r="1.1"/><circle cx="1537.2" cy="2053.9" r="1.8"/><circle cx="1528.9" cy="2062.5" r="1.8"/><circle cx="1536.8" cy="2062.5" r="1.8"/><circle cx="1492.5" cy="2053.9" r="1.1"/><circle cx="1492.5" cy="2058.5" r="1.1"/><circle cx="1470.5" cy="2084.8" r="1.8"/><circle cx="1462.3" cy="2093.4" r="1.8"/><circle cx="1470.1" cy="2093.4" r="1.8"/><circle cx="1430.2" cy="2073.6" r="1.1"/><circle cx="1430.2" cy="2078.2" r="1.1"/><circle cx="1390.6" cy="2082.1" r="1.8"/><circle cx="1382.3" cy="2090.7" r="1.8"/><circle cx="1390.2" cy="2090.7" r="1.8"/><circle cx="1359.3" cy="2050.7" r="1.1"/><circle cx="1359.3" cy="2055.3" r="1.1"/><circle cx="1318.6" cy="2030.4" r="1.8"/><circle cx="1310.3" cy="2039" r="1.8"/><circle cx="1318.2" cy="2039" r="1.8"/><circle cx="1314" cy="1997.4" r="1.1"/><circle cx="1314" cy="2002" r="1.1"/><circle cx="1305.3" cy="1961.1" r="1.8"/><circle cx="1297" cy="1969.7" r="1.8"/><circle cx="1304.9" cy="1969.7" r="1.8"/><circle cx="1341.7" cy="1947.3" r="1.1"/><circle cx="1341.7" cy="1951.9" r="1.1"/><circle cx="1343.7" cy="1907.3" r="1.8"/><circle cx="1335.4" cy="1915.9" r="1.8"/><circle cx="1343.3" cy="1915.9" r="1.8"/><circle cx="1381.7" cy="1897.7" r="1.1"/><circle cx="1381.7" cy="1902.3" r="1.1"/></g>
<path d="M1706.3 1853.3L1728.4 1859.2" stroke="#e2bcee" stroke-width="2.4"/><path d="M1728.4 1859.2L1750.5 1865.1" stroke="#e01010" stroke-width="2.4"/><path d="M1750.5 1865.1L1769.7 1859.2" stroke="#e01010" stroke-width="2.4"/><path d="M1769.7 1859.2L1788.9 1853.3" stroke="#3a6fd0" stroke-width="2.4"/><path d="M1788.9 1853.3L1803 1866.7" stroke="#3a6fd0" stroke-width="2.4"/><path d="M1803 1866.7L1817.1 1880" stroke="#e01010" stroke-width="2.4"/><path d="M1817.1 1880L1833.7 1889.9" stroke="#e01010" stroke-width="2.4"/><path d="M1833.7 1889.9L1850.2 1899.7" stroke="#3a6fd0" stroke-width="2.4"/><path d="M1850.2 1899.7L1843.5 1917" stroke="#3a6fd0" stroke-width="2.4"/><path d="M1843.5 1917L1836.9 1934.4" stroke="#e01010" stroke-width="2.4"/><path d="M1836.9 1934.4L1850.2 1949" stroke="#e01010" stroke-width="2.4"/><path d="M1850.2 1949L1863.5 1963.7" stroke="#e2bcee" stroke-width="2.4"/><path d="M1863.5 1963.7L1852.9 1980.2" stroke="#e2bcee" stroke-width="2.4"/><path d="M1852.9 1980.2L1842.2 1996.7" stroke="#e01010" stroke-width="2.4"/><path d="M1842.2 1996.7L1848.9 2013" stroke="#e01010" stroke-width="2.4"/><path d="M1848.9 2013L1855.5 2029.3" stroke="#3a6fd0" stroke-width="2.4"/><path d="M1855.5 2029.3L1838.2 2039.1" stroke="#3a6fd0" stroke-width="2.4"/><path d="M1838.2 2039.1L1820.9 2049" stroke="#e01010" stroke-width="2.4"/><path d="M1820.9 2049L1807.5 2062.3" stroke="#e01010" stroke-width="2.4"/><path d="M1807.5 2062.3L1794.2 2075.6" stroke="#3a6fd0" stroke-width="2.4"/><path d="M1794.2 2075.6L1773.4 2069" stroke="#3a6fd0" stroke-width="2.4"/><path d="M1773.4 2069L1752.6 2062.3" stroke="#e01010" stroke-width="2.4"/><path d="M1752.6 2062.3L1732.1 2070.3" stroke="#e01010" stroke-width="2.4"/><path d="M1732.1 2070.3L1711.6 2078.3" stroke="#e2bcee" stroke-width="2.4"/><path d="M1711.6 2078.3L1696.1 2063.6" stroke="#e2bcee" stroke-width="2.4"/><path d="M1696.1 2063.6L1680.7 2049" stroke="#e01010" stroke-width="2.4"/><path d="M1680.7 2049L1664.2 2039.6" stroke="#e01010" stroke-width="2.4"/><path d="M1664.2 2039.6L1647.6 2030.3" stroke="#3a6fd0" stroke-width="2.4"/><path d="M1647.6 2030.3L1652.4 2013.8" stroke="#3a6fd0" stroke-width="2.4"/><path d="M1652.4 2013.8L1657.2 1997.3" stroke="#e01010" stroke-width="2.4"/><path d="M1657.2 1997.3L1647.1 1980.5" stroke="#e01010" stroke-width="2.4"/><path d="M1647.1 1980.5L1637 1963.7" stroke="#e2bcee" stroke-width="2.4"/><path d="M1637 1963.7L1648.2 1949.6" stroke="#e2bcee" stroke-width="2.4"/><path d="M1648.2 1949.6L1659.4 1935.4" stroke="#e01010" stroke-width="2.4"/><path d="M1659.4 1935.4L1653.5 1917.6" stroke="#e01010" stroke-width="2.4"/><path d="M1653.5 1917.6L1647.6 1899.7" stroke="#3a6fd0" stroke-width="2.4"/><path d="M1647.6 1899.7L1665.5 1892.5" stroke="#3a6fd0" stroke-width="2.4"/><path d="M1665.5 1892.5L1683.3 1885.3" stroke="#e01010" stroke-width="2.4"/><path d="M1683.3 1885.3L1694.8 1869.3" stroke="#e01010" stroke-width="2.4"/><path d="M1694.8 1869.3L1706.3 1853.3" stroke="#e2bcee" stroke-width="2.4"/><circle cx="1750.5" cy="1865.1" r="6.5" fill="url(#gO2)"/><circle cx="1817.1" cy="1880" r="6.5" fill="url(#gO2)"/><circle cx="1836.9" cy="1934.4" r="6.5" fill="url(#gO2)"/><circle cx="1842.2" cy="1996.7" r="6.5" fill="url(#gO2)"/><circle cx="1820.9" cy="2049" r="6.5" fill="url(#gO2)"/><circle cx="1752.6" cy="2062.3" r="6.5" fill="url(#gO2)"/><circle cx="1680.7" cy="2049" r="6.5" fill="url(#gO2)"/><circle cx="1657.2" cy="1997.3" r="6.5" fill="url(#gO2)"/><circle cx="1659.4" cy="1935.4" r="6.5" fill="url(#gO2)"/><circle cx="1683.3" cy="1885.3" r="6.5" fill="url(#gO2)"/><circle cx="1706.3" cy="1853.3" r="11.8" fill="url(#gP2)"/><circle cx="1788.9" cy="1853.3" r="11.8" fill="url(#gB2)"/><circle cx="1850.2" cy="1899.7" r="11.8" fill="url(#gB2)"/><circle cx="1863.5" cy="1963.7" r="11.8" fill="url(#gP2)"/><circle cx="1855.5" cy="2029.3" r="11.8" fill="url(#gB2)"/><circle cx="1794.2" cy="2075.6" r="11.8" fill="url(#gB2)"/><circle cx="1711.6" cy="2078.3" r="11.8" fill="url(#gP2)"/><circle cx="1647.6" cy="2030.3" r="11.8" fill="url(#gB2)"/><circle cx="1637" cy="1963.7" r="11.8" fill="url(#gP2)"/><circle cx="1647.6" cy="1899.7" r="11.8" fill="url(#gB2)"/><g fill="#fff" opacity=".7"><circle cx="1709.8" cy="1849.8" r="1.5"/><circle cx="1702.7" cy="1857.1" r="1.5"/><circle cx="1709.5" cy="1857.1" r="1.5"/><circle cx="1752.5" cy="1863.3" r="1.1"/><circle cx="1752.5" cy="1867.4" r="1.1"/><circle cx="1792.4" cy="1849.8" r="1.5"/><circle cx="1785.4" cy="1857.1" r="1.5"/><circle cx="1792.1" cy="1857.1" r="1.5"/><circle cx="1819.1" cy="1878.2" r="1.1"/><circle cx="1819.1" cy="1882.3" r="1.1"/><circle cx="1853.7" cy="1896.2" r="1.5"/><circle cx="1846.7" cy="1903.5" r="1.5"/><circle cx="1853.4" cy="1903.5" r="1.5"/><circle cx="1838.8" cy="1932.6" r="1.1"/><circle cx="1838.8" cy="1936.7" r="1.1"/><circle cx="1867.1" cy="1960.1" r="1.5"/><circle cx="1860" cy="1967.5" r="1.5"/><circle cx="1866.7" cy="1967.5" r="1.5"/><circle cx="1844.1" cy="1994.9" r="1.1"/><circle cx="1844.1" cy="1999.1" r="1.1"/><circle cx="1859.1" cy="2025.7" r="1.5"/><circle cx="1852" cy="2033" r="1.5"/><circle cx="1858.7" cy="2033" r="1.5"/><circle cx="1822.8" cy="2047.2" r="1.1"/><circle cx="1822.8" cy="2051.3" r="1.1"/><circle cx="1797.8" cy="2072.1" r="1.5"/><circle cx="1790.7" cy="2079.4" r="1.5"/><circle cx="1797.4" cy="2079.4" r="1.5"/><circle cx="1754.6" cy="2060.5" r="1.1"/><circle cx="1754.6" cy="2064.6" r="1.1"/><circle cx="1715.1" cy="2074.8" r="1.5"/><circle cx="1708.1" cy="2082.1" r="1.5"/><circle cx="1714.8" cy="2082.1" r="1.5"/><circle cx="1682.6" cy="2047.2" r="1.1"/><circle cx="1682.6" cy="2051.3" r="1.1"/><circle cx="1651.2" cy="2026.8" r="1.5"/><circle cx="1644.1" cy="2034.1" r="1.5"/><circle cx="1650.8" cy="2034.1" r="1.5"/><circle cx="1659.2" cy="1995.5" r="1.1"/><circle cx="1659.2" cy="1999.6" r="1.1"/><circle cx="1640.5" cy="1960.1" r="1.5"/><circle cx="1633.4" cy="1967.5" r="1.5"/><circle cx="1640.2" cy="1967.5" r="1.5"/><circle cx="1661.3" cy="1933.6" r="1.1"/><circle cx="1661.3" cy="1937.8" r="1.1"/><circle cx="1651.2" cy="1896.2" r="1.5"/><circle cx="1644.1" cy="1903.5" r="1.5"/><circle cx="1650.8" cy="1903.5" r="1.5"/><circle cx="1685.3" cy="1883.5" r="1.1"/><circle cx="1685.3" cy="1887.7" r="1.1"/></g>
<rect x="45.5" y="10" width="915" height="733.5" fill="none" stroke="#1a2a4a" stroke-width="3" stroke-dasharray="13 9"/>
<rect x="997.5" y="10" width="921" height="733.5" fill="none" stroke="#1a2a4a" stroke-width="3" stroke-dasharray="13 9"/>
<rect x="10.5" y="1826" width="906" height="307.5" fill="none" stroke="#000" stroke-width="3"/>
<rect x="976.5" y="1825" width="903" height="308" fill="none" stroke="#000" stroke-width="3"/>
<path d="M290 1827V2132" stroke="#000" stroke-width="3" stroke-dasharray="11 7"/>
<path d="M630 1827V2132" stroke="#000" stroke-width="3" stroke-dasharray="11 7"/>
<path d="M1278 1827V2132" stroke="#000" stroke-width="3" stroke-dasharray="11 7"/>
<path d="M1609 1827V2132" stroke="#000" stroke-width="3" stroke-dasharray="11 7"/>
<path d="M130 1757H800" stroke="#b8bcc0" stroke-width="1.6"/>
<path d="M1050 1756H1717" stroke="#b8bcc0" stroke-width="1.6"/>
<text x="53.5" y="61.5" font-size="57" fill="#000" text-anchor="start">(a)</text>
<text x="1009" y="61" font-size="57" fill="#000" text-anchor="start">(b)</text>
<text x="77" y="356" font-size="45" fill="#000" text-anchor="start">t-cub</text>
<text x="84" y="715" font-size="45" fill="#000" text-anchor="start">t-cub</text>
<text x="415" y="690.5" font-size="49" fill="#000" text-anchor="start">Zeo-2</text>
<text x="778" y="355" font-size="44.5" fill="#000" text-anchor="start">t-pol1</text>
<text x="786.5" y="715" font-size="45" fill="#000" text-anchor="start">t-pol2</text>
<text x="1181.5" y="74" font-size="49.5" fill="#000" text-anchor="start">PLD</text>
<text x="1660.5" y="75.5" font-size="49.5" fill="#000" text-anchor="start">LCD</text>
<text x="1200" y="332" font-size="41" fill="#000" text-anchor="start">4.9Å</text>
<text x="1667.5" y="322.5" font-size="40.8" fill="#000" text-anchor="start">10.8Å</text>
<text x="37.5" y="823" font-size="57" fill="#000" text-anchor="start">(c)</text>
<text x="233" y="832" font-size="49.6" fill="#000" text-anchor="start">The channel of MER</text>
<text x="1016" y="823.5" font-size="57" fill="#000" text-anchor="start">(d)</text>
<text x="1173" y="832" font-size="49.8" fill="#000" text-anchor="start">The channel of Zeo-2</text>
<text x="724" y="1018.5" font-size="49.5" fill="#000" text-anchor="start">3.12 Å</text>
<text x="725" y="1668.5" font-size="49.5" fill="#000" text-anchor="start">3.12 Å</text>
<text x="554.5" y="1727.5" font-size="49.5" fill="#000" text-anchor="start">4.2 Å</text>
<text x="1362.5" y="917" font-size="49" fill="#000" text-anchor="start">4.6 Å</text>
<text x="1847.5" y="907.5" font-size="48.5" fill="#000" text-anchor="start">Al</text>
<text x="1848" y="998" font-size="48.5" fill="#000" text-anchor="start">Si</text>
<text x="1848" y="1078.5" font-size="48.5" fill="#000" text-anchor="start">O</text>
<text x="1746" y="1404" font-size="49.5" fill="#000" text-anchor="start">4 Å</text>
<text x="1623.5" y="1732" font-size="49.5" fill="#000" text-anchor="start">4.9 Å</text>
<text x="10.5" y="1803.5" font-size="57" fill="#000" text-anchor="start">(e)</text>
<text x="1026.5" y="1811.5" font-size="57" fill="#000" text-anchor="start">(f)</text>
<text x="80" y="1965" font-size="50" fill="#000" text-anchor="start">3.12 Å</text>
<text x="342.5" y="1955" font-size="50" fill="#000" text-anchor="start">4.2 Å</text>
<text x="707" y="1973.5" font-size="50" fill="#000" text-anchor="start">3.12 Å</text>
<text x="175.5" y="2123" font-size="45.2" fill="#0a0ae6" text-anchor="start">[100]</text>
<text x="518.5" y="2123" font-size="45.2" fill="#0a0ae6" text-anchor="start">[001]</text>
<text x="806.5" y="2123" font-size="45.2" fill="#0a0ae6" text-anchor="start">[010]</text>
<text x="1172.5" y="2123.5" font-size="45" fill="#0a0ae6" text-anchor="start">[010]</text>
<text x="1500.5" y="2123.5" font-size="45" fill="#0a0ae6" text-anchor="start">[100]</text>
<text x="1767" y="2123.5" font-size="45" fill="#0a0ae6" text-anchor="start">[001]</text>
<text x="1060.5" y="1951.5" font-size="50.5" fill="#000" text-anchor="start">4.6 Å</text>
<text x="1320" y="2010.5" font-size="49.5" fill="#000" text-anchor="start">4.9 Å</text>
<text x="1722" y="1950" font-size="49.5" fill="#000" text-anchor="start">4 Å</text>
<circle cx="1817" cy="890.5" r="20.5" fill="url(#gP2)"/><circle cx="1817" cy="979" r="21" fill="url(#gB2)"/><circle cx="1818" cy="1063" r="20.5" fill="url(#gO2)"/>
<g fill="#fff" opacity=".85"><circle cx="1823" cy="884" r="2.6"/><circle cx="1810.5" cy="897" r="2.6"/><circle cx="1822" cy="897" r="2.6"/><circle cx="1824" cy="972.5" r="2.4"/><circle cx="1811" cy="985.5" r="2.4"/><circle cx="1824" cy="985.5" r="2.4"/></g><g fill="#ff9a90" opacity=".8"><circle cx="1824" cy="1056.5" r="2.4"/><circle cx="1824" cy="1070" r="2.4"/></g>
<path d="M1225.3 345.5L1262.2 345.5" stroke="#000" stroke-width="2.2" fill="none"/><path d="M1276 345.5L1253 354L1259.9 345.5L1253 337Z" fill="#000"/><path d="M1211.5 345.5L1234.5 337L1227.6 345.5L1234.5 354Z" fill="#000"/>
<path d="M1662.2 283L1782.6 283" stroke="#000" stroke-width="2.2" fill="none"/><path d="M1797 283L1773 291L1780.2 283L1773 275Z" fill="#000"/><path d="M1647.8 283L1671.8 275L1664.6 283L1671.8 291Z" fill="#000"/>
<path d="M850 1022L850 1126.1" stroke="#000" stroke-width="4" fill="none"/><path d="M850 1140.5L841.8 1116.5L850 1123.7L858.2 1116.5Z" fill="#000"/>
<path d="M797 1625L645.6 1368.9" stroke="#000" stroke-width="4" fill="none"/><path d="M638 1356L658 1373.2L646.9 1371.1L643.4 1381.8Z" fill="#000"/>
<path d="M549 1715L514 1715" stroke="#000" stroke-width="3.4" fill="none"/><path d="M502 1715L522 1707.5L516 1715L522 1722.5Z" fill="#000"/>
<path d="M1400 922L1305.1 1125.9" stroke="#000" stroke-width="4" fill="none"/><path d="M1298.5 1140L1301.3 1112.6L1306.2 1123.5L1317.6 1120.2Z" fill="#000"/>
<path d="M1781 1362L1781 1224.4" stroke="#000" stroke-width="4" fill="none"/><path d="M1781 1210L1789.5 1234L1781 1226.8L1772.5 1234Z" fill="#000"/>
<path d="M1613 1716L1585 1716" stroke="#000" stroke-width="3.4" fill="none"/><path d="M1573 1716L1593 1708.5L1587 1716L1593 1723.5Z" fill="#000"/>
<path d="M82 1477L82 1810.6" stroke="#0a0ae6" stroke-width="4.4" fill="none" stroke-dasharray="19 11"/><path d="M82 1825L73 1801L82 1808.2L91 1801Z" fill="#0a0ae6"/>
<path d="M474 1756L474 1810.6" stroke="#0a0ae6" stroke-width="4.4" fill="none" stroke-dasharray="19 11"/><path d="M474 1825L465 1801L474 1808.2L483 1801Z" fill="#0a0ae6"/>
<path d="M806 1674L806 1810.6" stroke="#0a0ae6" stroke-width="4.4" fill="none" stroke-dasharray="19 11"/><path d="M806 1825L797 1801L806 1808.2L815 1801Z" fill="#0a0ae6"/>
<path d="M1272 1481L1090 1810.4" stroke="#0a0ae6" stroke-width="4.4" fill="none" stroke-dasharray="19 11"/><path d="M1083 1823L1086.7 1797.6L1091.1 1808.3L1102.5 1806.3Z" fill="#0a0ae6"/>
<path d="M1535.5 1759L1535.5 1810.6" stroke="#0a0ae6" stroke-width="4.4" fill="none" stroke-dasharray="19 11"/><path d="M1535.5 1825L1526.5 1801L1535.5 1808.2L1544.5 1801Z" fill="#0a0ae6"/>
<path d="M1781 1484L1781 1810.6" stroke="#0a0ae6" stroke-width="4.4" fill="none" stroke-dasharray="19 11"/><path d="M1781 1825L1772 1801L1781 1808.2L1790 1801Z" fill="#0a0ae6"/>
<path d="M149.8 1893.4L144 2030" stroke="#000" stroke-width="2.4" fill="none" stroke-dasharray="13 6"/><path d="M143.5 2043.2L136.9 2020.9L144.1 2027.8L151.9 2021.6Z" fill="#000"/><path d="M150.3 1880.3L156.9 1902.5L149.7 1895.6L141.9 1901.9Z" fill="#000"/>
<path d="M522.2 1913L379.7 2021" stroke="#000" stroke-width="2.4" fill="none" stroke-dasharray="13 6"/><path d="M369.2 2029L382.2 2009.7L381.5 2019.7L391.3 2021.7Z" fill="#000"/><path d="M532.7 1905L519.7 1924.3L520.4 1914.3L510.6 1912.4Z" fill="#000"/>
<path d="M777.3 1891.9L770.7 2027.4" stroke="#000" stroke-width="2.4" fill="none" stroke-dasharray="13 6"/><path d="M770 2040.6L763.6 2018.3L770.8 2025.2L778.6 2019Z" fill="#000"/><path d="M778 1878.7L784.4 1901L777.2 1894.1L769.4 1900.3Z" fill="#000"/>
<path d="M1219.9 1947.9L1086.6 2008.8" stroke="#000" stroke-width="2.4" fill="none" stroke-dasharray="13 6"/><path d="M1074.6 2014.3L1091.5 1998.4L1088.6 2007.9L1097.7 2012Z" fill="#000"/><path d="M1231.9 1942.4L1215 1958.3L1217.9 1948.8L1208.7 1944.7Z" fill="#000"/>
<path d="M1394.1 1918.5L1477.4 2035.6" stroke="#000" stroke-width="2.4" fill="none" stroke-dasharray="13 6"/><path d="M1485.1 2046.3L1466.2 2032.7L1476.1 2033.8L1478.4 2024Z" fill="#000"/><path d="M1386.4 1907.7L1405.3 1921.3L1395.4 1920.3L1393.1 1930Z" fill="#000"/>
<path d="M1678.8 1941.2L1824.3 1988.9" stroke="#000" stroke-width="2.4" fill="none" stroke-dasharray="13 6"/><path d="M1836.9 1993L1813.6 1993.3L1822.2 1988.2L1818.3 1979Z" fill="#000"/><path d="M1666.3 1937L1689.5 1936.8L1680.9 1941.8L1684.9 1951Z" fill="#000"/></svg></body></html>
